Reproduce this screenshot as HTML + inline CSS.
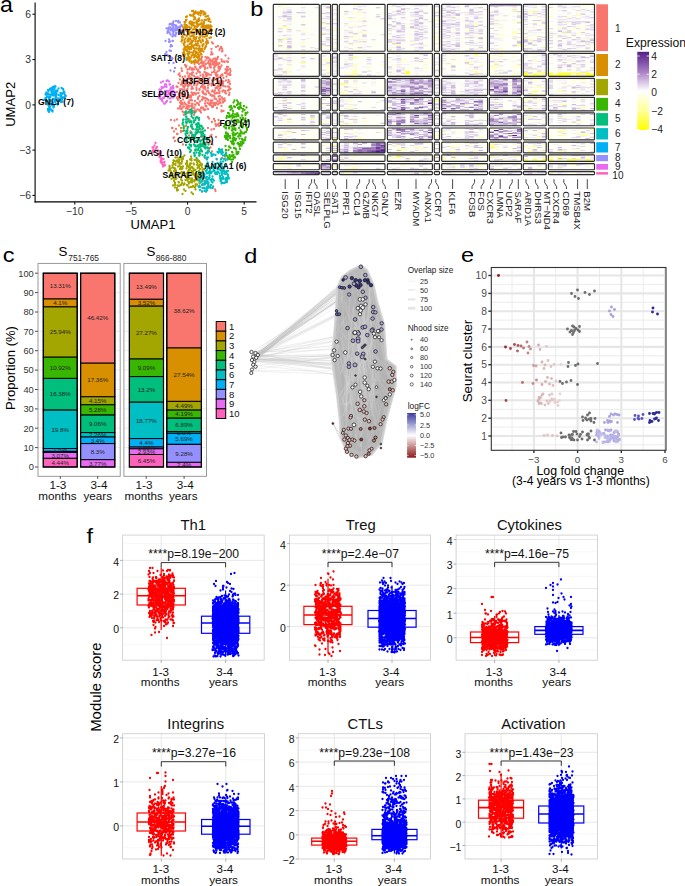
<!DOCTYPE html>
<html><head><meta charset="utf-8"><title>Figure</title>
<style>html,body{margin:0;padding:0;background:#fff;}body{width:685px;height:886px;overflow:hidden;font-family:"Liberation Sans",sans-serif;}svg{display:block;}</style>
</head><body>
<svg width="685" height="886" viewBox="0 0 685 886" font-family='"Liberation Sans", sans-serif'><text transform="translate(0 11.6) scale(1.03 1)" font-size="22.5">a</text>
<line x1="35.1" y1="2.5" x2="35.1" y2="202.4" stroke="#000" stroke-width="1.1"/>
<line x1="34.6" y1="201.9" x2="256.5" y2="201.9" stroke="#000" stroke-width="1.1"/>
<line x1="32.4" y1="14.2" x2="35" y2="14.2" stroke="#000" stroke-width="1"/>
<text x="31" y="17.8" font-size="10.3" text-anchor="end" fill="#333">6</text>
<line x1="32.4" y1="59.6" x2="35" y2="59.6" stroke="#000" stroke-width="1"/>
<text x="31" y="63.2" font-size="10.3" text-anchor="end" fill="#333">3</text>
<line x1="32.4" y1="104.9" x2="35" y2="104.9" stroke="#000" stroke-width="1"/>
<text x="31" y="108.5" font-size="10.3" text-anchor="end" fill="#333">0</text>
<line x1="32.4" y1="150.1" x2="35" y2="150.1" stroke="#000" stroke-width="1"/>
<text x="31" y="153.7" font-size="10.3" text-anchor="end" fill="#333">−3</text>
<line x1="32.4" y1="195.4" x2="35" y2="195.4" stroke="#000" stroke-width="1"/>
<text x="31" y="199" font-size="10.3" text-anchor="end" fill="#333">−6</text>
<line x1="74.8" y1="202" x2="74.8" y2="204.6" stroke="#000" stroke-width="1"/>
<text x="74.8" y="215" font-size="10.3" text-anchor="middle" fill="#333">−10</text>
<line x1="131.1" y1="202" x2="131.1" y2="204.6" stroke="#000" stroke-width="1"/>
<text x="131.1" y="215" font-size="10.3" text-anchor="middle" fill="#333">−5</text>
<line x1="187.6" y1="202" x2="187.6" y2="204.6" stroke="#000" stroke-width="1"/>
<text x="187.6" y="215" font-size="10.3" text-anchor="middle" fill="#333">0</text>
<line x1="244.2" y1="202" x2="244.2" y2="204.6" stroke="#000" stroke-width="1"/>
<text x="244.2" y="215" font-size="10.3" text-anchor="middle" fill="#333">5</text>
<text x="153" y="228.6" font-size="13.0" text-anchor="middle">UMAP1</text>
<text x="15.1" y="104.3" font-size="13.1" text-anchor="middle" transform="rotate(-90 15.1 104.3)">UMAP2</text>
<path d="M207.5 41h0m5.5 2.5h0m-1-1h0m-6.5 4.5h0m.5-.5h0m10 .5h0m2-1h0m3 1h0m1.5 3.5h0m-.5-2h0m-2 0h0m-.5 1.5h0m-8-1h0m0 3h0m10.5-.5h0m3.5 4h0m-13-1.5h0m-1.5 .5h0m-10 4.5h0m.5 0h0m.5-2h0m3.5 0h0m1.5 1.5h0m.5-1h0m1 .5h0m1.5 1.5h0m3.5-.5h0m1.5-.5h0m.5 .5h0m1.5-.5h0m.5 .5h0m.5-2h0m3.5 2.5h0m7-1h0m-.5 3.5h0m-1-.5h0m-2.5 .5h0m0-.5h0m-1.5 0h0m-1 0h0m-5.5 .5h0m-.5-1.5h0m-.5 2h0m-1-1h0m-1 1h0m-.5 0h0m0-.5h0m-1-1.5h0m-1 1h0m-.5-1h0m-2 .5h0m-3-.5h0m-1.5 2h0m-1.5-.5h0m-1-.5h0m0-1h0m-4.5 2h0m-12 2.5h0m9.5-1h0m3.5-1h0m1 1h0m2-1h0m1 0h0m.5 2.5h0m1-1.5h0m0 1.5h0m1 0h0m1.5-1.5h0m2-1h0m1 .5h0m.5 1.5h0m.5-1.5h0m.5 1h0m2-.5h0m1.5 1.5h0m.5-1.5h0m.5 0h0m1 .5h0m.5-1.5h0m0 2h0m1-1.5h0m1 1h0m1-1.5h0m2 2.5h0m6.5 1.5h0m-1 0h0m-6.5 0h0m-1 1.5h0m-.5-1.5h0m-.5 1h0m0-1h0m-3.5-.5h0m-1 1.5h0m-3-.5h0m-.5 0h0m0-1.5h0m-.5 .5h0m0-.5h0m-2.5 2h0m-2.5 0h0m0-.5h0m-.5-1h0m-.5 0h0m-3 .5h0m0-.5h0m-1 1.5h0m0-1h0m-4.5 0h0m-.5 0h0m-3 1.5h0m-2-1h0m-3.5-1.5h0m-.5 1h0m-4.5 1.5h0m.5 2.5h0m5.5-1.5h0m2-.5h0m2.5 1h0m1-1h0m1 .5h0m2.5-.5h0m1.5 1h0m0 1h0m0 .5h0m7-2.5h0m9.5 1h0m0 .5h0m3 1h0m1.5-1h0m1-1.5h0m5.5 .5h0m1 1.5h0m.5-2h0m0 2h0m0 .5h0m1-1.5h0m2-1h0m.5 2h0m-.5 2h0m-1 1.5h0m-1.5-.5h0m-1-2h0m-.5 1h0m-1 0h0m-2.5 1.5h0m-6.5-1.5h0m-.5 1.5h0m-1.5-2.5h0m-2 .5h0m-3 2h0m-1.5-1h0m-1.5-.5h0m-1.5-1h0m-1.5 2.5h0m-3-2h0m-.5-.5h0m-3 1.5h0m-3.5-1h0m-1 .5h0m-2 1h0m-2.5-.5h0m0-1h0m-8 1h0m-1 1h0m1.5 1.5h0m2.5 1h0m2.5-.5h0m3.5-.5h0m0 1.5h0m.5 0h0m.5-1h0m2.5-1.5h0m2 1h0m1.5 1.5h0m2-.5h0m3-1.5h0m2.5 1.5h0m.5-1h0m2.5-1h0m.5 1.5h0m1-1.5h0m3.5 0h0m5.5 0h0m0 1.5h0m1-1.5h0m2 2h0m1.5-1h0m.5-1h0m1 .5h0m4 1h0m3-1.5h0m1 0h0m-2 5h0m-2.5 .5h0m-2.5-2.5h0m-5.5 0h0m-.5 2.5h0m0-.5h0m-2.5-.5h0m-1.5 1h0m0-2.5h0m-1.5 2.5h0m-2.5-2.5h0m-1 2.5h0m-4-2.5h0m-3 1.5h0m-1.5-.5h0m-1 1.5h0m0-2.5h0m-1.5 0h0m-6 0h0m-.5 1h0m-1-1h0m-1.5 .5h0m-2.5 1.5h0m-.5 0h0m-1 .5h0m-4.5-1h0m-1.5 3.5h0m3.5-1h0m0 1.5h0m.5-2.5h0m.5 0h0m2.5 .5h0m.5 .5h0m.5 0h0m2.5 .5h0m1.5 0h0m1-.5h0m0 .5h0m3-1h0m0 1.5h0m0 .5h0m2.5-2.5h0m.5 1.5h0m.5-1h0m0 1h0m0 1h0m2-2.5h0m3 0h0m2 0h0m1 0h0m.5 1h0m5 1.5h0m6.5-1h0m.5-1h0m1.5 1.5h0m.5-2h0m.5 .5h0m.5-.5h0m1.5 2h0m.5-1.5h0m4.5 1h0m1.5-1h0m.5 2.5h0m-2 2.5h0m-2.5 0h0m-2-.5h0m-.5-2h0m-1 1.5h0m-1-.5h0m-.5-1h0m-.5 2.5h0m-1.5-1.5h0m-.5 1.5h0m-3-1.5h0m-1.5 0h0m-2 .5h0m-2.5-1.5h0m-1 1.5h0m-4-1h0m-1 .5h0m-.5 1.5h0m0-1.5h0m-.5 .5h0m-4.5-1.5h0m-1 1.5h0m-2.5-.5h0m-3-.5h0m-1 0h0m-.5 .5h0m-1.5 1.5h0m-.5-1h0m0-.5h0m-.5-.5h0m-2 1.5h0m0-2h0m-2 2h0m-.5-2h0m-1.5 .5h0m-4.5 2h0m1 .5h0m2.5 2.5h0m1.5-.5h0m2.5-1.5h0m3.5 1.5h0m4 0h0m.5-2h0m1 1.5h0m3.5-.5h0m3 1h0m1.5-2h0m2.5 .5h0m0 1h0m1.5-1.5h0m0 .5h0m.5 2h0m2.5-1.5h0m7.5 0h0m1.5-1h0m0 1h0m2.5 .5h0m1-.5h0m8.5-1h0m.5 1.5h0m0 .5h0m.5-.5h0m.5 .5h0m-1.5 1h0m-1 .5h0m-2.5 .5h0m-.5 1.5h0m-1.5-2h0m-1 1h0m0-.5h0m-3 .5h0m-1-1.5h0m-3.5 .5h0m-1 1.5h0m-1.5-1.5h0m-.5 1h0m-4-.5h0m-.5 0h0m-.5 .5h0m-4 .5h0m0-.5h0m-.5 1h0m0-1h0m-3-1.5h0m-3 0h0m-5 2.5h0m-4.5-1.5h0m-.5-.5h0m-2-.5h0m-.5 0h0m-.5 1h0m-.5-.5h0m-6 1.5h0m2 2.5h0m.5-1h0m0 2h0m1-2.5h0m1.5 1h0m.5 .5h0m.5 0h0m.5 1h0m4.5-2.5h0m0 2h0m2 .5h0m1 0h0m1-2.5h0m1 2h0m1-2h0m1 .5h0m.5 1h0m1-1h0m2-.5h0m5 .5h0m1 .5h0m1 0h0m.5 .5h0m3-1.5h0m1.5 1.5h0m0 .5h0m1.5 .5h0m1.5 0h0m1.5-2h0m1 0h0m1-.5h0m2 0h0m.5 0h0m6.5 .5h0m3 1.5h0m.5-2h0m-5 5.5h0m-2.5-1h0m-2-1.5h0m-1.5 .5h0m-4 2h0m0-2h0m-2.5-.5h0m-6.5 2h0m-1 .5h0m-1-.5h0m-.5-.5h0m-.5-.5h0m-3-1h0m-1.5 1.5h0m-7 0h0m0-.5h0m-2 .5h0m-.5-1.5h0m-.5 1h0m-1.5 1h0m-1.5-1.5h0m-1.5 0h0m-.5-.5h0m-.5 .5h0m-3.5 .5h0m-1.5 0h0m-.5 1h0m1 2h0m.5-.5h0m2.5 1.5h0m2-1.5h0m6.5 1h0m1.5-.5h0m1 .5h0m3 .5h0m3-2h0m2 2.5h0m2-1.5h0m.5-.5h0m3 1.5h0m1.5-2h0m1.5 1h0m0 .5h0m2.5 0h0m1.5 0h0m3.5-1.5h0m1.5 2h0m2-2h0m0 2.5h0m1-2h0m2 2h0m.5-2.5h0m1.5 2h0m.5-.5h0m-2 2h0m0-.5h0m-2.5 1h0m-1.5 .5h0m-1 1h0m-1.5-1.5h0m-1 0h0m-1.5 .5h0m-.5-.5h0m-2 0h0m-.5 0h0m-.5-.5h0m-.5 1h0m-1 .5h0m-1.5-1h0m-2.5 .5h0m-6.5 0h0m-1.5-.5h0m-2 1.5h0m-2.5-.5h0m-.5 0h0m-2.5-1h0m-1 0h0m0-1h0m-2.5 2.5h0m-1.5-1h0m0-1h0m-2 2h0m-.5-1.5h0m-1 1h0m-1-1.5h0m0 4h0m.5-.5h0m2 1.5h0m1.5-1h0m2.5 1h0m.5-1h0m1-1h0m.5 2h0m1.5-1.5h0m2-.5h0m0 1h0m.5-1h0m2 2h0m1-2.5h0m3.5 0h0m3 2.5h0m3.5-1.5h0m.5 0h0m.5 .5h0m3.5-1.5h0m1.5 .5h0m.5 .5h0m0 1h0m.5-.5h0m.5 .5h0m1-2h0m1.5 0h0m6 1h0m0 4.5h0m-4.5-2.5h0m-9 1h0m-2.5 .5h0m-1 .5h0m-1-.5h0m-.5-1.5h0m-2 0h0m-.5 2.5h0m-1 0h0m-.5-.5h0m-1.5-.5h0m-2 1h0m-.5 0h0m-1-2.5h0m-2 0h0m-2 2h0m-.5 0h0m-2-1h0m-1.5-.5h0m-4.5 .5h0m0-.5h0m-1 0h0m-.5 0h0m-2 0h0m4.5 3h0m1.5 1h0m2.5 .5h0m2-.5h0m1.5 0h0m.5-.5h0m3-1h0m1 .5h0m0 1.5h0m1.5-1.5h0m4-.5h0m1 1.5h0m20.5-1h0m2-.5h0m-29.5 4h0m-10 0h0m-7 4.5h0m12.5 0h0m18.5-2.5h0m1 1.5h0m5 .5h0m4.5 1h0m-3.5 1h0m-3 1h0m-23-2h0m-14.5 .5h0m-3.5-.5h0m8 5.5h0m36.5-1.5h0m1.5 1h0m1-.5h0m1-1h0m0 2.5h0m-3 0h0m-8 2h0m-16 .5h0m-8-1.5h0m-11.5 1h0m-.5 0h0m2 3.5h0m2-2.5h0m5 2h0m9.5 .5h0m10 0h0m1.5-2h0m9.5 0h0m2.5-.5h0m-12 4.5h0m-10.5 0h0m-10.5-1.5h0m-3.5 2h0m-.5 0h0m-3 3.5h0m15-2h0m13.5 2h0m7.5-1h0m1.5-1.5h0m4.5 2h0m-25 3h0m-17.5-2h0m1.5 3h0m33.5 2.5h0m2-2h0m2 3h0m-29.5 0h0m26 4h0m1.5-1h0m11.5 5h0m-10-1h0m-3.5-.5h0m-.5 0h0m-3 7h0m17 0h0m3 .5h0m-8 1h0m-18.5 20h0m8 0h0m-1.5 1.5h0m-1.5 4h0m.5-.5h0m4.5 1h0m4.5 2h0m-11 4h0m4 0h0m9-2h0m.5 1.5h0" stroke="#F8766D" stroke-width="2.3" stroke-linecap="round" fill="none"/>
<path d="M192 11h0m1 0h0m2.5 .5h0m5.5-.5h0m.5 .5h0m1.5 0h0m2.5 2h0m-.5 .5h0m-.5-1.5h0m-.5 1.5h0m-.5 .5h0m0-.5h0m-2-2h0m-.5 1.5h0m-1.5-1h0m-1 2h0m-.5-2h0m-.5 1h0m-.5-.5h0m-.5 0h0m-2 1h0m0-1.5h0m-.5 1.5h0m0-1h0m-.5 1.5h0m-7.5 2.5h0m1-.5h0m3-1.5h0m.5 .5h0m1 0h0m2 1h0m1.5 1h0m5.5-2h0m5 1h0m1 0h0m1.5-.5h0m1.5 3.5h0m-.5-1h0m-1 .5h0m-2 1h0m-1.5 0h0m-2.5 .5h0m-2.5 0h0m-.5-2h0m-.5 .5h0m-1.5 1.5h0m-2-1.5h0m-1 .5h0m-7.5 .5h0m-.5 0h0m-1.5 2h0m.5 .5h0m.5-.5h0m4 .5h0m0 1h0m.5-1.5h0m.5-.5h0m1.5 .5h0m1.5 1h0m2-.5h0m1.5-1h0m.5 .5h0m1-1h0m3 2h0m0 .5h0m2.5-1.5h0m0 1.5h0m4.5-2.5h0m2 1h0m1 4.5h0m-1 0h0m0-1h0m-1.5 1h0m-.5-1h0m-.5 1h0m-1-1h0m-2 1h0m0-.5h0m-1.5-.5h0m-.5 .5h0m-.5-.5h0m0-1.5h0m-.5 2.5h0m-2-2h0m-.5 0h0m-1.5 1.5h0m0-1.5h0m-1-.5h0m-.5 2.5h0m-1.5 0h0m-.5-.5h0m-1-1.5h0m-1 1h0m-1 0h0m0-1.5h0m-.5 0h0m-4 2h0m0-.5h0m-1 .5h0m0-1h0m-.5 1.5h0m-1-2h0m-2 2h0m1 1.5h0m.5 0h0m.5-.5h0m.5-.5h0m.5 1h0m1.5 0h0m2-1h0m1 1h0m0 .5h0m1-.5h0m2 1.5h0m1.5-2h0m0 1.5h0m.5 0h0m1.5 .5h0m.5-2.5h0m3 2.5h0m1.5-2.5h0m1.5 1h0m1-1h0m0 1h0m.5 0h0m0 .5h0m1-1h0m.5-.5h0m1 1h0m1-.5h0m.5 .5h0m1 0h0m.5 .5h0m1 .5h0m1 1.5h0m0-.5h0m-.5 .5h0m-.5-.5h0m-1 .5h0m-1.5 .5h0m-1 1h0m-2 .5h0m0-2.5h0m-2 .5h0m-2.5 2h0m-1-1.5h0m-1.5-.5h0m-1 1.5h0m0-1.5h0m-1.5 0h0m-2 2h0m-2.5-1h0m-.5 .5h0m-1.5 .5h0m-.5-2h0m-1.5 1h0m-.5-1.5h0m-1 .5h0m-3.5 1.5h0m-.5-1h0m3 4h0m3-1.5h0m1 0h0m0 1h0m1-1.5h0m2 .5h0m.5-.5h0m1.5 1h0m4.5-.5h0m1.5 1.5h0m.5 .5h0m2.5-1h0m1.5-1.5h0m.5 0h0m0 .5h0m2 0h0m0 2h0m1.5-2h0m2.5 4h0m-1.5 .5h0m-2.5-2h0m-1.5 0h0m-1 1h0m-2-.5h0m-2.5 1h0m-1 .5h0m-2.5-1h0m-1 1h0m-1.5-1.5h0m-.5 2h0m-.5-2.5h0m-1 0h0m-1.5 .5h0m-2 2h0m-1.5-2.5h0m-1.5 2.5h0m-2.5-1h0m-.5-1.5h0m-.5 1.5h0m0-.5h0m-.5 4.5h0m.5-1.5h0m0 .5h0m2.5-.5h0m0 1h0m3 0h0m0 .5h0m.5-2h0m.5 1.5h0m1-1.5h0m.5-.5h0m.5 .5h0m1.5 1.5h0m1 0h0m2-1.5h0m.5 2h0m.5-2.5h0m1.5 2.5h0m1-.5h0m1-1.5h0m0 .5h0m1 1h0m2-1.5h0m.5 1.5h0m3.5-2h0m0 2.5h0m1.5 1.5h0m-.5-1h0m-1 2h0m-.5-1.5h0m-2.5 2h0m0-.5h0m-2.5-1.5h0m-3 1h0m-.5 1h0m-1.5 0h0m0-.5h0m-4-1.5h0m-.5 1.5h0m0-1h0m-.5 .5h0m-.5-1h0m-1 1.5h0m-4.5-1.5h0m-1.5 1h0m.5 1.5h0m1 1.5h0m.5 .5h0m1.5 0h0m.5-1.5h0m0 2h0m1.5-.5h0m1.5 0h0m1-.5h0m.5-1h0m1 1h0m.5-.5h0m1-1h0m1.5 0h0m.5 .5h0m1 0h0m2 .5h0m0 1.5h0m3-2.5h0m0 1.5h0m3.5-.5h0m-1 2h0m-.5 1h0m-2.5 1.5h0m0-1.5h0m-1.5 1h0m0-.5h0m0-.5h0m-1.5-.5h0m-.5 1.5h0m0-1h0m-2-.5h0m-.5 0h0m-1.5 0h0m-.5 0h0m-2.5-.5h0m-.5 1h0m-1.5 .5h0m-.5-.5h0m-1-.5h0m-1 2h0m-.5-.5h0m-1 0h0m0-1.5h0m0-.5h0m-1 0h0m-.5 1.5h0m-.5 0h0m-.5 3.5h0m1-1h0m0 .5h0m3-1.5h0m.5 2.5h0m1-1h0m.5-.5h0m2 .5h0m2 .5h0m.5-1.5h0m1-.5h0m.5 .5h0m1 1.5h0m.5-1h0m1 1h0m2-1h0m1-1h0m.5 .5h0m2.5 0h0m-2 3h0m-1-.5h0m-1 2h0m-1-1h0m-.5-.5h0m-2 1h0m-1-1h0m-.5 2h0m-1.5-1.5h0m-1.5 .5h0m-2.5-1.5h0m-1 1h0m-3-.5h0m-.5 1.5h0m-1-.5h0m0-1.5h0m3 4h0m1.5-.5h0m0 2h0m.5-2.5h0m.5 0h0m1 2h0m.5-.5h0m1-1.5h0m2.5 .5h0m2.5-.5h0m1 0h0m.5 .5h0m0 1h0m1.5 0h0m0 1.5h0m-1 1h0m-1 .5h0m-2-.5h0m0-.5h0m0-.5h0m-.5 2.5h0m-1-.5h0m0-1h0m-1 1h0m-.5 0h0m-1-.5h0m-2 0h0m0-.5h0m0-1h0m-3 0h0m5 3h0m-134.5 28h0m124 37h0m3 0h0m2-2h0m-3 5h0" stroke="#D89000" stroke-width="2.3" stroke-linecap="round" fill="none"/>
<path d="M173 23h0m.5-1.5h0m2.5-.5h0m2 .5h0m.5-.5h0m0 1.5h0m1.5 0h0m1.5 3.5h0m0-1h0m-1.5 1.5h0m-4 0h0m0-.5h0m0-.5h0m-1 0h0m-.5-.5h0m-1.5-.5h0m-1 .5h0m-1-1h0m-1 0h0m-.5 .5h0m-3 4h0m2-.5h0m0 1h0m.5-1.5h0m1 0h0m.5 0h0m1 1.5h0m.5 .5h0m.5-.5h0m.5-2h0m.5 1h0m1 1.5h0m1.5-2.5h0m0 1h0m0 1h0m1 0h0m.5-2h0m1.5 .5h0m.5 1h0m.5-.5h0m.5 2h0m-1.5 2h0m-2-2h0m-1.5 .5h0m-2 1.5h0m0-.5h0m-1-.5h0m-2-1h0m-1 2.5h0m-1-1h0m-.5-.5h0m-.5 1h0m0 1h0m3 1.5h0m2.5-1h0m.5 1.5h0m1 .5h0m1.5-2.5h0m0 1h0m.5-1h0m2.5 1h0m2-1h0m-5.5 3h0m-3 .5h0m0-.5h0m-7 5h0m3.5-1.5h0m1 2h0m2.5-.5h0m.5 0h0m-4 1h0m1.5 4.5h0m.5-1.5h0m1 1h0m-2.5 4.5h0m-3 1.5h0m4.5-1h0m-3.5 4h0m-.5 .5h0m-1.5-1.5h0m-.5 .5h0m5.5 2.5h0m1.5 1h0m0 1.5h0m.5-1h0m1 4.5h0m-4.5 0h0m6 5h0m-1 3.5h0m-3.5-1h0m-104.5 25.5h0" stroke="#9590FF" stroke-width="2.3" stroke-linecap="round" fill="none"/>
<path d="M167.5 80.5h0m1.5 1h0m-2.5-.5h0m-3.5 .5h0m-2 1h0m3.5 4h0m.5-2h0m1 0h0m.5 2h0m3-2h0m.5 0h0m3 1.5h0m.5 2h0m-.5 .5h0m0-.5h0m-1 0h0m-1-.5h0m-.5 1h0m-4-1.5h0m-3 .5h0m-1.5 .5h0m0-.5h0m-.5-.5h0m-2 2.5h0m1 2h0m.5-1.5h0m0 .5h0m0 1.5h0m4-1h0m1.5 0h0m0 1.5h0m.5-.5h0m.5-.5h0m1-.5h0m2-1h0m.5 2h0m.5 .5h0m1-1.5h0m0 .5h0m1-.5h0m2 1.5h0m-.5 3h0m0-2h0m-.5 1h0m-.5 .5h0m-2-.5h0m-.5-1h0m-2.5 1h0m0-1.5h0m-2 2h0m-2-.5h0m-4 0h0m-.5-.5h0m-.5 1.5h0m-1 0h0m0-.5h0m0 2h0m0 .5h0m.5-1.5h0m.5 2h0m.5-2h0m2.5 2h0m1-.5h0m0 .5h0m4-.5h0m2 1h0m2-1h0m1.5 0h0m-6.5 3.5h0m-4.5 .5h0m-.5-1h0m0-1.5h0m-1.5 0h0m3.5 4.5h0m1 0h0m1-1.5h0m4.5 0h0" stroke="#E76BF3" stroke-width="2.3" stroke-linecap="round" fill="none"/>
<path d="M54.5 86.5h0m.5 0h0m.5 0h0m7.5 2.5h0m-1.5-1h0m-3 .5h0m-4 .5h0m0-1h0m-1.5 1.5h0m0-2.5h0m-1 2h0m0-1h0m-1.5 .5h0m-.5 1h0m0-.5h0m-3.5 3.5h0m1.5-2.5h0m.5 1h0m3 0h0m0 1h0m2-.5h0m2-.5h0m1 .5h0m.5-1h0m.5 .5h0m6-.5h0m1 2h0m.5 2.5h0m-1-2h0m-.5 0h0m-.5 .5h0m-1 0h0m-.5 1.5h0m-1-1.5h0m0-.5h0m-2 2h0m-2-1.5h0m-.5 1.5h0m0-.5h0m-.5-.5h0m-.5-1h0m-.5 2.5h0m0-2.5h0m-1 2h0m0-2h0m-.5 2.5h0m0-1.5h0m-1 0h0m-1 1h0m-1-.5h0m-1 0h0m-1-1h0m-.5 .5h0m-1 .5h0m-.5-1h0m-.5 1h0m0 3.5h0m.5 0h0m1-1.5h0m1.5 .5h0m0 .5h0m1-.5h0m1 0h0m5.5-.5h0m0 1h0m2 1h0m2.5-2.5h0m0 1.5h0m0 .5h0m1 .5h0m.5-1h0m.5 0h0m.5 0h0m1 0h0m0 .5h0m1-1h0m-2.5 4.5h0m-.5-2h0m-.5 1.5h0m-.5 0h0m-.5-1.5h0m-1 1.5h0m0-1.5h0m-.5 1h0m-2.5-.5h0m-1-.5h0m-.5 0h0m-.5 2h0m0-2h0m-1-.5h0m-.5 0h0m-2.5 2h0m-1-2h0m-.5 2.5h0m0-2h0m-2 2h0m-1.5-1h0m-.5-1h0m-.5 0h0m3 4.5h0m1.5-.5h0m1 1h0m1-.5h0m.5 .5h0m1 0h0m.5-1.5h0m2.5-1h0m.5 2h0m1.5 .5h0m.5-.5h0m3-2h0m.5 0h0m-7.5 4.5h0m0-.5h0m-.5 1.5h0m-1-2h0m-2.5 1.5h0m-.5 0h0m0-2h0m-.5 .5h0m0-.5h0m-.5 .5h0m-.5 3.5h0m0 .5h0m0 .5h0m.5-.5h0m.5-1h0m0 1.5h0m.5-2h0m0 1h0m1 .5h0m.5 0h0m.5 1h0m1 0h0m0 1h0m-3.5 .5h0m0-1h0m-.5 .5h0" stroke="#00B0F6" stroke-width="2.3" stroke-linecap="round" fill="none"/>
<path d="M190.5 110h0m0 .5h0m1-1h0m3 3h0m-2.5 .5h0m0-2h0m-1 1.5h0m-2.5-.5h0m-2 1.5h0m-.5-2h0m-.5 1h0m0-.5h0m0 2h0m.5 2.5h0m5.5-2h0m0 2h0m7.5 1.5h0m-1 0h0m-1-.5h0m-.5-.5h0m-1 1h0m-2.5 0h0m-5 1h0m-1.5-2h0m-.5 2.5h0m-2.5 0h0m-.5 .5h0m0 2.5h0m3-.5h0m1.5-.5h0m1.5 0h0m1 1h0m.5-1h0m.5 0h0m.5 0h0m0 .5h0m2.5-1.5h0m0 .5h0m0 1.5h0m1.5-2.5h0m3.5 0h0m.5 5.5h0m-.5-1h0m-.5-1.5h0m-1 .5h0m-.5 2h0m-1-1h0m-4 0h0m-.5 1h0m-.5 0h0m-4.5-2h0m-3 2h0m-1-1.5h0m1 4h0m4 .5h0m.5-1.5h0m3-.5h0m.5-.5h0m.5 1h0m5 0h0m0 .5h0m2-.5h0m.5 1h0m1.5-2h0m.5 0h0m1 1.5h0m.5 1h0m2 2h0m-2 1h0m-3-2.5h0m-1.5 .5h0m-1 2h0m-.5-1.5h0m-1.5-.5h0m-2.5-.5h0m-5.5 1.5h0m-1 .5h0m-.5 .5h0m-2-1h0m1.5 3.5h0m1.5-.5h0m.5-.5h0m3 0h0m1-.5h0m4 0h0m.5 0h0m0 1.5h0m1-1h0m1.5-1h0m2 .5h0m.5-.5h0m.5 2.5h0m.5-2h0m1 1h0m1.5 3h0m0-1.5h0m-2 1h0m-1.5 .5h0m-6-.5h0m-.5-1h0m-.5 1.5h0m0-.5h0m-.5-1h0m-1 0h0m-.5 1h0m-5 1h0m-1-1h0m0 2h0m0 1h0m.5 1h0m2.5-2h0m.5 0h0m1 0h0m0 2.5h0m2.5-2h0m1.5-.5h0m3 .5h0m2 2h0m2 0h0m1.5-1h0m2-.5h0m.5-.5h0m0 .5h0m1.5-1h0m1.5 1h0m-3 4.5h0m0-.5h0m-2 .5h0m0-1h0m-.5 1h0m-2.5 0h0m0-2.5h0m-4 1h0m0-1h0m-1.5 0h0m-8.5 1h0m-.5 3h0m3.5-.5h0m.5 1h0m1-.5h0m0 1.5h0m3-2h0m.5 1h0m1 0h0m0 1h0m1.5 0h0m1-1h0m1.5-1h0m1 1.5h0m.5-1.5h0m0 2h0m.5-.5h0m1-1h0m0 1h0m.5-1.5h0m.5 2h0m2-2.5h0m0 1.5h0m3-1h0m.5 4h0m-1 0h0m-.5-1h0m-2 1h0m0-.5h0m0-.5h0m-.5 .5h0m-4 1.5h0m-1.5-2h0m-.5 0h0m-1 2h0m-1.5 0h0m-1 0h0m-6-.5h0m-.5-1h0m-.5 0h0m-.5-.5h0m2 4.5h0m1-1.5h0m4 0h0m1.5 2h0m1.5-2.5h0m2 1h0m1.5-.5h0m.5 1h0m5.5 0h0m1.5 0h0m-4 4h0m-2.5-.5h0m-2.5-1.5h0m-.5 2h0m0-.5h0m-.5 .5h0m0-2.5h0m-4 2.5h0m-.5-1.5h0m-.5-1h0m.5 3h0m2 2h0m8-1h0" stroke="#00BF7D" stroke-width="2.3" stroke-linecap="round" fill="none"/>
<path d="M234.5 100.5h0m2.5 0h0m3.5 2.5h0m-.5 1h0m-2 0h0m0-2h0m-4.5 .5h0m-4 4.5h0m.5-.5h0m1-.5h0m3 .5h0m.5 0h0m.5 .5h0m2-2h0m2 2.5h0m.5-.5h0m1-1.5h0m.5 2h0m3-1.5h0m2.5 1.5h0m-2 2.5h0m-1.5-1h0m-2-1h0m-2 1h0m-1-1h0m-6 .5h0m-.5-.5h0m-1 2h0m-2.5 3h0m1 .5h0m4-2.5h0m0 2.5h0m4 0h0m.5 0h0m5-2h0m3 1.5h0m.5 .5h0m1.5-1h0m-2 2.5h0m-3.5 .5h0m-3.5 .5h0m-.5-1h0m-.5 .5h0m-.5 0h0m-.5 1h0m-1.5-2h0m-2 1.5h0m-1-.5h0m-.5 0h0m-1 1h0m-1-1h0m-2.5 1h0m0-.5h0m-.5 2h0m2.5-1h0m.5 0h0m3 1h0m2-1h0m6 1h0m2.5 0h0m0 1.5h0m2.5-1h0m3 2h0m-.5 .5h0m-1.5 1h0m-1.5-2h0m-3.5 0h0m-.5 2h0m-2 0h0m-.5-1.5h0m-1-.5h0m-.5 2.5h0m-.5-2.5h0m-2 .5h0m0-.5h0m-.5 1h0m-2.5-.5h0m-5.5 1.5h0m-1 3h0m1-2h0m.5 2.5h0m3-2.5h0m4.5 1h0m0 1h0m7-2h0m0 .5h0m1-.5h0m4 2h0m1 3.5h0m-1-2h0m-3-.5h0m-.5 1.5h0m-1-1h0m-1-.5h0m-1.5 2h0m-3.5 .5h0m-1.5-2h0m-1.5 0h0m-1 0h0m-2.5 2h0m0-1h0m-3 1h0m0-.5h0m-.5 0h0m-1.5-1.5h0m8 4h0m.5-1.5h0m1.5 0h0m0 .5h0m1.5 .5h0m5 .5h0m6.5-1h0m0 .5h0m-1 2h0m-1.5 .5h0m-.5 1h0m-2 0h0m-.5-1.5h0m-.5 .5h0m-.5 .5h0m-.5 1h0m-.5 .5h0m-2-1.5h0m-1.5 1h0m-1.5 .5h0m-1-2h0m-1 1h0m-4.5 .5h0m-.5-.5h0m-.5 .5h0m-1-.5h0m0-1h0m-1 3.5h0m0 .5h0m0 .5h0m1.5 .5h0m.5-1.5h0m0 1.5h0m1-2.5h0m1 1.5h0m1-.5h0m3-.5h0m.5 2h0m1.5-2.5h0m3 1.5h0m1-1h0m1.5 .5h0m5 1.5h0m-.5 2.5h0m0-.5h0m-.5 1h0m-2-1h0m-.5-.5h0m-2.5-.5h0m-3.5 .5h0m-.5 1.5h0m-1-1h0m0-1.5h0m-.5 2h0m-1-1h0m-.5-.5h0m-2.5-.5h0m-2 2h0m-.5-1.5h0m-1-.5h0m-.5 1h0m5 2.5h0m1 2h0m.5 0h0m.5-2.5h0m0 .5h0m1 2h0m3.5 0h0m.5-.5h0m2.5-1h0m2-1h0m0 2h0m1 0h0m-1.5 1h0m-.5 1.5h0m-1.5-1.5h0m-.5 2.5h0m0-1.5h0m-.5-.5h0m-5.5 0h0m-4.5 2h0m-3.5-.5h0m4 1h0m1 1h0m3.5 0h0m1.5 .5h0m.5 1h0m4-.5h0m-1.5 3h0m-2 0h0m-4 .5h0m-.5-.5h0m-3.5-2h0m-2.5 .5h0m0-.5h0m-1 5h0m1-1.5h0m.5 2h0m3-.5h0m2.5 .5h0m1.5-.5h0m3-1h0m1 0h0m.5-.5h0m-3 4h0m-.5-.5h0m-1 1h0m-1-2h0m-1.5 .5h0m-1 .5h0m-2 .5h0m-.5-1h0m0 2.5h0m2 0h0m1.5 .5h0m2 0h0m-1 2.5h0" stroke="#39B600" stroke-width="2.3" stroke-linecap="round" fill="none"/>
<path d="M184.5 155.5h0m7 3h0m-.5-2h0m-8 .5h0m-2 .5h0m-.5 0h0m-3 0h0m-2 0h0m-2 3h0m.5 .5h0m.5 0h0m1.5 .5h0m1-1h0m2-1h0m0 2h0m.5-1.5h0m2.5-.5h0m0 2h0m1-2.5h0m4 2h0m3-1.5h0m1.5 1h0m3-.5h0m1.5 0h0m1 .5h0m.5-1h0m.5 1h0m1 .5h0m3 3.5h0m-.5-.5h0m-1.5-1.5h0m-2.5 1.5h0m0-2h0m-.5 0h0m-3 2.5h0m-.5-1h0m-2.5 0h0m-1 0h0m-3 1h0m0-.5h0m0-1.5h0m0-.5h0m-.5 1h0m-.5 1h0m-4.5-.5h0m-1.5-.5h0m-.5 1.5h0m-1.5-2h0m-2.5 1.5h0m-2 0h0m-.5-1h0m-3.5 3h0m0 .5h0m3-1h0m0 2h0m3-2.5h0m2.5 1.5h0m2 0h0m1.5 .5h0m1.5-.5h0m4 0h0m1.5-.5h0m.5 1.5h0m.5 0h0m.5-2.5h0m1 2.5h0m1-.5h0m.5 .5h0m4.5-2.5h0m1.5 1h0m.5 1.5h0m1-2.5h0m0 .5h0m1.5 0h0m.5 2h0m2.5 2h0m-.5-.5h0m-1.5 1h0m-2.5-1h0m-2.5-1h0m-2 2h0m-1.5 .5h0m-.5-1.5h0m0-.5h0m-1-.5h0m-2.5 1.5h0m-1 .5h0m-2.5-1.5h0m-4 0h0m-1 .5h0m-.5-1h0m-1 1h0m-4.5 .5h0m-.5 1h0m0-2h0m-1-.5h0m-3.5 .5h0m-.5 2h0m-.5-1.5h0m0-.5h0m-1 2h0m2.5 1h0m1.5 2h0m1.5-2.5h0m1.5 2.5h0m.5-2.5h0m.5 2.5h0m.5-.5h0m0 .5h0m3.5-.5h0m1-1h0m.5 .5h0m1.5 1h0m.5-1.5h0m2.5 1.5h0m1.5-2h0m.5-.5h0m0 .5h0m.5 1.5h0m2.5-2h0m1 1.5h0m.5-1h0m0 1.5h0m2.5 .5h0m.5-.5h0m2.5-1.5h0m.5-.5h0m.5 2h0m1.5-.5h0m1.5 4h0m0-.5h0m-1-.5h0m-2.5-.5h0m-.5 .5h0m0-.5h0m0-.5h0m-1 1h0m-1.5 .5h0m0-2h0m-1.5 1.5h0m-.5-1h0m-2 0h0m0-.5h0m-1.5 .5h0m-3.5 2h0m-2-.5h0m-1-1h0m-1 0h0m-.5 0h0m-5.5 .5h0m0-1h0m-2.5 1h0m-2.5 .5h0m-1-1.5h0m-1 2h0m1.5 2.5h0m2-1h0m1 .5h0m0 .5h0m1.5 0h0m.5-.5h0m4.5-1.5h0m0 2.5h0m6-1h0m.5-1h0m1-.5h0m0 2h0m.5-1.5h0m1 1h0m1.5 .5h0m.5-.5h0m3.5-1h0m0 2h0m1-1.5h0m0 1h0m.5-2h0m0 1h0m.5 .5h0m2.5 0h0m4-1.5h0m-1.5 3.5h0m-1 .5h0m-3-1h0m-.5 .5h0m-1-.5h0m-2 0h0m-.5 1.5h0m-1-1h0m-1.5 2h0m0-2h0m-1 .5h0m-.5 1h0m-2 0h0m-1-1.5h0m-2-.5h0m-3.5 .5h0m-3 2h0m-.5-.5h0m-3.5 .5h0m-1-1.5h0m-1 4.5h0m2-1.5h0m0 1h0m2.5 .5h0m3-.5h0m.5 0h0m1-2h0m1.5 1.5h0m0 .5h0m1-1.5h0m0 .5h0m2.5 1h0m.5 .5h0m1.5-2h0m6.5 1h0m.5 0h0m1 0h0m2.5-1.5h0m0 .5h0m-1 3h0m-3-.5h0m-.5 1.5h0m0-.5h0m-2-.5h0m0-.5h0m-1 1h0m-1 0h0m-2 .5h0m-10-1.5h0m-2 2h0m-2-.5h0m2 2h0m0 1h0m1-.5h0m6-.5h0m1.5 1.5h0m10-1.5h0m-2.5 4.5h0m-1.5-1.5h0m-9 1.5h0" stroke="#A3A500" stroke-width="2.3" stroke-linecap="round" fill="none"/>
<path d="M219 149h0m3 .5h0m1 3h0m-1-2h0m-1.5 1.5h0m-.5-2h0m-.5 1h0m0-.5h0m-.5 1h0m-1.5 .5h0m-9.5 0h0m-2 1h0m1.5 .5h0m3.5-.5h0m.5 1.5h0m1 0h0m0 1h0m1-1h0m2 .5h0m3-2h0m3 1h0m1.5 1.5h0m3-2.5h0m-1 3h0m-13.5 0h0m-3.5 1.5h0m-1 0h0m-.5 1.5h0m.5 0h0m0 .5h0m9.5-.5h0m4.5 0h0m0 .5h0m2 2h0m1-2.5h0m1.5 1.5h0m2-1h0m-6 4h0m-1-1h0m0-.5h0m-1 2.5h0m-2-1.5h0m-2 1h0m-1 .5h0m-2-2.5h0m-4.5 1.5h0m-.5-1h0m-2 3.5h0m1.5 .5h0m1-.5h0m3.5 1h0m2 0h0m4 .5h0m1.5-2.5h0m2.5 0h0m.5 2h0m.5 .5h0m2 0h0m1-2.5h0m-2 4.5h0m-1-1h0m-1.5 2h0m-1.5-1h0m-2 0h0m-3 1h0m0-2.5h0m-.5 2.5h0m-.5-1h0m-3-1h0m-.5 1.5h0m-.5-2h0m-2 0h0m-.5 2h0m-8 2.5h0m4 .5h0m.5 0h0m2.5-2h0m.5 2h0m.5 0h0m0 .5h0m.5-.5h0m1.5-1h0m.5 1.5h0m.5-2.5h0m0 2.5h0m.5-1h0m1-.5h0m0 1h0m2-2h0m1 0h0m.5 2h0m.5 .5h0m1-1h0m0 1h0m1.5-1.5h0m1.5 1.5h0m2-2h0m0 .5h0m.5-1h0m0 .5h0m.5 0h0m1.5-.5h0m.5 1h0m0 1h0m2-2h0m0 .5h0m0 .5h0m.5-.5h0m1-.5h0m0 5.5h0m0-1.5h0m-.5-.5h0m-.5-.5h0m-2 0h0m-2.5 0h0m-.5 1h0m0-.5h0m0-.5h0m-2 2.5h0m0-.5h0m-3-2h0m-1.5 0h0m-3 2.5h0m-3-1h0m-5-.5h0m-1.5 1.5h0m0-2h0m-3.5 0h0m.5 3h0m0 2h0m.5-1h0m.5-1h0m0 .5h0m1.5 0h0m.5 0h0m1-.5h0m1 0h0m1.5 1h0m.5-1.5h0m2 1h0m0 .5h0m.5-1h0m2.5 1.5h0m0 .5h0m1 0h0m7-1h0m1-.5h0m.5 0h0m1.5-1h0m0 2h0m.5-.5h0m2 1h0m.5-1.5h0m0 1h0m.5-1h0m.5 0h0m.5 .5h0m1-1h0m0 .5h0m.5 .5h0m-2 3.5h0m0-2h0m-.5 2h0m-.5-.5h0m0-1h0m-1 2h0m-3.5-.5h0m-.5-2h0m-.5 1h0m-6.5-.5h0m-1.5 2h0m-.5-.5h0m-1-1.5h0m0-.5h0m-.5 0h0m-2 2.5h0m-1-.5h0m0-.5h0m0-1.5h0m-1 2h0m-.5 0h0m-.5 .5h0m-1-.5h0m0-.5h0m-2.5-.5h0m-1 1.5h0m-1.5-1.5h0m2.5 4h0m1-1h0m2-1h0m0 1.5h0m1.5-1.5h0m1.5 1.5h0m.5-.5h0m2.5 1h0m10.5-1.5h0m2-.5h0m1 0h0m-11.5 3.5h0m-.5 1.5h0m-2 0h0m-.5-1h0m-1.5-.5h0m-.5 1.5h0m-1-1h0m-2 1.5h0m-1-.5h0m-1.5 0h0m-2.5-1h0m-.5-1h0m-.5 1h0m1 3h0m2 1.5h0m2.5-.5h0m1.5 .5h0m.5-2.5h0m.5 1.5h0" stroke="#00BFC4" stroke-width="2.3" stroke-linecap="round" fill="none"/>
<path d="M155.5 143h0m-1 2.5h0m-2 2h0m1 0h0m2.5 1h0m1-1.5h0m4 5h0m-3-1.5h0m-2.5 0h0m-2-.5h0m-.5 2.5h0m0-2h0m4.5 4h0m1.5-1h0m2 0h0m.5 5h0m-.5-1.5h0m-1-.5h0m-.5 .5h0m1 4.5h0m.5-2h0m0 1h0m.5-.5h0m0 .5h0m2-1.5h0m1 5.5h0m0-2.5h0m-2 2.5h0m0-2h0m-1 0h0m-.5 0h0m2 4h0m.5-1h0m1.5 0h0" stroke="#FF62BC" stroke-width="2.3" stroke-linecap="round" fill="none"/>
<text x="177.8" y="35.3" font-size="8.6" font-weight="bold">MT−ND4 (2)</text>
<text x="150.8" y="61.3" font-size="8.6" font-weight="bold">SAT1 (8)</text>
<text x="182.2" y="83.9" font-size="8.6" font-weight="bold">H3F3B (1)</text>
<text x="141.6" y="96.6" font-size="8.6" font-weight="bold">SELPLG (9)</text>
<text x="38" y="104.9" font-size="8.6" font-weight="bold">GNLY (7)</text>
<text x="219.6" y="125.8" font-size="8.6" font-weight="bold">FOS (4)</text>
<text x="177" y="142.9" font-size="8.6" font-weight="bold">CCR7 (5)</text>
<text x="140.4" y="156.2" font-size="8.6" font-weight="bold">OASL (10)</text>
<text x="204.3" y="169" font-size="8.6" font-weight="bold">ANXA1 (6)</text>
<text x="162.4" y="178.2" font-size="8.6" font-weight="bold">SARAF (3)</text>
<text transform="translate(250.3 16.4) scale(1.12 1)" font-size="21">b</text>
<rect x="273.3" y="4.3" width="46" height="46.9" fill="#fffff9"/>
<rect x="321.1" y="4.3" width="9.5" height="46.9" fill="#ffffff"/>
<rect x="332.3" y="4.3" width="5.1" height="46.9" fill="#ffffff"/>
<rect x="339.3" y="4.3" width="45.7" height="46.9" fill="#fffff9"/>
<rect x="387.4" y="4.3" width="45" height="46.9" fill="#ffffff"/>
<rect x="434.3" y="4.3" width="5.2" height="46.9" fill="#ffffff"/>
<rect x="441.7" y="4.3" width="45.9" height="46.9" fill="#ffffff"/>
<rect x="489.4" y="4.3" width="32.1" height="46.9" fill="#fffff9"/>
<rect x="523.3" y="4.3" width="22.9" height="46.9" fill="#ffffff"/>
<rect x="548.4" y="4.3" width="46.1" height="46.9" fill="#ffffff"/>
<rect x="273.3" y="53.3" width="46" height="23.1" fill="#fffff9"/>
<rect x="321.1" y="53.3" width="9.5" height="23.1" fill="#fffff9"/>
<rect x="332.3" y="53.3" width="5.1" height="23.1" fill="#f2eef6"/>
<rect x="339.3" y="53.3" width="45.7" height="23.1" fill="#fffff9"/>
<rect x="387.4" y="53.3" width="45" height="23.1" fill="#fffff9"/>
<rect x="434.3" y="53.3" width="5.2" height="23.1" fill="#ffffff"/>
<rect x="441.7" y="53.3" width="45.9" height="23.1" fill="#fffff9"/>
<rect x="489.4" y="53.3" width="32.1" height="23.1" fill="#fffff9"/>
<rect x="523.3" y="53.3" width="22.9" height="23.1" fill="#ffffff"/>
<rect x="548.4" y="53.3" width="46.1" height="23.1" fill="#fffff9"/>
<rect x="273.3" y="78.4" width="46" height="16.9" fill="#fffff9"/>
<rect x="321.1" y="78.4" width="9.5" height="16.9" fill="#cdbcdb"/>
<rect x="332.3" y="78.4" width="5.1" height="16.9" fill="#ffffff"/>
<rect x="339.3" y="78.4" width="45.7" height="16.9" fill="#fffff9"/>
<rect x="387.4" y="78.4" width="45" height="16.9" fill="#cdbcdb"/>
<rect x="434.3" y="78.4" width="5.2" height="16.9" fill="#f2eef6"/>
<rect x="441.7" y="78.4" width="45.9" height="16.9" fill="#f2eef6"/>
<rect x="489.4" y="78.4" width="32.1" height="16.9" fill="#cdbcdb"/>
<rect x="523.3" y="78.4" width="22.9" height="16.9" fill="#fffff9"/>
<rect x="548.4" y="78.4" width="46.1" height="16.9" fill="#fffff9"/>
<rect x="273.3" y="97.3" width="46" height="13.5" fill="#fffff9"/>
<rect x="321.1" y="97.3" width="9.5" height="13.5" fill="#fffff9"/>
<rect x="332.3" y="97.3" width="5.1" height="13.5" fill="#f2eef6"/>
<rect x="339.3" y="97.3" width="45.7" height="13.5" fill="#fffff9"/>
<rect x="387.4" y="97.3" width="45" height="13.5" fill="#e1d7ea"/>
<rect x="434.3" y="97.3" width="5.2" height="13.5" fill="#f2eef6"/>
<rect x="441.7" y="97.3" width="45.9" height="13.5" fill="#e1d7ea"/>
<rect x="489.4" y="97.3" width="32.1" height="13.5" fill="#ffffff"/>
<rect x="523.3" y="97.3" width="22.9" height="13.5" fill="#ffffff"/>
<rect x="548.4" y="97.3" width="46.1" height="13.5" fill="#ffffff"/>
<rect x="273.3" y="112.9" width="46" height="12.8" fill="#fffff9"/>
<rect x="321.1" y="112.9" width="9.5" height="12.8" fill="#ffffff"/>
<rect x="332.3" y="112.9" width="5.1" height="12.8" fill="#f2eef6"/>
<rect x="339.3" y="112.9" width="45.7" height="12.8" fill="#fffff9"/>
<rect x="387.4" y="112.9" width="45" height="12.8" fill="#e1d7ea"/>
<rect x="434.3" y="112.9" width="5.2" height="12.8" fill="#ffffff"/>
<rect x="441.7" y="112.9" width="45.9" height="12.8" fill="#ffffff"/>
<rect x="489.4" y="112.9" width="32.1" height="12.8" fill="#e1d7ea"/>
<rect x="523.3" y="112.9" width="22.9" height="12.8" fill="#ffffff"/>
<rect x="548.4" y="112.9" width="46.1" height="12.8" fill="#fffff9"/>
<rect x="273.3" y="128" width="46" height="11.9" fill="#fffff9"/>
<rect x="321.1" y="128" width="9.5" height="11.9" fill="#f2eef6"/>
<rect x="332.3" y="128" width="5.1" height="11.9" fill="#ffffff"/>
<rect x="339.3" y="128" width="45.7" height="11.9" fill="#fffff9"/>
<rect x="387.4" y="128" width="45" height="11.9" fill="#e1d7ea"/>
<rect x="434.3" y="128" width="5.2" height="11.9" fill="#fffff9"/>
<rect x="441.7" y="128" width="45.9" height="11.9" fill="#ffffff"/>
<rect x="489.4" y="128" width="32.1" height="11.9" fill="#e1d7ea"/>
<rect x="523.3" y="128" width="22.9" height="11.9" fill="#ffffff"/>
<rect x="548.4" y="128" width="46.1" height="11.9" fill="#fffff9"/>
<rect x="273.3" y="142.1" width="46" height="10.7" fill="#fffff9"/>
<rect x="321.1" y="142.1" width="9.5" height="10.7" fill="#fffff9"/>
<rect x="332.3" y="142.1" width="5.1" height="10.7" fill="#fffff9"/>
<rect x="339.3" y="142.1" width="45.7" height="10.7" fill="#b7a0cc"/>
<rect x="387.4" y="142.1" width="45" height="10.7" fill="#fffff9"/>
<rect x="434.3" y="142.1" width="5.2" height="10.7" fill="#f2eef6"/>
<rect x="441.7" y="142.1" width="45.9" height="10.7" fill="#fffff9"/>
<rect x="489.4" y="142.1" width="32.1" height="10.7" fill="#fffff9"/>
<rect x="523.3" y="142.1" width="22.9" height="10.7" fill="#fffff9"/>
<rect x="548.4" y="142.1" width="46.1" height="10.7" fill="#fffff9"/>
<rect x="273.3" y="154.8" width="46" height="6.5" fill="#fffff9"/>
<rect x="321.1" y="154.8" width="9.5" height="6.5" fill="#fffff9"/>
<rect x="332.3" y="154.8" width="5.1" height="6.5" fill="#a081bc"/>
<rect x="339.3" y="154.8" width="45.7" height="6.5" fill="#fffff9"/>
<rect x="387.4" y="154.8" width="45" height="6.5" fill="#fffff9"/>
<rect x="434.3" y="154.8" width="5.2" height="6.5" fill="#f2eef6"/>
<rect x="441.7" y="154.8" width="45.9" height="6.5" fill="#fffff9"/>
<rect x="489.4" y="154.8" width="32.1" height="6.5" fill="#fffff9"/>
<rect x="523.3" y="154.8" width="22.9" height="6.5" fill="#fffff9"/>
<rect x="548.4" y="154.8" width="46.1" height="6.5" fill="#fffff9"/>
<rect x="273.3" y="163.6" width="46" height="6.1" fill="#fffff9"/>
<rect x="321.1" y="163.6" width="9.5" height="6.1" fill="#b7a0cc"/>
<rect x="332.3" y="163.6" width="5.1" height="6.1" fill="#ffffff"/>
<rect x="339.3" y="163.6" width="45.7" height="6.1" fill="#fffff9"/>
<rect x="387.4" y="163.6" width="45" height="6.1" fill="#fffff9"/>
<rect x="434.3" y="163.6" width="5.2" height="6.1" fill="#f2eef6"/>
<rect x="441.7" y="163.6" width="45.9" height="6.1" fill="#ffffff"/>
<rect x="489.4" y="163.6" width="32.1" height="6.1" fill="#ffffff"/>
<rect x="523.3" y="163.6" width="22.9" height="6.1" fill="#fffff9"/>
<rect x="548.4" y="163.6" width="46.1" height="6.1" fill="#fffff9"/>
<rect x="273.3" y="171.6" width="46" height="3" fill="#b7a0cc"/>
<rect x="321.1" y="171.6" width="9.5" height="3" fill="#cdbcdb"/>
<rect x="332.3" y="171.6" width="5.1" height="3" fill="#f2eef6"/>
<rect x="339.3" y="171.6" width="45.7" height="3" fill="#fffff9"/>
<rect x="387.4" y="171.6" width="45" height="3" fill="#fffff9"/>
<rect x="434.3" y="171.6" width="5.2" height="3" fill="#fffff9"/>
<rect x="441.7" y="171.6" width="45.9" height="3" fill="#fffff9"/>
<rect x="489.4" y="171.6" width="32.1" height="3" fill="#f2eef6"/>
<rect x="523.3" y="171.6" width="22.9" height="3" fill="#e1d7ea"/>
<rect x="548.4" y="171.6" width="46.1" height="3" fill="#ffffff"/>
<path d="M275.6 9.3v1M275.6 11.3v1M275.6 18.3v1M275.6 28.2v1M275.6 34.2v1M275.6 43.2v1M275.6 47.2v1M280.2 8.3v1M280.2 10.3v1M280.2 12.3v1M280.2 15.3v1M280.2 24.3v1M280.2 27.3v1M280.2 42.2v2M284.8 5.3v1M284.8 21.3v1M284.8 30.2v3M284.8 36.2v1M284.8 50.2v1M289.4 36.2v1M294 4.3v1M294 7.3v1M294 13.3v1M294 17.3v2M294 23.3v1M294 28.2v1M294 31.2v1M294 38.2v1M294 42.2v1M294 46.2v1M294 50.2v1M298.6 7.3v1M298.6 15.3v1M298.6 27.3v1M298.6 36.2v1M298.6 50.2v1M303.2 9.3v1M303.2 13.3v1M303.2 23.3v1M303.2 29.2v2M303.2 48.2v1M303.2 50.2v1M307.8 7.3v1M307.8 23.3v1M307.8 27.3v1M307.8 30.2v1M307.8 32.2v1M307.8 35.2v1M307.8 48.2v1M312.4 7.3v1M312.4 11.3v1M312.4 13.3v1M312.4 28.2v1M312.4 37.2v1M312.4 41.2v2M312.4 49.2v1M317 6.3v1M317 9.3v1M317 14.3v1M317 18.3v2M317 28.2v1M317 30.2v1M317 37.2v1M317 49.2v1M275.6 63.3v1M275.6 67.4v1M275.6 71.4v1M280.2 54.3v1M280.2 59.3v1M280.2 61.3v1M280.2 72.4v1M284.8 61.3v1M284.8 63.3v1M284.8 69.4v1M289.4 54.3v1M289.4 58.3v1M289.4 65.4v1M289.4 68.4v1M289.4 70.4v1M289.4 73.4v1M289.4 75.4v1M294 61.3v1M294 63.3v1M298.6 55.3v1M298.6 60.3v1M303.2 66.4v1M303.2 68.4v1M303.2 70.4v1M312.4 63.3v1M312.4 67.4v1M312.4 70.4v1M317 54.3v1M317 59.3v1M275.6 78.4v1M275.6 84.4v1M275.6 89.3v1M280.2 91.3v1M289.4 83.4v1M289.4 88.3v1M294 80.4v1M294 87.3v1M294 92.3v1M298.6 94.3v1M303.2 89.3v1M307.8 89.3v1M312.4 78.4v1M312.4 82.4v1M312.4 92.3v1M317 81.4v1M317 87.3v2M275.6 97.3v1.9M280.2 102.1v1M289.4 105v1M294 101.2v1.9M303.2 100.2v1M307.8 97.3v1M307.8 102.1v1M312.4 107.9v1M317 101.2v1M317 105v2.9M275.6 124.7v1M280.2 114.9v1M280.2 121.8v2M284.8 120.8v1M284.8 122.7v1M289.4 113.9v1M289.4 116.8v1M289.4 124.7v1M294 114.9v1M298.6 114.9v2M298.6 123.7v1M303.2 115.9v1M307.8 118.8v1M317 112.9v1M317 117.8v1M317 122.7v1M275.6 129v1M275.6 133v1M275.6 138.9v1M280.2 135.9v1M284.8 130v1M284.8 134.9v1M289.4 132v1M289.4 138.9v1M294 133v1M294 134.9v1M298.6 129v1M298.6 131v1M303.2 132v2M307.8 128v1M307.8 132v2M307.8 137.9v1M312.4 128v1M312.4 132v1M312.4 134.9v1M312.4 136.9v1M312.4 138.9v1M317 129v1M317 132v1M317 136.9v2M275.6 146v1M275.6 149.9v1.9M284.8 149.9v1M289.4 143.1v1M294 142.1v1M294 149.9v1M298.6 144v1M298.6 146v1M298.6 147.9v1M298.6 150.9v1M303.2 145v1M312.4 143.1v1M312.4 148.9v1M317 142.1v1M317 145v1M317 147.9v1M280.2 155.9v1.1M280.2 159.1v1.1M284.8 155.9v1.1M284.8 159.1v1.1M298.6 155.9v1.1M298.6 159.1v1.1M303.2 160.2v1.1M307.8 155.9v5.4M312.4 155.9v1.1M317 155.9v2.2M280.2 163.6v2M284.8 165.6v1M289.4 165.6v1M294 164.6v1M294 168.7v1M298.6 167.7v1M303.2 166.6v1M307.8 166.6v2M312.4 165.6v1M317 163.6v2" stroke="#ffffea" stroke-width="4.6" fill="none"/>
<path d="M275.6 30.2v1M275.6 39.2v1M280.2 7.3v1M280.2 11.3v1M280.2 17.3v1M280.2 19.3v1M280.2 21.3v2M280.2 30.2v1M280.2 32.2v3M284.8 9.3v1M284.8 19.3v1M284.8 22.3v1M284.8 24.3v1M284.8 27.3v1M284.8 29.2v1M284.8 33.2v1M284.8 44.2v2M289.4 5.3v2M289.4 13.3v1M289.4 22.3v1M289.4 25.3v1M289.4 27.3v1M289.4 30.2v1M289.4 32.2v2M289.4 44.2v1M294 6.3v1M294 9.3v2M294 12.3v1M294 43.2v1M298.6 13.3v1M298.6 28.2v2M298.6 32.2v1M298.6 35.2v1M298.6 45.2v1M298.6 48.2v1M303.2 5.3v2M303.2 8.3v1M303.2 11.3v1M303.2 19.3v1M303.2 22.3v1M303.2 27.3v1M303.2 37.2v2M303.2 40.2v1M303.2 43.2v2M303.2 47.2v1M307.8 5.3v1M307.8 20.3v1M307.8 44.2v1M312.4 14.3v1M312.4 23.3v1M312.4 25.3v1M312.4 29.2v1M312.4 40.2v1M317 8.3v1M317 24.3v1M317 31.2v1M317 34.2v1M317 46.2v1M317 50.2v1M275.6 53.3v1M275.6 60.3v1M275.6 62.3v1M275.6 64.3v1M280.2 55.3v1M280.2 60.3v1M280.2 62.3v2M280.2 66.4v1M280.2 71.4v1M280.2 73.4v1M280.2 75.4v1M284.8 66.4v1M284.8 68.4v1M284.8 72.4v1M289.4 61.3v1M294 59.3v1M298.6 54.3v1M298.6 66.4v1M303.2 55.3v2M303.2 58.3v1M303.2 64.3v1M303.2 69.4v1M303.2 71.4v2M307.8 59.3v1M312.4 60.3v1M312.4 71.4v1M312.4 74.4v1M317 62.3v1M317 64.3v1M317 67.4v1M317 73.4v1M280.2 80.4v1M280.2 82.4v1M280.2 85.4v3M280.2 89.3v2M284.8 86.4v1M289.4 86.4v1M289.4 90.3v1M289.4 94.3v1M294 81.4v1M298.6 83.4v2M303.2 82.4v1M312.4 79.4v1M312.4 83.4v1M312.4 86.4v2M312.4 90.3v1M312.4 93.3v1M317 84.4v1M317 92.3v1M280.2 99.2v1M280.2 104v1M280.2 106v2.9M284.8 99.2v1M284.8 107.9v1M289.4 101.2v1M289.4 104v1M289.4 108.9v1M294 97.3v1M294 106v1M298.6 99.2v1M303.2 97.3v1.9M303.2 109.8v1M307.8 104v1M307.8 106v1M312.4 104v1M317 104v1M275.6 114.9v1M275.6 117.8v1M275.6 120.8v1M275.6 123.7v1M280.2 118.8v1M280.2 120.8v1M280.2 124.7v1M284.8 116.8v1M284.8 124.7v1M303.2 114.9v1M303.2 121.8v1M307.8 120.8v1M307.8 124.7v1M312.4 113.9v1M312.4 119.8v1M312.4 122.7v1M312.4 124.7v1M280.2 129v2M280.2 133v1M284.8 135.9v1M289.4 134.9v1M289.4 137.9v1M294 136.9v1M298.6 134.9v1M303.2 131v1M307.8 133.9v1M317 131v1M317 133.9v1M275.6 144v1.9M275.6 147v1M280.2 143.1v1M280.2 151.8v1M284.8 145v1M289.4 147v3.9M298.6 149.9v1M307.8 151.8v1M275.6 159.1v1.1M289.4 154.8v2.2M289.4 159.1v1.1M298.6 154.8v1.1M298.6 160.2v1.1M303.2 157v2.2M312.4 159.1v2.2M317 160.2v1.1M280.2 168.7v1M284.8 167.7v2M294 163.6v1M294 167.7v1M303.2 164.6v1M303.2 168.7v1M275.6 172.6v1" stroke="#ffffff" stroke-width="4.6" fill="none"/>
<path d="M280.2 5.3v1M280.2 23.3v1M280.2 38.2v1M280.2 44.2v1M284.8 47.2v1M289.4 28.2v1M303.2 45.2v1M275.6 75.4v1M284.8 70.4v1M289.4 66.4v1M284.8 118.8v1M289.4 120.8v1M280.2 132v1M289.4 128v1M289.4 133v1M284.8 142.1v1M284.8 147.9v1M289.4 142.1v1M284.8 157v1.1M280.2 166.6v1M289.4 164.6v1M289.4 166.6v1" stroke="#ffffb6" stroke-width="4.6" fill="none"/>
<path d="M280.2 6.3v1M280.2 18.3v1M280.2 29.2v1M280.2 35.2v1M280.2 40.2v1M280.2 46.2v1M284.8 4.3v1M284.8 8.3v1M284.8 10.3v2M284.8 13.3v2M284.8 17.3v1M284.8 34.2v1M284.8 39.2v1M289.4 7.3v1M289.4 10.3v1M289.4 17.3v1M289.4 20.3v2M289.4 23.3v2M289.4 34.2v2M289.4 37.2v1M289.4 42.2v1M289.4 48.2v1M289.4 50.2v1M303.2 10.3v1M303.2 15.3v1M303.2 25.3v1M303.2 32.2v2M307.8 38.2v1M312.4 34.2v1M275.6 55.3v1M275.6 72.4v1M280.2 65.4v1M280.2 67.4v1M280.2 69.4v2M284.8 53.3v2M284.8 58.3v1M284.8 60.3v1M289.4 55.3v1M289.4 59.3v1M289.4 62.3v1M289.4 71.4v1M298.6 69.4v1M303.2 63.3v1M303.2 67.4v1M303.2 73.4v1M280.2 88.3v1M280.2 93.3v1M284.8 81.4v1M284.8 83.4v2M289.4 78.4v2M289.4 82.4v1M289.4 87.3v1M294 78.4v1M303.2 83.4v1M303.2 93.3v1M280.2 97.3v1M280.2 100.2v1M280.2 108.9v1M284.8 97.3v1M284.8 102.1v1M284.8 104v1M284.8 109.8v1M289.4 97.3v1M289.4 99.2v1M289.4 106v1M303.2 99.2v1M303.2 102.1v1M303.2 104v1.9M303.2 106.9v1M275.6 113.9v1M275.6 119.8v1M275.6 121.8v1M280.2 116.8v1M284.8 113.9v1M284.8 115.9v1M289.4 121.8v1M303.2 117.8v1M303.2 123.7v2M312.4 112.9v1M312.4 118.8v1M284.8 131v1M284.8 133.9v1M284.8 137.9v2M289.4 129v1M289.4 135.9v1M280.2 142.1v1M280.2 145v1.9M284.8 147v1M289.4 145v1M289.4 151.8v1M303.2 146v1M303.2 147.9v1M289.4 158.1v1.1M284.8 166.6v1M289.4 167.7v2M275.6 173.6v1M280.2 171.6v1M280.2 173.6v1M284.8 173.6v1" stroke="#f2eef6" stroke-width="4.6" fill="none"/>
<path d="M280.2 16.3v1M280.2 28.2v1M280.2 41.2v1M284.8 20.3v1M284.8 25.3v1M284.8 35.2v1M289.4 9.3v1M289.4 14.3v1M289.4 19.3v1M289.4 31.2v1M289.4 38.2v2M289.4 43.2v1M298.6 30.2v1M303.2 4.3v1M303.2 7.3v1M303.2 34.2v1M303.2 39.2v1M303.2 46.2v1M303.2 49.2v1M312.4 47.2v1M317 7.3v1M317 48.2v1M275.6 56.3v1M275.6 58.3v2M275.6 74.4v1M280.2 64.3v1M284.8 59.3v1M284.8 73.4v1M289.4 57.3v1M289.4 64.3v1M303.2 53.3v1M303.2 61.3v1M303.2 65.4v1M280.2 79.4v1M280.2 84.4v1M284.8 80.4v1M284.8 92.3v1M289.4 80.4v1M289.4 92.3v2M303.2 81.4v1M303.2 84.4v1M303.2 91.3v1M275.6 106.9v1M280.2 103.1v1M284.8 98.3v1M284.8 103.1v1M289.4 102.1v1.9M298.6 104v1M303.2 103.1v1M303.2 106v1M275.6 116.8v1M280.2 117.8v1M284.8 114.9v1M303.2 119.8v1M312.4 115.9v2M312.4 120.8v1M312.4 123.7v1M280.2 128v1M280.2 133.9v1M280.2 136.9v1M280.2 138.9v1M284.8 128v1M289.4 131v1M294 137.9v1M303.2 138.9v1M307.8 130v1M280.2 147v1M284.8 143.1v1M289.4 144v1M303.2 144v1M284.8 154.8v1.1M303.2 159.1v1.1M289.4 163.6v1M298.6 163.6v2M275.6 171.6v1M280.2 172.6v1M284.8 171.6v2M289.4 173.6v1" stroke="#e1d7ea" stroke-width="4.6" fill="none"/>
<path d="M280.2 26.3v1M280.2 47.2v1M284.8 6.3v2M284.8 18.3v1M284.8 23.3v1M284.8 42.2v1M289.4 26.3v1M289.4 49.2v1M303.2 17.3v1M303.2 21.3v1M303.2 28.2v1M303.2 31.2v1M284.8 55.3v1M284.8 57.3v1M284.8 67.4v1M284.8 74.4v1M289.4 63.3v1M289.4 67.4v1M289.4 69.4v1M289.4 72.4v1M289.4 74.4v1M303.2 60.3v1M289.4 98.3v1M289.4 106.9v1M303.2 108.9v1M284.8 112.9v1M289.4 117.8v1M289.4 119.8v1M289.4 122.7v1M303.2 120.8v1M284.8 132v2M284.8 136.9v1M289.4 130v1M303.2 134.9v1M303.2 137.9v1M280.2 147.9v1M284.8 144v1M284.8 148.9v1M289.4 150.9v1M303.2 150.9v1M280.2 157v1.1M280.2 160.2v1.1M284.8 158.1v1.1M280.2 165.6v1M284.8 163.6v1M303.2 165.6v1M303.2 167.7v1" stroke="#ffffd3" stroke-width="4.6" fill="none"/>
<path d="M280.2 31.2v1M280.2 39.2v1M280.2 45.2v1M284.8 12.3v1M284.8 15.3v2M289.4 11.3v2M289.4 16.3v1M289.4 18.3v1M289.4 29.2v1M289.4 41.2v1M289.4 45.2v3M298.6 12.3v1M303.2 12.3v1M303.2 16.3v1M303.2 24.3v1M275.6 54.3v1M275.6 69.4v1M280.2 53.3v1M280.2 57.3v2M280.2 68.4v1M280.2 74.4v1M284.8 71.4v1M289.4 53.3v1M289.4 60.3v1M303.2 57.3v1M312.4 58.3v1M275.6 93.3v1M280.2 78.4v1M280.2 81.4v1M280.2 92.3v1M280.2 94.3v1M284.8 78.4v2M284.8 85.4v1M284.8 87.3v1M284.8 89.3v1M289.4 81.4v1M289.4 84.4v1M289.4 91.3v1M303.2 78.4v3M303.2 85.4v1M303.2 87.3v1M303.2 90.3v1M303.2 94.3v1M317 86.4v1M280.2 109.8v1M284.8 100.2v1M284.8 105v1M284.8 106.9v1M284.8 108.9v1M289.4 107.9v1M303.2 107.9v1M275.6 115.9v1M280.2 112.9v2M280.2 119.8v1M289.4 118.8v1M303.2 113.9v1M303.2 116.8v1M303.2 118.8v1M312.4 114.9v1M312.4 121.8v1M280.2 134.9v1M294 132v1M303.2 130v1M303.2 133.9v1M280.2 144v1M294 148.9v1M303.2 143.1v1M303.2 147v1M289.4 157v1.1M303.2 154.8v1.1M298.6 165.6v1M289.4 171.6v1M294 173.6v1M298.6 173.6v1" stroke="#cdbcdb" stroke-width="4.6" fill="none"/>
<path d="M284.8 26.3v1M284.8 38.2v1M303.2 62.3v1M312.4 117.8v1M280.2 158.1v1.1" stroke="#ffff67" stroke-width="4.6" fill="none"/>
<path d="M303.2 42.2v1M303.2 54.3v1M284.8 101.2v1" stroke="#ffff92" stroke-width="4.6" fill="none"/>
<path d="M323.5 4.3v3M323.5 10.3v1M323.5 12.3v1M323.5 16.3v1M323.5 20.3v1M323.5 29.2v2M328.2 4.3v1M328.2 8.3v1M328.2 13.3v2M328.2 17.3v1M328.2 21.3v1M328.2 26.3v1M328.2 31.2v1M328.2 34.2v1M328.2 38.2v1M328.2 40.2v3M328.2 49.2v1M323.5 56.3v1M323.5 59.3v1M328.2 54.3v1M323.5 94.3v1M328.2 80.4v1M328.2 85.4v1M328.2 94.3v1M323.5 106.9v1.9M328.2 104v1M323.5 118.8v1M328.2 122.7v1M323.5 145v1M328.2 142.1v1M328.2 147v1M323.5 154.8v1.1M328.2 157v1.1M328.2 165.6v1" stroke="#f2eef6" stroke-width="4.75" fill="none"/>
<path d="M323.5 7.3v1M323.5 9.3v1M323.5 15.3v1M323.5 26.3v1M323.5 31.2v1M323.5 37.2v1M323.5 40.2v1M323.5 48.2v1M328.2 11.3v1M328.2 19.3v2M328.2 25.3v1M328.2 43.2v1M328.2 50.2v1M323.5 92.3v1M323.5 112.9v1M328.2 121.8v1M323.5 131v1M323.5 133v1M323.5 134.9v1M323.5 138.9v1" stroke="#fffff9" stroke-width="4.75" fill="none"/>
<path d="M323.5 8.3v1M323.5 39.2v1M323.5 46.2v2M328.2 9.3v1M328.2 24.3v1M328.2 46.2v1M328.2 57.3v1M328.2 59.3v1M328.2 70.4v1M323.5 98.3v1M323.5 119.8v1M328.2 120.8v1M323.5 144v1M323.5 151.8v1M328.2 143.1v1M323.5 157v1.1" stroke="#ffffd3" stroke-width="4.75" fill="none"/>
<path d="M323.5 13.3v1M323.5 18.3v1M323.5 22.3v1M323.5 34.2v1M323.5 44.2v1M328.2 6.3v2M328.2 12.3v1M328.2 16.3v1M328.2 23.3v1M328.2 29.2v1M328.2 37.2v1M328.2 39.2v1M328.2 45.2v1M323.5 73.4v1M328.2 62.3v1M328.2 72.4v1M323.5 103.1v1M328.2 103.1v1M328.2 105v1M328.2 108.9v1M323.5 113.9v1M323.5 123.7v1M328.2 116.8v2M328.2 124.7v1M323.5 132v1M323.5 133.9v1M328.2 128v1M328.2 131v1M328.2 133v1M328.2 137.9v2M328.2 147.9v1M328.2 159.1v1.1M323.5 166.6v2M328.2 167.7v2" stroke="#cdbcdb" stroke-width="4.75" fill="none"/>
<path d="M323.5 14.3v1M323.5 17.3v1M323.5 19.3v1M323.5 21.3v1M323.5 25.3v1M323.5 35.2v1M323.5 49.2v1M328.2 5.3v1M328.2 15.3v1M328.2 27.3v2M323.5 53.3v1M323.5 57.3v2M323.5 65.4v2M328.2 53.3v1M328.2 61.3v1M328.2 66.4v1M328.2 71.4v1M323.5 100.2v1.9M323.5 105v1M328.2 98.3v1M328.2 106v1M328.2 107.9v1M323.5 129v1M323.5 135.9v1M328.2 135.9v1M323.5 142.1v1M323.5 146v1M323.5 147.9v1M328.2 144v1M328.2 146v1M328.2 150.9v1M323.5 158.1v1.1M323.5 172.6v1" stroke="#ffffea" stroke-width="4.75" fill="none"/>
<path d="M323.5 23.3v1" stroke="#ffff67" stroke-width="4.75" fill="none"/>
<path d="M323.5 27.3v2M323.5 33.2v1M323.5 41.2v1M323.5 43.2v1M328.2 18.3v1M328.2 33.2v1M323.5 55.3v1M323.5 64.3v1M323.5 69.4v1M328.2 63.3v1M323.5 79.4v1M323.5 81.4v1M323.5 84.4v2M328.2 79.4v1M328.2 89.3v1M328.2 91.3v1M328.2 93.3v1M323.5 99.2v1M328.2 114.9v2M328.2 123.7v1M323.5 136.9v1M328.2 132v1M328.2 134.9v1M328.2 149.9v1M328.2 172.6v1" stroke="#e1d7ea" stroke-width="4.75" fill="none"/>
<path d="M323.5 32.2v1M328.2 60.3v1M328.2 65.4v1M323.5 122.7v1M328.2 151.8v1" stroke="#ffff92" stroke-width="4.75" fill="none"/>
<path d="M334.9 4.3v1M334.9 9.3v1M334.9 13.3v1M334.9 39.2v1M334.9 42.2v1M334.9 48.2v1M334.9 54.3v1M334.9 56.3v1M334.9 58.3v1M334.9 60.3v3M334.9 84.4v1M334.9 89.3v1M334.9 94.3v1M334.9 100.2v1M334.9 122.7v1M334.9 146v1M334.9 158.1v1.1M334.9 163.6v1M334.9 165.6v1" stroke="#e1d7ea" stroke-width="5.1" fill="none"/>
<path d="M334.9 5.3v1M334.9 15.3v1M334.9 18.3v2M334.9 30.2v1M334.9 35.2v1M334.9 44.2v1M334.9 80.4v1M334.9 82.4v1M334.9 91.3v1M334.9 131v1M334.9 133v1M334.9 134.9v1M334.9 157v1.1" stroke="#f2eef6" stroke-width="5.1" fill="none"/>
<path d="M334.9 6.3v3M334.9 16.3v1M334.9 20.3v1M334.9 34.2v1M334.9 41.2v1M334.9 45.2v2M334.9 59.3v1M334.9 63.3v1M334.9 67.4v1M334.9 75.4v1M334.9 79.4v1M334.9 85.4v1M334.9 87.3v1M334.9 129v1M334.9 144v1M334.9 148.9v1M334.9 164.6v1" stroke="#ffffea" stroke-width="5.1" fill="none"/>
<path d="M334.9 11.3v2M334.9 17.3v1M334.9 21.3v1M334.9 32.2v2M334.9 36.2v1M334.9 40.2v1M334.9 78.4v1M334.9 81.4v1M334.9 106v1.9M334.9 109.8v1M334.9 114.9v1M334.9 133.9v1M334.9 135.9v1M334.9 138.9v1M334.9 167.7v1" stroke="#fffff9" stroke-width="5.1" fill="none"/>
<path d="M334.9 23.3v1M334.9 50.2v1M334.9 57.3v1M334.9 70.4v1M334.9 83.4v1M334.9 97.3v1M334.9 101.2v1M334.9 103.1v1M334.9 108.9v1M334.9 124.7v1M334.9 132v1M334.9 136.9v1M334.9 147.9v1M334.9 149.9v1M334.9 172.6v1" stroke="#cdbcdb" stroke-width="5.1" fill="none"/>
<path d="M334.9 27.3v1M334.9 29.2v1M334.9 31.2v1M334.9 38.2v1M334.9 47.2v1M334.9 49.2v1M334.9 53.3v1M334.9 104v1M334.9 107.9v1M334.9 121.8v1M334.9 130v1M334.9 142.1v1" stroke="#ffffd3" stroke-width="5.1" fill="none"/>
<path d="M341.6 4.3v1M341.6 14.3v1M341.6 18.3v1M341.6 22.3v1M341.6 29.2v1M341.6 35.2v1M341.6 39.2v1M341.6 43.2v1M346.2 20.3v1M346.2 24.3v1M346.2 49.2v1M350.7 9.3v1M350.7 14.3v1M350.7 16.3v1M350.7 22.3v1M350.7 33.2v1M350.7 37.2v1M350.7 47.2v1M355.3 4.3v1M355.3 12.3v1M355.3 14.3v1M355.3 18.3v1M355.3 22.3v1M355.3 29.2v2M355.3 32.2v1M355.3 39.2v1M355.3 45.2v2M359.9 7.3v1M359.9 10.3v1M359.9 12.3v1M359.9 18.3v1M359.9 25.3v1M359.9 33.2v1M359.9 35.2v1M359.9 37.2v2M359.9 40.2v1M359.9 42.2v1M359.9 48.2v1M364.4 4.3v1M364.4 13.3v1M364.4 22.3v1M364.4 26.3v1M364.4 28.2v1M364.4 50.2v1M369 6.3v1M369 11.3v1M369 15.3v1M369 22.3v1M369 31.2v1M369 33.2v1M369 37.2v1M369 42.2v1M373.6 24.3v1M373.6 43.2v1M373.6 47.2v1M378.1 13.3v1M378.1 18.3v1M378.1 22.3v1M378.1 39.2v1M378.1 48.2v1M382.7 6.3v1M382.7 10.3v2M382.7 13.3v1M382.7 19.3v1M382.7 21.3v1M382.7 27.3v1M382.7 32.2v2M382.7 36.2v1M346.2 56.3v1M346.2 58.3v1M346.2 60.3v1M346.2 62.3v1M346.2 70.4v1M350.7 60.3v1M350.7 67.4v1M350.7 70.4v1M350.7 72.4v1M355.3 60.3v1M355.3 62.3v1M355.3 67.4v1M355.3 75.4v1M359.9 57.3v1M359.9 62.3v1M359.9 73.4v1M364.4 53.3v3M364.4 59.3v1M364.4 61.3v2M369 54.3v1M369 56.3v1M369 71.4v1M369 75.4v1M373.6 70.4v1M378.1 71.4v1M378.1 74.4v1M382.7 54.3v1M382.7 73.4v1M341.6 84.4v5M341.6 90.3v2M341.6 94.3v1M346.2 78.4v1M346.2 81.4v1M346.2 94.3v1M350.7 79.4v2M350.7 83.4v1M350.7 85.4v1M350.7 88.3v2M355.3 81.4v1M359.9 78.4v2M359.9 81.4v1M359.9 89.3v1M364.4 81.4v1M364.4 85.4v1M364.4 91.3v1M369 79.4v1M369 87.3v1M369 91.3v1M369 93.3v1M378.1 79.4v1M378.1 86.4v1M378.1 89.3v2M382.7 81.4v1M382.7 86.4v2M382.7 92.3v1M341.6 101.2v1M341.6 108.9v1M346.2 106v1.9M350.7 98.3v1.9M350.7 109.8v1M359.9 105v1M364.4 97.3v1M364.4 106.9v1M369 103.1v1.9M369 108.9v1M373.6 104v1M378.1 100.2v1M378.1 104v1.9M382.7 98.3v1M341.6 115.9v1M341.6 119.8v1M350.7 123.7v1M364.4 113.9v1M364.4 119.8v1M364.4 122.7v2M373.6 116.8v1M373.6 121.8v2M378.1 122.7v1M382.7 115.9v1M382.7 124.7v1M341.6 132v1M346.2 132v1M346.2 133.9v1M355.3 130v1M355.3 133.9v1M359.9 128v1M359.9 135.9v2M364.4 128v1M364.4 132v1M364.4 134.9v1M364.4 137.9v1M369 138.9v1M373.6 136.9v1M378.1 131v1M378.1 137.9v1M382.7 129v3M382.7 133v1M350.7 143.1v1M341.6 155.9v1.1M346.2 159.1v2.2M350.7 160.2v1.1M355.3 157v2.2M359.9 154.8v1.1M364.4 157v1.1M364.4 159.1v1.1M373.6 155.9v1.1M382.7 159.1v1.1M341.6 165.6v1M341.6 168.7v1M346.2 167.7v1M350.7 163.6v1M364.4 164.6v1M364.4 167.7v1M369 168.7v1M346.2 172.6v1M350.7 172.6v1M382.7 171.6v1" stroke="#ffffea" stroke-width="4.57" fill="none"/>
<path d="M341.6 20.3v1M341.6 30.2v1M341.6 46.2v1M346.2 7.3v3M346.2 12.3v1M346.2 19.3v1M346.2 21.3v1M346.2 26.3v3M346.2 31.2v1M346.2 33.2v1M346.2 43.2v2M350.7 5.3v4M350.7 10.3v1M350.7 12.3v1M350.7 15.3v1M350.7 20.3v1M350.7 23.3v1M350.7 28.2v1M350.7 38.2v2M350.7 46.2v1M355.3 7.3v1M355.3 11.3v1M355.3 15.3v1M355.3 19.3v2M355.3 23.3v1M355.3 28.2v1M355.3 44.2v1M355.3 48.2v1M359.9 5.3v1M359.9 8.3v1M359.9 16.3v2M359.9 23.3v2M359.9 34.2v1M359.9 44.2v1M359.9 46.2v1M364.4 8.3v1M364.4 11.3v1M364.4 14.3v1M364.4 16.3v1M364.4 24.3v1M364.4 27.3v1M364.4 31.2v2M364.4 43.2v1M364.4 46.2v1M369 7.3v1M369 13.3v1M369 34.2v1M369 36.2v1M373.6 6.3v2M373.6 13.3v1M373.6 29.2v2M373.6 38.2v1M373.6 41.2v1M373.6 50.2v1M378.1 38.2v1M378.1 50.2v1M382.7 14.3v1M382.7 17.3v1M382.7 22.3v1M341.6 68.4v1M346.2 53.3v2M346.2 57.3v1M346.2 68.4v2M346.2 71.4v1M350.7 62.3v1M350.7 66.4v1M350.7 69.4v1M350.7 71.4v1M355.3 54.3v2M355.3 74.4v1M359.9 66.4v1M364.4 56.3v1M364.4 64.3v1M364.4 75.4v1M369 62.3v1M369 68.4v2M369 73.4v1M373.6 62.3v1M378.1 69.4v1M341.6 80.4v1M341.6 82.4v1M346.2 79.4v1M350.7 84.4v1M350.7 90.3v1M350.7 92.3v2M355.3 85.4v1M355.3 90.3v1M364.4 83.4v1M369 78.4v1M373.6 79.4v1M373.6 85.4v1M373.6 88.3v1M373.6 93.3v1M378.1 92.3v1M382.7 91.3v1M341.6 103.1v1M341.6 109.8v1M346.2 102.1v1M350.7 102.1v1M355.3 98.3v1.9M355.3 101.2v1.9M355.3 106.9v1M359.9 97.3v1M359.9 104v1M364.4 106v1M369 98.3v1M369 107.9v1M373.6 100.2v1M373.6 106v1M378.1 109.8v1M382.7 103.1v1M382.7 106.9v1M382.7 109.8v1M341.6 116.8v1M346.2 116.8v1M346.2 120.8v2M350.7 112.9v1M350.7 114.9v1M350.7 116.8v1M350.7 119.8v1M355.3 114.9v1M359.9 117.8v1M359.9 121.8v1M364.4 114.9v1M364.4 121.8v1M369 112.9v1M369 115.9v1M369 120.8v1M382.7 113.9v1M341.6 128v1M346.2 134.9v1M350.7 131v1M355.3 136.9v1M359.9 130v3M359.9 133.9v1M369 128v1M373.6 128v1M382.7 132v1M341.6 142.1v2.9M341.6 147v1M350.7 145v1M350.7 148.9v1.9M350.7 151.8v1M359.9 142.1v1.9M359.9 145v1.9M364.4 144v2.9M369 142.1v4.9M346.2 155.9v1.1M355.3 159.1v1.1M369 160.2v1.1M378.1 159.1v2.2M341.6 163.6v1M346.2 166.6v1M350.7 168.7v1M355.3 165.6v1M369 163.6v1M378.1 165.6v1M355.3 173.6v1M359.9 173.6v1" stroke="#ffffff" stroke-width="4.57" fill="none"/>
<path d="M341.6 50.2v1M346.2 4.3v1M346.2 23.3v1M346.2 30.2v1M346.2 38.2v1M350.7 17.3v1M350.7 27.3v1M350.7 36.2v1M350.7 48.2v1M355.3 40.2v1M359.9 6.3v1M359.9 26.3v1M359.9 41.2v1M359.9 50.2v1M364.4 12.3v1M364.4 20.3v2M364.4 25.3v1M364.4 30.2v1M364.4 34.2v1M364.4 36.2v1M369 46.2v1M373.6 39.2v1M378.1 14.3v1M382.7 34.2v1M341.6 67.4v1M346.2 63.3v1M346.2 66.4v1M350.7 59.3v1M350.7 63.3v1M350.7 65.4v1M350.7 75.4v1M359.9 74.4v1M369 57.3v1M369 63.3v1M369 70.4v1M373.6 75.4v1M346.2 90.3v1M355.3 80.4v1M355.3 93.3v1M359.9 91.3v1M359.9 93.3v1M364.4 82.4v1M373.6 78.4v1M341.6 100.2v1M341.6 105v1.9M350.7 108.9v1M355.3 107.9v1M373.6 106.9v1M382.7 100.2v1M382.7 108.9v1M341.6 114.9v1M341.6 120.8v2M346.2 122.7v1M355.3 115.9v1M355.3 121.8v1M364.4 117.8v1M346.2 133v1M350.7 129v1M350.7 135.9v2M355.3 135.9v1M378.1 132v1M341.6 149.9v1.9M346.2 143.1v1.9M346.2 146v1M346.2 147.9v1M346.2 154.8v1.1M346.2 157v2.2M378.1 163.6v1M378.1 167.7v1M341.6 172.6v1M355.3 172.6v1" stroke="#e1d7ea" stroke-width="4.57" fill="none"/>
<path d="M346.2 10.3v1M364.4 33.2v1M350.7 73.4v1M355.3 56.3v2M355.3 64.3v1M355.3 71.4v1M341.6 92.3v1M346.2 84.4v1M350.7 78.4v1M355.3 78.4v1M341.6 123.7v1M364.4 124.7v1M359.9 137.9v1M350.7 167.7v1M355.3 167.7v1" stroke="#ffff92" stroke-width="4.57" fill="none"/>
<path d="M346.2 11.3v1M346.2 36.2v1M346.2 41.2v1M346.2 50.2v1M350.7 32.2v1M350.7 43.2v1M355.3 8.3v1M355.3 33.2v1M359.9 9.3v1M359.9 47.2v1M364.4 35.2v1M364.4 41.2v1M378.1 7.3v1M378.1 16.3v1M382.7 18.3v1M341.6 53.3v1M346.2 64.3v1M350.7 54.3v2M350.7 57.3v1M364.4 71.4v1M369 59.3v1M369 74.4v1M346.2 80.4v1M346.2 82.4v1M346.2 86.4v1M350.7 91.3v1M355.3 89.3v1M373.6 91.3v2M350.7 97.3v1M359.9 101.2v1M341.6 112.9v1M346.2 114.9v2M346.2 117.8v1M350.7 118.8v1M355.3 118.8v1M382.7 122.7v1M346.2 129v1M346.2 135.9v1M346.2 137.9v2M355.3 138.9v1M341.6 148.9v1M341.6 151.8v1M346.2 145v1M346.2 147v1M346.2 149.9v1M355.3 142.1v1.9M355.3 147v1M355.3 148.9v1M359.9 147.9v1M364.4 142.1v1.9M373.6 142.1v1M373.6 146v1M341.6 159.1v1.1M355.3 163.6v1M378.1 168.7v1M355.3 171.6v1" stroke="#cdbcdb" stroke-width="4.57" fill="none"/>
<path d="M346.2 13.3v2M346.2 25.3v1M346.2 32.2v1M346.2 34.2v1M346.2 37.2v1M346.2 40.2v1M346.2 46.2v2M350.7 11.3v1M350.7 21.3v1M350.7 30.2v2M350.7 44.2v1M355.3 6.3v1M355.3 17.3v1M355.3 26.3v1M355.3 34.2v1M355.3 41.2v2M355.3 50.2v1M359.9 4.3v1M359.9 11.3v1M359.9 21.3v1M359.9 32.2v1M359.9 39.2v1M364.4 5.3v2M364.4 9.3v1M364.4 17.3v1M364.4 29.2v1M364.4 39.2v1M364.4 42.2v1M364.4 45.2v1M364.4 47.2v1M364.4 49.2v1M341.6 66.4v1M346.2 55.3v1M346.2 59.3v1M346.2 61.3v1M346.2 65.4v1M346.2 67.4v1M346.2 74.4v1M350.7 64.3v1M355.3 66.4v1M364.4 66.4v1M369 60.3v2M369 64.3v1M378.1 72.4v1M382.7 61.3v1M350.7 86.4v1M350.7 94.3v1M355.3 82.4v1M355.3 87.3v1M355.3 94.3v1M373.6 81.4v2M373.6 84.4v1M373.6 90.3v1M341.6 98.3v1.9M341.6 102.1v1M341.6 104v1M346.2 99.2v1M346.2 101.2v1M346.2 103.1v1.9M346.2 107.9v1.9M350.7 104v1M355.3 104v1.9M378.1 102.1v1M341.6 118.8v1M346.2 112.9v1M346.2 123.7v1M350.7 115.9v1M355.3 113.9v1M355.3 119.8v2M364.4 112.9v1M378.1 114.9v1M346.2 136.9v1M350.7 133v2M355.3 134.9v1M355.3 137.9v1M359.9 129v1M359.9 133v1M341.6 145v1.9M341.6 147.9v1M346.2 142.1v1M350.7 146v2.9M355.3 144v2.9M341.6 154.8v1.1M341.6 157v1.1M350.7 159.1v1.1M346.2 164.6v2M346.2 168.7v1M350.7 165.6v1M355.3 168.7v1M359.9 165.6v1M350.7 171.6v1" stroke="#f2eef6" stroke-width="4.57" fill="none"/>
<path d="M346.2 17.3v1M346.2 29.2v1M346.2 39.2v1M350.7 19.3v1M350.7 35.2v1M350.7 45.2v1M355.3 10.3v1M355.3 16.3v1M355.3 21.3v1M355.3 24.3v1M355.3 35.2v2M355.3 38.2v1M355.3 43.2v1M355.3 49.2v1M359.9 13.3v1M359.9 15.3v1M359.9 36.2v1M359.9 43.2v1M359.9 45.2v1M359.9 49.2v1M364.4 10.3v1M364.4 15.3v1M364.4 23.3v1M364.4 40.2v1M350.7 56.3v1M350.7 68.4v1M355.3 53.3v1M355.3 58.3v1M355.3 65.4v1M355.3 68.4v1M355.3 72.4v1M369 65.4v1M382.7 64.3v1M346.2 83.4v1M346.2 88.3v1M346.2 91.3v1M346.2 93.3v1M355.3 83.4v2M355.3 88.3v1M373.6 83.4v1M341.6 107.9v1M346.2 100.2v1M350.7 100.2v1M350.7 105v1M355.3 108.9v1M341.6 113.9v1M341.6 122.7v1M346.2 119.8v1M346.2 124.7v1M350.7 117.8v1M355.3 123.7v1M364.4 116.8v1M350.7 128v1M350.7 138.9v1M359.9 138.9v1M350.7 142.1v1M341.6 158.1v1.1M341.6 160.2v1.1M350.7 155.9v1.1M355.3 154.8v2.2M346.2 163.6v1M350.7 164.6v1M355.3 164.6v1" stroke="#ffffd3" stroke-width="4.57" fill="none"/>
<path d="M350.7 18.3v1M350.7 25.3v1M350.7 42.2v1M355.3 5.3v1M355.3 13.3v1M359.9 19.3v1M359.9 31.2v1M364.4 19.3v1M346.2 72.4v1M350.7 74.4v1M355.3 69.4v2M369 53.3v1M369 67.4v1M341.6 78.4v1M346.2 92.3v1M350.7 101.2v1M350.7 106v1M350.7 107.9v1M341.6 124.7v1M350.7 122.7v1M350.7 124.7v1M355.3 117.8v1M364.4 120.8v1M346.2 131v1M355.3 132v1M355.3 166.6v1M346.2 171.6v1M350.7 173.6v1" stroke="#ffffb6" stroke-width="4.57" fill="none"/>
<path d="M389.6 4.3v1M389.6 34.2v1M389.6 38.2v1M389.6 44.2v1M394.1 23.3v1M394.1 27.3v1M403.1 10.3v1M403.1 43.2v1M412.1 18.3v1M412.1 36.2v1M412.1 39.2v1M425.6 27.3v1M425.6 44.2v1M425.6 47.2v1M394.1 64.3v1M394.1 75.4v1M403.1 58.3v1M403.1 60.3v1M403.1 62.3v1M403.1 68.4v1M403.1 75.4v1M416.6 61.3v1M416.6 73.4v1M425.6 61.3v2M407.6 109.8v1M421.1 115.9v1M407.6 137.9v1M389.6 146v1M394.1 144v1M394.1 151.8v1M398.6 146v1M416.6 142.1v1M416.6 151.8v1M421.1 146v1M425.6 142.1v1.9M389.6 157v3.2M407.6 159.1v1.1M416.6 154.8v1.1M421.1 154.8v1.1M421.1 157v1.1M430.1 154.8v1.1M421.1 166.6v1M421.1 168.7v1M425.6 164.6v1M398.6 172.6v1M421.1 171.6v1" stroke="#ffffd3" stroke-width="4.5" fill="none"/>
<path d="M389.6 6.3v1M389.6 9.3v1M389.6 19.3v1M389.6 26.3v1M389.6 45.2v1M389.6 47.2v1M389.6 50.2v1M394.1 6.3v1M394.1 34.2v1M394.1 38.2v1M394.1 40.2v2M394.1 47.2v1M398.6 9.3v1M398.6 20.3v1M398.6 28.2v2M398.6 32.2v1M398.6 48.2v1M398.6 50.2v1M403.1 4.3v1M403.1 11.3v1M403.1 19.3v1M403.1 32.2v1M403.1 35.2v1M403.1 41.2v1M403.1 47.2v1M403.1 49.2v1M412.1 4.3v2M412.1 9.3v1M412.1 15.3v2M412.1 24.3v1M412.1 34.2v1M412.1 40.2v2M412.1 45.2v1M416.6 18.3v1M416.6 23.3v1M416.6 30.2v1M416.6 36.2v1M416.6 44.2v1M416.6 49.2v1M421.1 6.3v1M421.1 9.3v1M421.1 16.3v1M421.1 25.3v1M421.1 27.3v2M421.1 30.2v1M421.1 33.2v1M421.1 37.2v2M421.1 46.2v1M425.6 22.3v1M425.6 25.3v2M425.6 30.2v1M425.6 34.2v1M425.6 38.2v1M425.6 45.2v1M389.6 61.3v1M389.6 67.4v1M389.6 74.4v1M394.1 54.3v1M394.1 57.3v1M394.1 68.4v1M398.6 56.3v1M398.6 59.3v1M398.6 74.4v1M403.1 53.3v1M403.1 64.3v1M407.6 64.3v1M412.1 61.3v1M416.6 68.4v1M416.6 72.4v1M416.6 74.4v1M421.1 57.3v1M421.1 67.4v2M421.1 70.4v1M425.6 64.3v1M425.6 71.4v1M389.6 93.3v1M394.1 80.4v1M394.1 82.4v2M394.1 85.4v1M394.1 87.3v1M398.6 82.4v1M398.6 86.4v3M398.6 91.3v1M403.1 81.4v1M403.1 88.3v1M407.6 78.4v1M407.6 80.4v1M407.6 82.4v1M407.6 90.3v2M412.1 84.4v1M416.6 86.4v1M421.1 83.4v1M425.6 78.4v2M425.6 93.3v1M430.1 88.3v1M430.1 90.3v1M389.6 107.9v1M398.6 97.3v1M398.6 101.2v1M398.6 105v1M398.6 106.9v1M403.1 104v1M403.1 106v1M407.6 104v1M407.6 108.9v1M412.1 97.3v1M412.1 106.9v1M416.6 97.3v1M421.1 100.2v1M421.1 108.9v1M425.6 97.3v1.9M425.6 104v1.9M430.1 98.3v1M389.6 114.9v1M389.6 124.7v1M394.1 116.8v1M398.6 118.8v1M403.1 117.8v1M403.1 124.7v1M416.6 113.9v1M416.6 118.8v1M430.1 117.8v1M430.1 122.7v1M389.6 129v1M394.1 130v1M394.1 132v2M398.6 131v1M398.6 133v2M403.1 128v1M403.1 138.9v1M407.6 133.9v1M407.6 136.9v1M412.1 134.9v1M412.1 138.9v1M416.6 129v1M416.6 138.9v1M421.1 128v1M421.1 132v1M425.6 128v2M425.6 136.9v2M394.1 145v1.9M403.1 142.1v1M416.6 145v1M416.6 147.9v1M421.1 151.8v1M425.6 150.9v1M403.1 155.9v2.2M421.1 159.1v1.1M425.6 155.9v1.1M425.6 159.1v2.2M430.1 159.1v1.1M394.1 167.7v1M398.6 166.6v2M403.1 165.6v1M389.6 173.6v1M398.6 171.6v1M403.1 171.6v1M412.1 173.6v1M416.6 171.6v1" stroke="#f2eef6" stroke-width="4.5" fill="none"/>
<path d="M389.6 7.3v1M389.6 29.2v1M389.6 48.2v1M412.1 28.2v1M412.1 42.2v1M403.1 59.3v1M403.1 70.4v1M425.6 66.4v2M389.6 105v1M394.1 121.8v1M398.6 145v1M421.1 148.9v1M398.6 154.8v1.1M403.1 160.2v1.1M403.1 163.6v2M425.6 172.6v1" stroke="#ffffb6" stroke-width="4.5" fill="none"/>
<path d="M389.6 8.3v1M389.6 10.3v2M389.6 14.3v1M389.6 32.2v1M389.6 36.2v2M394.1 7.3v1M394.1 9.3v1M394.1 13.3v1M394.1 16.3v1M394.1 19.3v2M394.1 22.3v1M394.1 33.2v1M394.1 44.2v1M394.1 49.2v1M398.6 7.3v1M398.6 15.3v3M398.6 19.3v1M398.6 21.3v1M398.6 33.2v2M398.6 38.2v1M403.1 6.3v2M403.1 16.3v1M403.1 22.3v1M403.1 24.3v1M403.1 42.2v1M403.1 44.2v1M403.1 46.2v1M407.6 5.3v3M407.6 9.3v11M407.6 21.3v3M407.6 27.3v3M407.6 35.2v1M407.6 37.2v1M407.6 39.2v7M407.6 47.2v3M412.1 17.3v1M412.1 19.3v1M412.1 25.3v1M412.1 33.2v1M412.1 35.2v1M412.1 37.2v2M416.6 7.3v1M416.6 10.3v1M416.6 17.3v1M416.6 26.3v1M416.6 29.2v1M416.6 32.2v1M416.6 42.2v1M421.1 12.3v1M421.1 21.3v1M425.6 6.3v2M425.6 11.3v1M425.6 20.3v2M425.6 23.3v2M425.6 33.2v1M425.6 35.2v2M425.6 40.2v1M425.6 48.2v3M430.1 4.3v2M430.1 7.3v7M430.1 15.3v6M430.1 24.3v4M430.1 29.2v3M430.1 33.2v10M430.1 44.2v1M430.1 46.2v1M430.1 48.2v1M430.1 50.2v1M394.1 79.4v1M398.6 83.4v1M407.6 87.3v1M407.6 89.3v1M416.6 90.3v1M425.6 89.3v1M425.6 92.3v1M389.6 109.8v1M394.1 97.3v1M394.1 99.2v1M398.6 98.3v1M407.6 103.1v1M407.6 105v1M412.1 106v1M421.1 105v1M421.1 109.8v1M425.6 100.2v1M425.6 102.1v1M430.1 106v1.9M394.1 124.7v1M403.1 115.9v1M407.6 114.9v8.9M407.6 124.7v1M421.1 116.8v1M425.6 116.8v1M403.1 134.9v1M407.6 135.9v1M412.1 136.9v1M416.6 131v1M416.6 137.9v1M430.1 133.9v1" stroke="#fffff9" stroke-width="4.5" fill="none"/>
<path d="M389.6 13.3v1M389.6 15.3v1M389.6 17.3v2M389.6 24.3v1M389.6 28.2v1M389.6 39.2v1M389.6 41.2v1M394.1 4.3v1M394.1 21.3v1M394.1 26.3v1M394.1 36.2v1M394.1 43.2v1M398.6 6.3v1M398.6 10.3v2M398.6 13.3v1M398.6 22.3v2M398.6 30.2v2M398.6 35.2v1M398.6 37.2v1M398.6 40.2v1M398.6 42.2v2M398.6 46.2v2M398.6 49.2v1M403.1 8.3v2M403.1 12.3v1M403.1 17.3v1M403.1 25.3v1M403.1 27.3v1M403.1 29.2v1M403.1 31.2v1M412.1 12.3v1M412.1 26.3v2M416.6 4.3v1M416.6 8.3v1M416.6 11.3v2M416.6 14.3v1M416.6 19.3v1M416.6 22.3v1M416.6 24.3v2M416.6 31.2v1M416.6 33.2v2M416.6 38.2v1M416.6 40.2v1M421.1 4.3v1M421.1 11.3v1M421.1 15.3v1M421.1 17.3v2M421.1 22.3v2M421.1 29.2v1M421.1 32.2v1M421.1 34.2v1M421.1 36.2v1M421.1 43.2v1M421.1 47.2v1M425.6 19.3v1M389.6 66.4v1M389.6 71.4v1M398.6 53.3v1M398.6 58.3v1M398.6 69.4v3M403.1 72.4v1M416.6 57.3v2M416.6 60.3v1M416.6 67.4v1M421.1 61.3v1M425.6 54.3v2M425.6 58.3v1M389.6 98.3v1M389.6 101.2v1.9M394.1 101.2v1M394.1 103.1v2.9M394.1 109.8v1M398.6 99.2v1M398.6 103.1v1M398.6 106v1M398.6 108.9v1M407.6 101.2v1M407.6 106.9v1.9M416.6 101.2v1M416.6 104v1M421.1 101.2v1M421.1 103.1v1.9M421.1 106v1M425.6 101.2v1M425.6 106v1.9M389.6 118.8v1M389.6 123.7v1M394.1 112.9v1M398.6 113.9v1M398.6 117.8v1M398.6 124.7v1M403.1 113.9v1M403.1 118.8v1M403.1 122.7v1M412.1 113.9v1M412.1 115.9v1M412.1 119.8v1M416.6 112.9v1M416.6 119.8v1M416.6 124.7v1M421.1 120.8v1M421.1 124.7v1M425.6 113.9v1M425.6 121.8v1M425.6 123.7v1M430.1 113.9v1M430.1 115.9v1M389.6 132v2M394.1 128v2M398.6 134.9v2M403.1 133.9v1M407.6 128v1M407.6 138.9v1M412.1 128v1M412.1 130v1M412.1 137.9v1M416.6 128v1M416.6 132v2M421.1 133.9v1M421.1 136.9v1M425.6 133.9v3M430.1 128v2M389.6 142.1v1M389.6 144v1M389.6 148.9v1M389.6 151.8v1M398.6 149.9v1M403.1 147v1M412.1 150.9v1M416.6 143.1v1M421.1 143.1v1M407.6 158.1v1.1M421.1 160.2v1.1M394.1 168.7v1M412.1 167.7v1M421.1 163.6v1M421.1 165.6v1M425.6 163.6v1M425.6 167.7v1M394.1 172.6v1M416.6 172.6v2M425.6 171.6v1" stroke="#cdbcdb" stroke-width="4.5" fill="none"/>
<path d="M389.6 16.3v1M389.6 25.3v1M389.6 30.2v1M389.6 33.2v1M389.6 40.2v1M389.6 42.2v1M389.6 49.2v1M394.1 5.3v1M394.1 11.3v1M394.1 14.3v2M394.1 18.3v1M394.1 25.3v1M394.1 29.2v1M394.1 39.2v1M398.6 14.3v1M398.6 24.3v1M398.6 39.2v1M403.1 5.3v1M403.1 14.3v1M403.1 23.3v1M403.1 26.3v1M403.1 28.2v1M403.1 34.2v1M403.1 37.2v1M403.1 39.2v2M403.1 48.2v1M407.6 8.3v1M412.1 14.3v1M412.1 20.3v1M412.1 23.3v1M412.1 44.2v1M416.6 5.3v1M416.6 13.3v1M416.6 16.3v1M416.6 20.3v2M416.6 27.3v2M416.6 35.2v1M416.6 37.2v1M416.6 39.2v1M416.6 43.2v1M416.6 47.2v1M416.6 50.2v1M421.1 5.3v1M421.1 10.3v1M421.1 26.3v1M421.1 39.2v1M421.1 42.2v1M421.1 44.2v1M421.1 48.2v1M425.6 5.3v1M425.6 12.3v2M425.6 28.2v1M425.6 31.2v2M425.6 37.2v1M430.1 21.3v1M389.6 57.3v1M389.6 68.4v1M394.1 59.3v1M398.6 55.3v1M398.6 60.3v1M398.6 62.3v1M398.6 64.3v1M398.6 66.4v1M398.6 75.4v1M403.1 67.4v1M403.1 69.4v1M416.6 70.4v1M421.1 54.3v1M421.1 59.3v1M430.1 75.4v1M389.6 83.4v2M389.6 89.3v1M389.6 91.3v2M394.1 86.4v1M394.1 89.3v3M398.6 84.4v1M398.6 92.3v1M398.6 94.3v1M403.1 80.4v1M403.1 83.4v2M403.1 92.3v1M407.6 84.4v1M407.6 92.3v1M407.6 94.3v1M412.1 83.4v1M412.1 85.4v1M412.1 92.3v1M416.6 85.4v1M416.6 89.3v1M421.1 79.4v1M421.1 87.3v1M425.6 85.4v1M430.1 78.4v1M430.1 94.3v1M394.1 143.1v1M398.6 143.1v1.9M403.1 143.1v2.9M412.1 145v1M416.6 144v1M416.6 149.9v1M421.1 142.1v1M421.1 144v1M425.6 147v1M389.6 155.9v1.1M389.6 160.2v1.1M407.6 160.2v1.1M425.6 158.1v1.1M389.6 166.6v1M398.6 168.7v1M416.6 167.7v1M421.1 164.6v1M425.6 173.6v1" stroke="#e1d7ea" stroke-width="4.5" fill="none"/>
<path d="M389.6 20.3v1M389.6 43.2v1M394.1 8.3v1M394.1 10.3v1M394.1 17.3v1M394.1 28.2v1M394.1 30.2v1M394.1 45.2v1M398.6 8.3v1M398.6 26.3v1M407.6 20.3v1M407.6 24.3v3M407.6 31.2v2M407.6 34.2v1M407.6 36.2v1M407.6 38.2v1M407.6 46.2v1M412.1 7.3v1M412.1 11.3v1M412.1 13.3v1M412.1 30.2v1M412.1 46.2v3M416.6 41.2v1M421.1 31.2v1M421.1 41.2v1M425.6 8.3v1M425.6 14.3v2M425.6 17.3v2M425.6 41.2v1M425.6 43.2v1M430.1 6.3v1M430.1 22.3v2M430.1 28.2v1M430.1 32.2v1M430.1 45.2v1M430.1 49.2v1M389.6 59.3v2M389.6 62.3v1M389.6 69.4v1M389.6 75.4v1M394.1 55.3v1M394.1 63.3v1M394.1 65.4v3M403.1 54.3v1M403.1 61.3v1M407.6 62.3v1M407.6 68.4v1M407.6 73.4v1M412.1 53.3v2M412.1 64.3v1M412.1 66.4v3M412.1 72.4v2M416.6 53.3v1M416.6 55.3v1M416.6 59.3v1M416.6 62.3v1M416.6 66.4v1M421.1 56.3v1M421.1 62.3v1M421.1 64.3v1M421.1 73.4v1M425.6 53.3v1M425.6 63.3v1M425.6 65.4v1M425.6 68.4v1M425.6 70.4v1M425.6 72.4v1M425.6 75.4v1M430.1 55.3v1M430.1 59.3v3M398.6 78.4v1M389.6 97.3v1M389.6 106v1M389.6 108.9v1M398.6 109.8v1M416.6 105v1.9M425.6 103.1v1M430.1 101.2v1M394.1 115.9v1M407.6 112.9v2M407.6 123.7v1M416.6 121.8v1M421.1 117.8v1M425.6 115.9v1M389.6 128v1M394.1 131v1M394.1 137.9v1M398.6 137.9v1M407.6 134.9v1M430.1 131v1M389.6 145v1M394.1 147.9v1M394.1 150.9v1M407.6 147.9v1M412.1 142.1v1M412.1 144v1M412.1 149.9v1M416.6 146v1M416.6 148.9v1M421.1 149.9v1.9M425.6 145v1M425.6 148.9v1.9M425.6 151.8v1M430.1 144v1M394.1 154.8v1.1M394.1 158.1v1.1M394.1 160.2v1.1M398.6 157v2.2M403.1 154.8v1.1M407.6 155.9v1.1M412.1 157v4.3M425.6 157v1.1M430.1 158.1v1.1M389.6 167.7v2M394.1 163.6v3M398.6 165.6v1M407.6 164.6v1M407.6 166.6v1M412.1 165.6v1M416.6 164.6v1M425.6 168.7v1M389.6 172.6v1M394.1 173.6v1M403.1 173.6v1M407.6 171.6v1M421.1 173.6v1" stroke="#ffffea" stroke-width="4.5" fill="none"/>
<path d="M394.1 42.2v1M398.6 44.2v1M389.6 53.3v1M394.1 73.4v1M398.6 148.9v1M403.1 147.9v1M403.1 149.9v1M416.6 147v1M394.1 157v1.1" stroke="#ffff92" stroke-width="4.5" fill="none"/>
<path d="M436.9 4.3v1M436.9 27.3v1M436.9 54.3v1M436.9 63.3v1M436.9 72.4v1M436.9 78.4v1M436.9 85.4v1M436.9 133v2M436.9 143.1v1M436.9 151.8v1M436.9 159.1v2.2" stroke="#ffffea" stroke-width="5.2" fill="none"/>
<path d="M436.9 5.3v1M436.9 26.3v1M436.9 43.2v1M436.9 62.3v1M436.9 64.3v1M436.9 70.4v1M436.9 99.2v1M436.9 103.1v1M436.9 106.9v1.9M436.9 117.8v2M436.9 131v1M436.9 144v1M436.9 163.6v1" stroke="#e1d7ea" stroke-width="5.2" fill="none"/>
<path d="M436.9 6.3v1M436.9 12.3v1M436.9 15.3v1M436.9 69.4v1M436.9 79.4v1M436.9 84.4v1M436.9 87.3v1M436.9 92.3v1M436.9 97.3v1M436.9 104v1M436.9 114.9v1M436.9 122.7v1M436.9 124.7v1M436.9 142.1v1M436.9 147.9v1M436.9 157v1.1" stroke="#cdbcdb" stroke-width="5.2" fill="none"/>
<path d="M436.9 7.3v1M436.9 11.3v1M436.9 13.3v1M436.9 17.3v1M436.9 20.3v1M436.9 23.3v2M436.9 32.2v2M436.9 37.2v1M436.9 48.2v1M436.9 57.3v2M436.9 61.3v1M436.9 71.4v1M436.9 112.9v1" stroke="#f2eef6" stroke-width="5.2" fill="none"/>
<path d="M436.9 8.3v1M436.9 18.3v1M436.9 21.3v1M436.9 25.3v1M436.9 29.2v2M436.9 40.2v3M436.9 49.2v1M436.9 68.4v1M436.9 73.4v2M436.9 86.4v1M436.9 89.3v1M436.9 91.3v1M436.9 94.3v1M436.9 102.1v1M436.9 108.9v1M436.9 119.8v1M436.9 121.8v1M436.9 164.6v1" stroke="#fffff9" stroke-width="5.2" fill="none"/>
<path d="M436.9 9.3v2M436.9 34.2v1M436.9 47.2v1M436.9 53.3v1M436.9 106v1M436.9 109.8v1M436.9 116.8v1M436.9 136.9v1M436.9 146v1M436.9 168.7v1" stroke="#ffffd3" stroke-width="5.2" fill="none"/>
<path d="M436.9 19.3v1M436.9 36.2v1M436.9 39.2v1M436.9 75.4v1" stroke="#ffff92" stroke-width="5.2" fill="none"/>
<path d="M436.9 31.2v1M436.9 44.2v1M436.9 50.2v1M436.9 67.4v1M436.9 98.3v1M436.9 134.9v1M436.9 138.9v1M436.9 155.9v1.1" stroke="#ffffb6" stroke-width="5.2" fill="none"/>
<path d="M444 4.3v1M444 22.3v1M444 43.2v1M444 50.2v1M448.6 38.2v1M453.2 21.3v1M453.2 28.2v1M453.2 31.2v1M457.8 17.3v1M462.4 6.3v2M462.4 9.3v1M462.4 16.3v1M462.4 21.3v1M462.4 32.2v1M462.4 39.2v1M462.4 41.2v1M462.4 46.2v1M466.9 46.2v1M466.9 48.2v2M471.5 7.3v1M476.1 28.2v1M476.1 44.2v1M480.7 5.3v1M480.7 10.3v1M480.7 34.2v1M480.7 36.2v1M480.7 49.2v1M485.3 5.3v1M485.3 11.3v2M485.3 16.3v1M485.3 20.3v1M485.3 30.2v2M485.3 34.2v1M491.7 10.3v1M496.3 9.3v1M496.3 13.3v1M496.3 18.3v1M496.3 21.3v1M496.3 29.2v1M496.3 32.2v1M496.3 40.2v1M496.3 44.2v1M500.9 8.3v1M500.9 14.3v2M500.9 21.3v2M500.9 28.2v2M500.9 35.2v1M500.9 39.2v1M500.9 42.2v1M500.9 45.2v1M500.9 50.2v1M505.4 12.3v1M505.4 16.3v1M505.4 26.3v2M505.4 30.2v1M505.4 36.2v2M505.4 44.2v1M505.4 49.2v1M510 14.3v1M510 32.2v1M514.6 15.3v1M514.6 18.3v1M514.6 27.3v2M514.6 41.2v1M514.6 47.2v1M519.2 10.3v1M519.2 23.3v1M519.2 32.2v1M519.2 46.2v1M444 56.3v2M444 67.4v1M444 70.4v1M448.6 54.3v1M448.6 57.3v1M448.6 61.3v2M448.6 73.4v1M448.6 75.4v1M453.2 58.3v1M453.2 61.3v1M453.2 63.3v2M453.2 73.4v1M457.8 56.3v1M457.8 59.3v1M457.8 62.3v2M457.8 69.4v1M462.4 54.3v1M462.4 57.3v2M462.4 75.4v1M466.9 61.3v1M466.9 64.3v1M466.9 67.4v1M466.9 74.4v1M471.5 63.3v1M471.5 69.4v1M471.5 71.4v1M476.1 53.3v1M476.1 72.4v1M476.1 74.4v1M480.7 53.3v1M480.7 63.3v1M480.7 67.4v1M480.7 75.4v1M485.3 59.3v1M485.3 62.3v1M485.3 64.3v1M485.3 73.4v1M491.7 70.4v1M491.7 74.4v1M496.3 54.3v1M500.9 64.3v1M505.4 55.3v3M505.4 64.3v1M505.4 73.4v1M510 60.3v1M510 63.3v1M510 72.4v1M514.6 54.3v1M514.6 60.3v1M514.6 67.4v2M514.6 71.4v1M519.2 57.3v2M519.2 61.3v1M519.2 66.4v1M519.2 70.4v1M519.2 73.4v1M448.6 86.4v1M453.2 79.4v1M457.8 78.4v1M457.8 80.4v1M457.8 83.4v1M457.8 86.4v2M457.8 92.3v3M462.4 78.4v1M462.4 83.4v1M462.4 86.4v1M462.4 88.3v1M462.4 92.3v1M466.9 94.3v1M480.7 81.4v1M485.3 83.4v1M485.3 85.4v1M485.3 92.3v2M510 82.4v3M510 88.3v3M510 92.3v1M448.6 97.3v1M448.6 100.2v1M448.6 104v1M462.4 106.9v1M471.5 97.3v1M476.1 103.1v1M485.3 100.2v1M485.3 104v1M496.3 97.3v1M496.3 101.2v1M500.9 108.9v1M505.4 101.2v1.9M510 108.9v1M514.6 98.3v1M514.6 102.1v1M514.6 106.9v1M519.2 101.2v1M457.8 115.9v1M457.8 119.8v1M462.4 116.8v1M471.5 118.8v1M476.1 120.8v1M480.7 115.9v1M485.3 113.9v2M510 119.8v1M519.2 120.8v1M444 134.9v1M448.6 136.9v1M457.8 129v1M457.8 131v2M457.8 138.9v1M462.4 129v1M462.4 132v2M462.4 138.9v1M476.1 136.9v1M476.1 138.9v1M480.7 135.9v1M485.3 134.9v1M491.7 133v1M496.3 129v1M444 143.1v1M448.6 151.8v1M453.2 142.1v1.9M457.8 143.1v1M457.8 145v1.9M462.4 142.1v1M462.4 144v1M462.4 147.9v1M462.4 149.9v1M466.9 147v1M466.9 149.9v1M480.7 142.1v2.9M485.3 145v1M485.3 150.9v1M491.7 151.8v1M496.3 145v1M496.3 149.9v1M500.9 146v1M500.9 149.9v1M500.9 151.8v1M505.4 148.9v1M510 146v1M510 150.9v1.9M514.6 148.9v1M519.2 142.1v1M448.6 160.2v1.1M453.2 154.8v1.1M457.8 157v2.2M466.9 155.9v2.2M480.7 157v1.1M480.7 159.1v1.1M485.3 157v2.2M491.7 158.1v1.1M491.7 160.2v1.1M496.3 155.9v1.1M500.9 154.8v1.1M505.4 155.9v1.1M505.4 160.2v1.1M510 154.8v1.1M514.6 160.2v1.1M519.2 155.9v1.1M519.2 158.1v1.1M519.2 160.2v1.1M444 166.6v1M457.8 167.7v1M466.9 165.6v1M471.5 167.7v1M480.7 163.6v1M480.7 165.6v1M485.3 163.6v1M485.3 166.6v1M485.3 168.7v1M505.4 164.6v1M505.4 166.6v1M519.2 163.6v1M519.2 165.6v1M448.6 173.6v1M457.8 171.6v1M462.4 173.6v1M466.9 171.6v1M496.3 172.6v1M500.9 171.6v1M510 173.6v1M519.2 172.6v1" stroke="#ffffea" stroke-width="4.59" fill="none"/>
<path d="M444 5.3v1M444 7.3v1M444 9.3v1M444 17.3v1M444 24.3v1M444 26.3v1M444 28.2v1M444 35.2v1M444 37.2v1M444 42.2v1M448.6 7.3v1M448.6 9.3v1M448.6 16.3v1M448.6 20.3v2M448.6 26.3v1M448.6 31.2v1M448.6 39.2v1M448.6 44.2v2M453.2 6.3v1M453.2 9.3v1M453.2 14.3v2M453.2 19.3v1M453.2 27.3v1M453.2 32.2v2M453.2 36.2v1M453.2 38.2v1M453.2 40.2v1M453.2 46.2v1M453.2 50.2v1M457.8 4.3v1M457.8 18.3v2M457.8 21.3v1M457.8 23.3v1M457.8 25.3v1M457.8 29.2v1M457.8 37.2v1M457.8 50.2v1M466.9 18.3v2M466.9 21.3v1M471.5 5.3v1M471.5 8.3v1M471.5 16.3v1M471.5 22.3v3M471.5 27.3v1M471.5 33.2v1M471.5 43.2v3M476.1 11.3v1M476.1 15.3v1M476.1 21.3v1M476.1 25.3v1M476.1 29.2v1M476.1 31.2v2M476.1 37.2v1M476.1 42.2v2M476.1 48.2v2M480.7 13.3v1M480.7 28.2v1M480.7 32.2v1M480.7 41.2v1M480.7 50.2v1M491.7 11.3v1M491.7 17.3v1M491.7 27.3v1M491.7 37.2v1M491.7 41.2v1M491.7 45.2v1M496.3 7.3v1M496.3 15.3v1M496.3 33.2v2M496.3 37.2v3M496.3 42.2v1M496.3 48.2v2M500.9 13.3v1M500.9 20.3v1M500.9 24.3v1M500.9 27.3v1M500.9 38.2v1M500.9 40.2v1M505.4 20.3v1M514.6 6.3v2M514.6 16.3v1M514.6 19.3v1M514.6 44.2v1M514.6 50.2v1M519.2 13.3v1M519.2 28.2v2M519.2 40.2v1M519.2 50.2v1M444 54.3v1M444 63.3v1M444 75.4v1M448.6 53.3v1M448.6 74.4v1M453.2 55.3v1M453.2 67.4v1M466.9 56.3v1M466.9 58.3v1M466.9 69.4v1M466.9 73.4v1M471.5 53.3v1M471.5 55.3v1M471.5 61.3v1M471.5 66.4v1M471.5 70.4v1M476.1 56.3v1M476.1 58.3v1M476.1 60.3v3M476.1 68.4v2M480.7 56.3v1M480.7 59.3v1M480.7 62.3v1M480.7 65.4v2M480.7 69.4v1M491.7 60.3v1M496.3 53.3v1M496.3 55.3v1M496.3 59.3v1M500.9 56.3v1M500.9 59.3v1M500.9 69.4v2M500.9 75.4v1M514.6 61.3v1M519.2 59.3v2M519.2 72.4v1M491.7 84.4v1M491.7 86.4v1M491.7 91.3v1M491.7 93.3v1M500.9 87.3v1M514.6 94.3v1M519.2 82.4v2M444 103.1v1M444 108.9v1M448.6 99.2v1M448.6 107.9v1M453.2 103.1v1M457.8 97.3v1M457.8 103.1v1M462.4 101.2v1.9M462.4 105v1M462.4 107.9v1M462.4 109.8v1M466.9 104v1M471.5 98.3v1M471.5 101.2v1M471.5 109.8v1M476.1 100.2v1M476.1 106v1M491.7 102.1v1M491.7 106v1M496.3 105v1M500.9 97.3v1M500.9 101.2v2.9M500.9 105v1M500.9 106.9v1M500.9 109.8v1M514.6 103.1v1.9M514.6 107.9v1M444 113.9v2M444 121.8v1M448.6 118.8v1M448.6 121.8v1M453.2 124.7v1M457.8 121.8v1M466.9 115.9v1M471.5 117.8v1M471.5 119.8v1M471.5 122.7v1M476.1 112.9v1M480.7 121.8v1M491.7 112.9v1M496.3 117.8v1M496.3 123.7v1M500.9 114.9v2M505.4 114.9v1M514.6 113.9v1M519.2 114.9v2M519.2 119.8v1M519.2 124.7v1M444 129v3M448.6 129v2M448.6 133.9v1M448.6 137.9v2M453.2 131v3M457.8 136.9v1M462.4 137.9v1M466.9 129v1M466.9 133.9v1M471.5 137.9v1M476.1 135.9v1M480.7 128v1M480.7 131v1M496.3 135.9v1M500.9 128v1M500.9 133v1M505.4 133.9v1M510 137.9v1M514.6 137.9v1M519.2 133.9v2M444 142.1v1M444 146v1M444 151.8v1M448.6 143.1v1M448.6 148.9v1M448.6 150.9v1M453.2 147.9v1M457.8 142.1v1M457.8 147v1M457.8 149.9v2.9M466.9 146v1M466.9 147.9v1M471.5 142.1v1M471.5 146v1M480.7 145v1M480.7 148.9v1M480.7 151.8v1M491.7 147.9v1M496.3 146v1M500.9 142.1v1M500.9 144v1M505.4 142.1v1M505.4 145v1.9M505.4 150.9v1M514.6 143.1v1M514.6 149.9v1.9M519.2 145v1.9M519.2 147.9v1.9M444 157v1.1M444 160.2v1.1M466.9 160.2v1.1M471.5 160.2v1.1M476.1 154.8v2.2M496.3 157v1.1M505.4 158.1v1.1M510 157v1.1M510 159.1v1.1M514.6 157v1.1M444 164.6v1M444 168.7v1M448.6 165.6v3M466.9 166.6v1M471.5 163.6v1M476.1 163.6v1M480.7 166.6v1M491.7 163.6v1M491.7 166.6v1M496.3 165.6v1M500.9 163.6v3M510 166.6v2M514.6 163.6v3M466.9 172.6v1M476.1 173.6v1M480.7 173.6v1" stroke="#f2eef6" stroke-width="4.59" fill="none"/>
<path d="M444 8.3v1M444 13.3v1M444 15.3v2M444 25.3v1M444 31.2v1M444 33.2v2M444 36.2v1M444 38.2v1M444 41.2v1M444 45.2v1M444 47.2v2M448.6 5.3v1M448.6 10.3v1M448.6 15.3v1M448.6 17.3v1M448.6 19.3v1M448.6 24.3v2M448.6 28.2v1M448.6 37.2v1M448.6 43.2v1M453.2 4.3v1M453.2 13.3v1M453.2 20.3v1M453.2 26.3v1M453.2 48.2v2M457.8 6.3v1M457.8 10.3v1M457.8 26.3v1M457.8 30.2v1M457.8 35.2v1M457.8 38.2v1M457.8 40.2v1M457.8 43.2v1M457.8 48.2v1M462.4 12.3v1M466.9 4.3v1M466.9 12.3v1M466.9 14.3v1M466.9 17.3v1M466.9 24.3v4M466.9 32.2v1M466.9 34.2v1M466.9 44.2v1M466.9 50.2v1M471.5 4.3v1M471.5 11.3v4M471.5 20.3v2M471.5 25.3v1M471.5 35.2v1M471.5 49.2v2M476.1 7.3v1M476.1 14.3v1M476.1 16.3v2M476.1 33.2v1M476.1 45.2v1M480.7 14.3v1M480.7 17.3v1M480.7 24.3v1M480.7 29.2v3M480.7 42.2v1M485.3 26.3v1M491.7 6.3v1M491.7 12.3v1M491.7 16.3v1M491.7 18.3v2M491.7 24.3v1M491.7 35.2v1M491.7 38.2v1M491.7 42.2v1M491.7 48.2v1M496.3 10.3v1M496.3 12.3v1M496.3 14.3v1M496.3 20.3v1M496.3 23.3v1M496.3 30.2v1M496.3 45.2v1M505.4 15.3v1M514.6 9.3v1M514.6 11.3v1M514.6 36.2v1M514.6 38.2v1M519.2 15.3v3M519.2 33.2v1M519.2 37.2v1M519.2 43.2v1M444 55.3v1M444 58.3v1M444 60.3v1M444 68.4v1M448.6 63.3v1M453.2 59.3v1M453.2 74.4v1M457.8 53.3v1M466.9 63.3v1M466.9 72.4v1M471.5 57.3v2M471.5 64.3v1M476.1 67.4v1M485.3 74.4v1M496.3 61.3v1M496.3 64.3v1M496.3 70.4v1M496.3 73.4v1M500.9 65.4v1M505.4 59.3v1M505.4 71.4v1M519.2 64.3v1M519.2 75.4v1M444 78.4v1M444 81.4v1M444 86.4v1M444 89.3v2M448.6 84.4v1M448.6 87.3v1M448.6 89.3v1M453.2 94.3v1M462.4 91.3v1M466.9 91.3v1M466.9 93.3v1M471.5 81.4v1M471.5 87.3v1M476.1 86.4v1M476.1 88.3v1M476.1 92.3v2M480.7 79.4v2M480.7 83.4v2M480.7 87.3v1M485.3 88.3v1M491.7 80.4v1M491.7 94.3v1M496.3 79.4v1M496.3 81.4v1M496.3 84.4v1M496.3 89.3v2M500.9 82.4v1M500.9 85.4v1M500.9 88.3v1M500.9 93.3v1M505.4 80.4v1M505.4 85.4v1M505.4 93.3v1M514.6 85.4v1M514.6 88.3v1M514.6 90.3v1M519.2 79.4v1M519.2 81.4v1M519.2 93.3v1M491.7 99.2v1M491.7 101.2v1M491.7 106.9v1.9M496.3 98.3v1M496.3 102.1v1M496.3 104v1M496.3 106v1.9M500.9 99.2v1M514.6 101.2v1M514.6 106v1M519.2 99.2v1M519.2 105v1M444 117.8v1M444 122.7v2M448.6 119.8v1M448.6 123.7v1M453.2 116.8v1M466.9 122.7v1M471.5 113.9v1M480.7 123.7v1M444 133.9v1M444 136.9v1M448.6 128v1M466.9 128v1M466.9 131v3M466.9 134.9v4M471.5 133.9v1M471.5 136.9v1M476.1 132v1M476.1 133.9v2M480.7 129v1M444 147v1M448.6 146v1M466.9 145v1M471.5 143.1v1M471.5 150.9v1M476.1 143.1v1M476.1 146v1M496.3 144v1M505.4 147v1M471.5 154.8v1.1M471.5 158.1v1.1M476.1 157v2.2M491.7 154.8v1.1M496.3 159.1v2.2M514.6 159.1v1.1M462.4 164.6v2M471.5 166.6v1M476.1 165.6v1M496.3 164.6v1M519.2 167.7v1M444 172.6v1M448.6 172.6v1M453.2 171.6v1M453.2 173.6v1M476.1 171.6v1M491.7 172.6v1M514.6 171.6v2M519.2 171.6v1" stroke="#e1d7ea" stroke-width="4.59" fill="none"/>
<path d="M444 10.3v1M444 20.3v2M444 23.3v1M444 29.2v1M444 44.2v1M444 49.2v1M448.6 6.3v1M448.6 11.3v2M448.6 14.3v1M448.6 23.3v1M448.6 27.3v1M448.6 30.2v1M448.6 32.2v1M448.6 35.2v1M448.6 41.2v1M448.6 46.2v1M448.6 48.2v1M448.6 50.2v1M453.2 7.3v1M453.2 10.3v1M453.2 12.3v1M453.2 17.3v1M453.2 23.3v2M453.2 44.2v1M457.8 13.3v3M457.8 22.3v1M457.8 24.3v1M457.8 28.2v1M457.8 32.2v2M457.8 42.2v1M457.8 44.2v3M466.9 5.3v2M466.9 20.3v1M466.9 33.2v1M466.9 37.2v1M466.9 42.2v1M471.5 9.3v2M471.5 26.3v1M471.5 28.2v1M471.5 30.2v1M471.5 32.2v1M471.5 37.2v1M471.5 40.2v1M471.5 42.2v1M471.5 48.2v1M476.1 4.3v1M476.1 12.3v1M476.1 18.3v1M476.1 26.3v1M480.7 7.3v1M480.7 11.3v1M480.7 21.3v1M480.7 25.3v1M480.7 33.2v1M480.7 37.2v2M480.7 45.2v1M480.7 47.2v1M485.3 9.3v1M491.7 14.3v2M491.7 21.3v1M491.7 23.3v1M491.7 28.2v1M491.7 33.2v1M491.7 36.2v1M491.7 43.2v1M496.3 6.3v1M496.3 11.3v1M514.6 45.2v1M519.2 11.3v1M519.2 22.3v1M519.2 41.2v2M453.2 65.4v2M453.2 69.4v1M466.9 55.3v1M466.9 62.3v1M471.5 73.4v2M476.1 66.4v1M476.1 73.4v1M480.7 73.4v1M491.7 61.3v1M500.9 61.3v1M500.9 72.4v1M505.4 72.4v1M510 70.4v1M444 80.4v1M444 83.4v1M444 85.4v1M444 87.3v2M444 92.3v1M444 94.3v1M448.6 78.4v1M448.6 82.4v1M448.6 92.3v1M453.2 82.4v1M453.2 84.4v4M453.2 90.3v4M462.4 94.3v1M466.9 80.4v1M466.9 83.4v1M466.9 85.4v1M466.9 89.3v2M471.5 83.4v1M471.5 89.3v1M471.5 92.3v1M476.1 78.4v1M476.1 80.4v4M476.1 85.4v1M476.1 89.3v2M476.1 94.3v1M480.7 85.4v1M480.7 89.3v2M480.7 92.3v1M485.3 89.3v1M444 99.2v1M444 101.2v1M444 105v1.9M444 109.8v1M448.6 102.1v1M448.6 105v1M453.2 101.2v1M453.2 105v1M453.2 108.9v1M457.8 98.3v1M457.8 100.2v1M457.8 106v1M462.4 100.2v1M462.4 104v1M462.4 106v1M462.4 108.9v1M466.9 97.3v1M466.9 102.1v1.9M466.9 106.9v1M466.9 108.9v1M471.5 99.2v1M471.5 103.1v1M480.7 99.2v1M480.7 103.1v1.9M480.7 106v1M480.7 107.9v1M480.7 109.8v1M491.7 97.3v1M491.7 104v1.9M491.7 109.8v1M496.3 99.2v1M496.3 107.9v1M500.9 104v1M500.9 106v1M510 100.2v1M514.6 105v1M514.6 108.9v1.9M519.2 106v1.9M519.2 108.9v1M444 112.9v1M444 124.7v1M448.6 120.8v1M453.2 115.9v1M453.2 118.8v1M453.2 121.8v3M466.9 114.9v1M466.9 119.8v1M466.9 121.8v1M466.9 123.7v2M471.5 112.9v1M471.5 114.9v3M471.5 120.8v1M471.5 123.7v1M476.1 119.8v1M476.1 123.7v2M480.7 119.8v1M480.7 122.7v1M485.3 119.8v1M491.7 121.8v1M496.3 119.8v1M496.3 121.8v2M500.9 118.8v1M500.9 123.7v2M505.4 112.9v1M505.4 120.8v1M510 112.9v1M510 117.8v1M510 121.8v1M514.6 114.9v1M514.6 120.8v3.9M444 138.9v1M448.6 135.9v1M471.5 129v1M471.5 131v2M471.5 135.9v1M471.5 138.9v1M476.1 128v1M491.7 131v1M491.7 133.9v1M496.3 133v1M505.4 135.9v1M510 131v1M519.2 135.9v1M457.8 148.9v1M466.9 142.1v1M476.1 145v1M476.1 147v1M480.7 147v1M480.7 149.9v1M514.6 147.9v1M519.2 143.1v1M519.2 147v1M519.2 149.9v1.9M448.6 154.8v1.1M453.2 157v1.1M476.1 160.2v1.1M500.9 159.1v1.1M505.4 154.8v1.1M448.6 163.6v1M453.2 163.6v1M453.2 166.6v1M453.2 168.7v1M462.4 163.6v1M462.4 166.6v1M466.9 163.6v1M471.5 164.6v2M471.5 168.7v1M476.1 167.7v1M491.7 165.6v1M491.7 167.7v2M496.3 168.7v1M500.9 168.7v1M505.4 167.7v1M444 171.6v1M448.6 171.6v1M471.5 171.6v2M505.4 171.6v1" stroke="#cdbcdb" stroke-width="4.59" fill="none"/>
<path d="M444 11.3v1M444 14.3v1M444 18.3v2M444 27.3v1M444 39.2v1M444 46.2v1M448.6 8.3v1M448.6 13.3v1M448.6 18.3v1M448.6 22.3v1M448.6 29.2v1M448.6 33.2v1M448.6 47.2v1M453.2 8.3v1M453.2 22.3v1M453.2 25.3v1M453.2 29.2v2M453.2 42.2v1M453.2 47.2v1M457.8 5.3v1M457.8 8.3v1M457.8 16.3v1M457.8 27.3v1M457.8 36.2v1M457.8 41.2v1M457.8 47.2v1M462.4 4.3v2M462.4 8.3v1M462.4 10.3v2M462.4 15.3v1M462.4 17.3v4M462.4 23.3v7M462.4 33.2v5M462.4 40.2v1M462.4 42.2v3M462.4 47.2v4M466.9 9.3v1M466.9 16.3v1M466.9 45.2v1M466.9 47.2v1M471.5 6.3v1M471.5 15.3v1M471.5 17.3v1M471.5 34.2v1M471.5 47.2v1M476.1 6.3v1M476.1 13.3v1M476.1 20.3v1M476.1 23.3v1M476.1 34.2v1M476.1 40.2v1M476.1 46.2v1M476.1 50.2v1M480.7 9.3v1M480.7 19.3v2M480.7 26.3v1M480.7 35.2v1M480.7 44.2v1M485.3 4.3v1M485.3 6.3v3M485.3 10.3v1M485.3 13.3v3M485.3 17.3v1M485.3 19.3v1M485.3 21.3v1M485.3 23.3v3M485.3 28.2v2M485.3 32.2v2M485.3 35.2v15M444 82.4v1M448.6 85.4v1M448.6 94.3v1M453.2 80.4v1M457.8 79.4v1M457.8 81.4v2M457.8 84.4v2M457.8 88.3v2M457.8 91.3v1M462.4 79.4v4M462.4 85.4v1M462.4 87.3v1M462.4 89.3v2M462.4 93.3v1M471.5 88.3v1M480.7 82.4v1M480.7 86.4v1M480.7 93.3v2M485.3 78.4v3M485.3 82.4v1M485.3 84.4v1M485.3 86.4v2M485.3 90.3v2M485.3 94.3v1M510 79.4v2M510 85.4v3M510 91.3v1M510 93.3v2M444 97.3v1M471.5 102.1v1M471.5 104v1M471.5 107.9v1.9M485.3 97.3v2.9M485.3 101.2v2.9M485.3 105v3.9M485.3 109.8v1M491.7 100.2v1M496.3 100.2v1M500.9 100.2v1M505.4 97.3v2.9M505.4 103.1v5.8M505.4 109.8v1M510 97.3v2.9M510 103.1v5.8M510 109.8v1M514.6 97.3v1M514.6 100.2v1M519.2 100.2v1M444 115.9v2M448.6 114.9v1M448.6 116.8v1M453.2 113.9v1M453.2 117.8v1M453.2 119.8v2M457.8 112.9v3M457.8 116.8v2M457.8 120.8v1M457.8 123.7v2M462.4 112.9v3M462.4 117.8v7.9M466.9 116.8v3M476.1 115.9v1M476.1 118.8v1M476.1 121.8v1M480.7 112.9v3M480.7 116.8v2M485.3 112.9v1M485.3 115.9v1M485.3 117.8v2M485.3 120.8v4.9M491.7 113.9v1M500.9 119.8v2M505.4 124.7v1M519.2 122.7v1M444 132v1M448.6 131v3M453.2 129v1M453.2 136.9v2M457.8 128v1M457.8 130v1M457.8 133v2M457.8 135.9v1M457.8 137.9v1M462.4 128v1M462.4 130v1M462.4 133.9v3M476.1 133v1M480.7 130v1M480.7 132v1M480.7 138.9v1M485.3 128v6.9M485.3 135.9v3M491.7 130v1M500.9 130v1M500.9 137.9v1M510 132v1M514.6 128v2M519.2 128v1M519.2 137.9v2M444 163.6v1M457.8 163.6v2M457.8 166.6v1M457.8 168.7v1M466.9 164.6v1M466.9 168.7v1M476.1 166.6v1M476.1 168.7v1M485.3 164.6v2M485.3 167.7v1M491.7 164.6v1M496.3 166.6v1M510 168.7v1M514.6 166.6v3M519.2 166.6v1M519.2 168.7v1M496.3 173.6v1M505.4 173.6v1M510 171.6v1" stroke="#fffff9" stroke-width="4.59" fill="none"/>
<path d="M453.2 16.3v1M453.2 35.2v1M466.9 23.3v1M466.9 31.2v1M476.1 22.3v1M476.1 24.3v1M480.7 40.2v1M496.3 19.3v1M500.9 34.2v1M500.9 48.2v1M514.6 8.3v1M514.6 31.2v3M514.6 39.2v1M448.6 64.3v1M453.2 53.3v1M453.2 57.3v1M471.5 62.3v1M480.7 71.4v1M491.7 53.3v1M491.7 58.3v1M491.7 68.4v1M491.7 72.4v1M496.3 67.4v1M500.9 71.4v1M514.6 65.4v1M519.2 53.3v1M519.2 65.4v1M466.9 105v1M496.3 103.1v1M500.9 107.9v1M519.2 107.9v1M448.6 117.8v1M444 133v1M453.2 128v1M491.7 129v1M510 133.9v1M453.2 149.9v1.9M466.9 143.1v1M476.1 149.9v1M491.7 145v1M496.3 147.9v1M514.6 144v1M453.2 155.9v1.1M496.3 154.8v1.1M514.6 155.9v1.1M466.9 167.7v1M476.1 164.6v1M496.3 163.6v1" stroke="#ffffb6" stroke-width="4.59" fill="none"/>
<path d="M453.2 39.2v1M457.8 11.3v1M457.8 31.2v1M457.8 49.2v1M466.9 13.3v1M466.9 29.2v1M466.9 36.2v1M466.9 43.2v1M471.5 39.2v1M476.1 9.3v1M476.1 27.3v1M476.1 35.2v2M476.1 47.2v1M491.7 25.3v1M491.7 29.2v1M496.3 25.3v1M496.3 27.3v1M496.3 36.2v1M500.9 19.3v1M500.9 25.3v1M500.9 31.2v1M500.9 36.2v1M500.9 47.2v1M500.9 49.2v1M514.6 21.3v1M514.6 23.3v1M514.6 25.3v1M514.6 30.2v1M514.6 34.2v1M519.2 12.3v1M519.2 31.2v1M519.2 36.2v1M444 62.3v1M444 69.4v1M453.2 54.3v1M453.2 60.3v1M453.2 68.4v1M471.5 65.4v1M471.5 68.4v1M476.1 75.4v1M480.7 57.3v1M480.7 61.3v1M480.7 64.3v1M480.7 70.4v1M491.7 55.3v2M491.7 73.4v1M491.7 75.4v1M496.3 57.3v1M496.3 71.4v1M500.9 58.3v1M500.9 74.4v1M514.6 55.3v2M514.6 63.3v1M514.6 70.4v1M514.6 73.4v2M519.2 63.3v1M519.2 67.4v1M444 98.3v1M519.2 98.3v1M519.2 109.8v1M453.2 114.9v1M480.7 120.8v1M505.4 115.9v1M453.2 133.9v1M471.5 128v1M476.1 129v1M448.6 142.1v1M448.6 147v1M453.2 145v1M453.2 151.8v1M457.8 144v1M471.5 145v1M471.5 147.9v1M471.5 151.8v1M476.1 142.1v1M491.7 143.1v1M491.7 149.9v1M496.3 142.1v1.9M496.3 147v1M496.3 148.9v1M505.4 143.1v1M505.4 151.8v1M519.2 151.8v1M444 158.1v1.1M453.2 158.1v2.2M466.9 154.8v1.1M471.5 157v1.1M471.5 159.1v1.1M480.7 154.8v1.1M500.9 158.1v1.1M505.4 159.1v1.1M510 160.2v1.1M444 165.6v1M444 167.7v1M453.2 164.6v1M453.2 167.7v1M480.7 167.7v1M496.3 167.7v1M500.9 167.7v1M519.2 164.6v1M453.2 172.6v1" stroke="#ffffd3" stroke-width="4.59" fill="none"/>
<path d="M491.7 4.3v2M496.3 5.3v1M500.9 4.3v1M505.4 5.3v1M510 4.3v2M514.6 5.3v1M519.2 5.3v1M491.7 78.4v1M491.7 81.4v2M491.7 85.4v1M491.7 90.3v1M496.3 80.4v1M496.3 88.3v1M500.9 83.4v1M500.9 86.4v1M500.9 89.3v1M500.9 94.3v1M505.4 79.4v1M505.4 82.4v1M514.6 79.4v1M514.6 81.4v1M514.6 84.4v1M514.6 86.4v1M514.6 93.3v1M519.2 78.4v1M519.2 86.4v1M519.2 89.3v1M444 102.1v1M448.6 106v1M453.2 104v1M453.2 109.8v1M457.8 99.2v1M457.8 105v1M457.8 106.9v1.9M476.1 104v1M476.1 109.8v1M480.7 100.2v1M480.7 102.1v1M480.7 108.9v1M491.7 117.8v1M491.7 124.7v1M496.3 118.8v1M500.9 112.9v2M505.4 122.7v2M510 115.9v1M510 122.7v1M514.6 117.8v2M519.2 118.8v1M491.7 136.9v1M496.3 133.9v1M496.3 137.9v2M500.9 132v1M500.9 136.9v1M505.4 130v2M505.4 133v1M510 134.9v1M514.6 132v2M519.2 133v1M496.3 171.6v1M510 172.6v1" stroke="#b7a0cc" stroke-width="4.59" fill="none"/>
<path d="M491.7 7.3v1M491.7 13.3v1M491.7 20.3v1M491.7 26.3v1M491.7 30.2v3M491.7 34.2v1M491.7 39.2v2M491.7 44.2v1M491.7 50.2v1M496.3 8.3v1M496.3 17.3v1M496.3 26.3v1M496.3 28.2v1M496.3 31.2v1M496.3 35.2v1M496.3 41.2v1M496.3 46.2v2M496.3 50.2v1M500.9 7.3v1M500.9 10.3v1M500.9 16.3v1M500.9 18.3v1M500.9 30.2v1M500.9 32.2v1M500.9 41.2v1M500.9 46.2v1M505.4 9.3v1M505.4 13.3v1M505.4 35.2v1M510 12.3v1M510 24.3v1M510 40.2v1M514.6 12.3v2M514.6 22.3v1M514.6 24.3v1M514.6 29.2v1M514.6 35.2v1M514.6 40.2v1M514.6 42.2v1M514.6 48.2v1M519.2 6.3v1M519.2 9.3v1M519.2 24.3v2M519.2 27.3v1M519.2 34.2v1M519.2 38.2v1M519.2 47.2v1M444 53.3v1M444 59.3v1M444 65.4v1M444 72.4v1M444 74.4v1M448.6 55.3v1M448.6 58.3v2M448.6 68.4v3M448.6 72.4v1M453.2 56.3v1M453.2 71.4v1M453.2 75.4v1M462.4 59.3v1M462.4 61.3v1M462.4 65.4v1M466.9 57.3v1M471.5 54.3v1M471.5 56.3v1M471.5 60.3v1M471.5 72.4v1M471.5 75.4v1M476.1 64.3v2M476.1 70.4v1M480.7 55.3v1M480.7 58.3v1M480.7 60.3v1M480.7 74.4v1M485.3 75.4v1M491.7 57.3v1M491.7 66.4v1M496.3 56.3v1M496.3 60.3v1M496.3 62.3v1M496.3 68.4v1M496.3 74.4v2M500.9 63.3v1M500.9 66.4v2M505.4 67.4v1M514.6 57.3v3M514.6 62.3v1M514.6 69.4v1M519.2 54.3v3M519.2 62.3v1M519.2 69.4v1M519.2 71.4v1M444 79.4v1M444 93.3v1M448.6 79.4v1M448.6 88.3v1M448.6 91.3v1M448.6 93.3v1M453.2 81.4v1M453.2 83.4v1M457.8 90.3v1M462.4 84.4v1M466.9 87.3v2M471.5 78.4v1M471.5 84.4v1M471.5 86.4v1M471.5 94.3v1M476.1 79.4v1M476.1 84.4v1M476.1 87.3v1M480.7 91.3v1M485.3 81.4v1M491.7 88.3v1M491.7 92.3v1M496.3 78.4v1M500.9 79.4v1M505.4 81.4v1M510 78.4v1M510 81.4v1M448.6 98.3v1M448.6 108.9v1M453.2 97.3v2.9M453.2 102.1v1M453.2 106.9v1M457.8 104v1M457.8 108.9v1M462.4 97.3v1M466.9 99.2v1M466.9 106v1M466.9 107.9v1M471.5 100.2v1M471.5 105v1M476.1 97.3v1.9M480.7 98.3v1M485.3 108.9v1M496.3 113.9v1M496.3 115.9v2M500.9 116.8v1M505.4 113.9v1M510 113.9v2M510 120.8v1M519.2 116.8v1M519.2 123.7v1M496.3 132v1M500.9 133.9v1M505.4 128v2M505.4 132v1M505.4 134.9v1M510 129v1M510 136.9v1M514.6 131v1M514.6 133.9v1M444 144v1M444 148.9v1.9M448.6 147.9v1M453.2 144v1M453.2 146v1M457.8 147.9v1M462.4 145v1M466.9 148.9v1M471.5 149.9v1M476.1 147.9v1M476.1 150.9v1.9M480.7 146v1M491.7 148.9v1M491.7 150.9v1M496.3 150.9v1M500.9 143.1v1M500.9 147.9v1M510 145v1M510 147.9v1M514.6 142.1v1M514.6 146v1.9M448.6 155.9v3.2M471.5 155.9v1.1M476.1 159.1v1.1M480.7 155.9v1.1M480.7 158.1v1.1M480.7 160.2v1.1M491.7 155.9v1.1M491.7 159.1v1.1M510 155.9v1.1M510 158.1v1.1M514.6 154.8v1.1M519.2 159.1v1.1M471.5 173.6v1M491.7 171.6v1M505.4 172.6v1M514.6 173.6v1" stroke="#ffffff" stroke-width="4.59" fill="none"/>
<path d="M496.3 4.3v1M500.9 5.3v1M505.4 4.3v1M519.2 4.3v1M491.7 83.4v1M496.3 83.4v1M496.3 85.4v1M500.9 78.4v1M500.9 91.3v2M505.4 84.4v1M505.4 87.3v3M505.4 94.3v1M514.6 83.4v1M514.6 87.3v1M514.6 92.3v1M519.2 80.4v1M519.2 85.4v1M519.2 90.3v1M444 100.2v1M444 104v1M462.4 103.1v1M471.5 106.9v1M476.1 105v1M491.7 119.8v2M491.7 123.7v1M496.3 114.9v1M496.3 120.8v1M496.3 124.7v1M500.9 117.8v1M510 116.8v1M514.6 115.9v2M514.6 119.8v1M514.6 124.7v1M519.2 113.9v1M519.2 121.8v1M491.7 134.9v2M496.3 136.9v1M500.9 131v1M500.9 134.9v1M505.4 136.9v1M514.6 136.9v1M514.6 138.9v1M519.2 130v2M519.2 136.9v1" stroke="#a081bc" stroke-width="4.59" fill="none"/>
<path d="M514.6 4.3v1M496.3 86.4v2M496.3 91.3v1M500.9 84.4v1M505.4 83.4v1M505.4 90.3v1M514.6 80.4v1M519.2 87.3v1M519.2 94.3v1M453.2 107.9v1M476.1 108.9v1M480.7 101.2v1M491.7 118.8v1M491.7 132v1M500.9 129v1M510 133v1M519.2 129v1" stroke="#8861ab" stroke-width="4.59" fill="none"/>
<path d="M514.6 10.3v1M519.2 21.3v1M519.2 44.2v2M466.9 53.3v1M466.9 60.3v1M496.3 66.4v1M500.9 53.3v2M514.6 75.4v1M480.7 136.9v1M453.2 147v1M491.7 144v1M491.7 146v1M444 154.8v1.1M444 159.1v1.1M491.7 157v1.1M519.2 154.8v1.1M453.2 165.6v1" stroke="#ffff92" stroke-width="4.59" fill="none"/>
<path d="M525.6 5.3v2M525.6 9.3v1M525.6 17.3v1M525.6 21.3v1M525.6 37.2v1M525.6 42.2v1M525.6 45.2v1M525.6 49.2v2M530.2 5.3v1M530.2 30.2v1M530.2 44.2v1M534.8 5.3v1M534.8 7.3v1M534.8 11.3v1M534.8 13.3v1M534.8 15.3v1M534.8 23.3v2M534.8 30.2v1M534.8 44.2v2M539.3 11.3v1M539.3 16.3v1M539.3 30.2v1M539.3 39.2v2M539.3 50.2v1M543.9 12.3v1M543.9 21.3v3M543.9 39.2v1M543.9 47.2v1M543.9 49.2v1M525.6 64.3v1M525.6 69.4v1M530.2 63.3v1M539.3 61.3v1M539.3 65.4v1M543.9 57.3v1M543.9 62.3v2M525.6 85.4v1M525.6 87.3v1M530.2 83.4v1M530.2 86.4v1M539.3 84.4v1M543.9 81.4v1M543.9 91.3v1M525.6 102.1v1M525.6 105v1M530.2 97.3v1M530.2 100.2v2.9M534.8 103.1v1M534.8 105v1M534.8 109.8v1M543.9 101.2v1M543.9 108.9v1.9M525.6 114.9v1M525.6 123.7v1M534.8 123.7v2M543.9 113.9v1M525.6 136.9v1M534.8 134.9v1M543.9 136.9v1M530.2 143.1v1M534.8 143.1v1M534.8 150.9v1M539.3 145v1M539.3 151.8v1M543.9 149.9v1" stroke="#e1d7ea" stroke-width="4.58" fill="none"/>
<path d="M525.6 7.3v1M525.6 10.3v1M525.6 12.3v1M525.6 28.2v1M525.6 30.2v1M525.6 38.2v1M530.2 9.3v1M530.2 11.3v1M530.2 13.3v1M530.2 17.3v1M530.2 19.3v2M530.2 29.2v1M530.2 34.2v1M530.2 37.2v2M530.2 45.2v1M530.2 49.2v1M534.8 19.3v1M534.8 31.2v1M534.8 33.2v1M534.8 36.2v1M534.8 41.2v1M534.8 46.2v1M539.3 5.3v1M539.3 9.3v2M539.3 15.3v1M539.3 23.3v2M539.3 26.3v1M539.3 28.2v1M539.3 31.2v1M539.3 33.2v1M539.3 43.2v1M539.3 45.2v2M539.3 48.2v1M543.9 28.2v1M543.9 31.2v1M543.9 34.2v1M525.6 56.3v1M525.6 59.3v1M525.6 70.4v1M530.2 55.3v1M530.2 57.3v1M530.2 61.3v1M530.2 70.4v1M530.2 73.4v1M534.8 53.3v1M534.8 60.3v1M534.8 64.3v1M534.8 71.4v2M534.8 75.4v1M539.3 59.3v1M539.3 62.3v1M539.3 71.4v1M539.3 73.4v1M543.9 56.3v1M525.6 97.3v1M525.6 106.9v1M525.6 109.8v1M539.3 98.3v1M539.3 100.2v1M539.3 103.1v2.9M539.3 106.9v1M539.3 109.8v1M543.9 102.1v1.9M525.6 122.7v1M530.2 113.9v1M530.2 119.8v2M534.8 113.9v2M534.8 116.8v2M534.8 122.7v1M539.3 116.8v1M539.3 119.8v1M539.3 123.7v1M543.9 122.7v1M543.9 124.7v1M525.6 129v1M525.6 133v1M530.2 131v1M530.2 133v1M530.2 137.9v1M534.8 128v1M534.8 135.9v1M539.3 134.9v1M543.9 128v1M543.9 132v1M543.9 137.9v1M525.6 171.6v1M539.3 173.6v1" stroke="#fffff9" stroke-width="4.58" fill="none"/>
<path d="M525.6 11.3v1M525.6 13.3v2M525.6 16.3v1M525.6 19.3v1M525.6 24.3v1M525.6 33.2v1M525.6 39.2v3M525.6 48.2v1M530.2 15.3v1M530.2 42.2v2M530.2 48.2v1M534.8 20.3v1M534.8 40.2v1M539.3 13.3v1M539.3 20.3v1M539.3 29.2v1M539.3 36.2v1M539.3 38.2v1M539.3 41.2v1M539.3 49.2v1M543.9 6.3v1M543.9 9.3v1M543.9 14.3v1M543.9 37.2v1M525.6 53.3v1M525.6 63.3v1M525.6 65.4v1M525.6 67.4v1M525.6 71.4v1M530.2 60.3v1M530.2 66.4v1M530.2 68.4v1M530.2 72.4v1M534.8 68.4v1M539.3 66.4v1M539.3 70.4v1M543.9 54.3v2M543.9 60.3v1M543.9 64.3v1M543.9 74.4v1M525.6 80.4v1M525.6 89.3v2M530.2 78.4v1M530.2 81.4v2M530.2 93.3v1M543.9 78.4v1M543.9 80.4v1M543.9 90.3v1M530.2 107.9v1M534.8 98.3v1M543.9 98.3v1.9M543.9 105v1M543.9 107.9v1M530.2 118.8v1M530.2 123.7v1M534.8 115.9v1M534.8 118.8v1M539.3 118.8v1M543.9 123.7v1M525.6 130v1M534.8 130v1M543.9 133v1M543.9 135.9v1M534.8 148.9v1.9M539.3 143.1v1M539.3 147v1M525.6 155.9v1.1M525.6 168.7v1M530.2 163.6v1M530.2 166.6v3M539.3 165.6v1M525.6 172.6v1M530.2 172.6v2M539.3 171.6v1M543.9 171.6v1" stroke="#cdbcdb" stroke-width="4.58" fill="none"/>
<path d="M525.6 15.3v1M525.6 18.3v1M525.6 23.3v1M525.6 26.3v2M525.6 29.2v1M525.6 32.2v1M525.6 34.2v1M525.6 43.2v1M530.2 6.3v2M530.2 14.3v1M530.2 23.3v1M530.2 27.3v1M530.2 31.2v2M530.2 35.2v1M530.2 40.2v1M534.8 14.3v1M534.8 27.3v1M534.8 29.2v1M534.8 32.2v1M534.8 34.2v1M534.8 49.2v2M539.3 25.3v1M539.3 32.2v1M539.3 47.2v1M543.9 5.3v1M543.9 10.3v2M543.9 16.3v2M543.9 19.3v1M543.9 27.3v1M543.9 29.2v1M543.9 32.2v1M543.9 36.2v1M543.9 48.2v1M525.6 54.3v2M525.6 57.3v1M525.6 62.3v1M525.6 66.4v1M530.2 53.3v1M534.8 56.3v1M534.8 59.3v1M534.8 63.3v1M539.3 53.3v1M539.3 55.3v1M539.3 68.4v2M543.9 53.3v1M543.9 59.3v1M543.9 61.3v1M543.9 67.4v1M543.9 69.4v1M525.6 79.4v1M525.6 83.4v1M525.6 88.3v1M530.2 80.4v1M530.2 87.3v1M530.2 91.3v1M534.8 84.4v1M534.8 87.3v1M539.3 78.4v1M539.3 85.4v1M543.9 83.4v2M543.9 87.3v1M525.6 108.9v1M530.2 103.1v1M530.2 106v1M530.2 109.8v1M534.8 101.2v1.9M534.8 107.9v1.9M539.3 107.9v1.9M543.9 100.2v1M543.9 106v1.9M525.6 112.9v1M525.6 116.8v1M525.6 118.8v1M525.6 120.8v1M530.2 112.9v1M530.2 114.9v1M530.2 117.8v1M530.2 122.7v1M530.2 124.7v1M534.8 121.8v1M539.3 113.9v1M539.3 121.8v2M543.9 115.9v3M543.9 119.8v1M525.6 131v1M530.2 129v1M530.2 133.9v1M530.2 136.9v1M530.2 138.9v1M534.8 133.9v1M534.8 136.9v1M539.3 129v1M539.3 135.9v1M539.3 138.9v1M543.9 133.9v2M525.6 145v1M530.2 147.9v1M534.8 144v1.9M539.3 150.9v1M543.9 142.1v1.9M539.3 157v1.1M543.9 155.9v2.2M525.6 166.6v1M534.8 173.6v1M543.9 173.6v1" stroke="#f2eef6" stroke-width="4.58" fill="none"/>
<path d="M525.6 22.3v1M525.6 25.3v1M525.6 35.2v1M525.6 44.2v1M525.6 46.2v2M530.2 4.3v1M530.2 16.3v1M530.2 47.2v1M534.8 4.3v1M534.8 8.3v1M534.8 16.3v3M534.8 35.2v1M534.8 37.2v1M534.8 43.2v1M534.8 47.2v1M539.3 6.3v3M539.3 18.3v1M539.3 21.3v1M543.9 13.3v1M543.9 20.3v1M543.9 30.2v1M543.9 38.2v1M543.9 41.2v1M530.2 56.3v1M530.2 59.3v1M530.2 65.4v1M534.8 58.3v1M534.8 62.3v1M534.8 70.4v1M539.3 67.4v1M543.9 73.4v1M525.6 82.4v1M530.2 85.4v1M530.2 90.3v1M530.2 94.3v1M534.8 83.4v1M534.8 85.4v1M534.8 88.3v1M534.8 90.3v1M539.3 81.4v3M539.3 88.3v1M539.3 91.3v2M539.3 94.3v1M543.9 88.3v1M525.6 98.3v1M525.6 103.1v1M530.2 104v1M530.2 106.9v1M534.8 99.2v1M539.3 97.3v1M539.3 106v1M525.6 119.8v1M530.2 121.8v1M534.8 112.9v1M534.8 119.8v2M539.3 117.8v1M539.3 120.8v1M539.3 124.7v1M543.9 118.8v1M543.9 120.8v2M525.6 134.9v2M525.6 137.9v1M530.2 132v1M530.2 135.9v1M534.8 132v2M534.8 137.9v1M539.3 128v1M539.3 131v1M525.6 143.1v1M525.6 151.8v1M530.2 144v1M530.2 147v1M530.2 148.9v1M534.8 151.8v1M539.3 142.1v1M539.3 146v1M539.3 148.9v1.9M543.9 147v1M543.9 148.9v1M543.9 158.1v1.1M525.6 165.6v1M525.6 167.7v1M530.2 164.6v1M534.8 163.6v1M539.3 163.6v2M539.3 166.6v1M543.9 163.6v1M543.9 166.6v1M543.9 168.7v1M534.8 172.6v1" stroke="#ffffea" stroke-width="4.58" fill="none"/>
<path d="M525.6 31.2v1M530.2 24.3v1M530.2 33.2v1M530.2 41.2v1M534.8 9.3v2M534.8 21.3v1M534.8 26.3v1M534.8 39.2v1M539.3 22.3v1M539.3 35.2v1M539.3 37.2v1M543.9 4.3v1M543.9 18.3v1M543.9 33.2v1M543.9 44.2v1M534.8 55.3v1M534.8 57.3v1M534.8 69.4v1M539.3 60.3v1M543.9 70.4v2M525.6 86.4v1M530.2 79.4v1M530.2 88.3v1M530.2 92.3v1M534.8 78.4v1M534.8 80.4v1M534.8 86.4v1M543.9 93.3v2M525.6 99.2v1M525.6 106v1M525.6 107.9v1M534.8 100.2v1M534.8 106.9v1M539.3 102.1v1M525.6 128v1M525.6 133.9v1M525.6 138.9v1M530.2 128v1M543.9 138.9v1M525.6 147v1M530.2 146v1M534.8 147.9v1M534.8 154.8v2.2M543.9 167.7v1" stroke="#ffffd3" stroke-width="4.58" fill="none"/>
<path d="M525.6 36.2v1M530.2 10.3v1M530.2 12.3v1M543.9 24.3v1M543.9 46.2v1M530.2 69.4v1M534.8 61.3v1M539.3 87.3v1M539.3 90.3v1M530.2 98.3v1M539.3 99.2v1M539.3 132v1M543.9 131v1M525.6 146v1M543.9 144v1M543.9 150.9v1M530.2 160.2v1.1M543.9 154.8v1.1M534.8 167.7v1" stroke="#ffffb6" stroke-width="4.58" fill="none"/>
<path d="M530.2 39.2v1M534.8 12.3v1M539.3 86.4v1M525.6 100.2v1M530.2 108.9v1M525.6 117.8v1M530.2 116.8v1M539.3 136.9v1M534.8 146v1M543.9 151.8v1M539.3 168.7v1" stroke="#ffff92" stroke-width="4.58" fill="none"/>
<path d="M550.7 4.3v1M550.7 7.3v1M550.7 28.2v1M550.7 33.2v1M550.7 40.2v1M550.7 43.2v1M559.9 5.3v1M559.9 22.3v1M559.9 30.2v2M559.9 35.2v1M559.9 40.2v1M559.9 44.2v2M564.5 10.3v1M564.5 16.3v1M564.5 38.2v1M564.5 49.2v1M569.1 26.3v1M569.1 30.2v1M569.1 37.2v1M569.1 44.2v1M569.1 48.2v1M573.8 22.3v1M573.8 24.3v1M573.8 35.2v1M573.8 39.2v1M573.8 48.2v1M578.4 10.3v1M578.4 21.3v1M578.4 28.2v1M578.4 37.2v1M578.4 45.2v1M583 9.3v1M583 14.3v1M583 21.3v1M583 32.2v1M583 40.2v2M583 45.2v1M587.6 10.3v1M587.6 21.3v2M587.6 41.2v1M592.2 17.3v1M592.2 24.3v1M592.2 29.2v1M592.2 39.2v2M592.2 42.2v1M555.3 54.3v1M559.9 53.3v1M559.9 55.3v1M559.9 59.3v1M559.9 66.4v2M564.5 62.3v1M569.1 56.3v1M569.1 64.3v3M569.1 69.4v1M569.1 75.4v1M573.8 55.3v1M573.8 63.3v1M578.4 61.3v1M578.4 69.4v1M583 56.3v2M583 60.3v1M583 64.3v1M583 71.4v1M587.6 57.3v1M592.2 55.3v2M592.2 67.4v1M592.2 69.4v1M550.7 79.4v1M550.7 81.4v1M550.7 85.4v1M550.7 88.3v1M550.7 94.3v1M564.5 82.4v1M573.8 86.4v2M573.8 91.3v1M578.4 87.3v1M592.2 80.4v1M592.2 83.4v1M550.7 109.8v1M555.3 97.3v1M555.3 100.2v1M555.3 106.9v1.9M564.5 97.3v1M564.5 100.2v1.9M573.8 104v1M573.8 107.9v1.9M583 99.2v1M592.2 107.9v1M559.9 113.9v1M559.9 117.8v1M564.5 120.8v1M573.8 121.8v1M578.4 115.9v1M578.4 119.8v1M592.2 113.9v1M592.2 123.7v1M583 132v1M587.6 137.9v1M592.2 133v1M559.9 147v1M559.9 148.9v1M573.8 142.1v1M573.8 145v1M578.4 142.1v1M592.2 143.1v1M559.9 158.1v1.1M573.8 154.8v1.1M578.4 154.8v1.1M583 157v1.1M550.7 164.6v1M550.7 166.6v1M559.9 166.6v1M578.4 164.6v1M583 163.6v1M550.7 173.6v1M583 173.6v1" stroke="#cdbcdb" stroke-width="4.61" fill="none"/>
<path d="M550.7 5.3v2M550.7 29.2v1M550.7 50.2v1M559.9 8.3v1M564.5 23.3v1M569.1 14.3v1M569.1 23.3v1M569.1 33.2v1M573.8 4.3v1M573.8 8.3v1M573.8 29.2v1M573.8 36.2v1M578.4 5.3v1M578.4 24.3v1M578.4 26.3v1M578.4 48.2v1M583 6.3v1M583 27.3v1M583 33.2v1M583 39.2v1M583 43.2v1M587.6 43.2v1M587.6 45.2v1M592.2 5.3v1M592.2 23.3v1M592.2 45.2v1M592.2 47.2v1M559.9 68.4v1M559.9 70.4v1M573.8 59.3v2M573.8 68.4v1M578.4 65.4v1M583 54.3v1M583 73.4v1M592.2 68.4v1M559.9 85.4v1M559.9 91.3v1M564.5 91.3v1M573.8 79.4v2M573.8 83.4v1M578.4 79.4v1M578.4 88.3v1M583 81.4v1M583 90.3v1M550.7 98.3v1M555.3 101.2v1M559.9 104v1.9M564.5 102.1v1M578.4 97.3v1M578.4 109.8v1M583 98.3v1M583 107.9v1M592.2 106v1M559.9 116.8v1M573.8 122.7v1M578.4 114.9v1M583 120.8v1M550.7 132v1M564.5 132v1M564.5 136.9v1M578.4 138.9v1M583 129v1M583 133v1M587.6 134.9v1M550.7 145v1M564.5 146v1M573.8 151.8v1M550.7 155.9v1.1M559.9 155.9v1.1M587.6 154.8v1.1M559.9 168.7v1M573.8 163.6v2M587.6 164.6v1M592.2 168.7v1M573.8 172.6v1M578.4 171.6v1" stroke="#ffffd3" stroke-width="4.61" fill="none"/>
<path d="M550.7 8.3v2M550.7 17.3v1M550.7 19.3v1M550.7 22.3v4M550.7 36.2v1M550.7 45.2v1M555.3 5.3v2M555.3 8.3v5M555.3 14.3v9M555.3 24.3v3M555.3 29.2v4M555.3 34.2v4M555.3 39.2v1M555.3 41.2v4M555.3 46.2v1M555.3 48.2v3M559.9 15.3v1M559.9 26.3v1M559.9 32.2v1M559.9 50.2v1M564.5 5.3v1M564.5 20.3v1M564.5 25.3v2M564.5 39.2v1M564.5 42.2v1M564.5 44.2v2M569.1 4.3v2M569.1 22.3v1M569.1 27.3v1M569.1 34.2v1M569.1 39.2v1M573.8 5.3v1M573.8 7.3v1M573.8 10.3v3M573.8 16.3v1M573.8 18.3v1M573.8 20.3v1M573.8 30.2v1M573.8 49.2v2M578.4 7.3v1M578.4 9.3v1M578.4 11.3v1M578.4 20.3v1M578.4 27.3v1M578.4 42.2v1M583 15.3v1M583 19.3v2M583 24.3v2M583 28.2v2M583 49.2v2M587.6 5.3v1M587.6 7.3v1M587.6 11.3v1M587.6 13.3v1M587.6 20.3v1M587.6 24.3v1M587.6 26.3v2M587.6 32.2v1M592.2 6.3v1M592.2 8.3v1M592.2 48.2v1M550.7 102.1v1M555.3 99.2v1M559.9 99.2v1M559.9 108.9v1M564.5 99.2v1M564.5 109.8v1M569.1 97.3v1.9M569.1 100.2v6.8M569.1 107.9v1M569.1 109.8v1M578.4 98.3v1M578.4 100.2v1M578.4 102.1v1M578.4 104v1M578.4 106v1M583 106v1M587.6 97.3v8.7M587.6 107.9v2.9M592.2 98.3v1M559.9 171.6v1M564.5 171.6v1M569.1 173.6v1M583 172.6v1M587.6 171.6v2M592.2 173.6v1" stroke="#fffff9" stroke-width="4.61" fill="none"/>
<path d="M550.7 12.3v2M550.7 15.3v1M550.7 18.3v1M550.7 26.3v2M550.7 30.2v1M555.3 4.3v1M555.3 7.3v1M555.3 13.3v1M555.3 38.2v1M555.3 40.2v1M555.3 47.2v1M559.9 4.3v1M559.9 9.3v1M559.9 11.3v1M559.9 20.3v1M559.9 28.2v1M559.9 33.2v2M559.9 42.2v1M559.9 49.2v1M564.5 15.3v1M564.5 17.3v1M564.5 30.2v1M564.5 40.2v2M564.5 47.2v1M569.1 6.3v1M569.1 8.3v1M569.1 11.3v1M569.1 19.3v2M569.1 35.2v2M573.8 25.3v1M573.8 27.3v2M573.8 31.2v1M573.8 37.2v1M573.8 42.2v1M573.8 45.2v1M573.8 47.2v1M578.4 17.3v1M578.4 29.2v1M578.4 32.2v1M578.4 34.2v1M578.4 50.2v1M583 4.3v2M583 8.3v1M583 10.3v1M583 12.3v1M583 23.3v1M583 26.3v1M583 36.2v2M583 47.2v2M587.6 4.3v1M587.6 6.3v1M587.6 9.3v1M587.6 23.3v1M587.6 30.2v1M587.6 34.2v1M592.2 7.3v1M592.2 20.3v1M592.2 22.3v1M592.2 44.2v1M550.7 58.3v1M550.7 67.4v2M550.7 71.4v1M555.3 62.3v1M555.3 68.4v1M555.3 72.4v2M564.5 58.3v1M564.5 60.3v1M569.1 54.3v1M569.1 57.3v2M569.1 61.3v1M569.1 70.4v1M573.8 53.3v2M573.8 73.4v1M578.4 53.3v1M578.4 59.3v1M578.4 68.4v1M578.4 71.4v1M583 53.3v1M583 75.4v1M587.6 61.3v2M587.6 68.4v1M592.2 54.3v1M592.2 72.4v1M555.3 79.4v2M555.3 85.4v1M559.9 78.4v1M559.9 92.3v1M564.5 83.4v1M569.1 82.4v1M569.1 93.3v2M578.4 81.4v2M578.4 92.3v1M583 80.4v1M583 92.3v1M587.6 82.4v1M587.6 84.4v1M587.6 86.4v1M592.2 79.4v1M592.2 81.4v2M592.2 85.4v1M550.7 103.1v1M555.3 98.3v1M564.5 103.1v1M564.5 108.9v1M569.1 106.9v1M569.1 108.9v1M573.8 102.1v1M578.4 99.2v1M578.4 101.2v1M578.4 103.1v1M587.6 106.9v1M550.7 124.7v1M564.5 115.9v1M564.5 122.7v1M569.1 116.8v1M573.8 114.9v1M573.8 119.8v1M573.8 124.7v1M583 115.9v1M583 118.8v2M583 121.8v1M583 124.7v1M587.6 122.7v1M592.2 114.9v1M592.2 117.8v1M550.7 129v1M550.7 131v1M550.7 133.9v2M550.7 136.9v1M555.3 130v1M555.3 134.9v1M559.9 135.9v1M559.9 137.9v2M564.5 128v1M564.5 137.9v1M569.1 129v1M573.8 129v1M573.8 132v1M573.8 133.9v1M578.4 131v1M578.4 134.9v1M578.4 137.9v1M583 128v1M583 136.9v1M587.6 133v1M587.6 135.9v1M592.2 130v1M592.2 134.9v1M550.7 146v1M559.9 143.1v1.9M564.5 143.1v1.9M569.1 147.9v1M573.8 146v1M573.8 150.9v1M578.4 147v1M578.4 148.9v1M583 145v1M587.6 143.1v1.9M555.3 157v2.2M564.5 160.2v1.1M573.8 155.9v1.1M578.4 155.9v1.1M587.6 155.9v2.2M592.2 155.9v1.1M550.7 163.6v1M550.7 167.7v1M573.8 165.6v2M578.4 167.7v2M592.2 163.6v1M592.2 166.6v1M555.3 172.6v2M569.1 171.6v1M583 171.6v1M592.2 172.6v1" stroke="#ffffea" stroke-width="4.61" fill="none"/>
<path d="M550.7 16.3v1M550.7 34.2v1M559.9 37.2v1M569.1 17.3v1M569.1 29.2v1M578.4 12.3v1M578.4 33.2v1M583 30.2v1M587.6 39.2v1M587.6 50.2v1M592.2 4.3v1M592.2 36.2v1M550.7 54.3v1M564.5 63.3v1M573.8 70.4v1M564.5 78.4v1M564.5 85.4v1M573.8 93.3v1M583 79.4v1M564.5 104v1M564.5 116.8v1M578.4 120.8v1M550.7 137.9v1M564.5 134.9v1M578.4 132v1M583 133.9v1M587.6 133.9v1M559.9 150.9v1M578.4 149.9v1M578.4 151.8v1M592.2 148.9v1M559.9 154.8v1.1M559.9 165.6v1" stroke="#ffffb6" stroke-width="4.61" fill="none"/>
<path d="M550.7 21.3v1M550.7 31.2v2M550.7 38.2v1M550.7 41.2v2M559.9 7.3v1M559.9 10.3v1M559.9 14.3v1M559.9 17.3v1M559.9 23.3v1M559.9 25.3v1M559.9 29.2v1M564.5 11.3v1M564.5 22.3v1M564.5 29.2v1M564.5 31.2v1M564.5 35.2v1M564.5 43.2v1M569.1 7.3v1M569.1 12.3v2M569.1 38.2v1M569.1 40.2v1M569.1 49.2v1M573.8 9.3v1M573.8 15.3v1M573.8 19.3v1M573.8 32.2v3M573.8 40.2v1M573.8 46.2v1M578.4 14.3v1M578.4 43.2v1M578.4 46.2v2M583 11.3v1M583 16.3v2M583 22.3v1M583 34.2v1M583 38.2v1M583 42.2v1M583 46.2v1M587.6 15.3v1M587.6 17.3v2M587.6 37.2v2M587.6 40.2v1M592.2 9.3v1M592.2 12.3v1M592.2 14.3v1M592.2 18.3v1M592.2 21.3v1M592.2 26.3v1M592.2 28.2v1M592.2 35.2v1M592.2 41.2v1M592.2 43.2v1M550.7 55.3v1M550.7 57.3v1M550.7 63.3v1M559.9 57.3v1M559.9 61.3v1M559.9 69.4v1M559.9 71.4v1M564.5 55.3v1M564.5 65.4v1M569.1 53.3v1M569.1 59.3v2M573.8 56.3v1M573.8 58.3v1M573.8 61.3v1M573.8 64.3v1M573.8 66.4v1M578.4 70.4v1M583 58.3v1M583 62.3v1M592.2 53.3v1M592.2 60.3v1M592.2 70.4v1M550.7 83.4v1M550.7 91.3v1M550.7 93.3v1M559.9 83.4v1M559.9 87.3v2M564.5 80.4v1M564.5 87.3v2M564.5 93.3v1M578.4 78.4v1M578.4 89.3v1M578.4 91.3v1M583 85.4v2M583 88.3v1M583 93.3v1M592.2 84.4v1M592.2 87.3v1M592.2 89.3v2M550.7 100.2v1.9M550.7 106v1M555.3 102.1v1M555.3 105v1.9M559.9 98.3v1M559.9 102.1v1M564.5 106.9v1M573.8 101.2v1M573.8 105v1M578.4 106.9v1M583 97.3v1M583 100.2v1M583 104v1M583 108.9v1M592.2 99.2v1.9M592.2 102.1v1M592.2 104v1.9M592.2 108.9v1.9M550.7 113.9v1M550.7 115.9v1M550.7 117.8v1M550.7 119.8v3.9M559.9 114.9v1M559.9 121.8v2M559.9 124.7v1M564.5 117.8v1M564.5 119.8v1M564.5 124.7v1M569.1 124.7v1M573.8 115.9v1M573.8 117.8v1M573.8 120.8v1M578.4 116.8v2M578.4 122.7v3M592.2 118.8v1M592.2 121.8v1M592.2 124.7v1M559.9 132v1M564.5 129v1M564.5 138.9v1M573.8 130v1M573.8 133v1M573.8 138.9v1M578.4 128v1M578.4 133.9v1M583 135.9v1M587.6 132v1M592.2 131v1M592.2 135.9v1M550.7 149.9v1M555.3 144v1M559.9 145v1M559.9 147.9v1M564.5 150.9v1M573.8 147.9v1.9M578.4 143.1v1M578.4 145v1.9M583 144v1M550.7 154.8v1.1M578.4 160.2v1.1M583 155.9v1.1M583 159.1v2.2M592.2 157v3.2M550.7 168.7v1M559.9 167.7v1M564.5 166.6v1M564.5 168.7v1M573.8 168.7v1M583 168.7v1M587.6 165.6v1M550.7 171.6v1M564.5 172.6v1M578.4 172.6v1" stroke="#f2eef6" stroke-width="4.61" fill="none"/>
<path d="M550.7 35.2v1M550.7 37.2v1M550.7 47.2v1M555.3 33.2v1M559.9 6.3v1M559.9 16.3v1M559.9 19.3v1M559.9 21.3v1M559.9 24.3v1M559.9 36.2v1M559.9 41.2v1M559.9 43.2v1M559.9 46.2v1M559.9 48.2v1M564.5 4.3v1M564.5 6.3v2M564.5 19.3v1M564.5 21.3v1M564.5 24.3v1M564.5 27.3v2M564.5 32.2v1M564.5 36.2v1M569.1 18.3v1M569.1 21.3v1M569.1 31.2v2M569.1 41.2v3M573.8 6.3v1M573.8 17.3v1M573.8 21.3v1M573.8 23.3v1M573.8 26.3v1M573.8 44.2v1M578.4 6.3v1M578.4 18.3v1M578.4 22.3v2M578.4 39.2v1M578.4 41.2v1M583 13.3v1M587.6 16.3v1M587.6 25.3v1M587.6 28.2v2M587.6 33.2v1M587.6 35.2v1M587.6 42.2v1M587.6 44.2v1M587.6 47.2v2M592.2 11.3v1M592.2 25.3v1M592.2 27.3v1M592.2 34.2v1M592.2 38.2v1M550.7 53.3v1M559.9 56.3v1M559.9 60.3v1M559.9 64.3v2M564.5 53.3v1M564.5 57.3v1M564.5 59.3v1M564.5 64.3v1M569.1 55.3v1M573.8 57.3v1M578.4 55.3v1M578.4 57.3v1M578.4 60.3v1M578.4 64.3v1M578.4 67.4v1M578.4 73.4v1M583 65.4v2M583 74.4v1M587.6 70.4v1M592.2 59.3v1M592.2 61.3v2M550.7 80.4v1M550.7 84.4v1M550.7 86.4v2M559.9 80.4v1M564.5 86.4v1M564.5 90.3v1M569.1 85.4v1M573.8 92.3v1M578.4 84.4v2M583 82.4v1M583 87.3v1M583 89.3v1M587.6 87.3v1M587.6 91.3v1M592.2 78.4v1M592.2 86.4v1M550.7 97.3v1M550.7 105v1M550.7 108.9v1M555.3 104v1M555.3 108.9v1.9M559.9 100.2v1M559.9 106v1M559.9 109.8v1M564.5 105v1.9M573.8 98.3v1M573.8 106.9v1M578.4 105v1M578.4 107.9v1M583 101.2v1M583 105v1M583 109.8v1M592.2 97.3v1M592.2 103.1v1M550.7 118.8v1M559.9 112.9v1M559.9 115.9v1M559.9 119.8v1M564.5 112.9v1M564.5 118.8v1M569.1 118.8v1M578.4 118.8v1M583 113.9v1M592.2 119.8v1M564.5 133v1M573.8 136.9v1M578.4 135.9v2M583 131v1M587.6 130v1M592.2 136.9v1M550.7 148.9v1M550.7 150.9v1M559.9 149.9v1M564.5 148.9v1M578.4 147.9v1M583 143.1v1M583 146v1M583 149.9v1M592.2 150.9v1M564.5 158.1v1.1M573.8 158.1v1.1M583 154.8v1.1M583 158.1v1.1M550.7 165.6v1M559.9 163.6v2M564.5 163.6v3M578.4 163.6v1M559.9 172.6v1M578.4 173.6v1M587.6 173.6v1M592.2 171.6v1" stroke="#e1d7ea" stroke-width="4.61" fill="none"/>
<path d="M559.9 27.3v1M564.5 33.2v1M578.4 15.3v1M583 106.9v1M559.9 128v1M559.9 134.9v1M564.5 131v1M583 134.9v1M550.7 142.1v1M564.5 149.9v1M550.7 157v1.1M559.9 157v1.1M550.7 172.6v1" stroke="#ffff92" stroke-width="4.61" fill="none"/>
<path d="M323.5 54.3v1M323.5 61.3v3M323.5 67.4v1M323.5 72.4v1M328.2 56.3v1M328.2 68.4v1M323.5 78.4v1M323.5 97.3v1M323.5 106v1M328.2 102.1v1M328.2 106.9v1M323.5 128v1M328.2 133.9v1M323.5 143.1v1M323.5 147v1M323.5 149.9v1.9M328.2 148.9v1M323.5 159.1v1.1M328.2 154.8v1.1M323.5 168.7v1M328.2 173.6v1" stroke="#ffffff" stroke-width="4.75" fill="none"/>
<path d="M323.5 60.3v1M328.2 69.4v1M328.2 73.4v1M323.5 104v1" stroke="#ffffb6" stroke-width="4.75" fill="none"/>
<path d="M334.9 55.3v1M334.9 69.4v1M334.9 71.4v1M334.9 98.3v1.9M334.9 116.8v2M334.9 123.7v1M334.9 143.1v1M334.9 173.6v1" stroke="#ffffff" stroke-width="5.1" fill="none"/>
<path d="M355.3 73.4v1" stroke="#ffff36" stroke-width="4.57" fill="none"/>
<path d="M389.6 70.4v1M394.1 53.3v1M394.1 56.3v1M394.1 60.3v3M394.1 69.4v1M394.1 74.4v1M398.6 54.3v1M398.6 61.3v1M398.6 63.3v1M398.6 72.4v2M403.1 55.3v2M403.1 65.4v1M403.1 71.4v1M403.1 74.4v1M407.6 69.4v1M416.6 56.3v1M416.6 63.3v2M416.6 69.4v1M416.6 71.4v1M421.1 55.3v1M421.1 65.4v2M421.1 75.4v1M425.6 56.3v2M425.6 59.3v1M425.6 73.4v2M430.1 53.3v2M430.1 72.4v1M389.6 79.4v1M389.6 82.4v1M398.6 80.4v1M398.6 89.3v1M403.1 79.4v1M403.1 82.4v1M403.1 87.3v1M407.6 88.3v1M416.6 80.4v1M416.6 84.4v1M421.1 84.4v1M421.1 89.3v1M425.6 84.4v1M425.6 86.4v1M425.6 90.3v1M430.1 87.3v1M430.1 93.3v1M389.6 99.2v1M389.6 103.1v1.9M394.1 100.2v1M394.1 106v1M398.6 100.2v1M398.6 102.1v1M407.6 100.2v1M407.6 106v1M412.1 101.2v1M412.1 105v1M412.1 107.9v1M416.6 98.3v1M425.6 99.2v1M425.6 107.9v1.9M430.1 104v1M430.1 109.8v1M389.6 117.8v1M394.1 117.8v1M394.1 119.8v1M394.1 122.7v2M398.6 115.9v1M403.1 114.9v1M403.1 123.7v1M412.1 122.7v2M416.6 117.8v1M430.1 120.8v1M389.6 135.9v4M407.6 130v1M412.1 135.9v1M416.6 135.9v1M421.1 131v1M421.1 133v1M421.1 134.9v1M425.6 130v1M389.6 143.1v1M389.6 147v1M394.1 149.9v1M398.6 147v1.9M403.1 146v1M403.1 148.9v1M403.1 150.9v1M407.6 151.8v1M412.1 151.8v1M421.1 147.9v1M425.6 144v1M425.6 147.9v1M389.6 154.8v1.1M394.1 155.9v1.1M394.1 159.1v1.1M403.1 158.1v2.2M407.6 157v1.1M416.6 155.9v4.3M421.1 155.9v1.1M430.1 155.9v1.1M389.6 163.6v1M389.6 165.6v1M398.6 163.6v2M403.1 166.6v3M407.6 167.7v1M416.6 163.6v1M416.6 165.6v2M421.1 167.7v1M425.6 165.6v2M430.1 168.7v1M389.6 171.6v1M403.1 172.6v1" stroke="#ffffff" stroke-width="4.5" fill="none"/>
<path d="M476.1 54.3v1M476.1 71.4v1" stroke="#ffff36" stroke-width="4.59" fill="none"/>
<path d="M491.7 65.4v1M496.3 63.3v1M491.7 147v1M480.7 164.6v1" stroke="#ffff67" stroke-width="4.59" fill="none"/>
<path d="M525.6 72.4v4M530.2 74.4v1M534.8 73.4v2M539.3 72.4v1M539.3 74.4v2M543.9 72.4v1M543.9 75.4v1M534.8 91.3v1M525.6 159.1v2.2M534.8 159.1v2.2M539.3 160.2v1.1M543.9 159.1v2.2" stroke="#ffff36" stroke-width="4.58" fill="none"/>
<path d="M550.7 59.3v2M550.7 65.4v2M550.7 69.4v2M559.9 62.3v2M564.5 56.3v1M564.5 68.4v2M564.5 71.4v1M569.1 63.3v1M569.1 71.4v1M573.8 69.4v1M573.8 71.4v1M578.4 54.3v1M578.4 58.3v1M578.4 63.3v1M583 69.4v2M587.6 59.3v1M592.2 57.3v2M592.2 63.3v4M592.2 71.4v1M550.7 78.4v1M550.7 89.3v2M550.7 92.3v1M555.3 82.4v1M559.9 79.4v1M559.9 81.4v1M559.9 84.4v1M559.9 86.4v1M559.9 89.3v1M564.5 81.4v1M564.5 84.4v1M564.5 94.3v1M569.1 86.4v1M573.8 78.4v1M573.8 84.4v1M573.8 89.3v1M573.8 94.3v1M578.4 80.4v1M578.4 83.4v1M578.4 93.3v2M583 83.4v1M583 94.3v1M587.6 89.3v1M592.2 93.3v1M550.7 112.9v1M555.3 122.7v3M559.9 118.8v1M559.9 123.7v1M564.5 113.9v2M569.1 117.8v1M569.1 119.8v1M573.8 116.8v1M573.8 123.7v1M578.4 112.9v1M583 116.8v2M587.6 112.9v1M592.2 112.9v1M592.2 115.9v2M592.2 120.8v1M550.7 133v1M550.7 138.9v1M555.3 128v1M555.3 131v1M559.9 133.9v1M559.9 136.9v1M564.5 133.9v1M569.1 133v1M569.1 134.9v1M573.8 128v1M573.8 134.9v2M578.4 129v1M583 130v1M583 138.9v1M587.6 131v1M587.6 136.9v1M592.2 128v1M592.2 138.9v1M550.7 143.1v1M555.3 147v1M559.9 142.1v1M559.9 146v1M564.5 142.1v1M564.5 145v1M564.5 147v1.9M573.8 143.1v1M573.8 147v1M573.8 149.9v1M578.4 144v1M578.4 150.9v1M583 142.1v1M583 148.9v1M583 151.8v1M587.6 149.9v2.9M592.2 142.1v1M592.2 144v1.9M592.2 147v1M592.2 151.8v1M564.5 154.8v3.2M587.6 158.1v1.1M592.2 154.8v1.1M578.4 166.6v1M583 165.6v3" stroke="#ffffff" stroke-width="4.61" fill="none"/>
<path d="M550.7 72.4v4M555.3 74.4v2M559.9 72.4v4M564.5 72.4v4M569.1 72.4v3M573.8 72.4v1M573.8 75.4v1M578.4 72.4v1M578.4 74.4v2M583 72.4v1M587.6 72.4v4M592.2 73.4v3M583 78.4v1M550.7 159.1v2.2M559.9 159.1v1.1M569.1 159.1v2.2M573.8 159.1v2.2M578.4 159.1v1.1M587.6 159.1v2.2M592.2 160.2v1.1" stroke="#ffff36" stroke-width="4.61" fill="none"/>
<path d="M323.5 80.4v1M323.5 82.4v1M328.2 82.4v1M328.2 84.4v1" stroke="#b7a0cc" stroke-width="4.75" fill="none"/>
<path d="M323.5 87.3v1M328.2 78.4v1M328.2 81.4v1M328.2 83.4v1M323.5 163.6v1M328.2 166.6v1" stroke="#a081bc" stroke-width="4.75" fill="none"/>
<path d="M323.5 89.3v1M328.2 88.3v1M328.2 163.6v1" stroke="#6e3f99" stroke-width="4.75" fill="none"/>
<path d="M323.5 90.3v2M323.5 93.3v1M328.2 90.3v1M323.5 164.6v1" stroke="#8861ab" stroke-width="4.75" fill="none"/>
<path d="M341.6 83.4v1" stroke="#ffff00" stroke-width="4.57" fill="none"/>
<path d="M389.6 81.4v1M421.1 86.4v1M403.1 101.2v1M403.1 108.9v1M416.6 99.2v1M416.6 114.9v1M416.6 122.7v1M430.1 132v1" stroke="#6e3f99" stroke-width="4.5" fill="none"/>
<path d="M389.6 86.4v2M389.6 90.3v1M394.1 81.4v1M394.1 92.3v1M398.6 79.4v1M403.1 86.4v1M403.1 93.3v1M412.1 81.4v2M412.1 93.3v1M416.6 82.4v2M416.6 92.3v1M421.1 80.4v1M421.1 82.4v1M421.1 92.3v2M425.6 83.4v1M425.6 88.3v1M430.1 85.4v1M394.1 107.9v1M403.1 102.1v1.9M403.1 107.9v1M403.1 109.8v1M412.1 102.1v1.9M416.6 107.9v1M416.6 109.8v1M421.1 97.3v1M421.1 99.2v1M430.1 102.1v1M389.6 113.9v1M389.6 120.8v2M394.1 113.9v1M398.6 116.8v1M403.1 120.8v1M412.1 118.8v1M425.6 112.9v1M430.1 116.8v1M398.6 130v1M398.6 132v1M398.6 138.9v1M403.1 130v2M412.1 129v1M412.1 133.9v1M421.1 138.9v1M430.1 130v1M430.1 136.9v1M430.1 138.9v1" stroke="#a081bc" stroke-width="4.5" fill="none"/>
<path d="M394.1 78.4v1M403.1 99.2v1M430.1 103.1v1" stroke="#541c86" stroke-width="4.5" fill="none"/>
<path d="M394.1 84.4v1M394.1 94.3v1M398.6 90.3v1M398.6 93.3v1M403.1 78.4v1M403.1 85.4v1M403.1 89.3v1M403.1 94.3v1M407.6 79.4v1M407.6 85.4v2M412.1 80.4v1M412.1 87.3v3M412.1 91.3v1M416.6 78.4v1M416.6 81.4v1M416.6 87.3v1M421.1 78.4v1M421.1 85.4v1M421.1 88.3v1M421.1 90.3v1M425.6 91.3v1M430.1 79.4v1M430.1 82.4v3M430.1 86.4v1M430.1 91.3v1M389.6 100.2v1M389.6 106.9v1M394.1 98.3v1M403.1 100.2v1M403.1 105v1M407.6 99.2v1M412.1 98.3v1M412.1 104v1M412.1 109.8v1M416.6 102.1v1M416.6 106.9v1M421.1 98.3v1M430.1 100.2v1M430.1 108.9v1M389.6 119.8v1M389.6 122.7v1M394.1 120.8v1M398.6 119.8v1M398.6 121.8v1M403.1 116.8v1M412.1 116.8v1M412.1 121.8v1M412.1 124.7v1M416.6 120.8v1M421.1 122.7v1M425.6 117.8v1M425.6 119.8v1M425.6 124.7v1M430.1 121.8v1M430.1 124.7v1M389.6 130v1M389.6 134.9v1M398.6 128v1M398.6 136.9v1M403.1 133v1M403.1 135.9v1M407.6 129v1M407.6 131v1M407.6 133v1M412.1 133v1M416.6 136.9v1M421.1 130v1M421.1 135.9v1M421.1 137.9v1M425.6 131v1M430.1 135.9v1" stroke="#b7a0cc" stroke-width="4.5" fill="none"/>
<path d="M403.1 90.3v2M412.1 79.4v1M412.1 86.4v1M412.1 94.3v1M416.6 88.3v1M416.6 93.3v1M425.6 94.3v1M430.1 80.4v1M403.1 106.9v1M416.6 100.2v1M421.1 106.9v1M398.6 112.9v1M398.6 120.8v1M398.6 122.7v2M403.1 119.8v1M403.1 121.8v1M412.1 120.8v1M416.6 116.8v1M425.6 122.7v1M430.1 114.9v1M430.1 118.8v1M398.6 129v1M403.1 129v1" stroke="#8861ab" stroke-width="4.5" fill="none"/>
<path d="M436.9 82.4v1M436.9 90.3v1M436.9 101.2v1M436.9 129v2M436.9 145v1M436.9 147v1M436.9 165.6v1" stroke="#ffffff" stroke-width="5.2" fill="none"/>
<path d="M491.7 89.3v1M505.4 91.3v1M514.6 78.4v1M496.3 130v1M514.6 134.9v1" stroke="#541c86" stroke-width="4.59" fill="none"/>
<path d="M505.4 78.4v1M519.2 91.3v1M444 107.9v1M476.1 101.2v1M500.9 121.8v1M500.9 135.9v1" stroke="#6e3f99" stroke-width="4.59" fill="none"/>
<path d="M525.6 78.4v1M525.6 81.4v1M525.6 84.4v1M525.6 92.3v1M534.8 82.4v1M539.3 79.4v2M539.3 89.3v1M543.9 79.4v1M543.9 82.4v1M543.9 85.4v1M543.9 89.3v1M525.6 142.1v1M525.6 144v1M525.6 147.9v1M525.6 150.9v1M530.2 145v1M539.3 144v1M543.9 146v1M543.9 147.9v1M525.6 154.8v1.1M525.6 158.1v1.1M530.2 157v1.1M534.8 157v1.1M539.3 154.8v2.2M539.3 159.1v1.1M525.6 163.6v1M530.2 165.6v1M534.8 165.6v2M534.8 168.7v1M539.3 167.7v1M525.6 173.6v1" stroke="#ffffff" stroke-width="4.58" fill="none"/>
<path d="M534.8 94.3v1M530.2 150.9v1" stroke="#ffff67" stroke-width="4.58" fill="none"/>
<path d="M559.9 90.3v1M559.9 131v1M592.2 129v1" stroke="#ffff67" stroke-width="4.61" fill="none"/>
<path d="M436.9 100.2v1" stroke="#ffff67" stroke-width="5.2" fill="none"/>
<path d="M334.9 137.9v1" stroke="#ffff67" stroke-width="5.1" fill="none"/>
<path d="M334.9 145v1M334.9 166.6v1" stroke="#ffff92" stroke-width="5.1" fill="none"/>
<path d="M334.9 150.9v1" stroke="#ffffb6" stroke-width="5.1" fill="none"/>
<path d="M346.2 151.8v1M359.9 149.9v1M364.4 147.9v1M369 147.9v1M369 149.9v2.9M373.6 149.9v1M373.6 151.8v1M378.1 143.1v2.9M378.1 148.9v1M382.7 146v1.9" stroke="#8861ab" stroke-width="4.57" fill="none"/>
<path d="M350.7 144v1M350.7 150.9v1" stroke="#fffff9" stroke-width="4.57" fill="none"/>
<path d="M355.3 149.9v2.9M359.9 148.9v1M359.9 150.9v1M364.4 148.9v3.9M369 148.9v1M373.6 144v1.9M373.6 147v2.9M378.1 146v1M382.7 143.1v1M382.7 147.9v1" stroke="#a081bc" stroke-width="4.57" fill="none"/>
<path d="M359.9 151.8v1M373.6 150.9v1M378.1 147v1.9M378.1 149.9v1M382.7 145v1M382.7 148.9v1M382.7 150.9v1" stroke="#6e3f99" stroke-width="4.57" fill="none"/>
<path d="M378.1 150.9v1.9M382.7 149.9v1M382.7 151.8v1" stroke="#541c86" stroke-width="4.57" fill="none"/>
<path d="M398.6 151.8v1" stroke="#ffff67" stroke-width="4.5" fill="none"/>
<path d="M334.9 155.9v1.1" stroke="#8861ab" stroke-width="5.1" fill="none"/>
<path d="M334.9 159.1v1.1" stroke="#b7a0cc" stroke-width="5.1" fill="none"/>
<path d="M334.9 160.2v1.1" stroke="#6e3f99" stroke-width="5.1" fill="none"/>
<path d="M398.6 155.9v1.1" stroke="#ffff00" stroke-width="4.5" fill="none"/>
<path d="M294 171.6v1M303.2 171.6v3M307.8 172.6v1" stroke="#a081bc" stroke-width="4.6" fill="none"/>
<path d="M307.8 171.6v1M312.4 171.6v3" stroke="#8861ab" stroke-width="4.6" fill="none"/>
<path d="M307.8 173.6v1M317 172.6v2" stroke="#6e3f99" stroke-width="4.6" fill="none"/>
<path d="M346.2 173.6v1" stroke="#ffff67" stroke-width="4.57" fill="none"/>
<rect x="405.5" y="71" width="4.3" height="3.2" fill="#ffff2a"/>
<rect x="273.3" y="4.3" width="46" height="46.9" fill="none" stroke="#2b2b2b" stroke-width="1.15" rx="0.8"/>
<rect x="321.1" y="4.3" width="9.5" height="46.9" fill="none" stroke="#2b2b2b" stroke-width="1.15" rx="0.8"/>
<rect x="332.3" y="4.3" width="5.1" height="46.9" fill="none" stroke="#2b2b2b" stroke-width="1.15" rx="0.8"/>
<rect x="339.3" y="4.3" width="45.7" height="46.9" fill="none" stroke="#2b2b2b" stroke-width="1.15" rx="0.8"/>
<rect x="387.4" y="4.3" width="45" height="46.9" fill="none" stroke="#2b2b2b" stroke-width="1.15" rx="0.8"/>
<rect x="434.3" y="4.3" width="5.2" height="46.9" fill="none" stroke="#2b2b2b" stroke-width="1.15" rx="0.8"/>
<rect x="441.7" y="4.3" width="45.9" height="46.9" fill="none" stroke="#2b2b2b" stroke-width="1.15" rx="0.8"/>
<rect x="489.4" y="4.3" width="32.1" height="46.9" fill="none" stroke="#2b2b2b" stroke-width="1.15" rx="0.8"/>
<rect x="523.3" y="4.3" width="22.9" height="46.9" fill="none" stroke="#2b2b2b" stroke-width="1.15" rx="0.8"/>
<rect x="548.4" y="4.3" width="46.1" height="46.9" fill="none" stroke="#2b2b2b" stroke-width="1.15" rx="0.8"/>
<rect x="273.3" y="53.3" width="46" height="23.1" fill="none" stroke="#2b2b2b" stroke-width="1.15" rx="0.8"/>
<rect x="321.1" y="53.3" width="9.5" height="23.1" fill="none" stroke="#2b2b2b" stroke-width="1.15" rx="0.8"/>
<rect x="332.3" y="53.3" width="5.1" height="23.1" fill="none" stroke="#2b2b2b" stroke-width="1.15" rx="0.8"/>
<rect x="339.3" y="53.3" width="45.7" height="23.1" fill="none" stroke="#2b2b2b" stroke-width="1.15" rx="0.8"/>
<rect x="387.4" y="53.3" width="45" height="23.1" fill="none" stroke="#2b2b2b" stroke-width="1.15" rx="0.8"/>
<rect x="434.3" y="53.3" width="5.2" height="23.1" fill="none" stroke="#2b2b2b" stroke-width="1.15" rx="0.8"/>
<rect x="441.7" y="53.3" width="45.9" height="23.1" fill="none" stroke="#2b2b2b" stroke-width="1.15" rx="0.8"/>
<rect x="489.4" y="53.3" width="32.1" height="23.1" fill="none" stroke="#2b2b2b" stroke-width="1.15" rx="0.8"/>
<rect x="523.3" y="53.3" width="22.9" height="23.1" fill="none" stroke="#2b2b2b" stroke-width="1.15" rx="0.8"/>
<rect x="548.4" y="53.3" width="46.1" height="23.1" fill="none" stroke="#2b2b2b" stroke-width="1.15" rx="0.8"/>
<rect x="273.3" y="78.4" width="46" height="16.9" fill="none" stroke="#2b2b2b" stroke-width="1.15" rx="0.8"/>
<rect x="321.1" y="78.4" width="9.5" height="16.9" fill="none" stroke="#2b2b2b" stroke-width="1.15" rx="0.8"/>
<rect x="332.3" y="78.4" width="5.1" height="16.9" fill="none" stroke="#2b2b2b" stroke-width="1.15" rx="0.8"/>
<rect x="339.3" y="78.4" width="45.7" height="16.9" fill="none" stroke="#2b2b2b" stroke-width="1.15" rx="0.8"/>
<rect x="387.4" y="78.4" width="45" height="16.9" fill="none" stroke="#2b2b2b" stroke-width="1.15" rx="0.8"/>
<rect x="434.3" y="78.4" width="5.2" height="16.9" fill="none" stroke="#2b2b2b" stroke-width="1.15" rx="0.8"/>
<rect x="441.7" y="78.4" width="45.9" height="16.9" fill="none" stroke="#2b2b2b" stroke-width="1.15" rx="0.8"/>
<rect x="489.4" y="78.4" width="32.1" height="16.9" fill="none" stroke="#2b2b2b" stroke-width="1.15" rx="0.8"/>
<rect x="523.3" y="78.4" width="22.9" height="16.9" fill="none" stroke="#2b2b2b" stroke-width="1.15" rx="0.8"/>
<rect x="548.4" y="78.4" width="46.1" height="16.9" fill="none" stroke="#2b2b2b" stroke-width="1.15" rx="0.8"/>
<rect x="273.3" y="97.3" width="46" height="13.5" fill="none" stroke="#2b2b2b" stroke-width="1.15" rx="0.8"/>
<rect x="321.1" y="97.3" width="9.5" height="13.5" fill="none" stroke="#2b2b2b" stroke-width="1.15" rx="0.8"/>
<rect x="332.3" y="97.3" width="5.1" height="13.5" fill="none" stroke="#2b2b2b" stroke-width="1.15" rx="0.8"/>
<rect x="339.3" y="97.3" width="45.7" height="13.5" fill="none" stroke="#2b2b2b" stroke-width="1.15" rx="0.8"/>
<rect x="387.4" y="97.3" width="45" height="13.5" fill="none" stroke="#2b2b2b" stroke-width="1.15" rx="0.8"/>
<rect x="434.3" y="97.3" width="5.2" height="13.5" fill="none" stroke="#2b2b2b" stroke-width="1.15" rx="0.8"/>
<rect x="441.7" y="97.3" width="45.9" height="13.5" fill="none" stroke="#2b2b2b" stroke-width="1.15" rx="0.8"/>
<rect x="489.4" y="97.3" width="32.1" height="13.5" fill="none" stroke="#2b2b2b" stroke-width="1.15" rx="0.8"/>
<rect x="523.3" y="97.3" width="22.9" height="13.5" fill="none" stroke="#2b2b2b" stroke-width="1.15" rx="0.8"/>
<rect x="548.4" y="97.3" width="46.1" height="13.5" fill="none" stroke="#2b2b2b" stroke-width="1.15" rx="0.8"/>
<rect x="273.3" y="112.9" width="46" height="12.8" fill="none" stroke="#2b2b2b" stroke-width="1.15" rx="0.8"/>
<rect x="321.1" y="112.9" width="9.5" height="12.8" fill="none" stroke="#2b2b2b" stroke-width="1.15" rx="0.8"/>
<rect x="332.3" y="112.9" width="5.1" height="12.8" fill="none" stroke="#2b2b2b" stroke-width="1.15" rx="0.8"/>
<rect x="339.3" y="112.9" width="45.7" height="12.8" fill="none" stroke="#2b2b2b" stroke-width="1.15" rx="0.8"/>
<rect x="387.4" y="112.9" width="45" height="12.8" fill="none" stroke="#2b2b2b" stroke-width="1.15" rx="0.8"/>
<rect x="434.3" y="112.9" width="5.2" height="12.8" fill="none" stroke="#2b2b2b" stroke-width="1.15" rx="0.8"/>
<rect x="441.7" y="112.9" width="45.9" height="12.8" fill="none" stroke="#2b2b2b" stroke-width="1.15" rx="0.8"/>
<rect x="489.4" y="112.9" width="32.1" height="12.8" fill="none" stroke="#2b2b2b" stroke-width="1.15" rx="0.8"/>
<rect x="523.3" y="112.9" width="22.9" height="12.8" fill="none" stroke="#2b2b2b" stroke-width="1.15" rx="0.8"/>
<rect x="548.4" y="112.9" width="46.1" height="12.8" fill="none" stroke="#2b2b2b" stroke-width="1.15" rx="0.8"/>
<rect x="273.3" y="128" width="46" height="11.9" fill="none" stroke="#2b2b2b" stroke-width="1.15" rx="0.8"/>
<rect x="321.1" y="128" width="9.5" height="11.9" fill="none" stroke="#2b2b2b" stroke-width="1.15" rx="0.8"/>
<rect x="332.3" y="128" width="5.1" height="11.9" fill="none" stroke="#2b2b2b" stroke-width="1.15" rx="0.8"/>
<rect x="339.3" y="128" width="45.7" height="11.9" fill="none" stroke="#2b2b2b" stroke-width="1.15" rx="0.8"/>
<rect x="387.4" y="128" width="45" height="11.9" fill="none" stroke="#2b2b2b" stroke-width="1.15" rx="0.8"/>
<rect x="434.3" y="128" width="5.2" height="11.9" fill="none" stroke="#2b2b2b" stroke-width="1.15" rx="0.8"/>
<rect x="441.7" y="128" width="45.9" height="11.9" fill="none" stroke="#2b2b2b" stroke-width="1.15" rx="0.8"/>
<rect x="489.4" y="128" width="32.1" height="11.9" fill="none" stroke="#2b2b2b" stroke-width="1.15" rx="0.8"/>
<rect x="523.3" y="128" width="22.9" height="11.9" fill="none" stroke="#2b2b2b" stroke-width="1.15" rx="0.8"/>
<rect x="548.4" y="128" width="46.1" height="11.9" fill="none" stroke="#2b2b2b" stroke-width="1.15" rx="0.8"/>
<rect x="273.3" y="142.1" width="46" height="10.7" fill="none" stroke="#2b2b2b" stroke-width="1.15" rx="0.8"/>
<rect x="321.1" y="142.1" width="9.5" height="10.7" fill="none" stroke="#2b2b2b" stroke-width="1.15" rx="0.8"/>
<rect x="332.3" y="142.1" width="5.1" height="10.7" fill="none" stroke="#2b2b2b" stroke-width="1.15" rx="0.8"/>
<rect x="339.3" y="142.1" width="45.7" height="10.7" fill="none" stroke="#2b2b2b" stroke-width="1.15" rx="0.8"/>
<rect x="387.4" y="142.1" width="45" height="10.7" fill="none" stroke="#2b2b2b" stroke-width="1.15" rx="0.8"/>
<rect x="434.3" y="142.1" width="5.2" height="10.7" fill="none" stroke="#2b2b2b" stroke-width="1.15" rx="0.8"/>
<rect x="441.7" y="142.1" width="45.9" height="10.7" fill="none" stroke="#2b2b2b" stroke-width="1.15" rx="0.8"/>
<rect x="489.4" y="142.1" width="32.1" height="10.7" fill="none" stroke="#2b2b2b" stroke-width="1.15" rx="0.8"/>
<rect x="523.3" y="142.1" width="22.9" height="10.7" fill="none" stroke="#2b2b2b" stroke-width="1.15" rx="0.8"/>
<rect x="548.4" y="142.1" width="46.1" height="10.7" fill="none" stroke="#2b2b2b" stroke-width="1.15" rx="0.8"/>
<rect x="273.3" y="154.8" width="46" height="6.5" fill="none" stroke="#2b2b2b" stroke-width="1.15" rx="0.8"/>
<rect x="321.1" y="154.8" width="9.5" height="6.5" fill="none" stroke="#2b2b2b" stroke-width="1.15" rx="0.8"/>
<rect x="332.3" y="154.8" width="5.1" height="6.5" fill="none" stroke="#2b2b2b" stroke-width="1.15" rx="0.8"/>
<rect x="339.3" y="154.8" width="45.7" height="6.5" fill="none" stroke="#2b2b2b" stroke-width="1.15" rx="0.8"/>
<rect x="387.4" y="154.8" width="45" height="6.5" fill="none" stroke="#2b2b2b" stroke-width="1.15" rx="0.8"/>
<rect x="434.3" y="154.8" width="5.2" height="6.5" fill="none" stroke="#2b2b2b" stroke-width="1.15" rx="0.8"/>
<rect x="441.7" y="154.8" width="45.9" height="6.5" fill="none" stroke="#2b2b2b" stroke-width="1.15" rx="0.8"/>
<rect x="489.4" y="154.8" width="32.1" height="6.5" fill="none" stroke="#2b2b2b" stroke-width="1.15" rx="0.8"/>
<rect x="523.3" y="154.8" width="22.9" height="6.5" fill="none" stroke="#2b2b2b" stroke-width="1.15" rx="0.8"/>
<rect x="548.4" y="154.8" width="46.1" height="6.5" fill="none" stroke="#2b2b2b" stroke-width="1.15" rx="0.8"/>
<rect x="273.3" y="163.6" width="46" height="6.1" fill="none" stroke="#2b2b2b" stroke-width="1.15" rx="0.8"/>
<rect x="321.1" y="163.6" width="9.5" height="6.1" fill="none" stroke="#2b2b2b" stroke-width="1.15" rx="0.8"/>
<rect x="332.3" y="163.6" width="5.1" height="6.1" fill="none" stroke="#2b2b2b" stroke-width="1.15" rx="0.8"/>
<rect x="339.3" y="163.6" width="45.7" height="6.1" fill="none" stroke="#2b2b2b" stroke-width="1.15" rx="0.8"/>
<rect x="387.4" y="163.6" width="45" height="6.1" fill="none" stroke="#2b2b2b" stroke-width="1.15" rx="0.8"/>
<rect x="434.3" y="163.6" width="5.2" height="6.1" fill="none" stroke="#2b2b2b" stroke-width="1.15" rx="0.8"/>
<rect x="441.7" y="163.6" width="45.9" height="6.1" fill="none" stroke="#2b2b2b" stroke-width="1.15" rx="0.8"/>
<rect x="489.4" y="163.6" width="32.1" height="6.1" fill="none" stroke="#2b2b2b" stroke-width="1.15" rx="0.8"/>
<rect x="523.3" y="163.6" width="22.9" height="6.1" fill="none" stroke="#2b2b2b" stroke-width="1.15" rx="0.8"/>
<rect x="548.4" y="163.6" width="46.1" height="6.1" fill="none" stroke="#2b2b2b" stroke-width="1.15" rx="0.8"/>
<rect x="273.3" y="171.6" width="46" height="3" fill="none" stroke="#2b2b2b" stroke-width="1.15" rx="0.8"/>
<rect x="321.1" y="171.6" width="9.5" height="3" fill="none" stroke="#2b2b2b" stroke-width="1.15" rx="0.8"/>
<rect x="332.3" y="171.6" width="5.1" height="3" fill="none" stroke="#2b2b2b" stroke-width="1.15" rx="0.8"/>
<rect x="339.3" y="171.6" width="45.7" height="3" fill="none" stroke="#2b2b2b" stroke-width="1.15" rx="0.8"/>
<rect x="387.4" y="171.6" width="45" height="3" fill="none" stroke="#2b2b2b" stroke-width="1.15" rx="0.8"/>
<rect x="434.3" y="171.6" width="5.2" height="3" fill="none" stroke="#2b2b2b" stroke-width="1.15" rx="0.8"/>
<rect x="441.7" y="171.6" width="45.9" height="3" fill="none" stroke="#2b2b2b" stroke-width="1.15" rx="0.8"/>
<rect x="489.4" y="171.6" width="32.1" height="3" fill="none" stroke="#2b2b2b" stroke-width="1.15" rx="0.8"/>
<rect x="523.3" y="171.6" width="22.9" height="3" fill="none" stroke="#2b2b2b" stroke-width="1.15" rx="0.8"/>
<rect x="548.4" y="171.6" width="46.1" height="3" fill="none" stroke="#2b2b2b" stroke-width="1.15" rx="0.8"/>
<rect x="596.2" y="4.3" width="11.8" height="46.8" fill="#F8766D"/>
<rect x="596.2" y="54" width="11.8" height="22" fill="#D89000"/>
<rect x="596.2" y="78.9" width="11.8" height="16.3" fill="#A3A500"/>
<rect x="596.2" y="97.9" width="11.8" height="12.8" fill="#39B600"/>
<rect x="596.2" y="113.1" width="11.8" height="12.5" fill="#00BF7D"/>
<rect x="596.2" y="128.1" width="11.8" height="11.4" fill="#00BFC4"/>
<rect x="596.2" y="142.2" width="11.8" height="10.3" fill="#00B0F6"/>
<rect x="596.2" y="155" width="11.8" height="6.2" fill="#9590FF"/>
<rect x="596.2" y="164" width="11.8" height="5.7" fill="#E76BF3"/>
<rect x="596.2" y="172.1" width="11.8" height="2.5" fill="#FF62BC"/>
<text x="617.9" y="31.6" font-size="10" text-anchor="middle" fill="#222">1</text>
<text x="617.9" y="68.3" font-size="10" text-anchor="middle" fill="#222">2</text>
<text x="617.9" y="90.4" font-size="10" text-anchor="middle" fill="#222">3</text>
<text x="617.9" y="106.5" font-size="10" text-anchor="middle" fill="#222">4</text>
<text x="617.9" y="122.3" font-size="10" text-anchor="middle" fill="#222">5</text>
<text x="617.9" y="136.9" font-size="10" text-anchor="middle" fill="#222">6</text>
<text x="617.9" y="150.6" font-size="10" text-anchor="middle" fill="#222">7</text>
<text x="617.9" y="161.1" font-size="10" text-anchor="middle" fill="#222">8</text>
<text x="617.9" y="170.4" font-size="10" text-anchor="middle" fill="#222">9</text>
<text x="617.9" y="178.5" font-size="10" text-anchor="middle" fill="#222">10</text>
<defs><linearGradient id="gexp" x1="0" y1="0" x2="0" y2="1"><stop offset="0" stop-color="#541c86"/><stop offset="0.25" stop-color="#a77dc4"/><stop offset="0.5" stop-color="#ffffff"/><stop offset="0.75" stop-color="#ffff9a"/><stop offset="1" stop-color="#ffff00"/></linearGradient></defs>
<rect x="637.3" y="51.8" width="11.7" height="78.2" fill="url(#gexp)"/>
<line x1="646.6" y1="56" x2="649" y2="56" stroke="#fff" stroke-width="0.8"/>
<line x1="637.3" y1="56" x2="639.7" y2="56" stroke="#fff" stroke-width="0.8"/>
<text x="651.3" y="59.7" font-size="10.3" fill="#222">4</text>
<line x1="646.6" y1="74.2" x2="649" y2="74.2" stroke="#fff" stroke-width="0.8"/>
<line x1="637.3" y1="74.2" x2="639.7" y2="74.2" stroke="#fff" stroke-width="0.8"/>
<text x="651.3" y="77.9" font-size="10.3" fill="#222">2</text>
<line x1="646.6" y1="92.6" x2="649" y2="92.6" stroke="#fff" stroke-width="0.8"/>
<line x1="637.3" y1="92.6" x2="639.7" y2="92.6" stroke="#fff" stroke-width="0.8"/>
<text x="651.3" y="96.3" font-size="10.3" fill="#222">0</text>
<line x1="646.6" y1="111.2" x2="649" y2="111.2" stroke="#fff" stroke-width="0.8"/>
<line x1="637.3" y1="111.2" x2="639.7" y2="111.2" stroke="#fff" stroke-width="0.8"/>
<text x="651.3" y="114.9" font-size="10.3" fill="#222">−2</text>
<line x1="646.6" y1="129.6" x2="649" y2="129.6" stroke="#fff" stroke-width="0.8"/>
<line x1="637.3" y1="129.6" x2="639.7" y2="129.6" stroke="#fff" stroke-width="0.8"/>
<text x="651.3" y="133.3" font-size="10.3" fill="#222">−4</text>
<text x="625.8" y="46.7" font-size="12.2" fill="#111">Expression</text>
<line x1="285.2" y1="179.2" x2="285.2" y2="189" stroke="#333" stroke-width="0.9"/>
<text x="281.8" y="191.3" font-size="9.6" fill="#222" transform="rotate(90 281.8 191.3)">ISG20</text>
<line x1="298.4" y1="179.2" x2="298.4" y2="189" stroke="#333" stroke-width="0.9"/>
<text x="294.9" y="191.3" font-size="9.6" fill="#222" transform="rotate(90 294.9 191.3)">ISG15</text>
<path d="M311.6 179.2L311.6 182.5L309 186.5L309 189" stroke="#333" stroke-width="0.9" fill="none"/>
<text x="305.6" y="191.3" font-size="9.6" fill="#222" transform="rotate(90 305.6 191.3)">IFIT2</text>
<path d="M314.4 179.2L314.4 182.5L317 186.5L317 189" stroke="#333" stroke-width="0.9" fill="none"/>
<text x="313.6" y="191.3" font-size="9.6" fill="#222" transform="rotate(90 313.6 191.3)">OASL</text>
<line x1="327.6" y1="179.2" x2="327.6" y2="189" stroke="#333" stroke-width="0.9"/>
<text x="324.2" y="191.3" font-size="9.6" fill="#222" transform="rotate(90 324.2 191.3)">SELPLG</text>
<path d="M333 179.2L333 182.5L335.6 186.5L335.6 189" stroke="#333" stroke-width="0.9" fill="none"/>
<text x="332.2" y="191.3" font-size="9.6" fill="#222" transform="rotate(90 332.2 191.3)">SAT1</text>
<line x1="346.7" y1="179.2" x2="346.7" y2="189" stroke="#333" stroke-width="0.9"/>
<text x="343.2" y="191.3" font-size="9.6" fill="#222" transform="rotate(90 343.2 191.3)">PRF1</text>
<path d="M359.6 179.2L359.6 182.5L357 186.5L357 189" stroke="#333" stroke-width="0.9" fill="none"/>
<text x="353.6" y="191.3" font-size="9.6" fill="#222" transform="rotate(90 353.6 191.3)">CCL4</text>
<path d="M369.2 179.2L369.2 182.5L366.6 186.5L366.6 189" stroke="#333" stroke-width="0.9" fill="none"/>
<text x="363.2" y="191.3" font-size="9.6" fill="#222" transform="rotate(90 363.2 191.3)">GZMB</text>
<path d="M372.8 179.2L372.8 182.5L375.4 186.5L375.4 189" stroke="#333" stroke-width="0.9" fill="none"/>
<text x="371.9" y="191.3" font-size="9.6" fill="#222" transform="rotate(90 371.9 191.3)">NKG7</text>
<path d="M382.7 179.2L382.7 182.5L385.3 186.5L385.3 189" stroke="#333" stroke-width="0.9" fill="none"/>
<text x="381.9" y="191.3" font-size="9.6" fill="#222" transform="rotate(90 381.9 191.3)">GNLY</text>
<line x1="398.3" y1="179.2" x2="398.3" y2="189" stroke="#333" stroke-width="0.9"/>
<text x="394.9" y="191.3" font-size="9.6" fill="#222" transform="rotate(90 394.9 191.3)">EZR</text>
<line x1="416" y1="179.2" x2="416" y2="189" stroke="#333" stroke-width="0.9"/>
<text x="412.6" y="191.3" font-size="9.6" fill="#222" transform="rotate(90 412.6 191.3)">MYADM</text>
<path d="M431.5 179.2L431.5 182.5L428.9 186.5L428.9 189" stroke="#333" stroke-width="0.9" fill="none"/>
<text x="425.4" y="191.3" font-size="9.6" fill="#222" transform="rotate(90 425.4 191.3)">ANXA1</text>
<path d="M435.8 179.2L435.8 182.5L438.4 186.5L438.4 189" stroke="#333" stroke-width="0.9" fill="none"/>
<text x="434.9" y="191.3" font-size="9.6" fill="#222" transform="rotate(90 434.9 191.3)">CCR7</text>
<line x1="452.6" y1="179.2" x2="452.6" y2="189" stroke="#333" stroke-width="0.9"/>
<text x="449.2" y="191.3" font-size="9.6" fill="#222" transform="rotate(90 449.2 191.3)">KLF6</text>
<path d="M474.6 179.2L474.6 182.5L472 186.5L472 189" stroke="#333" stroke-width="0.9" fill="none"/>
<text x="468.6" y="191.3" font-size="9.6" fill="#222" transform="rotate(90 468.6 191.3)">FOSB</text>
<path d="M483.8 179.2L483.8 182.5L481.2 186.5L481.2 189" stroke="#333" stroke-width="0.9" fill="none"/>
<text x="477.8" y="191.3" font-size="9.6" fill="#222" transform="rotate(90 477.8 191.3)">FOS</text>
<path d="M493.2 179.2L493.2 182.5L490.6 186.5L490.6 189" stroke="#333" stroke-width="0.9" fill="none"/>
<text x="487.2" y="191.3" font-size="9.6" fill="#222" transform="rotate(90 487.2 191.3)">CXCR3</text>
<line x1="500.2" y1="179.2" x2="500.2" y2="189" stroke="#333" stroke-width="0.9"/>
<text x="496.8" y="191.3" font-size="9.6" fill="#222" transform="rotate(90 496.8 191.3)">LMNA</text>
<path d="M512.2 179.2L512.2 182.5L509.6 186.5L509.6 189" stroke="#333" stroke-width="0.9" fill="none"/>
<text x="506.2" y="191.3" font-size="9.6" fill="#222" transform="rotate(90 506.2 191.3)">UCP2</text>
<line x1="518.3" y1="179.2" x2="518.3" y2="189" stroke="#333" stroke-width="0.9"/>
<text x="514.8" y="191.3" font-size="9.6" fill="#222" transform="rotate(90 514.8 191.3)">SARAF</text>
<path d="M526 179.2L526 182.5L528.6 186.5L528.6 189" stroke="#333" stroke-width="0.9" fill="none"/>
<text x="525.1" y="191.3" font-size="9.6" fill="#222" transform="rotate(90 525.1 191.3)">ARID1A</text>
<path d="M535.4 179.2L535.4 182.5L538 186.5L538 189" stroke="#333" stroke-width="0.9" fill="none"/>
<text x="534.5" y="191.3" font-size="9.6" fill="#222" transform="rotate(90 534.5 191.3)">DHRS3</text>
<path d="M544.7 179.2L544.7 182.5L547.3 186.5L547.3 189" stroke="#333" stroke-width="0.9" fill="none"/>
<text x="543.8" y="191.3" font-size="9.6" fill="#222" transform="rotate(90 543.8 191.3)">MT−ND4</text>
<path d="M554 179.2L554 182.5L556.6 186.5L556.6 189" stroke="#333" stroke-width="0.9" fill="none"/>
<text x="553.1" y="191.3" font-size="9.6" fill="#222" transform="rotate(90 553.1 191.3)">CXCR4</text>
<path d="M563.8 179.2L563.8 182.5L566.4 186.5L566.4 189" stroke="#333" stroke-width="0.9" fill="none"/>
<text x="562.9" y="191.3" font-size="9.6" fill="#222" transform="rotate(90 562.9 191.3)">CD69</text>
<line x1="577.6" y1="179.2" x2="577.6" y2="189" stroke="#333" stroke-width="0.9"/>
<text x="574.1" y="191.3" font-size="9.6" fill="#222" transform="rotate(90 574.1 191.3)">TMSB4X</text>
<line x1="587.3" y1="179.2" x2="587.3" y2="189" stroke="#333" stroke-width="0.9"/>
<text x="583.8" y="191.3" font-size="9.6" fill="#222" transform="rotate(90 583.8 191.3)">B2M</text>
<text transform="translate(2.8 261.6) scale(1.12 1)" font-size="21">c</text>
<rect x="38" y="263.4" width="82.2" height="212.9" fill="#fff"/>
<line x1="38" y1="467" x2="120.2" y2="467" stroke="#ebebeb" stroke-width="0.9"/>
<line x1="38" y1="457.3" x2="120.2" y2="457.3" stroke="#ebebeb" stroke-width="0.5"/>
<line x1="38" y1="447.6" x2="120.2" y2="447.6" stroke="#ebebeb" stroke-width="0.9"/>
<line x1="38" y1="437.9" x2="120.2" y2="437.9" stroke="#ebebeb" stroke-width="0.5"/>
<line x1="38" y1="428.2" x2="120.2" y2="428.2" stroke="#ebebeb" stroke-width="0.9"/>
<line x1="38" y1="418.6" x2="120.2" y2="418.6" stroke="#ebebeb" stroke-width="0.5"/>
<line x1="38" y1="408.9" x2="120.2" y2="408.9" stroke="#ebebeb" stroke-width="0.9"/>
<line x1="38" y1="399.2" x2="120.2" y2="399.2" stroke="#ebebeb" stroke-width="0.5"/>
<line x1="38" y1="389.5" x2="120.2" y2="389.5" stroke="#ebebeb" stroke-width="0.9"/>
<line x1="38" y1="379.8" x2="120.2" y2="379.8" stroke="#ebebeb" stroke-width="0.5"/>
<line x1="38" y1="370.1" x2="120.2" y2="370.1" stroke="#ebebeb" stroke-width="0.9"/>
<line x1="38" y1="360.4" x2="120.2" y2="360.4" stroke="#ebebeb" stroke-width="0.5"/>
<line x1="38" y1="350.7" x2="120.2" y2="350.7" stroke="#ebebeb" stroke-width="0.9"/>
<line x1="38" y1="341" x2="120.2" y2="341" stroke="#ebebeb" stroke-width="0.5"/>
<line x1="38" y1="331.3" x2="120.2" y2="331.3" stroke="#ebebeb" stroke-width="0.9"/>
<line x1="38" y1="321.6" x2="120.2" y2="321.6" stroke="#ebebeb" stroke-width="0.5"/>
<line x1="38" y1="312" x2="120.2" y2="312" stroke="#ebebeb" stroke-width="0.9"/>
<line x1="38" y1="302.3" x2="120.2" y2="302.3" stroke="#ebebeb" stroke-width="0.5"/>
<line x1="38" y1="292.6" x2="120.2" y2="292.6" stroke="#ebebeb" stroke-width="0.9"/>
<line x1="38" y1="282.9" x2="120.2" y2="282.9" stroke="#ebebeb" stroke-width="0.5"/>
<line x1="38" y1="273.2" x2="120.2" y2="273.2" stroke="#ebebeb" stroke-width="0.9"/>
<rect x="38" y="263.4" width="82.2" height="212.9" fill="none" stroke="#8f8f8f" stroke-width="0.9"/>
<rect x="123.9" y="263.4" width="82.6" height="212.9" fill="#fff"/>
<line x1="123.9" y1="467" x2="206.5" y2="467" stroke="#ebebeb" stroke-width="0.9"/>
<line x1="123.9" y1="457.3" x2="206.5" y2="457.3" stroke="#ebebeb" stroke-width="0.5"/>
<line x1="123.9" y1="447.6" x2="206.5" y2="447.6" stroke="#ebebeb" stroke-width="0.9"/>
<line x1="123.9" y1="437.9" x2="206.5" y2="437.9" stroke="#ebebeb" stroke-width="0.5"/>
<line x1="123.9" y1="428.2" x2="206.5" y2="428.2" stroke="#ebebeb" stroke-width="0.9"/>
<line x1="123.9" y1="418.6" x2="206.5" y2="418.6" stroke="#ebebeb" stroke-width="0.5"/>
<line x1="123.9" y1="408.9" x2="206.5" y2="408.9" stroke="#ebebeb" stroke-width="0.9"/>
<line x1="123.9" y1="399.2" x2="206.5" y2="399.2" stroke="#ebebeb" stroke-width="0.5"/>
<line x1="123.9" y1="389.5" x2="206.5" y2="389.5" stroke="#ebebeb" stroke-width="0.9"/>
<line x1="123.9" y1="379.8" x2="206.5" y2="379.8" stroke="#ebebeb" stroke-width="0.5"/>
<line x1="123.9" y1="370.1" x2="206.5" y2="370.1" stroke="#ebebeb" stroke-width="0.9"/>
<line x1="123.9" y1="360.4" x2="206.5" y2="360.4" stroke="#ebebeb" stroke-width="0.5"/>
<line x1="123.9" y1="350.7" x2="206.5" y2="350.7" stroke="#ebebeb" stroke-width="0.9"/>
<line x1="123.9" y1="341" x2="206.5" y2="341" stroke="#ebebeb" stroke-width="0.5"/>
<line x1="123.9" y1="331.3" x2="206.5" y2="331.3" stroke="#ebebeb" stroke-width="0.9"/>
<line x1="123.9" y1="321.6" x2="206.5" y2="321.6" stroke="#ebebeb" stroke-width="0.5"/>
<line x1="123.9" y1="312" x2="206.5" y2="312" stroke="#ebebeb" stroke-width="0.9"/>
<line x1="123.9" y1="302.3" x2="206.5" y2="302.3" stroke="#ebebeb" stroke-width="0.5"/>
<line x1="123.9" y1="292.6" x2="206.5" y2="292.6" stroke="#ebebeb" stroke-width="0.9"/>
<line x1="123.9" y1="282.9" x2="206.5" y2="282.9" stroke="#ebebeb" stroke-width="0.5"/>
<line x1="123.9" y1="273.2" x2="206.5" y2="273.2" stroke="#ebebeb" stroke-width="0.9"/>
<rect x="123.9" y="263.4" width="82.6" height="212.9" fill="none" stroke="#8f8f8f" stroke-width="0.9"/>
<line x1="35" y1="467" x2="37.8" y2="467" stroke="#333" stroke-width="0.9"/>
<text x="33.8" y="470.3" font-size="9.3" text-anchor="end" fill="#333">0</text>
<line x1="35" y1="447.6" x2="37.8" y2="447.6" stroke="#333" stroke-width="0.9"/>
<text x="33.8" y="450.9" font-size="9.3" text-anchor="end" fill="#333">10</text>
<line x1="35" y1="428.2" x2="37.8" y2="428.2" stroke="#333" stroke-width="0.9"/>
<text x="33.8" y="431.5" font-size="9.3" text-anchor="end" fill="#333">20</text>
<line x1="35" y1="408.9" x2="37.8" y2="408.9" stroke="#333" stroke-width="0.9"/>
<text x="33.8" y="412.2" font-size="9.3" text-anchor="end" fill="#333">30</text>
<line x1="35" y1="389.5" x2="37.8" y2="389.5" stroke="#333" stroke-width="0.9"/>
<text x="33.8" y="392.8" font-size="9.3" text-anchor="end" fill="#333">40</text>
<line x1="35" y1="370.1" x2="37.8" y2="370.1" stroke="#333" stroke-width="0.9"/>
<text x="33.8" y="373.4" font-size="9.3" text-anchor="end" fill="#333">50</text>
<line x1="35" y1="350.7" x2="37.8" y2="350.7" stroke="#333" stroke-width="0.9"/>
<text x="33.8" y="354" font-size="9.3" text-anchor="end" fill="#333">60</text>
<line x1="35" y1="331.3" x2="37.8" y2="331.3" stroke="#333" stroke-width="0.9"/>
<text x="33.8" y="334.6" font-size="9.3" text-anchor="end" fill="#333">70</text>
<line x1="35" y1="312" x2="37.8" y2="312" stroke="#333" stroke-width="0.9"/>
<text x="33.8" y="315.3" font-size="9.3" text-anchor="end" fill="#333">80</text>
<line x1="35" y1="292.6" x2="37.8" y2="292.6" stroke="#333" stroke-width="0.9"/>
<text x="33.8" y="295.9" font-size="9.3" text-anchor="end" fill="#333">90</text>
<line x1="35" y1="273.2" x2="37.8" y2="273.2" stroke="#333" stroke-width="0.9"/>
<text x="33.8" y="276.5" font-size="9.3" text-anchor="end" fill="#333">100</text>
<text x="14.6" y="368" font-size="13" text-anchor="middle" transform="rotate(-90 14.6 368)">Proportion (%)</text>
<text x="58.6" y="255.6" font-size="13.3">S</text>
<text x="68.3" y="260.9" font-size="8.4" fill="#222">751-765</text>
<text x="146.6" y="255.6" font-size="13.3">S</text>
<text x="155.7" y="260.9" font-size="8.4" fill="#222">866-880</text>
<rect x="43.3" y="273.2" width="33.9" height="25.8" fill="#F8766D" stroke="#000" stroke-width="1.0"/>
<rect x="43.3" y="299" width="33.9" height="7.9" fill="#D89000" stroke="#000" stroke-width="1.0"/>
<rect x="43.3" y="306.9" width="33.9" height="50.3" fill="#A3A500" stroke="#000" stroke-width="1.0"/>
<rect x="43.3" y="357.2" width="33.9" height="21.2" fill="#39B600" stroke="#000" stroke-width="1.0"/>
<rect x="43.3" y="378.4" width="33.9" height="31.7" fill="#00BF7D" stroke="#000" stroke-width="1.0"/>
<rect x="43.3" y="410.1" width="33.9" height="38.4" fill="#00BFC4" stroke="#000" stroke-width="1.0"/>
<rect x="43.3" y="448.5" width="33.9" height="2.9" fill="#00B0F6" stroke="#000" stroke-width="1.0"/>
<rect x="43.3" y="451.4" width="33.9" height="1" fill="#9590FF" stroke="#000" stroke-width="1.0"/>
<rect x="43.3" y="452.4" width="33.9" height="5.9" fill="#E76BF3" stroke="#000" stroke-width="1.0"/>
<rect x="43.3" y="458.4" width="33.9" height="8.6" fill="#FF62BC" stroke="#000" stroke-width="1.0"/>
<text x="60.2" y="288.3" font-size="6.2" text-anchor="middle" fill="#222">13.31%</text>
<text x="60.2" y="305.2" font-size="6.2" text-anchor="middle" fill="#222">4.1%</text>
<text x="60.2" y="334.3" font-size="6.2" text-anchor="middle" fill="#222">25.94%</text>
<text x="60.2" y="370" font-size="6.2" text-anchor="middle" fill="#222">10.92%</text>
<text x="60.2" y="396.4" font-size="6.2" text-anchor="middle" fill="#222">16.38%</text>
<text x="60.2" y="431.5" font-size="6.2" text-anchor="middle" fill="#222">19.8%</text>
<text x="60.2" y="452.1" font-size="6.2" text-anchor="middle" fill="#222">1.5%</text>
<text x="60.2" y="457.6" font-size="6.2" text-anchor="middle" fill="#222">3.07%</text>
<text x="60.2" y="464.9" font-size="6.2" text-anchor="middle" fill="#222">4.44%</text>
<rect x="43.3" y="273.2" width="33.9" height="193.8" fill="none" stroke="#000" stroke-width="1.2"/>
<rect x="80.6" y="273.2" width="34.2" height="90" fill="#F8766D" stroke="#000" stroke-width="1.0"/>
<rect x="80.6" y="363.2" width="34.2" height="33.6" fill="#D89000" stroke="#000" stroke-width="1.0"/>
<rect x="80.6" y="396.8" width="34.2" height="8" fill="#A3A500" stroke="#000" stroke-width="1.0"/>
<rect x="80.6" y="404.8" width="34.2" height="10.2" fill="#39B600" stroke="#000" stroke-width="1.0"/>
<rect x="80.6" y="415.1" width="34.2" height="17.6" fill="#00BF7D" stroke="#000" stroke-width="1.0"/>
<rect x="80.6" y="432.6" width="34.2" height="4.4" fill="#00BFC4" stroke="#000" stroke-width="1.0"/>
<rect x="80.6" y="437" width="34.2" height="6.6" fill="#00B0F6" stroke="#000" stroke-width="1.0"/>
<rect x="80.6" y="443.6" width="34.2" height="16.1" fill="#9590FF" stroke="#000" stroke-width="1.0"/>
<rect x="80.6" y="459.7" width="34.2" height="7.3" fill="#E76BF3" stroke="#000" stroke-width="1.0"/>
<text x="97.7" y="320.4" font-size="6.2" text-anchor="middle" fill="#222">46.42%</text>
<text x="97.7" y="382.2" font-size="6.2" text-anchor="middle" fill="#222">17.36%</text>
<text x="97.7" y="403" font-size="6.2" text-anchor="middle" fill="#222">4.15%</text>
<text x="97.7" y="412.2" font-size="6.2" text-anchor="middle" fill="#222">5.28%</text>
<text x="97.7" y="426.1" font-size="6.2" text-anchor="middle" fill="#222">9.06%</text>
<text x="97.7" y="437" font-size="6.2" text-anchor="middle" fill="#222">2.26%</text>
<text x="97.7" y="442.5" font-size="6.2" text-anchor="middle" fill="#222">3.4%</text>
<text x="97.7" y="453.9" font-size="6.2" text-anchor="middle" fill="#222">8.3%</text>
<text x="97.7" y="465.5" font-size="6.2" text-anchor="middle" fill="#222">3.77%</text>
<rect x="80.6" y="273.2" width="34.2" height="193.8" fill="none" stroke="#000" stroke-width="1.2"/>
<rect x="129.4" y="273.2" width="34.1" height="26.1" fill="#F8766D" stroke="#000" stroke-width="1.0"/>
<rect x="129.4" y="299.3" width="34.1" height="6.8" fill="#D89000" stroke="#000" stroke-width="1.0"/>
<rect x="129.4" y="306.2" width="34.1" height="52.8" fill="#A3A500" stroke="#000" stroke-width="1.0"/>
<rect x="129.4" y="359" width="34.1" height="17.6" fill="#39B600" stroke="#000" stroke-width="1.0"/>
<rect x="129.4" y="376.6" width="34.1" height="25.6" fill="#00BF7D" stroke="#000" stroke-width="1.0"/>
<rect x="129.4" y="402.2" width="34.1" height="36.4" fill="#00BFC4" stroke="#000" stroke-width="1.0"/>
<rect x="129.4" y="438.6" width="34.1" height="8.5" fill="#00B0F6" stroke="#000" stroke-width="1.0"/>
<rect x="129.4" y="447.1" width="34.1" height="1.7" fill="#9590FF" stroke="#000" stroke-width="1.0"/>
<rect x="129.4" y="448.8" width="34.1" height="5.7" fill="#E76BF3" stroke="#000" stroke-width="1.0"/>
<rect x="129.4" y="454.5" width="34.1" height="12.5" fill="#FF62BC" stroke="#000" stroke-width="1.0"/>
<text x="146.4" y="288.5" font-size="6.2" text-anchor="middle" fill="#222">13.49%</text>
<text x="146.4" y="305" font-size="6.2" text-anchor="middle" fill="#222">3.52%</text>
<text x="146.4" y="334.8" font-size="6.2" text-anchor="middle" fill="#222">27.27%</text>
<text x="146.4" y="370" font-size="6.2" text-anchor="middle" fill="#222">9.09%</text>
<text x="146.4" y="391.6" font-size="6.2" text-anchor="middle" fill="#222">13.2%</text>
<text x="146.4" y="422.6" font-size="6.2" text-anchor="middle" fill="#222">18.77%</text>
<text x="146.4" y="445.1" font-size="6.2" text-anchor="middle" fill="#222">4.4%</text>
<text x="146.4" y="450.2" font-size="6.2" text-anchor="middle" fill="#222">0.88%</text>
<text x="146.4" y="453.9" font-size="6.2" text-anchor="middle" fill="#222">2.93%</text>
<text x="146.4" y="462.9" font-size="6.2" text-anchor="middle" fill="#222">6.45%</text>
<rect x="129.4" y="273.2" width="34.1" height="193.8" fill="none" stroke="#000" stroke-width="1.2"/>
<rect x="166.8" y="273.2" width="34.6" height="74.8" fill="#F8766D" stroke="#000" stroke-width="1.0"/>
<rect x="166.8" y="348" width="34.6" height="53.4" fill="#D89000" stroke="#000" stroke-width="1.0"/>
<rect x="166.8" y="401.4" width="34.6" height="8.7" fill="#A3A500" stroke="#000" stroke-width="1.0"/>
<rect x="166.8" y="410.1" width="34.6" height="8.1" fill="#39B600" stroke="#000" stroke-width="1.0"/>
<rect x="166.8" y="418.2" width="34.6" height="13.4" fill="#00BF7D" stroke="#000" stroke-width="1.0"/>
<rect x="166.8" y="431.6" width="34.6" height="1.7" fill="#00BFC4" stroke="#000" stroke-width="1.0"/>
<rect x="166.8" y="433.3" width="34.6" height="11" fill="#00B0F6" stroke="#000" stroke-width="1.0"/>
<rect x="166.8" y="444.4" width="34.6" height="18" fill="#9590FF" stroke="#000" stroke-width="1.0"/>
<rect x="166.8" y="462.3" width="34.6" height="4.7" fill="#E76BF3" stroke="#000" stroke-width="1.0"/>
<text x="184.1" y="312.8" font-size="6.2" text-anchor="middle" fill="#222">38.62%</text>
<text x="184.1" y="376.9" font-size="6.2" text-anchor="middle" fill="#222">27.54%</text>
<text x="184.1" y="408" font-size="6.2" text-anchor="middle" fill="#222">4.49%</text>
<text x="184.1" y="416.4" font-size="6.2" text-anchor="middle" fill="#222">4.19%</text>
<text x="184.1" y="427.1" font-size="6.2" text-anchor="middle" fill="#222">6.89%</text>
<text x="184.1" y="434.7" font-size="6.2" text-anchor="middle" fill="#222">0.9%</text>
<text x="184.1" y="441.1" font-size="6.2" text-anchor="middle" fill="#222">5.69%</text>
<text x="184.1" y="455.6" font-size="6.2" text-anchor="middle" fill="#222">9.28%</text>
<text x="184.1" y="466.9" font-size="6.2" text-anchor="middle" fill="#222">2.4%</text>
<rect x="166.8" y="273.2" width="34.6" height="193.8" fill="none" stroke="#000" stroke-width="1.2"/>
<line x1="60.3" y1="476.3" x2="60.3" y2="478.8" stroke="#333" stroke-width="0.9"/>
<text x="57.9" y="489.2" font-size="11.7" text-anchor="middle" fill="#111">1-3</text>
<text x="57.5" y="499.8" font-size="11.7" text-anchor="middle" fill="#111">months</text>
<line x1="97.7" y1="476.3" x2="97.7" y2="478.8" stroke="#333" stroke-width="0.9"/>
<text x="99" y="489.2" font-size="11.7" text-anchor="middle" fill="#111">3-4</text>
<text x="97.7" y="499.8" font-size="11.7" text-anchor="middle" fill="#111">years</text>
<line x1="146.2" y1="476.3" x2="146.2" y2="478.8" stroke="#333" stroke-width="0.9"/>
<text x="144" y="489.2" font-size="11.7" text-anchor="middle" fill="#111">1-3</text>
<text x="143.7" y="499.8" font-size="11.7" text-anchor="middle" fill="#111">months</text>
<line x1="184.1" y1="476.3" x2="184.1" y2="478.8" stroke="#333" stroke-width="0.9"/>
<text x="185.2" y="489.2" font-size="11.7" text-anchor="middle" fill="#111">3-4</text>
<text x="183.2" y="499.8" font-size="11.7" text-anchor="middle" fill="#111">years</text>
<rect x="216.2" y="321.5" width="9.5" height="9.7" fill="#F8766D" stroke="#000" stroke-width="1.0"/>
<text x="229" y="329.7" font-size="9.5" fill="#111">1</text>
<rect x="216.2" y="331.2" width="9.5" height="9.7" fill="#D89000" stroke="#000" stroke-width="1.0"/>
<text x="229" y="339.4" font-size="9.5" fill="#111">2</text>
<rect x="216.2" y="340.9" width="9.5" height="9.7" fill="#A3A500" stroke="#000" stroke-width="1.0"/>
<text x="229" y="349.1" font-size="9.5" fill="#111">3</text>
<rect x="216.2" y="350.6" width="9.5" height="9.7" fill="#39B600" stroke="#000" stroke-width="1.0"/>
<text x="229" y="358.8" font-size="9.5" fill="#111">4</text>
<rect x="216.2" y="360.3" width="9.5" height="9.7" fill="#00BF7D" stroke="#000" stroke-width="1.0"/>
<text x="229" y="368.5" font-size="9.5" fill="#111">5</text>
<rect x="216.2" y="370" width="9.5" height="9.7" fill="#00BFC4" stroke="#000" stroke-width="1.0"/>
<text x="229" y="378.2" font-size="9.5" fill="#111">6</text>
<rect x="216.2" y="379.7" width="9.5" height="9.7" fill="#00B0F6" stroke="#000" stroke-width="1.0"/>
<text x="229" y="387.9" font-size="9.5" fill="#111">7</text>
<rect x="216.2" y="389.4" width="9.5" height="9.7" fill="#9590FF" stroke="#000" stroke-width="1.0"/>
<text x="229" y="397.6" font-size="9.5" fill="#111">8</text>
<rect x="216.2" y="399.1" width="9.5" height="9.7" fill="#E76BF3" stroke="#000" stroke-width="1.0"/>
<text x="229" y="407.3" font-size="9.5" fill="#111">9</text>
<rect x="216.2" y="408.8" width="9.5" height="9.7" fill="#FF62BC" stroke="#000" stroke-width="1.0"/>
<text x="229" y="417" font-size="9.5" fill="#111">10</text>
<text transform="translate(244.3 263.4) scale(1.12 1)" font-size="21">d</text>
<line x1="251.8" y1="353.8" x2="334.9" y2="366.8" stroke="#bdbdbd" stroke-width="0.32" stroke-opacity="0.75"/>
<line x1="251.6" y1="356" x2="338.1" y2="287.7" stroke="#bdbdbd" stroke-width="0.36" stroke-opacity="0.75"/>
<line x1="252.7" y1="359.7" x2="342.2" y2="289" stroke="#bdbdbd" stroke-width="0.28" stroke-opacity="0.75"/>
<line x1="254.1" y1="358.2" x2="339.6" y2="304.8" stroke="#bdbdbd" stroke-width="0.28" stroke-opacity="0.75"/>
<line x1="252.3" y1="356.4" x2="336.3" y2="365.4" stroke="#bdbdbd" stroke-width="0.28" stroke-opacity="0.75"/>
<line x1="252.9" y1="358.1" x2="338.8" y2="340.4" stroke="#bdbdbd" stroke-width="0.39" stroke-opacity="0.75"/>
<line x1="252.9" y1="358.7" x2="338.1" y2="364" stroke="#bdbdbd" stroke-width="0.5" stroke-opacity="0.75"/>
<line x1="254.3" y1="361" x2="343.3" y2="284.8" stroke="#bdbdbd" stroke-width="0.43" stroke-opacity="0.75"/>
<line x1="256.9" y1="357" x2="343" y2="296.8" stroke="#bdbdbd" stroke-width="0.43" stroke-opacity="0.75"/>
<line x1="253.6" y1="356.6" x2="341.2" y2="288.2" stroke="#bdbdbd" stroke-width="0.42" stroke-opacity="0.75"/>
<line x1="251.6" y1="356" x2="340.1" y2="299.6" stroke="#bdbdbd" stroke-width="0.44" stroke-opacity="0.75"/>
<line x1="255.4" y1="355.3" x2="338.2" y2="292.3" stroke="#bdbdbd" stroke-width="0.5" stroke-opacity="0.75"/>
<line x1="255.9" y1="353.9" x2="335.4" y2="336.7" stroke="#bdbdbd" stroke-width="0.38" stroke-opacity="0.75"/>
<line x1="254.2" y1="352.6" x2="335.7" y2="349.5" stroke="#bdbdbd" stroke-width="0.26" stroke-opacity="0.75"/>
<line x1="251.6" y1="360.5" x2="337.7" y2="336.8" stroke="#bdbdbd" stroke-width="0.29" stroke-opacity="0.75"/>
<line x1="252.3" y1="352.1" x2="336.7" y2="336.1" stroke="#bdbdbd" stroke-width="0.32" stroke-opacity="0.75"/>
<line x1="254.3" y1="356.7" x2="337.5" y2="315" stroke="#bdbdbd" stroke-width="0.27" stroke-opacity="0.75"/>
<line x1="254.2" y1="358.6" x2="338.1" y2="299.8" stroke="#bdbdbd" stroke-width="0.42" stroke-opacity="0.75"/>
<line x1="252.7" y1="357.9" x2="343" y2="283.7" stroke="#bdbdbd" stroke-width="0.28" stroke-opacity="0.75"/>
<line x1="252.8" y1="357.6" x2="335.5" y2="363.7" stroke="#bdbdbd" stroke-width="0.35" stroke-opacity="0.75"/>
<line x1="254.2" y1="358.1" x2="342.2" y2="288.9" stroke="#bdbdbd" stroke-width="0.29" stroke-opacity="0.75"/>
<line x1="255.3" y1="356.6" x2="343.7" y2="296.1" stroke="#bdbdbd" stroke-width="0.36" stroke-opacity="0.75"/>
<line x1="256.3" y1="358.9" x2="338.4" y2="291.3" stroke="#bdbdbd" stroke-width="0.36" stroke-opacity="0.75"/>
<line x1="255.6" y1="353.5" x2="340.3" y2="299.8" stroke="#bdbdbd" stroke-width="0.25" stroke-opacity="0.75"/>
<line x1="257.2" y1="357.3" x2="338.6" y2="290.5" stroke="#bdbdbd" stroke-width="0.36" stroke-opacity="0.75"/>
<line x1="251.8" y1="355.6" x2="339.7" y2="361.1" stroke="#bdbdbd" stroke-width="0.35" stroke-opacity="0.75"/>
<line x1="256.7" y1="352.4" x2="338.2" y2="340.5" stroke="#bdbdbd" stroke-width="0.34" stroke-opacity="0.75"/>
<line x1="254" y1="359.1" x2="335.4" y2="365.3" stroke="#bdbdbd" stroke-width="0.37" stroke-opacity="0.75"/>
<line x1="256.2" y1="355.2" x2="340" y2="285.8" stroke="#bdbdbd" stroke-width="0.44" stroke-opacity="0.75"/>
<line x1="255.4" y1="355.5" x2="338.1" y2="370.6" stroke="#bdbdbd" stroke-width="0.28" stroke-opacity="0.75"/>
<line x1="252.1" y1="360" x2="338.3" y2="354.9" stroke="#bdbdbd" stroke-width="0.49" stroke-opacity="0.75"/>
<line x1="256.8" y1="352.8" x2="338.8" y2="345.2" stroke="#bdbdbd" stroke-width="0.45" stroke-opacity="0.75"/>
<line x1="257" y1="356.5" x2="339.3" y2="315.1" stroke="#bdbdbd" stroke-width="0.41" stroke-opacity="0.75"/>
<line x1="257.4" y1="356.4" x2="338.9" y2="295.2" stroke="#bdbdbd" stroke-width="0.39" stroke-opacity="0.75"/>
<line x1="255.1" y1="361" x2="338.5" y2="358.1" stroke="#bdbdbd" stroke-width="0.32" stroke-opacity="0.75"/>
<line x1="254.6" y1="354.9" x2="341" y2="311.5" stroke="#bdbdbd" stroke-width="0.45" stroke-opacity="0.75"/>
<line x1="255.1" y1="355.9" x2="337.9" y2="348.1" stroke="#bdbdbd" stroke-width="0.36" stroke-opacity="0.75"/>
<line x1="255.5" y1="360" x2="338.5" y2="293.9" stroke="#bdbdbd" stroke-width="0.32" stroke-opacity="0.75"/>
<line x1="252.4" y1="360" x2="335" y2="369.3" stroke="#bdbdbd" stroke-width="0.36" stroke-opacity="0.75"/>
<line x1="251.6" y1="352.3" x2="343.2" y2="294.2" stroke="#bdbdbd" stroke-width="0.44" stroke-opacity="0.75"/>
<line x1="255.5" y1="358.6" x2="340.4" y2="290.6" stroke="#bdbdbd" stroke-width="0.43" stroke-opacity="0.75"/>
<line x1="253.7" y1="358.7" x2="340.8" y2="292.2" stroke="#bdbdbd" stroke-width="0.27" stroke-opacity="0.75"/>
<line x1="252.1" y1="357.7" x2="340.7" y2="298.4" stroke="#bdbdbd" stroke-width="0.41" stroke-opacity="0.75"/>
<line x1="255.4" y1="357.5" x2="339" y2="287.4" stroke="#bdbdbd" stroke-width="0.29" stroke-opacity="0.75"/>
<line x1="252.7" y1="356.6" x2="338.4" y2="355.3" stroke="#bdbdbd" stroke-width="0.28" stroke-opacity="0.75"/>
<line x1="253.9" y1="355.3" x2="343.8" y2="286.6" stroke="#bdbdbd" stroke-width="0.43" stroke-opacity="0.75"/>
<line x1="252.6" y1="356.4" x2="343.5" y2="294.9" stroke="#bdbdbd" stroke-width="0.46" stroke-opacity="0.75"/>
<line x1="257.5" y1="354.7" x2="339.1" y2="313.7" stroke="#bdbdbd" stroke-width="0.47" stroke-opacity="0.75"/>
<line x1="254.7" y1="355.6" x2="335.3" y2="354.2" stroke="#bdbdbd" stroke-width="0.29" stroke-opacity="0.75"/>
<line x1="255.1" y1="355.9" x2="342.6" y2="299.2" stroke="#bdbdbd" stroke-width="0.37" stroke-opacity="0.75"/>
<line x1="251.7" y1="360.6" x2="341.8" y2="283.7" stroke="#bdbdbd" stroke-width="0.4" stroke-opacity="0.75"/>
<line x1="256.3" y1="354.6" x2="343.7" y2="284.4" stroke="#bdbdbd" stroke-width="0.38" stroke-opacity="0.75"/>
<line x1="251.6" y1="355.4" x2="334.6" y2="356.9" stroke="#bdbdbd" stroke-width="0.4" stroke-opacity="0.75"/>
<line x1="256.5" y1="359.2" x2="338.1" y2="368.5" stroke="#bdbdbd" stroke-width="0.43" stroke-opacity="0.75"/>
<line x1="253" y1="352.3" x2="337" y2="369.7" stroke="#bdbdbd" stroke-width="0.29" stroke-opacity="0.75"/>
<line x1="253.3" y1="358.1" x2="340.3" y2="290.7" stroke="#bdbdbd" stroke-width="0.34" stroke-opacity="0.75"/>
<line x1="256.7" y1="360.7" x2="339.7" y2="283.9" stroke="#bdbdbd" stroke-width="0.37" stroke-opacity="0.75"/>
<line x1="257.5" y1="355.7" x2="338.9" y2="288.9" stroke="#bdbdbd" stroke-width="0.46" stroke-opacity="0.75"/>
<line x1="255.7" y1="359.4" x2="335.7" y2="361" stroke="#bdbdbd" stroke-width="0.49" stroke-opacity="0.75"/>
<line x1="256.4" y1="359" x2="339.8" y2="291.7" stroke="#bdbdbd" stroke-width="0.29" stroke-opacity="0.75"/>
<line x1="255.5" y1="369.8" x2="335.9" y2="355.7" stroke="#cfcfcf" stroke-width="0.3"/>
<line x1="254.6" y1="370.6" x2="334.4" y2="370.8" stroke="#cfcfcf" stroke-width="0.3"/>
<line x1="254" y1="361.3" x2="337.6" y2="365.5" stroke="#cfcfcf" stroke-width="0.3"/>
<line x1="256.3" y1="360.9" x2="334.8" y2="362.9" stroke="#cfcfcf" stroke-width="0.3"/>
<line x1="255.5" y1="360.4" x2="336.8" y2="357.3" stroke="#cfcfcf" stroke-width="0.3"/>
<line x1="252.2" y1="360.8" x2="336.2" y2="374.8" stroke="#cfcfcf" stroke-width="0.3"/>
<line x1="257" y1="361.6" x2="335.5" y2="368.3" stroke="#cfcfcf" stroke-width="0.3"/>
<line x1="255.3" y1="365.6" x2="334.8" y2="357.7" stroke="#cfcfcf" stroke-width="0.3"/>
<line x1="252.9" y1="371.2" x2="337.2" y2="374.4" stroke="#cfcfcf" stroke-width="0.3"/>
<line x1="252.4" y1="364.8" x2="336.7" y2="374.4" stroke="#cfcfcf" stroke-width="0.3"/>
<line x1="333.5" y1="424.5" x2="344.4" y2="447.3" stroke="#d0d0d0" stroke-width="0.3"/>
<line x1="333.5" y1="424.5" x2="346" y2="448.5" stroke="#d0d0d0" stroke-width="0.3"/>
<line x1="333.5" y1="424.5" x2="349.9" y2="448.1" stroke="#d0d0d0" stroke-width="0.3"/>
<line x1="333.5" y1="424.5" x2="348.7" y2="445.7" stroke="#d0d0d0" stroke-width="0.3"/>
<line x1="333.5" y1="424.5" x2="346.4" y2="449" stroke="#d0d0d0" stroke-width="0.3"/>
<line x1="333.5" y1="424.5" x2="341.1" y2="441.7" stroke="#d0d0d0" stroke-width="0.3"/>
<polygon points="361.1,264.6 350,270 341.5,276.5 336.5,287.7 335.3,313.4 333,341.4 330.8,355.4 333,371.8 336.4,395.2 339,418.5 340.2,437.2 346,452.5 357.1,458.2 372,455.3 382.3,442.9 387,419.5 396.3,386.3 396.3,366.1 387,359.1 384.6,324.1 377.6,300.7 374.1,284.4 367.5,269.6" fill="#cccccc" stroke="#d6d6d6" stroke-width="0.8" stroke-linejoin="round"/>
<polygon points="361.1,266.2 352,271 343.1,277.2 338.4,287.7 337.3,313.4 335,341.4 332.6,355.4 335,371.8 338.4,395.2 340.8,418.5 342,437.2 347.8,451.2 357.1,456.4 371.1,453.5 380.5,441.9 385.2,418.5 394.5,385.8 394.5,367.1 385.2,360.1 382.8,325.1 375.8,301.7 372.3,285.4 366.5,271.4" fill="#bababa"/>
<polygon points="352,280 368,280 376,310 381,350 388,380 384,410 378,438 362,452 348,447 344,425 340,390 338,350 340,310 344,288" fill="#b3b3b3"/>
<path d="M373.2 392.4L372.1 399.8M365.6 389.1L348.4 332.5M373.6 377L341 297.1M345.7 376.2L393.4 381.9M368.1 328.3L373.7 317.8M350.8 412.8L365.3 276.5M364.8 327.4L379.7 328.3M350.7 444.9L365.6 413.9M361 446.8L342.4 424M357.3 337.5L373.4 416.2M375.9 304.9L365.6 389.1M364.4 299.7L358.6 374.3M358.6 374.3L344.9 393.2M367.1 353.4L347.2 385.8M360.9 454.7L355 452.6M371.8 296.7L393.4 381.9M340 336.9L361.5 435.7M346.4 386.8L375.5 337.1M353.6 374.3L368.7 316.5M368.1 328.3L354.5 394.1M390 388.2L342.5 404.8M340.6 325.2L376.2 347.3M358.6 374.3L367.5 332.1M343.2 404.5L372.1 399.8M371.6 416.4L354.5 394.1M359.6 326L363.4 354.6M343.3 416.1L370.4 285.2M370 441.1L386.7 390.2M335.8 341.3L342.5 404.8M377.8 310.4L369.3 415.2M373.8 398L352.9 342.8M364.9 281.3L378.1 372.2M360.6 305.2L362.8 296.5M355.2 378.5L375.5 328.3M377.4 341.7L341 297.1M348.9 381.9L346.7 406.7M356.9 442.5L340.6 325.2M354.1 416.8L335.6 334.3M357 329.1L364.5 437.9M349.2 298.2L352.1 380.5M375.3 334.2L358.6 374.3M347.4 369.8L346.5 435.2M350.6 419.9L386.5 366M361.7 306.7L365.2 414.5M341 297.1L349.3 371.7M339.4 395.4L355.4 368.2M388 393.6L342.4 319.8M349.4 329.5L345.5 435.4M342.5 404.8L344.4 408.8M361.5 363.9L365.5 300.3M388.5 391.3L337.5 344.8M355.4 423.1L379.5 430.1M342.1 408.8L375.3 427.3M356 320L349.6 371.9M355 452.6L373.8 398M339.4 395.4L348.9 381.9M355.2 298.3L346.8 360.4M362.4 385L357.5 353.6M344.9 393.2L351 449M337.5 344.8L373.4 416.2M393.4 381.9L349 315.4M362.2 438.1L359.6 447.4M372.4 337.7L354.5 394.1M363.9 278.1L343 289.8M363.3 302.1L350.8 346.6M372.3 408.6L342.8 340.9M362.8 296.5L381.6 339.4M354.5 328.5L345 416.6M370.4 285.2L356.9 442.5M365.8 382.1L342.1 408.8M365.6 389.1L361 446.8M346.2 316.4L346.5 409.6M345.7 376.2L340.7 312.6M355.3 342.3L342 290.8M364.2 308.6L365.8 307.9M364.2 308.6L365.7 356.5M356.9 442.5L349.7 434.9M361.7 309.4L338 333.9M348.4 332.5L367.2 406M363.4 354.6L365.7 403.7M372.5 343L343.3 416.1M343.7 352L346.5 435.2M368.4 280.7L376.6 439M358.1 352.9L365.5 300.3M388 402.9L377.6 428.7M347.2 385.8L357 329.1M384.7 359.8L365.7 403.7M364 317.5L380.1 380M357.3 337.5L365.6 413.9M352 449.8L378.1 372.2M378.5 369.4L343.2 306.3M368.4 413L367.2 440.2M343.2 404.5L368.2 404M373.5 389.3L343.2 404.5M349.7 434.9L372.4 337.7M338.1 322.7L343.7 352M357 329.1L340.2 374.5M355.5 341.5L363.4 354.6M379.5 430.1L353.8 270.1M352.9 378.4L361.8 453.9M342.5 404.8L362 338.7M353.3 306.7L343.2 404.5M350.8 391L341.7 396.1M335.2 341.6L335.5 351M355.5 341.5L368.3 315.7M347.7 286L375.8 430.3M366.2 412.8L365.7 356.5M367.5 332.1L350.8 346.6M365.8 307.9L340.2 374.5M350.7 420.2L354.2 329.3M368.7 316.5L353.2 353.5M349.3 428.3L362.4 385M366.2 412.8L367.1 437.8M351 449L356 320M375.8 430.3L361.7 306.7M370.4 285.2L384.7 359.8M355.4 368.2L362.2 269.9M368.7 316.5L364.4 362.5M357.3 276.7L381.5 425.4M352.2 332.5L335.2 341.6M354.5 433.5L359.6 447.4M347.4 369.8L372.4 322.5M341.8 398.3L362.1 424.1M388.8 404.9L351 313.2M367.2 406L376.1 373.4M373.2 392.4L370.4 285.2M346.2 316.4L340.6 325.2M349.2 403.3L352.9 378.4M376.8 348.8L339.4 395.4M373.4 416.2L358.8 317.7M345.2 417.9L364 403.1M357.2 355L363.4 354.6M357 329.1L358.1 352.9M355.4 368.2L364.6 320.6M361 446.8L365.3 276.5M360.2 422L370.9 284.1M368 316.8L357.3 337.5M364.4 362.5L361.2 355.9M335.6 334.3L346.2 316.4M346.5 409.6L346 375M353.2 353.5L379.1 416.9M369.5 285L364.8 425.5M352.7 382.6L348.1 342.9M363.5 367.8L353.3 306.7M357 329.1L343.3 416.1M369.3 415.2L350.6 419.9M363.7 397.6L365.7 356.5M372.8 331.8L368.4 280.7M346.5 409.6L362.6 423.4M355.2 378.5L365.6 389.1M361.2 370L380.4 364.3M359.9 429.2L339.4 395.4M338.3 330.2L380 370.6M382.5 362.4L366.8 349.2M341.3 322L387.8 386.6M347.7 286L339.8 285.1M372.7 317.1L356.2 347.9M353.3 306.7L361.8 453.9M377.4 341.7L352.5 321.6M349.1 276.9L369.8 361.9M344.4 408.8L335.6 334.3M357.5 353.6L353.6 374.3M370 344.3L372.3 408.6M360.6 288.6L356.8 429.7M367.5 332.1L374.3 401.2M386.5 366L369.6 353.9M369.1 348.7L345.1 303.7M370 441.1L365.8 382.1M375.3 427.3L364 451.2M371.6 416.4L379.7 328.3M334.5 353.7L350.8 391M388 402.9L335.2 341.6M341 297.1L369.5 285M342.4 400.5L371.8 296.7M344.9 393.2L380.9 327.4M343.3 373.5L336.8 337.7M355.4 368.2L371.8 296.7M368.3 283.9L355.2 278.8M376.6 439L346.4 386.7M342.6 332.7L373.5 389.3M336.7 345.8L361 425.9M346.7 406.7L369.9 381.3M365.6 389.1L345.7 376.2M355.2 378.5L353.6 374.3M351.2 299.6L362.9 330.2M349.4 329.5L372.4 322.5M342.4 424L369.9 381.3M363.3 422.9L349.8 398.7M358.5 381.2L358.8 317.7M356.9 442.5L348.9 381.9M369.2 290.4L373.8 398M380.9 327.4L372.7 317.1M342 290.8L346.6 390.7M349.2 298.2L346.6 390.7M368.4 413L368.9 453.8M358.1 333.3L341.3 322M347.2 385.8L339.8 406.8M366.2 412.8L363.3 302.1M350.7 416.4L348.4 332.5M372.7 317.1L393.6 375.9" stroke="#dadada" stroke-width="0.35" fill="none" stroke-opacity="0.5"/>
<g stroke="#111" stroke-width="0.7"><circle cx="360.9" cy="266.8" r="1.8" fill="#aaa6de"/><circle cx="365.3" cy="275.1" r="1.8" fill="#aaa6de"/><circle cx="345.6" cy="277.5" r="1.9" fill="#aaa6de"/><circle cx="351.8" cy="278.1" r="1.7" fill="#34348f"/><circle cx="343.1" cy="279.9" r="1.3" fill="#34348f"/><circle cx="355.7" cy="280.3" r="1.9" fill="#34348f"/><circle cx="357.5" cy="282.5" r="1.8" fill="#aaa6de"/><circle cx="359.8" cy="280.8" r="1.8" fill="#34348f"/><circle cx="356.2" cy="285.6" r="1.7" fill="#34348f"/><circle cx="360.5" cy="285" r="1.7" fill="#34348f"/><circle cx="358.6" cy="287.4" r="1.6" fill="#34348f"/><circle cx="354" cy="283.8" r="1.8" fill="#aaa6de"/><circle cx="365" cy="280.3" r="1.7" fill="#34348f"/><circle cx="367.7" cy="279.9" r="1.5" fill="#34348f"/><circle cx="368.3" cy="282.5" r="1.7" fill="#34348f"/><circle cx="371" cy="285.2" r="1.7" fill="#34348f"/><circle cx="339.8" cy="287.2" r="1.4" fill="#6464b8"/><circle cx="342" cy="287.7" r="1.4" fill="#6464b8"/><circle cx="344.3" cy="288" r="1.4" fill="#6464b8"/><circle cx="349.6" cy="286.6" r="1.7" fill="#34348f"/><circle cx="362.8" cy="291.8" r="1.8" fill="#aaa6de"/><circle cx="349.1" cy="294.5" r="1.7" fill="#aaa6de"/><circle cx="365.5" cy="297.8" r="1.8" fill="#aaa6de"/><circle cx="360" cy="299.4" r="1.9" fill="#f7f7f7"/><circle cx="362.8" cy="299.4" r="1.8" fill="#f7f7f7"/><circle cx="357.9" cy="308.2" r="1.8" fill="#f7f7f7"/><circle cx="361.1" cy="306" r="1.9" fill="#f7f7f7"/><circle cx="362.8" cy="307.6" r="1.9" fill="#f7f7f7"/><circle cx="365.5" cy="304.4" r="1.7" fill="#f7f7f7"/><circle cx="360.6" cy="310.6" r="1.8" fill="#f7f7f7"/><circle cx="360" cy="314.2" r="1.7" fill="#f7f7f7"/><circle cx="373.2" cy="307.1" r="1.8" fill="#aaa6de"/><circle cx="373.2" cy="312" r="1.8" fill="#aaa6de"/><circle cx="375.4" cy="312.4" r="1.7" fill="#aaa6de"/><circle cx="336.5" cy="310.9" r="1.3" fill="#6464b8"/><circle cx="337" cy="314.2" r="1.6" fill="#6464b8"/><circle cx="339.2" cy="314.2" r="1.5" fill="#6464b8"/><circle cx="355.1" cy="319.4" r="1.8" fill="#aaa6de"/><circle cx="372.6" cy="318.6" r="1.8" fill="#aaa6de"/><circle cx="381.7" cy="323.3" r="1.7" fill="#aaa6de"/><circle cx="347.5" cy="328.1" r="1.8" fill="#aaa6de"/><circle cx="362.8" cy="327.4" r="1.9" fill="#aaa6de"/><circle cx="365" cy="326.8" r="1.9" fill="#aaa6de"/><circle cx="372.6" cy="329.5" r="1.8" fill="#aaa6de"/><circle cx="381.4" cy="329.5" r="1.8" fill="#aaa6de"/><circle cx="354.6" cy="332.8" r="1.9" fill="#f7f7f7"/><circle cx="357.9" cy="332.3" r="1.9" fill="#f7f7f7"/><circle cx="378.7" cy="331.7" r="1.7" fill="#f7f7f7"/><circle cx="336.6" cy="341.7" r="1.7" fill="#f7f7f7"/><circle cx="355" cy="332.6" r="1.9" fill="#f7f7f7"/><circle cx="358.6" cy="333.6" r="1.9" fill="#aaa6de"/><circle cx="367.3" cy="335.1" r="1.8" fill="#aaa6de"/><circle cx="371.9" cy="330.5" r="1.8" fill="#aaa6de"/><circle cx="378" cy="331" r="1.7" fill="#f7f7f7"/><circle cx="373.9" cy="333.6" r="1.7" fill="#f7f7f7"/><circle cx="375" cy="337.2" r="1.7" fill="#f7f7f7"/><circle cx="379" cy="337.2" r="1.6" fill="#f7f7f7"/><circle cx="353" cy="340.7" r="1.9" fill="#aaa6de"/><circle cx="358.1" cy="338.7" r="2" fill="#aaa6de"/><circle cx="358.1" cy="341.2" r="1.9" fill="#aaa6de"/><circle cx="362.3" cy="347.6" r="1.1" fill="#6464b8"/><circle cx="363.7" cy="346.3" r="1.1" fill="#6464b8"/><circle cx="365.1" cy="345" r="1.1" fill="#6464b8"/><circle cx="381.6" cy="340.2" r="1.6" fill="#f7f7f7"/><circle cx="334.1" cy="350.4" r="1.7" fill="#f7f7f7"/><circle cx="332.6" cy="355" r="1.7" fill="#f7f7f7"/><circle cx="337.7" cy="356" r="1.7" fill="#f7f7f7"/><circle cx="334.6" cy="360.1" r="1.7" fill="#f7f7f7"/><circle cx="345.3" cy="352.5" r="1.8" fill="#f7f7f7"/><circle cx="357.1" cy="353.7" r="1.8" fill="#aaa6de"/><circle cx="363.2" cy="354" r="1.9" fill="#aaa6de"/><circle cx="362.2" cy="356.8" r="2" fill="#aaa6de"/><circle cx="365.2" cy="359.1" r="0.9" fill="#555555"/><circle cx="375.5" cy="351.5" r="1.8" fill="#aaa6de"/><circle cx="348.9" cy="363.5" r="1.8" fill="#aaa6de"/><circle cx="348.9" cy="366.8" r="1.8" fill="#aaa6de"/><circle cx="355" cy="364.9" r="2" fill="#aaa6de"/><circle cx="374.9" cy="361.7" r="1.7" fill="#f7f7f7"/><circle cx="372.9" cy="366.8" r="1.7" fill="#f7f7f7"/><circle cx="377.5" cy="368.3" r="1.7" fill="#f7f7f7"/><circle cx="380.6" cy="368.6" r="1.6" fill="#f7f7f7"/><circle cx="355.5" cy="375.5" r="0.8" fill="#555555"/><circle cx="364.7" cy="377.5" r="1.8" fill="#f7f7f7"/><circle cx="364.7" cy="382.6" r="1.8" fill="#f7f7f7"/><circle cx="355.5" cy="384.6" r="1.6" fill="#f7f7f7"/><circle cx="352.5" cy="387.4" r="1.6" fill="#f7f7f7"/><circle cx="367.3" cy="385.7" r="1.6" fill="#f7f7f7"/><circle cx="368.8" cy="389.2" r="1.7" fill="#f7f7f7"/><circle cx="376.5" cy="387.2" r="1.3" fill="#f7f7f7"/><circle cx="360.1" cy="391.8" r="1.8" fill="#f7f7f7"/><circle cx="361.2" cy="396.4" r="1.7" fill="#f7f7f7"/><circle cx="389.8" cy="368.3" r="1.8" fill="#e9b9b3"/><circle cx="393.3" cy="371.9" r="1.7" fill="#e9b9b3"/><circle cx="392.3" cy="374.9" r="1.7" fill="#e9b9b3"/><circle cx="388.7" cy="381.6" r="1.8" fill="#e9b9b3"/><circle cx="391.8" cy="381.6" r="1.8" fill="#e9b9b3"/><circle cx="394.4" cy="380" r="1.7" fill="#f7f7f7"/><circle cx="389.8" cy="389.2" r="1.6" fill="#c77a72"/><circle cx="392.8" cy="390.3" r="1.7" fill="#e9b9b3"/><circle cx="389.8" cy="394.4" r="1.7" fill="#f7f7f7"/><circle cx="385.7" cy="397.9" r="1.6" fill="#f7f7f7"/><circle cx="376.5" cy="396.9" r="0.8" fill="#555555"/><circle cx="364.3" cy="400.2" r="1.7" fill="#e9b9b3"/><circle cx="357.6" cy="403.8" r="1.8" fill="#e9b9b3"/><circle cx="364.3" cy="406.3" r="1.8" fill="#e9b9b3"/><circle cx="359.7" cy="409.9" r="1.8" fill="#e9b9b3"/><circle cx="363.8" cy="411.5" r="1.8" fill="#e9b9b3"/><circle cx="366.6" cy="413" r="1.7" fill="#e9b9b3"/><circle cx="351" cy="416" r="1.7" fill="#e9b9b3"/><circle cx="350.5" cy="417.6" r="1.5" fill="#e9b9b3"/><circle cx="364.8" cy="419.6" r="1.7" fill="#e9b9b3"/><circle cx="368.9" cy="421.2" r="1.8" fill="#e9b9b3"/><circle cx="386.2" cy="404.3" r="1.7" fill="#e9b9b3"/><circle cx="383.7" cy="400.2" r="1.6" fill="#f7f7f7"/><circle cx="385.7" cy="398.2" r="1.5" fill="#f7f7f7"/><circle cx="383.7" cy="417.1" r="1.6" fill="#e9b9b3"/><circle cx="382.6" cy="419.6" r="1.6" fill="#e9b9b3"/><circle cx="380.6" cy="424.2" r="1.7" fill="#e9b9b3"/><circle cx="332.9" cy="423.5" r="0.9" fill="#8e2b2b"/><circle cx="354" cy="424.9" r="1.9" fill="#f7f7f7"/><circle cx="348.4" cy="428.6" r="1.6" fill="#e9b9b3"/><circle cx="351" cy="428.8" r="1.6" fill="#e9b9b3"/><circle cx="343.8" cy="429.8" r="1.6" fill="#e9b9b3"/><circle cx="342.8" cy="432.9" r="1.5" fill="#e9b9b3"/><circle cx="360.7" cy="429" r="1.5" fill="#c77a72"/><circle cx="369.9" cy="428.5" r="1.5" fill="#8e2b2b"/><circle cx="374.5" cy="428" r="1.6" fill="#c77a72"/><circle cx="345.9" cy="435.5" r="1.7" fill="#e9b9b3"/><circle cx="347.9" cy="438" r="1.7" fill="#e9b9b3"/><circle cx="344.3" cy="439.5" r="1.7" fill="#e9b9b3"/><circle cx="349.5" cy="440" r="1.7" fill="#e9b9b3"/><circle cx="352.5" cy="439.5" r="1.6" fill="#e9b9b3"/><circle cx="354.6" cy="440.6" r="1.6" fill="#e9b9b3"/><circle cx="361.2" cy="439.5" r="1.5" fill="#8e2b2b"/><circle cx="375.5" cy="437.5" r="1.6" fill="#c77a72"/><circle cx="374" cy="440.6" r="1.6" fill="#c77a72"/><circle cx="347.9" cy="443.1" r="1.7" fill="#e9b9b3"/><circle cx="350" cy="445.7" r="1.7" fill="#e9b9b3"/><circle cx="347.4" cy="446.2" r="1.7" fill="#e9b9b3"/><circle cx="345.9" cy="448.7" r="1.7" fill="#e9b9b3"/><circle cx="346.9" cy="451.8" r="1.7" fill="#e9b9b3"/><circle cx="351.5" cy="454.9" r="1.7" fill="#e9b9b3"/><circle cx="356.4" cy="456.6" r="1.7" fill="#e9b9b3"/><circle cx="365.6" cy="456.2" r="1.7" fill="#e9b9b3"/><circle cx="368.7" cy="453.8" r="1.6" fill="#c77a72"/><circle cx="369.4" cy="450.3" r="1.6" fill="#e9b9b3"/><circle cx="371.7" cy="448.7" r="1.5" fill="#e9b9b3"/><circle cx="380.9" cy="444.1" r="0.9" fill="#c77a72"/><circle cx="380.9" cy="448" r="0.9" fill="#c77a72"/><circle cx="251.5" cy="352" r="1.7" fill="#f7f7f7"/><circle cx="255.5" cy="353.1" r="1.7" fill="#f7f7f7"/><circle cx="257.8" cy="355" r="1.7" fill="#f7f7f7"/><circle cx="253.2" cy="356.6" r="1.7" fill="#f7f7f7"/><circle cx="256.2" cy="357.8" r="1.7" fill="#f7f7f7"/><circle cx="252" cy="360.1" r="1.7" fill="#f7f7f7"/><circle cx="254.3" cy="362" r="1.7" fill="#f7f7f7"/><circle cx="253.2" cy="364.8" r="1.7" fill="#f7f7f7"/><circle cx="255.5" cy="366.7" r="1.7" fill="#f7f7f7"/><circle cx="252" cy="369.5" r="1.6" fill="#f7f7f7"/><circle cx="251.3" cy="373" r="1.6" fill="#f7f7f7"/></g>
<text x="407.7" y="272.8" font-size="8.2" fill="#222">Overlap size</text>
<line x1="408" y1="281.2" x2="415.3" y2="281.2" stroke="#e4e4e4" stroke-width="0.5"/>
<text x="420" y="283.8" font-size="7.3" fill="#333">25</text>
<line x1="408" y1="289.9" x2="415.3" y2="289.9" stroke="#e4e4e4" stroke-width="1.1"/>
<text x="420" y="292.5" font-size="7.3" fill="#333">50</text>
<line x1="408" y1="299.4" x2="415.3" y2="299.4" stroke="#e4e4e4" stroke-width="1.9"/>
<text x="420" y="302" font-size="7.3" fill="#333">75</text>
<line x1="408" y1="308.2" x2="415.3" y2="308.2" stroke="#e4e4e4" stroke-width="2.8"/>
<text x="420" y="310.8" font-size="7.3" fill="#333">100</text>
<text x="407.7" y="331.4" font-size="8.2" fill="#222">Nhood size</text>
<circle cx="411.7" cy="339.7" r="0.55" fill="#fff" stroke="#111" stroke-width="0.6"/>
<text x="420" y="342.3" font-size="7.3" fill="#333">40</text>
<circle cx="411.7" cy="348.8" r="0.9" fill="#fff" stroke="#111" stroke-width="0.6"/>
<text x="420" y="351.4" font-size="7.3" fill="#333">60</text>
<circle cx="411.7" cy="357.5" r="1.1" fill="#fff" stroke="#111" stroke-width="0.6"/>
<text x="420" y="360.1" font-size="7.3" fill="#333">80</text>
<circle cx="411.7" cy="366.7" r="1.3" fill="#fff" stroke="#111" stroke-width="0.6"/>
<text x="420" y="369.3" font-size="7.3" fill="#333">100</text>
<circle cx="411.7" cy="375.5" r="1.45" fill="#fff" stroke="#111" stroke-width="0.6"/>
<text x="420" y="378.1" font-size="7.3" fill="#333">120</text>
<circle cx="411.7" cy="384.4" r="1.6" fill="#fff" stroke="#111" stroke-width="0.6"/>
<text x="420" y="387" font-size="7.3" fill="#333">140</text>
<text x="407.7" y="408.6" font-size="8.4" fill="#222">logFC</text>
<defs><linearGradient id="glfc" x1="0" y1="0" x2="0" y2="1"><stop offset="0" stop-color="#3a3aa0"/><stop offset="0.5" stop-color="#ffffff"/><stop offset="1" stop-color="#8b1a1a"/></linearGradient></defs>
<rect x="407.1" y="413" width="8.9" height="44.7" fill="url(#glfc)"/>
<line x1="407.1" y1="414.8" x2="408.6" y2="414.8" stroke="#fff" stroke-width="0.6"/>
<line x1="414.5" y1="414.8" x2="416" y2="414.8" stroke="#fff" stroke-width="0.6"/>
<text x="420" y="417.4" font-size="7.3" fill="#333">5.0</text>
<line x1="407.1" y1="425" x2="408.6" y2="425" stroke="#fff" stroke-width="0.6"/>
<line x1="414.5" y1="425" x2="416" y2="425" stroke="#fff" stroke-width="0.6"/>
<text x="420" y="427.6" font-size="7.3" fill="#333">2.5</text>
<line x1="407.1" y1="435.2" x2="408.6" y2="435.2" stroke="#fff" stroke-width="0.6"/>
<line x1="414.5" y1="435.2" x2="416" y2="435.2" stroke="#fff" stroke-width="0.6"/>
<text x="420" y="437.8" font-size="7.3" fill="#333">0.0</text>
<line x1="407.1" y1="445.6" x2="408.6" y2="445.6" stroke="#fff" stroke-width="0.6"/>
<line x1="414.5" y1="445.6" x2="416" y2="445.6" stroke="#fff" stroke-width="0.6"/>
<text x="420" y="448.2" font-size="7.3" fill="#333">−2.5</text>
<line x1="407.1" y1="455.5" x2="408.6" y2="455.5" stroke="#fff" stroke-width="0.6"/>
<line x1="414.5" y1="455.5" x2="416" y2="455.5" stroke="#fff" stroke-width="0.6"/>
<text x="420" y="458.1" font-size="7.3" fill="#333">−5.0</text>
<text transform="translate(461.1 262.2) scale(1.12 1)" font-size="21">e</text>
<rect x="491.3" y="267.5" width="174.7" height="182.8" fill="#fff"/>
<line x1="491.3" y1="444.9" x2="666" y2="444.9" stroke="#ececec" stroke-width="1.0"/>
<line x1="491.3" y1="427.1" x2="666" y2="427.1" stroke="#ececec" stroke-width="1.0"/>
<line x1="491.3" y1="409.3" x2="666" y2="409.3" stroke="#ececec" stroke-width="1.0"/>
<line x1="491.3" y1="391.4" x2="666" y2="391.4" stroke="#ececec" stroke-width="1.0"/>
<line x1="491.3" y1="373.6" x2="666" y2="373.6" stroke="#ececec" stroke-width="1.0"/>
<line x1="491.3" y1="355.8" x2="666" y2="355.8" stroke="#ececec" stroke-width="1.0"/>
<line x1="491.3" y1="337.9" x2="666" y2="337.9" stroke="#ececec" stroke-width="1.0"/>
<line x1="491.3" y1="320.1" x2="666" y2="320.1" stroke="#ececec" stroke-width="1.0"/>
<line x1="491.3" y1="302.3" x2="666" y2="302.3" stroke="#ececec" stroke-width="1.0"/>
<line x1="491.3" y1="284.4" x2="666" y2="284.4" stroke="#ececec" stroke-width="1.0"/>
<line x1="512" y1="267.5" x2="512" y2="450.3" stroke="#ececec" stroke-width="1.0"/>
<line x1="555.7" y1="267.5" x2="555.7" y2="450.3" stroke="#ececec" stroke-width="1.0"/>
<line x1="599.5" y1="267.5" x2="599.5" y2="450.3" stroke="#ececec" stroke-width="1.0"/>
<line x1="643.2" y1="267.5" x2="643.2" y2="450.3" stroke="#ececec" stroke-width="1.0"/>
<line x1="491.3" y1="436" x2="666" y2="436" stroke="#e6e6e6" stroke-width="2.1"/>
<line x1="491.3" y1="418.2" x2="666" y2="418.2" stroke="#e6e6e6" stroke-width="2.1"/>
<line x1="491.3" y1="400.3" x2="666" y2="400.3" stroke="#e6e6e6" stroke-width="2.1"/>
<line x1="491.3" y1="382.5" x2="666" y2="382.5" stroke="#e6e6e6" stroke-width="2.1"/>
<line x1="491.3" y1="364.7" x2="666" y2="364.7" stroke="#e6e6e6" stroke-width="2.1"/>
<line x1="491.3" y1="346.9" x2="666" y2="346.9" stroke="#e6e6e6" stroke-width="2.1"/>
<line x1="491.3" y1="329" x2="666" y2="329" stroke="#e6e6e6" stroke-width="2.1"/>
<line x1="491.3" y1="311.2" x2="666" y2="311.2" stroke="#e6e6e6" stroke-width="2.1"/>
<line x1="491.3" y1="293.4" x2="666" y2="293.4" stroke="#e6e6e6" stroke-width="2.1"/>
<line x1="491.3" y1="275.5" x2="666" y2="275.5" stroke="#e6e6e6" stroke-width="2.1"/>
<line x1="533.9" y1="267.5" x2="533.9" y2="450.3" stroke="#e6e6e6" stroke-width="2.1"/>
<line x1="577.6" y1="267.5" x2="577.6" y2="450.3" stroke="#e6e6e6" stroke-width="2.1"/>
<line x1="621.3" y1="267.5" x2="621.3" y2="450.3" stroke="#e6e6e6" stroke-width="2.1"/>
<line x1="665" y1="267.5" x2="665" y2="450.3" stroke="#e6e6e6" stroke-width="2.1"/>
<path d="M498.5 275.5h0" stroke="#8b1a1a" stroke-width="2.9" stroke-linecap="round" fill="none"/>
<path d="M577.5 290h0m17 1h0m-9.5 1.5h0m-13.5 1h0m3.5 3h0m14.5-2h0m-11 4h0m-6 27.5h0m7 .5h0m-3.5 2h0m-2-1.5h0m-6.5 2h0m2.5 3h0m1.5-1.5h0m2 2h0m1-2h0m3.5-.5h0m1.5 1.5h0m-7 3h0m-4 28h0m29 1h0m-19.5 .5h0m-2.5 1.5h0m-7.5 1h0m3 14h0m-11 1h0m2.5 2h0m4-1.5h0m11 2.5h0m12 28.5h0m-2 2h0m-5 2h0m3 1h0m.5 1h0m3.5 0h0m1.5-.5h0m4 0h0m-1 4h0m-3-1.5h0m-4-1h0m-4 .5h0m-9.5 11h0m2.5 0h0m15-.5h0m6 1.5h0m-8.5 1.5h0m-1 0h0m-5-2h0m-2 2.5h0m-3.5-.5h0m-4.5 .5h0m-.5 0h0m-11-1.5h0m.5 4.5h0m1.5-.5h0m2.5 0h0m3.5-2h0m.5 2.5h0m.5-2h0m9.5 1h0m7.5-1.5h0m2 2h0m5.5 3h0m-5-2h0m-2 2h0m-5.5-1h0m-4.5 1h0m-3.5 0h0m-1-.5h0m-1-1.5h0m-1 1.5h0m-1-1.5h0" stroke="#6e6e6e" stroke-width="2.9" stroke-linecap="round" fill="none"/>
<path d="M611.5 307h0m3 2.5h0m-5 1.5h0m1.5 3.5h0m2 2h0" stroke="#a7a2de" stroke-width="2.9" stroke-linecap="round" fill="none"/>
<path d="M653 308h0m4.5 6h0m-5-2h0m-3 101.5h0m3.5 0h0m1 0h0m2.5-1h0m2.5 0h0m-4.5 1.5h0m0 5h0m1.5-.5h0m.5-.5h0m2 2.5h0m-6.5 1h0m-2-1h0m-.5 2h0" stroke="#2d2a9c" stroke-width="2.9" stroke-linecap="round" fill="none"/>
<path d="M505.5 347h0" stroke="#942c2c" stroke-width="2.9" stroke-linecap="round" fill="none"/>
<path d="M510.5 348.5h0m-4.5 52h0" stroke="#a24848" stroke-width="2.9" stroke-linecap="round" fill="none"/>
<path d="M514.5 344.5h0" stroke="#a75151" stroke-width="2.9" stroke-linecap="round" fill="none"/>
<path d="M518 345.5h0" stroke="#ab5a5a" stroke-width="2.9" stroke-linecap="round" fill="none"/>
<path d="M517.5 351h0" stroke="#b26868" stroke-width="2.9" stroke-linecap="round" fill="none"/>
<path d="M523.5 348h0" stroke="#b97676" stroke-width="2.9" stroke-linecap="round" fill="none"/>
<path d="M527 342h0" stroke="#be7f7f" stroke-width="2.9" stroke-linecap="round" fill="none"/>
<path d="M529 346.5h0m-1 6.5h0m5 30.5h0" stroke="#c38888" stroke-width="2.9" stroke-linecap="round" fill="none"/>
<path d="M530.5 349h0m6 31h0" stroke="#c79191" stroke-width="2.9" stroke-linecap="round" fill="none"/>
<path d="M538.5 345h0m3.5 39.5h0" stroke="#d5adad" stroke-width="2.9" stroke-linecap="round" fill="none"/>
<path d="M540 349.5h0m5 15.5h0m2.5 12.5h0m2 6.5h0m-9 13.5h0" stroke="#dab6b6" stroke-width="2.9" stroke-linecap="round" fill="none"/>
<path d="M546.5 346.5h0m7.5 18h0m2 16.5h0m-4 13h0" stroke="#e3c8c8" stroke-width="2.9" stroke-linecap="round" fill="none"/>
<path d="M521 346h0m1.5 36.5h0" stroke="#b56c6c" stroke-width="2.9" stroke-linecap="round" fill="none"/>
<path d="M533.5 365.5h0" stroke="#cc9a9a" stroke-width="2.9" stroke-linecap="round" fill="none"/>
<path d="M536 366h0" stroke="#d1a3a3" stroke-width="2.9" stroke-linecap="round" fill="none"/>
<path d="M542 362h0m3.5 19.5h0" stroke="#d8b1b1" stroke-width="2.9" stroke-linecap="round" fill="none"/>
<path d="M548 360.5h0m5 25h0" stroke="#dfbfbf" stroke-width="2.9" stroke-linecap="round" fill="none"/>
<path d="M551 366.5h0m6 69.5h0m-4.5-.5h0m-5-.5h0m-3.5 .5h0" stroke="#e1c3c3" stroke-width="2.9" stroke-linecap="round" fill="none"/>
<path d="M544 368.5h0m7.5 10h0m-8.5 15.5h0" stroke="#dcbaba" stroke-width="2.9" stroke-linecap="round" fill="none"/>
<path d="M561 364.5h0" stroke="#ead6d6" stroke-width="2.9" stroke-linecap="round" fill="none"/>
<path d="M541.5 403.5h0" stroke="#dbb8b8" stroke-width="2.9" stroke-linecap="round" fill="none"/>
<path d="M552.5 400h0" stroke="#e4c9c9" stroke-width="2.9" stroke-linecap="round" fill="none"/>
<path d="M554.5 399.5h0" stroke="#e5cccc" stroke-width="2.9" stroke-linecap="round" fill="none"/>
<path d="M557.5 402h0" stroke="#e7d0d0" stroke-width="2.9" stroke-linecap="round" fill="none"/>
<path d="M538 401h0" stroke="#d8b2b2" stroke-width="2.9" stroke-linecap="round" fill="none"/>
<path d="M547 401h0" stroke="#dfc0c0" stroke-width="2.9" stroke-linecap="round" fill="none"/>
<path d="M540 403h0" stroke="#dab5b5" stroke-width="2.9" stroke-linecap="round" fill="none"/>
<path d="M539 397.5h0m0 1.5h0m0 4.5h0" stroke="#d9b4b4" stroke-width="2.9" stroke-linecap="round" fill="none"/>
<path d="M549.5 395h0" stroke="#e1c4c4" stroke-width="2.9" stroke-linecap="round" fill="none"/>
<path d="M551.5 399h0" stroke="#e3c7c7" stroke-width="2.9" stroke-linecap="round" fill="none"/>
<path d="M548.5 403.5h0" stroke="#e0c3c3" stroke-width="2.9" stroke-linecap="round" fill="none"/>
<path d="M555 402.5h0" stroke="#e6cdcd" stroke-width="2.9" stroke-linecap="round" fill="none"/>
<path d="M542 395h0" stroke="#dbb9b9" stroke-width="2.9" stroke-linecap="round" fill="none"/>
<path d="M550 401h0" stroke="#e1c5c5" stroke-width="2.9" stroke-linecap="round" fill="none"/>
<path d="M558 405.5h0" stroke="#e8d1d1" stroke-width="2.9" stroke-linecap="round" fill="none"/>
<path d="M553 399.5h0" stroke="#e4caca" stroke-width="2.9" stroke-linecap="round" fill="none"/>
<path d="M560 394h0m-.5 6.5h0" stroke="#e9d4d4" stroke-width="2.9" stroke-linecap="round" fill="none"/>
<path d="M545 405h0" stroke="#debebe" stroke-width="2.9" stroke-linecap="round" fill="none"/>
<path d="M609.5 416.5h0m1.5-2.5h0m2.5 1h0m1.5-1h0m2 .5h0m2 .5h0m-1.5 7.5h0m-6-1h0m-1 .5h0m-.5-1h0m-.5 .5h0m-1.5 1h0m-.5-2h0m-3 2h0" stroke="#aaa5df" stroke-width="2.9" stroke-linecap="round" fill="none"/>
<path d="M635 415.5h0m3.5 .5h0m4.5-1.5h0m-1 4h0m-3 .5h0m-1-.5h0m-3.5 1h0" stroke="#5a55c0" stroke-width="2.9" stroke-linecap="round" fill="none"/>
<path d="M598.5 431h0m7-1h0m2.5 .5h0m1.5 0h0m1.5-.5h0m4.5 1h0m3 3h0m-1-2h0m-3.5 .5h0m-14.5 0h0m-1.5 0h0m12.5 2.5h0m8.5 4.5h0m-4.5-1.5h0m-2 0h0m-3 1h0m-3-1h0m-3.5 4.5h0m4.5-1h0m6.5-.5h0" stroke="#aba6e0" stroke-width="2.9" stroke-linecap="round" fill="none"/>
<path d="M597 430h0m1 1.5h0m19-.5h0m-1.5 1h0m-13 1.5h0m-1.5 1h0m-1.5 0h0m0-2h0m-.5 2h0m-1.5-2h0m.5 3h0m1.5 1h0m5.5-1h0m0 1.5h0m0 .5h0m.5-1h0m2 0h0m0 .5h0m1 .5h0m6.5 0h0m3 1h0m-2 1.5h0m0-1.5h0m-8 .5h0m-9-.5h0m-2.5 3.5h0m6.5 0h0m6.5-.5h0m6.5 .5h0m1.5-.5h0" stroke="#c1bdea" stroke-width="2.9" stroke-linecap="round" fill="none"/>
<path d="M599 431.5h0m8.5-1.5h0m2 1h0m-5.5 2.5h0m-7.5 1.5h0m2 1.5h0m9-.5h0m3.5 .5h0m1.5-1.5h0m2 1h0m2.5 .5h0m1.5-1h0m1 4h0m-2.5-1h0m-.5-.5h0m-6 1.5h0m-5.5 2.5h0m3-1h0m0 1h0m10-1h0" stroke="#b7b2e6" stroke-width="2.9" stroke-linecap="round" fill="none"/>
<rect x="491.3" y="267.5" width="174.7" height="182.8" fill="none" stroke="#333" stroke-width="1.1"/>
<line x1="488.3" y1="436" x2="491.3" y2="436" stroke="#333" stroke-width="1.4"/>
<text x="486.9" y="439.7" font-size="10.3" text-anchor="end" fill="#4d4d4d">1</text>
<line x1="488.3" y1="418.2" x2="491.3" y2="418.2" stroke="#333" stroke-width="1.4"/>
<text x="486.9" y="421.9" font-size="10.3" text-anchor="end" fill="#4d4d4d">2</text>
<line x1="488.3" y1="400.3" x2="491.3" y2="400.3" stroke="#333" stroke-width="1.4"/>
<text x="486.9" y="404" font-size="10.3" text-anchor="end" fill="#4d4d4d">3</text>
<line x1="488.3" y1="382.5" x2="491.3" y2="382.5" stroke="#333" stroke-width="1.4"/>
<text x="486.9" y="386.2" font-size="10.3" text-anchor="end" fill="#4d4d4d">4</text>
<line x1="488.3" y1="364.7" x2="491.3" y2="364.7" stroke="#333" stroke-width="1.4"/>
<text x="486.9" y="368.4" font-size="10.3" text-anchor="end" fill="#4d4d4d">5</text>
<line x1="488.3" y1="346.9" x2="491.3" y2="346.9" stroke="#333" stroke-width="1.4"/>
<text x="486.9" y="350.6" font-size="10.3" text-anchor="end" fill="#4d4d4d">6</text>
<line x1="488.3" y1="329" x2="491.3" y2="329" stroke="#333" stroke-width="1.4"/>
<text x="486.9" y="332.7" font-size="10.3" text-anchor="end" fill="#4d4d4d">7</text>
<line x1="488.3" y1="311.2" x2="491.3" y2="311.2" stroke="#333" stroke-width="1.4"/>
<text x="486.9" y="314.9" font-size="10.3" text-anchor="end" fill="#4d4d4d">8</text>
<line x1="488.3" y1="293.4" x2="491.3" y2="293.4" stroke="#333" stroke-width="1.4"/>
<text x="486.9" y="297.1" font-size="10.3" text-anchor="end" fill="#4d4d4d">9</text>
<line x1="488.3" y1="275.5" x2="491.3" y2="275.5" stroke="#333" stroke-width="1.4"/>
<text x="486.9" y="279.2" font-size="10.3" text-anchor="end" fill="#4d4d4d">10</text>
<line x1="533.9" y1="450.3" x2="533.9" y2="453.1" stroke="#333" stroke-width="1.4"/>
<text x="533.9" y="463.2" font-size="9.8" text-anchor="middle" fill="#4d4d4d">−3</text>
<line x1="577.6" y1="450.3" x2="577.6" y2="453.1" stroke="#333" stroke-width="1.4"/>
<text x="577.6" y="463.2" font-size="9.8" text-anchor="middle" fill="#4d4d4d">0</text>
<line x1="621.3" y1="450.3" x2="621.3" y2="453.1" stroke="#333" stroke-width="1.4"/>
<text x="621.3" y="463.2" font-size="9.8" text-anchor="middle" fill="#4d4d4d">3</text>
<line x1="665" y1="450.3" x2="665" y2="453.1" stroke="#333" stroke-width="1.4"/>
<text x="665" y="463.2" font-size="9.8" text-anchor="middle" fill="#4d4d4d">6</text>
<text x="580.3" y="474.5" font-size="12.3" text-anchor="middle">Log fold change</text>
<text x="580.8" y="485" font-size="12.1" text-anchor="middle">(3-4 years vs 1-3 months)</text>
<text x="472.4" y="361" font-size="13.4" text-anchor="middle" transform="rotate(-90 472.4 361)">Seurat cluster</text>
<text transform="translate(86.6 542.7) scale(1.12 1)" font-size="21">f</text>
<text x="100.9" y="687.1" font-size="14.9" text-anchor="middle" transform="rotate(-90 100.9 687.1)">Module score</text>
<rect x="122.6" y="535.1" width="141.6" height="125.1" fill="#fff"/>
<line x1="122.6" y1="644.6" x2="264.2" y2="644.6" stroke="#f0f0f0" stroke-width="0.55"/>
<line x1="122.6" y1="610.9" x2="264.2" y2="610.9" stroke="#f0f0f0" stroke-width="0.55"/>
<line x1="122.6" y1="577.2" x2="264.2" y2="577.2" stroke="#f0f0f0" stroke-width="0.55"/>
<line x1="122.6" y1="543.5" x2="264.2" y2="543.5" stroke="#f0f0f0" stroke-width="0.55"/>
<line x1="122.6" y1="627.8" x2="264.2" y2="627.8" stroke="#e5e5e5" stroke-width="0.9"/>
<line x1="122.6" y1="594.1" x2="264.2" y2="594.1" stroke="#e5e5e5" stroke-width="0.9"/>
<line x1="122.6" y1="560.4" x2="264.2" y2="560.4" stroke="#e5e5e5" stroke-width="0.9"/>
<line x1="161.2" y1="535.1" x2="161.2" y2="660.2" stroke="#e5e5e5" stroke-width="0.9"/>
<line x1="225.6" y1="535.1" x2="225.6" y2="660.2" stroke="#e5e5e5" stroke-width="0.9"/>
<line x1="161.2" y1="567.4" x2="161.2" y2="588.3" stroke="#ff0000" stroke-width="1.2"/>
<line x1="161.2" y1="605" x2="161.2" y2="630.1" stroke="#ff0000" stroke-width="1.2"/>
<rect x="137.1" y="588.3" width="48.3" height="16.7" fill="none" stroke="#ff0000" stroke-width="1.2"/>
<line x1="137.1" y1="595.7" x2="185.3" y2="595.7" stroke="#ff0000" stroke-width="1.6"/>
<path d="M150 568h0m2.5 0h0m17.5 2.5h0m0-.5h0m-2 0h0m-1 1h0m-4-.5h0m-5.5 .5h0m-8.5 0h0m-.5 3.5h0m1.5-1.5h0m3.5 0h0m7 2h0m3.5-1h0m0 1.5h0m5-1h0m0 1h0m1 0h0m.5 0h0m1 0h0m1-2h0m0 1h0m.5 1h0m1 2h0m-1-.5h0m-2.5 .5h0m-.5 .5h0m-1.5-1.5h0m-.5 2h0m0-2h0m-1.5 1.5h0m0-1.5h0m-2 1.5h0m-2-.5h0m0-.5h0m-6 1h0m-.5 0h0m0-1h0m-3 .5h0m-.5 1h0m-3-1.5h0m0 4h0m1 0h0m2.5-1h0m1 1.5h0m1-.5h0m1.5 0h0m.5 0h0m.5 0h0m0 .5h0m1 0h0m.5-2h0m1 0h0m.5 1h0m1.5 .5h0m1-1.5h0m.5 2h0m.5-2.5h0m.5 .5h0m1 2h0m2-2h0m.5 1h0m.5-.5h0m.5 0h0m0 1.5h0m.5-.5h0m4.5-.5h0m0 .5h0m-1 2h0m-1.5 .5h0m-2 .5h0m0-1.5h0m-2 .5h0m-.5 1h0m-.5 0h0m0-1h0m-.5 1.5h0m-1-.5h0m0-1h0m-.5 1h0m-.5-1.5h0m-.5 2h0m-.5-.5h0m0-2h0m-.5 2h0m-1-1h0m-1.5-1h0m-1 2.5h0m0-1.5h0m-.5 1h0m0-2h0m-.5 2h0m-.5 0h0m-.5 0h0m-1-1.5h0m-2.5 0h0m0-.5h0m-1 1.5h0m0-1.5h0m-1 1h0m-.5-.5h0m0-.5h0m-1 2.5h0m-.5 0h0m-.5-1h0m0 3h0m0 1h0m.5 0h0m.5-1.5h0m1 1.5h0m.5-1h0m.5-1.5h0m0 2.5h0m1-1.5h0m0 .5h0m0 1h0m.5-2h0m1 1.5h0m.5-1.5h0m.5 .5h0m0 .5h0m2.5-.5h0m1 .5h0m.5-1.5h0m0 1h0m0 1h0m1-1.5h0m.5-.5h0m0 1h0m.5 1.5h0m.5-2.5h0m.5 0h0m0 1h0m.5-1h0m0 2h0m0 .5h0m.5-2h0m.5-.5h0m0 .5h0m0 1.5h0m.5-1.5h0m.5 0h0m0 1h0m3 0h0m.5-1h0m0 1.5h0m0 .5h0m1.5-2h0m0 1h0m1.5-1.5h0m0 1h0m0 1.5h0m1.5 0h0m.5-2.5h0m.5 2h0m0 1.5h0m-.5 2h0m0-1h0m-.5 0h0m0-1h0m-.5 0h0m0-.5h0m-.5 1h0m-.5 1.5h0m0-2h0m-.5-.5h0m-.5 2.5h0m0-.5h0m0-.5h0m0-1.5h0m-.5 .5h0m-.5 2h0m-.5-1h0m-.5 0h0m-.5 0h0m-1-.5h0m-.5 1.5h0m-.5 0h0m0-2h0m-.5 2h0m-.5 0h0m0-.5h0m-.5-1h0m-1 1.5h0m0-1h0m-.5 .5h0m-.5-2h0m-.5 2h0m-.5 .5h0m0-2h0m-1 2h0m0-2.5h0m-1 2.5h0m0-2h0m-.5 2h0m-.5 0h0m-.5 0h0m-.5 0h0m0-.5h0m-.5 0h0m0-1.5h0m-.5 1.5h0m-.5 0h0m0-.5h0m0-1h0m-.5 1.5h0m-.5-1h0m-.5 1.5h0m-.5-1.5h0m0-1h0m-.5 1h0m0-1h0m-.5 1.5h0m0-.5h0m0-1h0m-.5 1h0m-1.5 1.5h0m-.5-.5h0m0-.5h0m-1-1.5h0m-.5 2h0m-.5-.5h0m.5 1.5h0m.5 1h0m0 .5h0m.5-1.5h0m0 1h0m0 .5h0m.5-1.5h0m0 2h0m.5-1.5h0m1-.5h0m0 1h0m.5 0h0m0 .5h0m0 .5h0m.5-1.5h0m1.5 1.5h0m.5 .5h0m1-1.5h0m0 .5h0m0 1h0m.5-1.5h0m.5 .5h0m0 .5h0m.5-.5h0m.5-1h0m0 1h0m.5-1h0m.5 1h0m1-1.5h0m0 .5h0m.5 0h0m.5 0h0m0 .5h0m.5 1h0m.5-1h0m0 1h0m1 0h0m.5-.5h0m1-.5h0m0 1.5h0m.5-2.5h0m0 .5h0m0 2h0m.5 0h0m.5-2.5h0m0 .5h0m0 1h0m.5-1.5h0m0 .5h0m0 1.5h0m.5-2h0m.5 2h0m.5-1h0m0 1.5h0m2-2.5h0m.5 0h0m0 1h0m1.5 .5h0m.5-1h0m.5 1.5h0m.5-1.5h0m0 .5h0m0 1h0m.5 .5h0m-1 2.5h0m0-1.5h0m0-.5h0m-.5 2.5h0m0-2h0m0-.5h0m-1 1h0m-.5 0h0m-1.5 .5h0m0-1.5h0m-.5 2.5h0m0-1h0m0-.5h0m0-1h0m-.5 1.5h0m0-.5h0m-.5 1.5h0m0-2h0m-.5 1h0m0-.5h0m0-1h0m-1 .5h0m0-.5h0m-.5 2h0m0-1h0m-1 0h0m-1 1.5h0m-1.5-1h0m0-.5h0m-.5-1h0m-.5 2h0m0-.5h0m0-1.5h0m-1 1.5h0m0-.5h0m-.5-1h0m-.5 2.5h0m0-1h0m0-.5h0m0-.5h0m-.5 1.5h0m-1 0h0m-.5-1h0m0-.5h0m-.5 0h0m0-.5h0m-.5 1.5h0m0-1.5h0m-.5 2h0m0-.5h0m-.5-1h0m-1.5 1h0m-.5-1h0m0-.5h0m-1 1h0m0-.5h0m-.5 .5h0m-.5-.5h0m-.5 2h0m0-2.5h0m-.5 2h0m-.5-.5h0m0-1.5h0m-1 1.5h0m-.5 0h0m0 3.5h0m.5-2h0m3 0h0m0 1h0m.5-.5h0m.5 1.5h0m.5 .5h0m.5-2h0m0 .5h0m1-1h0m1 0h0m0 2.5h0m.5-2.5h0m0 1h0m0 1h0m.5-.5h0m.5 0h0m.5-1.5h0m0 1h0m0 .5h0m0 1h0m.5-1.5h0m0 1h0m0 .5h0m1-1h0m.5-1h0m0 1h0m2-1h0m0 1h0m0 1h0m1.5-2.5h0m1.5 1h0m0 1h0m.5-2h0m.5 2h0m1-2h0m.5 .5h0m0 1.5h0m.5-1.5h0m0 .5h0m0 .5h0m0 .5h0m0 .5h0m1-1h0m.5-1.5h0m.5 1h0m.5-1h0m1 1.5h0m1-1.5h0m0 1h0m.5-1h0m0 2.5h0m.5-2h0m.5 4h0m0-1.5h0m-1 1h0m-1 1.5h0m0-2.5h0m-.5 0h0m-.5 2h0m0-.5h0m-1-.5h0m0-.5h0m-.5 2h0m-.5-1.5h0m-.5 1.5h0m-1 0h0m-.5-2h0m-.5 .5h0m-.5 0h0m0-.5h0m-1 2h0m-.5 0h0m-1 0h0m-1 0h0m0-1h0m-.5-1h0m0-.5h0m-1.5 .5h0m-.5 .5h0m-.5 0h0m0-1h0m-.5 2.5h0m-.5-2h0m-.5 1.5h0m-.5-1h0m0-1h0m-.5 .5h0m-1 1.5h0m0-1h0m-1 1.5h0m-.5-2.5h0m-.5 2.5h0m-1-2h0m-1.5-.5h0m-.5 2h0m-1-2h0m-.5 0h0m-1 .5h0m.5 4h0m0 1h0m.5-2.5h0m0 2.5h0m1-2.5h0m0 .5h0m.5 0h0m0 1h0m0 1h0m.5-2.5h0m0 .5h0m1-.5h0m0 1.5h0m.5-1h0m.5 .5h0m0 .5h0m1 1h0m1.5-1h0m.5-1.5h0m.5 0h0m0 1.5h0m0 1h0m.5-.5h0m.5-1.5h0m0 1h0m.5-1h0m.5 0h0m.5 .5h0m.5 1.5h0m.5-1h0m.5-1.5h0m0 .5h0m1-.5h0m0 1.5h0m0 1h0m.5-2h0m.5 0h0m2.5 .5h0m1.5 .5h0m0 .5h0m1 0h0m1 0h0m.5-1h0m0 1h0m.5-1.5h0m0 .5h0m1 1h0m0 .5h0m.5-2h0m.5 1h0m.5-1.5h0m.5 2h0m.5-1h0m0 3h0m-.5 1h0m0-2h0m-.5 2.5h0m-.5-2h0m-1 0h0m0-.5h0m-.5 2.5h0m0-2h0m-1.5-.5h0m-.5 1h0m-.5 0h0m-.5 1h0m-1.5 0h0m0-.5h0m0-1h0m-.5 1.5h0m-1 .5h0m-.5-1.5h0m0-1h0m-1 1h0m-.5 0h0m-.5 1h0m-1-2h0m-.5 1.5h0m-1-.5h0m-.5-1h0m-2.5 1.5h0m-1.5-.5h0m-1-1h0m-.5 1.5h0m-1-1.5h0m-1 0h0m-2 0h0m-.5 1.5h0m-.5-1.5h0m1.5 5h0m2 0h0m1.5-1.5h0m1-.5h0m0 1h0m1 .5h0m1 .5h0m0 .5h0m.5-2.5h0m.5 1h0m.5 .5h0m1-1.5h0m1.5 1.5h0m1.5-1.5h0m0 .5h0m0 .5h0m.5 1h0m1-1h0m0 .5h0m0 .5h0m1.5-1h0m.5-.5h0m.5 1.5h0m1.5-2h0m1.5 2.5h0m1.5-1h0m.5 .5h0m.5-1h0m1.5-.5h0m0 3h0m-.5 2h0m-2-2h0m-2 1h0m-2.5 1h0m0-1h0m-1.5-1.5h0m-.5 1.5h0m-1.5 1h0m0-.5h0m-.5-.5h0m-.5-.5h0m-.5 1h0m-.5-.5h0m-.5 1h0m-.5-1.5h0m0-1h0m-.5 1.5h0m0-.5h0m0-.5h0m-.5 0h0m-2 2h0m-1-2h0m-.5 .5h0m-.5 0h0m-1-.5h0m-1 2h0m-.5-1.5h0m-.5 .5h0m-.5 1h0m-1-1.5h0m-1 0h0m.5 4h0m.5-2h0m0 1.5h0m1.5-.5h0m2.5 0h0m.5 0h0m0 1.5h0m.5-2.5h0m0 .5h0m2 1h0m.5 0h0m2-.5h0m2-1h0m.5 .5h0m.5 1.5h0m.5 .5h0m2-1.5h0m3.5-1h0m0 .5h0m0 2h0m1-1h0m2.5-1h0m.5 .5h0m0 1h0m1-.5h0m-.5 4h0m-.5-.5h0m-1-.5h0m-1 0h0m-3 0h0m-.5 .5h0m-1.5-.5h0m-4.5 1h0m0-.5h0m-.5-2h0m-2 2h0m-1 0h0m0-2h0m-1 2h0m-2.5-1.5h0m-2-.5h0m1 3h0m.5 1h0m.5-1h0m1.5 1.5h0m3.5-.5h0m4.5-1h0m1 1h0m.5-1h0m.5 1.5h0m2 1h0m.5-1h0m5.5 .5h0m.5 0h0m-1 3h0m-7-1.5h0m-2 1.5h0m-10.5-1h0m1.5 3.5h0m.5-1.5h0m3.5 5h0m-4 .5h0m-3.5 2.5h0m15.5 3h0" stroke="#ff0000" stroke-width="2.3" stroke-linecap="round" fill="none"/>
<line x1="225.6" y1="590.6" x2="225.6" y2="616.2" stroke="#0000ff" stroke-width="1.2"/>
<line x1="225.6" y1="633.3" x2="225.6" y2="656.7" stroke="#0000ff" stroke-width="1.2"/>
<rect x="201.5" y="616.2" width="48.3" height="17.1" fill="none" stroke="#0000ff" stroke-width="1.2"/>
<line x1="201.5" y1="623" x2="249.7" y2="623" stroke="#0000ff" stroke-width="1.6"/>
<path d="M231 574h0m3.5-1h0m-18.5 8h0m-2 3h0m13-2h0m1 1h0m2 1h0m-3.5 3.5h0m-3-1.5h0m-.5 0h0m-7.5 0h0m5 4.5h0m2.5-2.5h0m0 1.5h0m8.5-1h0m2 .5h0m1.5 4.5h0m-3.5-1.5h0m-1.5-1h0m-8 5h0m2.5-.5h0m1.5 .5h0m1 .5h0m1 0h0m1-2h0m3.5 2h0m.5-1.5h0m0 .5h0m0 .5h0m.5-2h0m2 1h0m2.5 0h0m.5 4.5h0m-5.5 0h0m-3.5-.5h0m-1 .5h0m-1.5-2.5h0m-2.5 1h0m-1 .5h0m-2.5 .5h0m-.5-2h0m-.5 .5h0m-1 0h0m-.5 2h0m-.5 0h0m0-1.5h0m-1.5-.5h0m0-.5h0m-.5 2h0m-.5 .5h0m-.5 0h0m-2 1h0m1 1.5h0m1-2h0m0 2h0m3-.5h0m.5 1h0m.5-.5h0m2-1.5h0m0 1h0m.5 0h0m.5 1h0m.5-2h0m3-.5h0m0 2h0m.5-2h0m0 1.5h0m.5-.5h0m.5 .5h0m.5 0h0m.5-.5h0m.5 1h0m.5-2h0m1 .5h0m.5 2h0m2-1h0m1.5-1h0m1 .5h0m1 .5h0m2 3.5h0m0-.5h0m0-1h0m0-.5h0m-.5 1h0m-1.5 1.5h0m0-1h0m-.5-.5h0m0-.5h0m-.5 .5h0m-.5 1.5h0m0-.5h0m0-1h0m0-1h0m-2 .5h0m-.5 2h0m0-.5h0m-.5-1h0m-.5 .5h0m-.5 1h0m-.5-.5h0m0-1h0m-.5-1h0m-.5 1h0m-.5 1.5h0m0-1.5h0m-1.5 0h0m0-.5h0m-1.5 0h0m-.5 2h0m0-1h0m-.5 1h0m0-1h0m0-.5h0m-.5-.5h0m-.5 1.5h0m-1.5 .5h0m-.5 0h0m0-2.5h0m-.5 0h0m-.5 1.5h0m-.5 1h0m0-2h0m-.5 2h0m0-2h0m0-.5h0m-.5 2h0m0-.5h0m-1 0h0m-.5 1h0m0-.5h0m-.5 0h0m0-1.5h0m-.5 .5h0m0-1h0m-1 2.5h0m0-2h0m-1 2h0m0-.5h0m-1.5-1.5h0m0-.5h0m0 3.5h0m0 1.5h0m1-1.5h0m0 .5h0m0 .5h0m0 1h0m.5-1.5h0m.5 1h0m.5-2h0m.5 1h0m0 .5h0m0 .5h0m0 .5h0m.5-1h0m.5 0h0m0 .5h0m0 .5h0m.5-1.5h0m0 .5h0m.5-.5h0m0 .5h0m0 .5h0m0 .5h0m.5-2.5h0m0 2.5h0m1-2h0m0 2h0m.5-1.5h0m1-.5h0m0 .5h0m.5 0h0m0 1h0m1-2h0m0 .5h0m0 .5h0m.5-1h0m.5 1.5h0m0 1h0m.5-1h0m0 .5h0m.5-1h0m0 .5h0m.5-1.5h0m.5 1.5h0m0 .5h0m0 .5h0m.5-2h0m0 1h0m.5-1.5h0m0 2.5h0m.5-2.5h0m0 1h0m0 1h0m0 .5h0m1-1h0m1-1h0m0 .5h0m0 .5h0m.5 .5h0m.5 0h0m0 .5h0m.5-2.5h0m0 1.5h0m0 .5h0m.5-.5h0m1-.5h0m.5 .5h0m.5-1h0m0 .5h0m0 .5h0m0 1h0m.5-2.5h0m.5 .5h0m0 1.5h0m0 .5h0m.5-2.5h0m0 1h0m0 1.5h0m.5-.5h0m.5-2h0m0 2.5h0m.5-2.5h0m.5 0h0m0 .5h0m0 .5h0m.5-.5h0m0 .5h0m0 1.5h0m.5 0h0m.5-2.5h0m0 1h0m.5 3h0m0-1h0m-.5 1h0m0-.5h0m0-.5h0m-1 2.5h0m0-2h0m-.5 2h0m0-1h0m0-1h0m0-.5h0m-.5 .5h0m-.5 2h0m0-.5h0m0-1.5h0m-.5 2h0m0-2.5h0m-.5 2.5h0m-.5 0h0m0-1h0m0-1h0m0-.5h0m-.5 1.5h0m0-1.5h0m-.5 .5h0m0-.5h0m-.5 1.5h0m0-.5h0m0-.5h0m-.5 .5h0m0-.5h0m0-.5h0m-.5 2.5h0m0-1.5h0m-.5 1.5h0m0-1h0m0-.5h0m0-.5h0m-.5 1.5h0m-.5-1.5h0m-.5 1h0m0-.5h0m0-.5h0m-.5 2h0m0-.5h0m-.5 0h0m-.5 .5h0m0-1h0m-.5-.5h0m0-1h0m-.5 .5h0m-.5 2h0m0-1h0m0-.5h0m0-.5h0m-.5 .5h0m0-.5h0m-.5 2h0m0-.5h0m0-1h0m0-1h0m-.5 2h0m0-1h0m-.5 .5h0m0-.5h0m-.5 .5h0m0-.5h0m0-.5h0m-.5 1h0m0-.5h0m-.5 1h0m-.5-1h0m0-.5h0m-.5 2h0m0-2.5h0m-.5 2h0m0-1h0m-.5 0h0m-.5 .5h0m0-.5h0m0-1h0m-.5 2.5h0m0-.5h0m0-.5h0m0-1h0m-.5 2h0m-.5 0h0m0-1.5h0m0-1h0m-.5 2.5h0m-.5-2h0m-.5 .5h0m-.5 1.5h0m0-.5h0m-.5 .5h0m0-2h0m-.5-.5h0m-.5 1h0m0-.5h0m0-.5h0m-.5 2.5h0m0-1.5h0m0-.5h0m0-.5h0m-.5 2h0m0-.5h0m0-1.5h0m-.5 2h0m-.5 .5h0m0-1h0m0-1.5h0m-.5 2h0m0-.5h0m0-1.5h0m0 3h0m0 2h0m0 .5h0m.5-2.5h0m0 .5h0m.5-.5h0m0 1h0m0 .5h0m0 .5h0m.5-1.5h0m0 .5h0m0 1h0m0 .5h0m.5-2h0m0 1h0m0 .5h0m0 .5h0m.5-1.5h0m0 1h0m0 .5h0m1-2.5h0m0 .5h0m.5 0h0m0 1h0m0 .5h0m0 .5h0m.5-1.5h0m0 .5h0m0 .5h0m0 .5h0m.5-2h0m0 .5h0m0 1.5h0m.5-1h0m0 .5h0m.5-2h0m0 .5h0m0 2h0m.5-2h0m0 2h0m.5-2.5h0m0 1h0m0 1h0m.5-2h0m0 2h0m0 .5h0m.5-.5h0m.5-1.5h0m0 1h0m0 .5h0m.5-2h0m0 2h0m.5-2h0m0 2h0m0 .5h0m.5-2h0m0 1.5h0m.5-1h0m0 1.5h0m.5-2h0m0 .5h0m.5-1h0m0 .5h0m0 .5h0m0 1h0m.5-2h0m0 .5h0m0 1h0m0 1h0m.5-2.5h0m.5 0h0m0 2h0m.5-1.5h0m0 1h0m0 1h0m.5-2.5h0m0 1.5h0m0 .5h0m.5-2h0m0 2h0m.5-1.5h0m.5-.5h0m0 .5h0m0 .5h0m.5-1h0m0 .5h0m0 1h0m0 .5h0m.5-1.5h0m0 1.5h0m.5 .5h0m.5-2h0m0 2h0m.5-2.5h0m0 1.5h0m0 1h0m.5-1.5h0m0 .5h0m.5-1h0m0 1h0m0 1h0m.5-1.5h0m.5-1h0m0 .5h0m0 1h0m0 .5h0m.5-2h0m0 1h0m.5-1h0m0 1h0m0 .5h0m0 .5h0m0 .5h0m.5-2.5h0m0 1h0m0 .5h0m0 1h0m.5-2.5h0m0 1h0m0 .5h0m0 1h0m.5-1h0m0 .5h0m.5-2h0m0 2h0m0 .5h0m.5-2h0m0 1h0m.5-.5h0m0 1h0m0 .5h0m.5-2.5h0m0 2h0m1-1.5h0m0 .5h0m0 4h0m-.5 .5h0m0-.5h0m0-.5h0m0-.5h0m0-.5h0m-.5 1h0m0-.5h0m-.5 1.5h0m0-1h0m0-.5h0m0-.5h0m0-.5h0m-.5 2.5h0m0-2.5h0m-.5 2h0m0-.5h0m0-1h0m0-.5h0m-.5 .5h0m0-.5h0m-.5 2.5h0m0-1.5h0m0-.5h0m-.5 2h0m0-.5h0m0-.5h0m0-1.5h0m-.5 1.5h0m0-1h0m0-.5h0m-.5 2h0m0-1.5h0m0-.5h0m-.5 2.5h0m0-1h0m0-.5h0m0-.5h0m-.5 2h0m0-.5h0m0-.5h0m0-1h0m0-.5h0m-.5 2.5h0m0-.5h0m0-1.5h0m-.5 2h0m0-2h0m-.5 2h0m0-.5h0m0-.5h0m0-1h0m0-.5h0m-.5 2.5h0m0-.5h0m0-1.5h0m0-.5h0m-.5 1.5h0m0-.5h0m0-.5h0m-.5 2h0m0-2h0m0-.5h0m-.5 2h0m0-1h0m-.5 1h0m0-1h0m0-.5h0m0-.5h0m-.5 2.5h0m0-1.5h0m0-.5h0m-.5 2h0m0-1h0m0-1.5h0m-.5 2h0m0-.5h0m0-.5h0m0-1h0m-.5 1.5h0m0-.5h0m0-.5h0m0-.5h0m-.5 2.5h0m0-1h0m0-1h0m0-.5h0m-.5 2.5h0m0-1h0m0-.5h0m0-.5h0m0-.5h0m-.5 1.5h0m-.5 1h0m0-1h0m0-1h0m-.5 2h0m0-.5h0m-.5 0h0m0-1h0m0-.5h0m-.5 1h0m0-.5h0m0-1h0m-.5 2.5h0m0-.5h0m0-.5h0m0-.5h0m-.5 1.5h0m0-1.5h0m0-.5h0m0-.5h0m-.5 2.5h0m0-.5h0m0-1h0m-.5 1.5h0m0-1h0m0-1.5h0m-.5 2h0m0-1h0m0-.5h0m-.5 2h0m0-.5h0m0-.5h0m0-.5h0m-.5 1.5h0m0-.5h0m0-1h0m0-.5h0m0-.5h0m-.5 1h0m0-.5h0m0-.5h0m-.5 2.5h0m0-1h0m0-1h0m-.5 2h0m0-1.5h0m0-1h0m-.5 2.5h0m0-.5h0m0-.5h0m0-.5h0m0-.5h0m-.5 2h0m0-1h0m0-1.5h0m-.5 2.5h0m0-.5h0m0-.5h0m0-1h0m-.5 1h0m-.5 1h0m0-.5h0m0-.5h0m0-1h0m-.5 1.5h0m0-.5h0m0-.5h0m-.5 1.5h0m0-.5h0m0-.5h0m0-.5h0m-.5 1.5h0m0-1h0m0-.5h0m-.5 0h0m0-.5h0m-.5 1.5h0m0-.5h0m0-.5h0m0-.5h0m0-.5h0m-.5 3.5h0m.5 .5h0m0 1h0m.5-2h0m0 1h0m0 .5h0m0 .5h0m.5-2h0m0 .5h0m0 .5h0m0 .5h0m0 1h0m.5-2h0m0 .5h0m0 .5h0m0 .5h0m.5-1.5h0m0 1h0m0 .5h0m.5-.5h0m0 .5h0m.5-2h0m0 .5h0m0 .5h0m0 .5h0m0 .5h0m.5-.5h0m0 .5h0m0 .5h0m1-2.5h0m0 .5h0m0 .5h0m0 1h0m0 .5h0m.5-2h0m.5-.5h0m0 1.5h0m0 .5h0m.5-1.5h0m0 .5h0m0 .5h0m0 1h0m.5-2.5h0m0 .5h0m0 .5h0m0 .5h0m0 1h0m.5-2.5h0m0 .5h0m0 1h0m0 1h0m.5-2h0m0 .5h0m0 .5h0m.5-1h0m0 .5h0m0 1h0m0 .5h0m.5-1.5h0m0 .5h0m0 .5h0m0 .5h0m.5-2.5h0m0 1.5h0m0 .5h0m0 .5h0m.5-2h0m0 1h0m0 .5h0m.5-2h0m0 1h0m0 .5h0m.5-1.5h0m0 .5h0m0 2h0m.5-1h0m0 .5h0m0 .5h0m.5-2h0m0 .5h0m0 1h0m0 .5h0m.5-2.5h0m0 .5h0m0 .5h0m0 .5h0m0 .5h0m0 .5h0m.5-2.5h0m0 1h0m0 .5h0m.5-1h0m.5 0h0m0 .5h0m.5 0h0m0 .5h0m0 .5h0m0 .5h0m.5-2.5h0m0 .5h0m0 .5h0m0 .5h0m0 .5h0m.5-2h0m0 .5h0m0 .5h0m0 .5h0m0 1h0m.5-2h0m0 .5h0m0 .5h0m0 1h0m.5 0h0m.5-2.5h0m0 .5h0m0 .5h0m0 .5h0m0 1h0m.5-2.5h0m0 .5h0m0 .5h0m.5-.5h0m0 1h0m0 .5h0m0 .5h0m.5-2.5h0m0 .5h0m0 1.5h0m0 .5h0m.5-2.5h0m0 .5h0m0 1h0m0 .5h0m.5-1h0m0 1h0m0 .5h0m.5-2.5h0m0 1h0m0 1h0m0 .5h0m.5-2.5h0m0 .5h0m0 .5h0m0 .5h0m0 .5h0m.5-2h0m0 1h0m0 .5h0m0 .5h0m.5-1.5h0m0 .5h0m0 1h0m0 .5h0m.5-2.5h0m0 2h0m.5-2h0m0 .5h0m0 .5h0m0 .5h0m0 .5h0m0 .5h0m.5-2h0m0 1h0m0 1h0m.5-2.5h0m0 1.5h0m.5-1.5h0m0 .5h0m0 .5h0m0 .5h0m0 .5h0m0 .5h0m.5-1h0m0 .5h0m.5-1.5h0m0 1h0m0 .5h0m0 .5h0m.5-2h0m.5 .5h0m0 1h0m0 .5h0m0 3h0m0-.5h0m0-1.5h0m-.5 1.5h0m0-1h0m0-1h0m-.5 2.5h0m0-.5h0m0-1.5h0m0-.5h0m-.5 2.5h0m0-1h0m0-1h0m0-.5h0m-.5 2h0m0-1.5h0m0-.5h0m-.5 2.5h0m0-.5h0m0-.5h0m0-1.5h0m-.5 2.5h0m0-.5h0m-.5 .5h0m0-1.5h0m0-.5h0m0-.5h0m-.5 2.5h0m0-.5h0m0-.5h0m0-1h0m0-.5h0m-.5 1h0m0-.5h0m-.5 2h0m0-.5h0m0-1h0m0-1h0m-.5 2.5h0m0-1h0m0-.5h0m0-1h0m-.5 2h0m0-.5h0m0-.5h0m0-.5h0m-.5 2h0m0-.5h0m0-1.5h0m0-.5h0m-.5 2.5h0m0-1h0m0-1h0m-.5 1.5h0m0-1h0m0-.5h0m0-.5h0m-.5 1.5h0m0-.5h0m0-1h0m-.5 2.5h0m0-1h0m0-1h0m0-.5h0m-.5 2h0m0-1.5h0m-.5 1h0m0-1h0m0-.5h0m-.5 1.5h0m0-1h0m0-.5h0m-.5 1.5h0m0-1h0m0-.5h0m-.5 1h0m0-1h0m-.5 2.5h0m0-1.5h0m0-.5h0m0-.5h0m-.5 2.5h0m0-1.5h0m-.5 .5h0m0-.5h0m0-.5h0m0-.5h0m-.5 1.5h0m0-.5h0m0-.5h0m0-.5h0m-.5 2h0m0-2h0m-.5 2h0m0-.5h0m0-1h0m-.5 2h0m0-1h0m0-.5h0m0-.5h0m-.5 2h0m0-.5h0m0-.5h0m0-.5h0m0-1h0m-.5 1.5h0m0-1.5h0m-.5 2h0m0-.5h0m0-.5h0m0-.5h0m-.5 1.5h0m0-.5h0m0-.5h0m0-.5h0m0-.5h0m-.5 2h0m0-1h0m0-.5h0m0-.5h0m-.5 1.5h0m-.5 1h0m0-1h0m0-.5h0m0-.5h0m0-.5h0m-.5 2.5h0m0-1.5h0m0-1h0m-.5 2.5h0m0-.5h0m0-1h0m0-.5h0m0-.5h0m-.5 2.5h0m0-.5h0m0-.5h0m0-1h0m0-.5h0m-.5 2h0m0-.5h0m0-.5h0m0-.5h0m-.5 2h0m0-1h0m0-1h0m-.5 1h0m0-.5h0m-.5 1h0m0-1.5h0m-.5 2h0m0-.5h0m0-.5h0m0-.5h0m0-.5h0m0-.5h0m-.5 2.5h0m0-1.5h0m0-.5h0m-.5 1.5h0m0-1h0m0-.5h0m-.5 1.5h0m0-.5h0m0-.5h0m0-.5h0m-.5 2h0m0-.5h0m0-.5h0m0-.5h0m0-.5h0m-.5 1h0m0-.5h0m-.5 0h0m0-.5h0m-.5 2h0m0-1h0m0-.5h0m0-.5h0m0 3h0m0 1.5h0m1-2h0m0 .5h0m0 1.5h0m0 .5h0m.5-2.5h0m0 1h0m0 .5h0m0 .5h0m.5-2h0m0 .5h0m0 .5h0m0 1.5h0m.5-2h0m0 .5h0m0 .5h0m.5-1h0m0 2h0m.5 0h0m.5-2h0m0 .5h0m0 .5h0m0 .5h0m0 .5h0m.5-2.5h0m0 1h0m0 .5h0m0 .5h0m.5-1.5h0m0 .5h0m.5 0h0m0 .5h0m0 .5h0m.5-1.5h0m0 .5h0m0 1h0m.5-1h0m0 1h0m0 .5h0m.5-2.5h0m0 .5h0m0 1h0m0 .5h0m.5-1.5h0m0 .5h0m0 .5h0m0 1h0m.5-2.5h0m0 .5h0m0 1h0m0 .5h0m.5 0h0m0 .5h0m.5-2h0m0 .5h0m0 1h0m.5-2h0m0 .5h0m0 .5h0m0 .5h0m.5-.5h0m0 .5h0m0 .5h0m.5-2h0m0 1h0m0 .5h0m0 1h0m.5-.5h0m0 .5h0m.5-1.5h0m0 .5h0m0 .5h0m0 .5h0m.5-2h0m0 2h0m.5-1.5h0m0 .5h0m0 1h0m.5-2.5h0m.5 .5h0m0 1h0m0 .5h0m.5-2h0m0 .5h0m0 1h0m0 .5h0m0 .5h0m.5-2.5h0m0 .5h0m0 .5h0m0 1h0m0 .5h0m.5-2h0m0 1h0m0 1h0m.5-2.5h0m0 .5h0m0 .5h0m0 1h0m0 .5h0m.5-2h0m0 1h0m0 .5h0m.5-1.5h0m0 .5h0m0 .5h0m0 1h0m.5-1h0m.5-1.5h0m0 1h0m0 .5h0m0 .5h0m0 .5h0m.5-1.5h0m0 1h0m0 .5h0m.5-1.5h0m0 .5h0m.5-1.5h0m0 .5h0m0 .5h0m0 .5h0m0 .5h0m0 .5h0m.5-1h0m0 .5h0m.5-1.5h0m0 1.5h0m.5-1.5h0m.5-.5h0m0 .5h0m0 1h0m0 .5h0m0 .5h0m.5-2.5h0m.5 0h0m0 .5h0m.5-.5h0m0 1h0m0 .5h0m0 .5h0m.5-2h0m0 .5h0m.5-.5h0m0 1h0m0 1h0m0 .5h0m.5-1.5h0m0 .5h0m.5-1.5h0m0 1.5h0m0 .5h0m0 .5h0m.5-2.5h0m0 .5h0m0 1.5h0m.5 3h0m0-1.5h0m-.5 .5h0m0-.5h0m-.5 .5h0m0-.5h0m0-.5h0m-.5 2h0m0-.5h0m-.5 1h0m0-1h0m0-.5h0m-.5 1.5h0m0-.5h0m0-1.5h0m0-.5h0m-.5 2h0m0-1h0m0-.5h0m0-.5h0m-.5 2h0m0-.5h0m0-.5h0m0-.5h0m-.5-.5h0m-.5 2.5h0m0-.5h0m-.5 0h0m0-1h0m0-.5h0m0-.5h0m-.5 2.5h0m0-.5h0m0-1h0m0-.5h0m0-.5h0m-1 2.5h0m0-.5h0m0-2h0m-.5 2.5h0m0-.5h0m-.5-2h0m-.5 2h0m-.5 0h0m0-2h0m-.5 2h0m0-1h0m0-.5h0m-.5 2h0m0-.5h0m0-1h0m0-.5h0m-.5 1.5h0m0-1h0m0-1h0m-.5 2.5h0m0-2.5h0m-.5 2h0m0-.5h0m0-.5h0m-.5 .5h0m0-1h0m0-.5h0m-.5 2.5h0m0-1h0m0-.5h0m0-.5h0m-.5 2h0m0-.5h0m-.5 0h0m0-1h0m-.5 .5h0m-.5 1h0m0-.5h0m0-2h0m-.5 2h0m0-1h0m0-.5h0m-.5 1.5h0m0-1h0m0-.5h0m0-.5h0m-.5 2.5h0m0-.5h0m0-1h0m0-1h0m-.5 .5h0m-.5 1h0m0-1h0m-.5 1.5h0m0-1h0m0-.5h0m-.5 2h0m0-.5h0m0-1.5h0m-.5 1h0m0-.5h0m0-.5h0m0-.5h0m-.5 2.5h0m0-.5h0m0-.5h0m0-.5h0m0-.5h0m0-.5h0m-.5 2h0m0-.5h0m0-.5h0m0-.5h0m0-.5h0m-.5 2.5h0m0-.5h0m0-.5h0m0-1h0m0-.5h0m-.5 2.5h0m0-.5h0m0-1h0m0-.5h0m-.5 2h0m0-.5h0m0-.5h0m0-1h0m0-.5h0m-.5 2.5h0m0-.5h0m0-1.5h0m0-.5h0m-.5 2.5h0m0-.5h0m0-1h0m0-.5h0m0-.5h0m-.5 1h0m0-.5h0m0-.5h0m-.5 2h0m0-1h0m0-.5h0m-.5 2h0m0-2h0m-.5 2h0m0-2h0m0-.5h0m-.5 1h0m0-1h0m-.5 1.5h0m-1 1h0m0-2.5h0m0 3.5h0m0 1.5h0m.5-2h0m0 1.5h0m.5-1.5h0m0 .5h0m0 1.5h0m.5 .5h0m.5-2.5h0m.5 1h0m0 .5h0m0 1h0m.5-1h0m0 .5h0m0 .5h0m.5-2h0m0 .5h0m0 1.5h0m.5-.5h0m0 .5h0m.5-2.5h0m0 1h0m0 1h0m0 .5h0m.5-2.5h0m0 .5h0m0 .5h0m0 .5h0m0 .5h0m.5-1.5h0m.5 2h0m.5-.5h0m0 .5h0m.5-2.5h0m0 2.5h0m.5-2.5h0m0 2.5h0m.5-1.5h0m.5-.5h0m.5 0h0m0 1h0m0 .5h0m.5-2h0m0 .5h0m.5-.5h0m.5 .5h0m0 1h0m.5-.5h0m.5-1h0m0 .5h0m0 .5h0m0 1h0m.5-1.5h0m0 1h0m.5-.5h0m0 .5h0m.5 0h0m0 1h0m.5-2h0m0 1h0m0 .5h0m.5-2h0m0 1h0m0 1.5h0m1-2.5h0m0 1.5h0m0 .5h0m.5-2h0m0 .5h0m0 1h0m0 1h0m.5-2.5h0m0 .5h0m.5 0h0m0 1h0m0 1h0m.5-2.5h0m0 .5h0m0 1h0m0 1h0m.5-2.5h0m0 1.5h0m0 1h0m.5-2.5h0m0 1h0m.5-1h0m0 .5h0m.5-.5h0m0 2h0m.5-2h0m0 1h0m0 1h0m.5-2h0m0 1.5h0m.5-.5h0m0 .5h0m.5-1.5h0m0 2h0m.5-1.5h0m0 1h0m0 1h0m.5-2.5h0m.5 0h0m0 1h0m0 .5h0m0 .5h0m.5-2h0m0 1.5h0m0 .5h0m.5-2h0m0 .5h0m.5-.5h0m0 1.5h0m0 1h0m.5-.5h0m1-2h0m0 .5h0m0 1h0m0 .5h0m0 .5h0m0 .5h0m-.5 2.5h0m0-1.5h0m0-.5h0m0-.5h0m-.5 2.5h0m0-1.5h0m-.5 1h0m0-1h0m0-.5h0m-.5 2h0m0-1h0m0-1h0m-.5-.5h0m-.5 2.5h0m0-1h0m0-1.5h0m-.5 2.5h0m0-1h0m0-1h0m-.5 1.5h0m0-1h0m-1 0h0m0-.5h0m0-.5h0m-.5 1.5h0m0-1.5h0m-.5 2h0m0-1h0m-.5 1.5h0m-.5-1h0m0-1h0m0-.5h0m-.5 1.5h0m0-.5h0m0-.5h0m-.5 1.5h0m0-1.5h0m-.5 2h0m0-1h0m0-.5h0m0-.5h0m-.5 1.5h0m0-1.5h0m-.5 1h0m-.5 1h0m0-1.5h0m0-.5h0m-.5 2h0m0-1h0m0-.5h0m0-.5h0m0-.5h0m-.5 2.5h0m0-.5h0m0-1h0m0-.5h0m0-.5h0m-.5 2h0m0-1h0m-.5 .5h0m-.5 0h0m-.5-.5h0m-.5-.5h0m-.5 2h0m0-1h0m-.5 1h0m0-1h0m0-1h0m0-.5h0m-1 2.5h0m-.5-2.5h0m-.5 1h0m0-.5h0m0-.5h0m-.5 2.5h0m0-.5h0m0-1h0m0-1h0m-.5 1h0m0-1h0m-.5 2h0m0-1.5h0m0-.5h0m-.5 2h0m0-1.5h0m0-.5h0m-.5 2.5h0m0-.5h0m0-1h0m-.5 1.5h0m0-2h0m0-.5h0m-.5 2h0m0-.5h0m0-.5h0m-.5 0h0m0-1h0m-1 2.5h0m0-1.5h0m0-.5h0m-.5 1.5h0m0-.5h0m0-.5h0m-.5 1.5h0m0-.5h0m0-2h0m-.5 2h0m0-.5h0m0-.5h0m-.5 1.5h0m0-.5h0m0-.5h0m0-.5h0m-.5 1.5h0m0-.5h0m-.5 .5h0m0-.5h0m0-1h0m-.5 1.5h0m0-.5h0m0-.5h0m0-.5h0m0-1h0m-.5 2h0m0 1.5h0m0 2h0m.5-2.5h0m0 1h0m0 .5h0m0 1h0m.5-1h0m.5-1h0m.5 .5h0m.5-.5h0m.5 0h0m0 .5h0m0 1h0m.5-2h0m.5 1.5h0m0 .5h0m0 .5h0m.5-1.5h0m0 .5h0m.5 1h0m.5-.5h0m.5-1.5h0m0 .5h0m.5-.5h0m0 .5h0m0 1h0m.5-2h0m0 1h0m0 1h0m.5-1h0m0 .5h0m0 .5h0m1-1h0m0 .5h0m0 .5h0m0 .5h0m.5-1.5h0m0 1.5h0m.5-2h0m0 .5h0m.5-.5h0m.5-.5h0m0 .5h0m0 .5h0m0 1h0m.5-2h0m0 1.5h0m0 1h0m.5-2h0m0 1h0m0 .5h0m0 .5h0m1-1.5h0m.5 .5h0m.5-1.5h0m0 1h0m0 .5h0m.5-1.5h0m0 .5h0m0 .5h0m0 1h0m.5-.5h0m.5 0h0m0 1h0m.5-2h0m0 1h0m0 .5h0m0 .5h0m.5-1.5h0m0 1.5h0m.5-2h0m0 1h0m.5-1.5h0m0 1.5h0m0 1h0m.5-1.5h0m.5-1h0m0 1.5h0m.5-.5h0m.5 0h0m0 1.5h0m.5-2h0m0 1h0m0 1h0m.5-1h0m.5-1.5h0m0 1h0m0 1h0m.5-2h0m0 2.5h0m.5-2.5h0m0 .5h0m0 .5h0m0 .5h0m0 .5h0m0 .5h0m.5-2.5h0m0 1.5h0m0 .5h0m0 .5h0m.5-2.5h0m0 1h0m0 .5h0m0 .5h0m0 .5h0m.5-2h0m0 .5h0m0 1h0m.5-1h0m0 1.5h0m.5-1.5h0m1-.5h0m0 .5h0m0 1h0m.5-2h0m0 3h0m-.5 1.5h0m0-.5h0m-.5 .5h0m-.5 1h0m0-1.5h0m0-1h0m-.5 2h0m-.5-1.5h0m-.5 1.5h0m0-.5h0m0-1h0m-.5 1.5h0m-1-.5h0m0-1.5h0m-.5 1.5h0m0-1.5h0m-1 1.5h0m-.5 .5h0m0-.5h0m-.5 1h0m0-.5h0m0-1.5h0m0-.5h0m-.5 1.5h0m0-1.5h0m-.5 2h0m0-.5h0m0-.5h0m-.5 1.5h0m0-2h0m0-.5h0m-.5 2.5h0m0-2h0m-.5 1.5h0m0-1.5h0m-.5-.5h0m-.5 1h0m0-1h0m-.5 2.5h0m0-2h0m0-.5h0m-.5 2.5h0m0-2h0m-.5 2h0m0-1.5h0m-.5-.5h0m-.5 2h0m0-.5h0m-1.5 .5h0m0-.5h0m0-1h0m0-1h0m-.5 1.5h0m0-1.5h0m-.5 1.5h0m0-.5h0m-.5 1.5h0m-.5-.5h0m0-.5h0m0-.5h0m-.5-.5h0m0-.5h0m-.5 2h0m0-1.5h0m0-.5h0m-.5 2.5h0m0-.5h0m-.5 0h0m-.5 0h0m-.5-.5h0m0-1.5h0m-.5 1.5h0m-.5 .5h0m-.5 .5h0m0-2h0m-1 2h0m0-1h0m-1.5 .5h0m-.5 0h0m0-1h0m0-.5h0m0-.5h0m-.5 2.5h0m-.5-1h0m0-.5h0m-.5 0h0m0 3h0m.5-.5h0m0 1h0m.5 0h0m.5-1h0m0 2h0m.5-2.5h0m0 2.5h0m.5-1.5h0m.5 0h0m.5-1h0m0 2.5h0m.5-2h0m.5 .5h0m0 1.5h0m.5-2.5h0m0 1.5h0m.5-.5h0m0 .5h0m1-1.5h0m0 .5h0m1.5 .5h0m0 1h0m0 .5h0m.5-2.5h0m.5 0h0m0 2h0m.5 .5h0m.5-1.5h0m0 .5h0m.5-1.5h0m0 .5h0m0 1.5h0m.5-1.5h0m0 .5h0m.5-1h0m0 2h0m.5 0h0m.5-2h0m.5 0h0m0 1.5h0m.5-.5h0m0 .5h0m0 .5h0m.5-2h0m0 .5h0m0 2h0m.5-2h0m.5 2h0m.5-2h0m.5 1h0m1 0h0m0 1h0m1-1h0m1-.5h0m.5 0h0m0 1h0m1-2h0m0 1h0m0 .5h0m.5 .5h0m1-1.5h0m0 1.5h0m1-1.5h0m0 1h0m.5 0h0m1-1.5h0m0 1.5h0m.5 1h0m0 1.5h0m-.5 0h0m-.5 1.5h0m0-.5h0m0-.5h0m-.5 1h0m-.5-1h0m-1 0h0m-.5 .5h0m0-.5h0m0-1.5h0m-.5 1h0m-1.5-.5h0m0-.5h0m-.5 1.5h0m-1 0h0m-.5 .5h0m0-.5h0m0-1.5h0m-1 2h0m-1-2h0m-.5 1.5h0m-4 .5h0m-1.5-1.5h0m-.5 1.5h0m0-2h0m-1 2h0m-.5-.5h0m-.5 .5h0m0-1.5h0m-1 .5h0m0-.5h0m-1 .5h0m-.5 .5h0m-.5 .5h0m0-1.5h0m0-.5h0m-.5 2h0m0-1.5h0m-2.5 2h0m-.5 0h0m0-1.5h0m-.5 1h0m-.5 2.5h0m0 .5h0m.5 0h0m1-2h0m1 2.5h0m.5-1.5h0m1.5-1h0m2 0h0m0 1h0m0 .5h0m0 1h0m.5-2.5h0m0 .5h0m.5 2h0m.5-2h0m.5 .5h0m1.5-1h0m.5 1.5h0m.5-1h0m0 1h0m1-1h0m.5 1h0m1-1.5h0m.5 .5h0m0 .5h0m1.5-.5h0m.5-.5h0m0 2.5h0m.5-1h0m.5 .5h0m1-2h0m.5 0h0m0 1h0m0 1.5h0m1-2h0m0 .5h0m.5 1.5h0m.5 0h0m1-2h0m.5-.5h0m0 1h0m0 1h0m1-.5h0m.5-1h0m0 1h0m2 3.5h0m-1 .5h0m0-1h0m0-1h0m-.5 1.5h0m-.5-2h0m-1 1h0m-1.5-.5h0m-.5 2h0m0-.5h0m-.5 .5h0m0-2h0m-2 .5h0m-1.5 1.5h0m0-1.5h0m-1.5 .5h0m-1-1.5h0m-1.5 .5h0m-2 .5h0m-.5 .5h0m-.5-.5h0m-1-1h0m-.5 2h0m-.5 .5h0m-.5 0h0m0-1h0m-.5-.5h0m-.5 .5h0m-.5 1h0m-.5-.5h0m-1-2h0m-.5 0h0m-1 2h0m-1.5 3.5h0m1-1h0m0 .5h0m1 0h0m.5 .5h0m1.5-.5h0m.5-2h0m2.5 2.5h0m1-2h0m1.5 0h0m.5 0h0m1.5 1h0m2.5-1h0m.5 0h0m1-.5h0m1.5 0h0m2.5 2h0m.5 0h0m.5-.5h0m1-1.5h0m0 .5h0m3.5 1h0" stroke="#0000ff" stroke-width="2.3" stroke-linecap="round" fill="none"/>
<rect x="122.6" y="535.1" width="141.6" height="125.1" fill="none" stroke="#cfcfcf" stroke-width="0.9"/>
<line x1="120.1" y1="627.8" x2="122.6" y2="627.8" stroke="#999" stroke-width="0.8"/>
<text x="119" y="633.1" font-size="10.5" text-anchor="end" fill="#111">0</text>
<line x1="120.1" y1="594.1" x2="122.6" y2="594.1" stroke="#999" stroke-width="0.8"/>
<text x="119" y="599.4" font-size="10.5" text-anchor="end" fill="#111">2</text>
<line x1="120.1" y1="560.4" x2="122.6" y2="560.4" stroke="#999" stroke-width="0.8"/>
<text x="119" y="565.7" font-size="10.5" text-anchor="end" fill="#111">4</text>
<line x1="161.2" y1="660.2" x2="161.2" y2="662.9" stroke="#999" stroke-width="0.8"/>
<text x="160.7" y="675.5" font-size="11.6" text-anchor="middle" fill="#111">1-3</text>
<text x="160.2" y="686.3" font-size="11.8" text-anchor="middle" fill="#111">months</text>
<line x1="225.6" y1="660.2" x2="225.6" y2="662.9" stroke="#999" stroke-width="0.8"/>
<text x="224.7" y="675.5" font-size="11.6" text-anchor="middle" fill="#111">3-4</text>
<text x="223.4" y="686.3" font-size="11.8" text-anchor="middle" fill="#111">years</text>
<path d="M161.2 567.4V562.6H225.6V567.4" stroke="#333" stroke-width="1" fill="none"/>
<text x="193.7" y="558.3" font-size="12.2" text-anchor="middle" fill="#111">****p=8.19e−200</text>
<text x="193.3" y="530.1" font-size="14.8" text-anchor="middle" fill="#111">Th1</text>
<rect x="289.5" y="535.1" width="141" height="125.1" fill="#fff"/>
<line x1="289.5" y1="647.3" x2="430.5" y2="647.3" stroke="#f0f0f0" stroke-width="0.55"/>
<line x1="289.5" y1="605.9" x2="430.5" y2="605.9" stroke="#f0f0f0" stroke-width="0.55"/>
<line x1="289.5" y1="564.4" x2="430.5" y2="564.4" stroke="#f0f0f0" stroke-width="0.55"/>
<line x1="289.5" y1="626.6" x2="430.5" y2="626.6" stroke="#e5e5e5" stroke-width="0.9"/>
<line x1="289.5" y1="585.2" x2="430.5" y2="585.2" stroke="#e5e5e5" stroke-width="0.9"/>
<line x1="289.5" y1="543.7" x2="430.5" y2="543.7" stroke="#e5e5e5" stroke-width="0.9"/>
<line x1="328" y1="535.1" x2="328" y2="660.2" stroke="#e5e5e5" stroke-width="0.9"/>
<line x1="392" y1="535.1" x2="392" y2="660.2" stroke="#e5e5e5" stroke-width="0.9"/>
<line x1="328" y1="578.8" x2="328" y2="606.3" stroke="#ff0000" stroke-width="1.2"/>
<line x1="328" y1="624.6" x2="328" y2="652.1" stroke="#ff0000" stroke-width="1.2"/>
<rect x="303.9" y="606.3" width="48.1" height="18.3" fill="none" stroke="#ff0000" stroke-width="1.2"/>
<line x1="303.9" y1="615" x2="352" y2="615" stroke="#ff0000" stroke-width="1.6"/>
<path d="M333.5 571.5h0m-5 2.5h0m-.5-.5h0m-7 4.5h0m9.5-.5h0m2.5 2h0m-12.5 4.5h0m.5-1h0m4.5-1h0m1 2h0m7 1h0m-2.5 .5h0m-2-.5h0m-2.5 .5h0m-3.5 1.5h0m0-2h0m-1 1h0m-1.5-.5h0m-5-.5h0m7.5 3.5h0m1 1.5h0m5.5-.5h0m1.5 1h0m1-.5h0m.5 0h0m0 .5h0m1-2h0m3.5 .5h0m1.5 0h0m0 1.5h0m1 3h0m-1.5-2.5h0m-.5 1.5h0m-1 0h0m-.5 1h0m-2.5-1.5h0m-1 .5h0m0-1h0m-.5 .5h0m-.5-1h0m-.5 1h0m-.5-1h0m-2 0h0m-5 2h0m-.5-2h0m-4.5 2.5h0m-1-2.5h0m-.5 1.5h0m-.5 1h0m-1-1.5h0m-.5 2.5h0m1 1.5h0m1 0h0m2-2h0m0 .5h0m.5 0h0m1.5 2h0m.5 0h0m.5-1.5h0m1-.5h0m1-.5h0m2 2.5h0m1.5-2h0m0 1.5h0m.5-2h0m.5 2h0m.5-1h0m1 .5h0m.5-1.5h0m2 2.5h0m1-1h0m1-1.5h0m1.5 1h0m.5-1h0m0 1h0m1.5 0h0m0 1.5h0m1.5-1.5h0m0 1.5h0m1 3h0m0-1h0m-1 .5h0m-.5 0h0m-.5 .5h0m0-2h0m-.5 1h0m-1.5 1h0m-2-2.5h0m-1 2h0m0-1.5h0m-1.5 0h0m-1.5 2h0m0-.5h0m0-.5h0m-1 1h0m-1-1.5h0m-1 .5h0m0-1h0m0-.5h0m-.5 2.5h0m-1 0h0m-.5-2.5h0m-.5 2.5h0m0-2h0m-1.5 2h0m0-1h0m-.5 0h0m-1 1h0m-3-1.5h0m-.5 .5h0m-1 1h0m-.5-.5h0m-.5 0h0m-.5 0h0m-1 .5h0m0 2h0m1-1.5h0m.5 1h0m1.5-.5h0m0 .5h0m0 1.5h0m1-1.5h0m.5 1.5h0m1-1h0m1.5 0h0m2 1h0m1 0h0m.5-1h0m2 .5h0m0 .5h0m.5-1.5h0m.5-1h0m0 1.5h0m1.5-1h0m2.5-.5h0m0 2h0m1-.5h0m.5-.5h0m0 1.5h0m1-2.5h0m0 2h0m.5-1h0m.5 1.5h0m.5-1.5h0m.5 .5h0m.5-.5h0m1-.5h0m0 1.5h0m1-1.5h0m.5-.5h0m.5 5h0m-.5 .5h0m-.5-1.5h0m0-.5h0m-.5 2h0m0-1h0m0-1h0m-1 1h0m-.5 0h0m0-.5h0m0-.5h0m0-.5h0m-1 2h0m0-1.5h0m-.5 1.5h0m0-1h0m-1.5 1.5h0m0-.5h0m-1.5-1h0m-.5 0h0m0-.5h0m-.5 1h0m-.5 1h0m0-1h0m-1.5 .5h0m0-1.5h0m-.5 1h0m-.5-1.5h0m-.5 1.5h0m-2.5-.5h0m-.5 .5h0m-.5 0h0m0-.5h0m-.5 1h0m-2 0h0m0-1h0m-.5 1.5h0m0-2.5h0m-1 0h0m-1 1h0m0-.5h0m-1 2h0m0-.5h0m0-1h0m-.5 .5h0m-.5-.5h0m-.5-1h0m-.5 .5h0m-1 1.5h0m0-.5h0m0-.5h0m0-1h0m-.5 4h0m1.5-.5h0m0 2h0m.5-2.5h0m1 1h0m0 1h0m.5-1.5h0m.5 2h0m.5-2.5h0m1 1h0m0 1.5h0m.5-2.5h0m0 2h0m.5 0h0m.5-1h0m.5-1h0m0 1.5h0m0 .5h0m.5-2h0m1 1.5h0m0 .5h0m.5-.5h0m.5-1.5h0m0 2.5h0m1-2h0m.5-.5h0m1.5 0h0m0 .5h0m1-.5h0m0 2.5h0m.5-.5h0m1.5-1h0m1.5-1h0m3 0h0m0 .5h0m.5-.5h0m0 .5h0m.5 .5h0m1 1.5h0m.5-1.5h0m0 1h0m0 .5h0m1.5-2h0m0 5h0m0-2.5h0m-.5 2h0m0-.5h0m-1 .5h0m0-1h0m0-.5h0m0-.5h0m-.5 1.5h0m0-.5h0m-.5 1h0m0-.5h0m0-.5h0m-.5-.5h0m-1 1h0m-.5 1h0m0-.5h0m0-1h0m-1 1.5h0m-1-1h0m0-.5h0m-.5-.5h0m-1 1h0m-.5 .5h0m-.5-2h0m-2 2.5h0m-1.5-1.5h0m-.5 .5h0m-1 0h0m-.5 1h0m0-1.5h0m-1 1h0m0-.5h0m0-1h0m0-.5h0m-2 2.5h0m0-2h0m0-.5h0m-.5 1.5h0m-.5 0h0m-.5-.5h0m-.5 1.5h0m0-1h0m-.5 0h0m0-.5h0m0-.5h0m0-.5h0m-.5 1.5h0m-.5 .5h0m0-.5h0m0-1h0m-.5 2h0m0-.5h0m0-2h0m-2 0h0m-.5 2.5h0m0-1h0m-1 2h0m.5-.5h0m0 1h0m.5-.5h0m0 1h0m0 .5h0m.5-2h0m1 1h0m.5-.5h0m0 1h0m.5 1h0m.5-.5h0m.5-1.5h0m0 1.5h0m.5-1h0m1.5 .5h0m.5-1.5h0m0 1h0m0 1.5h0m.5-2.5h0m.5 .5h0m0 .5h0m0 1h0m.5-2h0m0 .5h0m0 .5h0m.5-.5h0m.5 0h0m.5 1h0m1-.5h0m0 1h0m.5-2h0m0 .5h0m0 1h0m0 1h0m1-1.5h0m0 1.5h0m.5-1.5h0m1 1.5h0m.5-1h0m.5 0h0m0 1h0m.5-2.5h0m0 1h0m0 .5h0m1-.5h0m0 1h0m.5-1.5h0m0 2h0m.5-2.5h0m0 .5h0m0 .5h0m0 1.5h0m.5-2.5h0m0 1.5h0m.5 0h0m.5 .5h0m.5-.5h0m.5-1.5h0m0 1.5h0m0 .5h0m.5 0h0m.5-2h0m1 1.5h0m.5-.5h0m.5-.5h0m.5-.5h0m1.5 0h0m.5 .5h0m.5 1h0m-.5 4h0m-.5-.5h0m0-1.5h0m-.5 .5h0m0-1h0m-.5 0h0m-1.5 .5h0m-.5 1.5h0m0-2h0m-.5 2h0m-.5-.5h0m0-1.5h0m-.5 1h0m-.5 1.5h0m-.5-2h0m-1 0h0m-.5 2h0m0-2.5h0m-.5 .5h0m-1 1h0m-.5 .5h0m-.5-.5h0m0-.5h0m-.5 0h0m-.5 1.5h0m-.5-1.5h0m-.5 1h0m-.5 .5h0m-1.5-2.5h0m-1.5 2.5h0m-2 0h0m-.5-.5h0m0-2h0m-.5 2.5h0m0-2h0m-.5 2h0m0-1h0m-.5 0h0m-1-1h0m-.5 2h0m0-.5h0m0-1.5h0m-.5 1h0m0-.5h0m-.5 .5h0m-.5-.5h0m-1 1.5h0m0-.5h0m0-.5h0m-.5 1h0m0-.5h0m0-1h0m0-.5h0m-.5 2h0m0-2.5h0m-.5 3h0m1 .5h0m0 .5h0m.5 1h0m1-2h0m0 1h0m.5 1.5h0m1-1.5h0m.5-.5h0m.5-.5h0m0 1.5h0m.5-.5h0m0 1h0m.5-.5h0m.5 0h0m0 1h0m1-2h0m.5-.5h0m0 .5h0m0 1h0m.5 1h0m1-2h0m.5 1h0m0 .5h0m.5-1.5h0m0 .5h0m.5-1h0m0 1.5h0m.5 0h0m1.5-.5h0m0 1h0m0 .5h0m2-1.5h0m.5-1h0m0 .5h0m0 .5h0m0 1.5h0m.5-2.5h0m1 .5h0m1-.5h0m1 1.5h0m.5-.5h0m.5 0h0m.5 1h0m.5-1.5h0m.5 0h0m0 1.5h0m.5 .5h0m.5-1.5h0m0 1h0m0 .5h0m1-1.5h0m1.5 4.5h0m-1-1h0m-.5-.5h0m-.5 1.5h0m0-1h0m0-1h0m-.5 .5h0m0-1h0m-1 2.5h0m0-1h0m-.5-.5h0m-.5 1.5h0m0-1h0m-2-.5h0m0-1h0m-.5 0h0m-.5 2.5h0m0-2h0m-1 1.5h0m0-.5h0m-.5-1.5h0m-.5 0h0m-1.5 0h0m-.5 1h0m0-.5h0m-.5 0h0m-.5 .5h0m0-1h0m-2 0h0m-.5 2h0m0-2h0m-2.5 2.5h0m-.5 0h0m-1.5-1.5h0m-.5 1.5h0m0-1.5h0m-1 1h0m0-.5h0m-1 0h0m-.5-1.5h0m-2 1.5h0m-1 .5h0m1 2h0m1-.5h0m.5-.5h0m0 .5h0m0 .5h0m2 0h0m1 0h0m.5 1h0m.5-2h0m0 2h0m1.5-1h0m1 1h0m1 .5h0m1-2.5h0m0 .5h0m.5 2h0m.5-1.5h0m0 1.5h0m.5-1.5h0m1-.5h0m.5 0h0m0 .5h0m.5-.5h0m0 1h0m.5 0h0m.5-1.5h0m0 .5h0m.5 1.5h0m1-1.5h0m0 1.5h0m.5 .5h0m.5 0h0m.5-2.5h0m0 2h0m.5 .5h0m.5-1.5h0m0 1h0m.5-2h0m.5 0h0m.5 0h0m0 1h0m.5-.5h0m.5-.5h0m1 1.5h0m.5 1h0m.5-2h0m.5-.5h0m0 1h0m0 1.5h0m.5-1.5h0m.5-1h0m0 .5h0m0 4.5h0m0-2h0m-.5 2.5h0m-.5 0h0m-.5 0h0m-.5-1.5h0m0-1h0m-2 1.5h0m-.5-.5h0m-.5 1h0m-1 .5h0m-.5-2.5h0m-1 1.5h0m-1-.5h0m-.5-.5h0m-.5 1h0m0-.5h0m0-.5h0m-1 0h0m-.5-.5h0m-1.5 .5h0m-.5 .5h0m-.5 .5h0m0-.5h0m-.5 0h0m-.5 0h0m-4 1.5h0m-.5-2.5h0m-.5 1.5h0m-1 0h0m0-.5h0m-1 1h0m0-1h0m-.5 1h0m-2-1h0m-1.5 1.5h0m0-2h0m1 4.5h0m.5-2h0m0 .5h0m1 1.5h0m.5 .5h0m4.5-1h0m.5 .5h0m3.5 0h0m.5-1.5h0m1 0h0m0 .5h0m1.5-.5h0m0 1.5h0m1.5-1h0m.5 1.5h0m8-2h0m0 1h0m.5-1h0m.5 .5h0m-.5 4h0m0-2h0m-1 1.5h0m-.5-1.5h0m-1 2h0m-.5-1h0m-1.5 1h0m-1.5-1.5h0m-1 2h0m0-1h0m-1 1h0m0-1h0m-.5-.5h0m-1 0h0m0-1h0m-.5 1h0m-1.5-.5h0m-.5 2h0m0-2h0m-.5 1.5h0m-.5-1.5h0m-2.5 1.5h0m-.5 .5h0m-.5-2.5h0m-1.5 .5h0m-.5-.5h0m-1 2h0m-1 0h0m0-1h0m-1-.5h0m-.5 .5h0m-1 0h0m-.5 1h0m-1 .5h0m0-1h0m2.5 2.5h0m2 1h0m1.5-1h0m3 1.5h0m3-2h0m3 1.5h0m1.5-.5h0m2.5-.5h0m1.5-.5h0m.5 .5h0m0 1h0m1-1h0m2.5 0h0m-2.5 3h0m0-.5h0m-5.5 1h0m-1-.5h0m-2.5 1h0m-.5 0h0m-3.5-.5h0m-.5-1h0m-.5 .5h0m-.5-1h0m-3 1.5h0m-1.5-1h0m3.5 4h0m8.5-1.5h0m2 .5h0m6 1.5h0m-6 3.5h0m-17-1.5h0m-.5-.5h0m4.5 4h0m6-.5h0m14.5 2h0m-7 1h0m-4.5 1h0m-9 1.5h0m5.5 .5h0m4.5-1h0m2 2h0" stroke="#ff0000" stroke-width="2.3" stroke-linecap="round" fill="none"/>
<line x1="392" y1="585.4" x2="392" y2="610.5" stroke="#0000ff" stroke-width="1.2"/>
<line x1="392" y1="627.2" x2="392" y2="652.3" stroke="#0000ff" stroke-width="1.2"/>
<rect x="368" y="610.5" width="48.1" height="16.7" fill="none" stroke="#0000ff" stroke-width="1.2"/>
<line x1="368" y1="618.5" x2="416.1" y2="618.5" stroke="#0000ff" stroke-width="1.6"/>
<path d="M383.5 578h0m7 0h0m9 3.5h0m-8.5-.5h0m-6.5 .5h0m-2.5-1h0m-2 2h0m2.5 0h0m.5 1.5h0m.5-1h0m2.5 0h0m9.5-.5h0m2 1.5h0m4-1.5h0m1 1.5h0m1.5-1h0m.5 4h0m-3.5 0h0m-9.5 .5h0m-3.5 0h0m0-2h0m-3 0h0m-5.5 4h0m1-1.5h0m2 .5h0m0 1.5h0m2.5 .5h0m.5 0h0m1-1h0m.5 0h0m.5 0h0m1 1h0m7-.5h0m1 0h0m1.5-.5h0m1.5-1h0m3 1.5h0m.5-.5h0m1-1h0m.5 4.5h0m0-1h0m-1.5 1h0m-.5 .5h0m0-.5h0m0-1h0m-1.5 1.5h0m-1.5 0h0m-1-1.5h0m-1 .5h0m-1-1h0m-.5 2h0m-1-1.5h0m-2 0h0m-1 0h0m-1 1h0m-1.5 .5h0m0-2.5h0m-1 0h0m-1.5 1.5h0m-1-1.5h0m-.5 2h0m-2 .5h0m-.5-.5h0m-.5-1.5h0m-.5-.5h0m-1.5 2h0m0-2h0m0 3h0m1.5 1h0m1.5-1h0m0 2h0m1-2h0m0 .5h0m.5 2h0m.5-1h0m1 .5h0m2.5-1h0m1 1h0m1 0h0m.5 .5h0m1-2h0m0 1h0m0 .5h0m.5-1h0m0 .5h0m.5 .5h0m0 .5h0m1.5-1h0m1-1.5h0m0 2h0m.5-2h0m.5 .5h0m.5 .5h0m.5-.5h0m1 1.5h0m.5 .5h0m.5 0h0m1-1.5h0m2-1h0m0 2h0m1-2h0m.5 .5h0m0 4.5h0m0-.5h0m-.5 1h0m-1-.5h0m0-1.5h0m0-.5h0m-1 2h0m-.5-1h0m-.5 1.5h0m0-1.5h0m-.5 0h0m-.5 1h0m0-1.5h0m-2 0h0m0-.5h0m-.5 2.5h0m0-.5h0m-.5 .5h0m0-2h0m-.5 2h0m0-1.5h0m-.5 1.5h0m0-1.5h0m-1 1h0m0-.5h0m-1 1h0m0-.5h0m0-.5h0m-.5-.5h0m-.5-1h0m-.5 1h0m0-1h0m-.5 1.5h0m0-1.5h0m-.5 1h0m-1 1.5h0m-.5-.5h0m0-.5h0m-.5 0h0m-.5 0h0m-.5 0h0m-.5-1h0m0-.5h0m-1 2h0m-.5 0h0m0-.5h0m-1.5-.5h0m0-1h0m-.5 .5h0m-1 1.5h0m-1.5-1.5h0m-1.5 1h0m0-.5h0m0-.5h0m0-.5h0m-.5 2h0m0-1.5h0m-.5 .5h0m0 3h0m0 1.5h0m1 0h0m.5-2h0m0 1.5h0m.5 0h0m.5-1h0m.5 .5h0m0 .5h0m0 .5h0m1-2h0m.5-.5h0m0 .5h0m0 .5h0m0 .5h0m1-1.5h0m0 .5h0m0 .5h0m.5 0h0m0 .5h0m.5-1h0m.5-.5h0m0 1.5h0m.5-1.5h0m0 2.5h0m1-1.5h0m.5 .5h0m.5 0h0m0 .5h0m.5-1.5h0m0 .5h0m0 .5h0m0 1h0m.5-2h0m0 1h0m0 .5h0m0 .5h0m.5-2.5h0m0 1h0m0 .5h0m0 1h0m1-.5h0m1-2h0m0 2.5h0m.5-2h0m0 1h0m0 .5h0m.5-1.5h0m0 .5h0m0 .5h0m0 .5h0m0 .5h0m1-2.5h0m0 2.5h0m.5-1.5h0m.5-1h0m0 1h0m0 1h0m.5 .5h0m.5 0h0m.5-2.5h0m0 .5h0m0 1h0m0 .5h0m0 .5h0m1-1.5h0m0 1.5h0m.5-2.5h0m0 1.5h0m.5-1.5h0m0 .5h0m1-.5h0m.5 1h0m.5-1h0m0 2.5h0m.5 0h0m.5-1.5h0m.5-.5h0m0 1h0m0 .5h0m.5-2h0m.5 0h0m0 1.5h0m0 .5h0m.5-1.5h0m0 2h0m.5-2h0m0 .5h0m0 1h0m.5 1h0m-.5 1.5h0m0-1.5h0m-.5 2.5h0m0-.5h0m-.5 .5h0m0-.5h0m0-.5h0m-.5 1h0m-.5 0h0m0-.5h0m0-1.5h0m-.5 1.5h0m0-.5h0m0-1.5h0m-.5 2.5h0m0-1h0m-.5 1h0m0-1h0m0-1h0m-1 1h0m0-1h0m-.5 1h0m0-.5h0m-.5 0h0m0-1h0m-.5 2.5h0m0-.5h0m0-1h0m-.5 1.5h0m0-1.5h0m-.5 0h0m0-.5h0m-.5 2h0m0-.5h0m-.5-1h0m-.5 1h0m0-2h0m-.5 2.5h0m-.5-2h0m-.5 1.5h0m-.5-2h0m-.5 2.5h0m0-.5h0m0-1.5h0m0-.5h0m-.5 .5h0m-.5 1.5h0m0-1.5h0m0-.5h0m-.5 2.5h0m-.5 0h0m0-1.5h0m0-1h0m-.5 2.5h0m0-.5h0m-.5 .5h0m0-1.5h0m0-.5h0m-.5 .5h0m0-.5h0m-.5 0h0m-.5 0h0m-.5 2h0m-.5-.5h0m0-.5h0m0-.5h0m-.5 1.5h0m-.5 0h0m0-.5h0m-.5-1.5h0m-.5 2h0m0-1h0m0-1h0m-.5 1h0m0-1h0m-.5 1.5h0m-.5 .5h0m0-.5h0m0-1.5h0m-.5 0h0m-1 2h0m0-2h0m-.5 .5h0m-1 1h0m0-2h0m-.5 2h0m0-1.5h0m-.5 .5h0m-.5 1.5h0m0-1h0m-.5-1h0m0 2.5h0m0 1.5h0m0 .5h0m0 .5h0m.5-2h0m0 .5h0m0 .5h0m.5-1.5h0m0 .5h0m0 1h0m0 .5h0m.5-1.5h0m0 1h0m0 .5h0m0 .5h0m.5-2.5h0m0 .5h0m0 .5h0m0 .5h0m0 .5h0m.5-2h0m0 2h0m0 .5h0m.5-1.5h0m0 1h0m0 .5h0m.5-2.5h0m0 1h0m0 1h0m0 .5h0m.5-2.5h0m0 1h0m0 1h0m.5-1h0m.5-1h0m0 1h0m0 1h0m0 .5h0m.5-1h0m.5-.5h0m0 1.5h0m.5-2.5h0m0 1.5h0m0 .5h0m0 .5h0m.5-2.5h0m0 .5h0m0 1h0m0 .5h0m0 .5h0m.5-1.5h0m0 1.5h0m.5-2h0m0 1h0m.5-1.5h0m0 2h0m0 .5h0m.5-2.5h0m0 .5h0m0 .5h0m0 .5h0m.5-1h0m0 .5h0m0 .5h0m0 1h0m.5-2h0m0 1h0m.5-1.5h0m0 2h0m.5-.5h0m.5-1h0m0 1h0m0 .5h0m0 .5h0m.5-2.5h0m0 2.5h0m.5-2.5h0m.5 0h0m0 .5h0m0 2h0m.5-.5h0m0 .5h0m.5-2.5h0m0 2h0m.5-2h0m0 .5h0m0 .5h0m0 .5h0m0 .5h0m1-1.5h0m0 .5h0m.5-1h0m0 1.5h0m0 .5h0m.5-1.5h0m0 2h0m.5 0h0m.5-1h0m0 1h0m.5-1.5h0m0 .5h0m0 .5h0m.5-1h0m0 .5h0m.5-1h0m0 .5h0m0 .5h0m0 .5h0m0 .5h0m.5-2.5h0m0 .5h0m.5 1h0m0 .5h0m0 .5h0m.5-2h0m0 .5h0m0 1.5h0m.5 0h0m.5-2h0m0 .5h0m0 .5h0m.5-.5h0m0 1h0m.5-2h0m0 .5h0m0 2h0m.5-2h0m0 .5h0m0 .5h0m0 1h0m1-2.5h0m0 1.5h0m.5-.5h0m0 .5h0m0 .5h0m0 .5h0m.5-1.5h0m0 1h0m.5-1.5h0m-.5 5h0m0-.5h0m0-.5h0m0-1h0m0-.5h0m-.5 2h0m0-.5h0m0-.5h0m0-.5h0m-.5 1.5h0m0-.5h0m0-.5h0m0-.5h0m-.5 1.5h0m0-1.5h0m-.5 1.5h0m0-.5h0m0-.5h0m0-1h0m-1 2.5h0m0-.5h0m0-1h0m-.5 1h0m0-.5h0m-.5 .5h0m0-1.5h0m-.5 1.5h0m-.5-.5h0m0-1h0m-.5 .5h0m0-1h0m-.5 2h0m0-.5h0m0-.5h0m-.5 1.5h0m0-1h0m0-.5h0m-.5 1h0m0-.5h0m0-.5h0m0-.5h0m0-.5h0m-.5 2h0m0-.5h0m-.5-.5h0m0-.5h0m0-.5h0m-.5 1.5h0m0-.5h0m0-.5h0m-.5 2h0m0-.5h0m0-.5h0m0-1h0m-.5 2h0m0-.5h0m0-2h0m-.5 2.5h0m0-.5h0m0-.5h0m0-.5h0m0-.5h0m0-.5h0m-.5 0h0m-.5 2h0m0-1.5h0m-.5 1.5h0m0-.5h0m-.5 .5h0m0-1h0m0-1h0m-.5 1.5h0m0-.5h0m0-1h0m-.5 2.5h0m0-.5h0m0-2h0m-.5 2.5h0m0-1h0m0-.5h0m-.5 1.5h0m0-.5h0m0-1.5h0m0-.5h0m-.5 2.5h0m0-1.5h0m-.5 .5h0m0-1.5h0m-.5 2h0m0-.5h0m0-1h0m-.5 2h0m0-.5h0m0-.5h0m0-.5h0m0-.5h0m0-.5h0m-.5 2h0m0-1h0m0-.5h0m-.5 1.5h0m0-.5h0m0-1.5h0m-.5 2.5h0m0-.5h0m0-.5h0m0-.5h0m-.5 1.5h0m0-1h0m0-1.5h0m-.5 2h0m0-.5h0m0-1.5h0m-.5 1.5h0m0-1h0m0-.5h0m-.5 2.5h0m0-.5h0m0-1.5h0m-.5 2h0m0-1h0m0-.5h0m0-.5h0m-.5 2h0m0-1.5h0m-.5 0h0m0-.5h0m-.5 2h0m0-1.5h0m0-1h0m-.5 2.5h0m0-.5h0m0-1.5h0m0-.5h0m-.5 2.5h0m0-1.5h0m0-.5h0m0-.5h0m-.5 .5h0m-.5 .5h0m0-.5h0m0-.5h0m-.5 1h0m0-.5h0m-.5 0h0m-.5 2h0m0-.5h0m0-1h0m0-1h0m0 3h0m0 .5h0m0 1.5h0m0 .5h0m.5-2.5h0m0 2h0m.5-2h0m0 2h0m0 .5h0m.5-2.5h0m0 2.5h0m.5-2h0m.5-.5h0m0 1h0m0 1h0m0 .5h0m.5-2.5h0m0 1h0m0 1h0m0 .5h0m.5-2.5h0m0 1.5h0m0 .5h0m.5-1h0m0 1.5h0m.5 0h0m.5-1.5h0m0 1h0m0 .5h0m.5-2.5h0m0 1h0m0 .5h0m0 .5h0m0 .5h0m.5-1h0m0 .5h0m0 .5h0m.5-2.5h0m0 1h0m0 1h0m0 .5h0m.5-2.5h0m0 .5h0m0 .5h0m0 .5h0m0 1h0m.5-1h0m0 .5h0m.5-2h0m0 .5h0m0 .5h0m0 .5h0m.5-1.5h0m0 .5h0m0 1h0m0 .5h0m0 .5h0m.5-2h0m0 1h0m0 .5h0m.5-2h0m0 1h0m0 .5h0m0 .5h0m0 .5h0m.5-1.5h0m0 1.5h0m.5-2.5h0m0 .5h0m1 0h0m0 .5h0m0 .5h0m0 1h0m.5-2.5h0m0 .5h0m0 1h0m.5 .5h0m.5-2h0m0 1.5h0m0 1h0m.5-2h0m0 1h0m.5-1.5h0m0 .5h0m0 .5h0m.5 .5h0m0 1h0m.5-1h0m0 .5h0m.5-1h0m0 1.5h0m.5-2.5h0m0 .5h0m0 .5h0m0 .5h0m.5 0h0m0 .5h0m.5-2h0m0 2h0m0 .5h0m1-2.5h0m0 .5h0m0 1.5h0m.5-2h0m0 .5h0m0 .5h0m0 1h0m0 .5h0m.5-2.5h0m0 .5h0m0 .5h0m0 1h0m.5-2h0m0 1h0m0 .5h0m0 .5h0m0 .5h0m.5-1.5h0m0 .5h0m0 .5h0m.5-2h0m0 2.5h0m.5-2.5h0m0 1.5h0m0 .5h0m.5-.5h0m0 .5h0m0 .5h0m.5-2.5h0m0 1.5h0m0 1h0m.5-1h0m0 .5h0m0 .5h0m.5-.5h0m0 .5h0m.5-2.5h0m0 1.5h0m.5 .5h0m0 .5h0m.5-2h0m0 1h0m.5-1.5h0m0 1.5h0m0 1h0m.5-2.5h0m0 1h0m0 2.5h0m-.5 2h0m0-1.5h0m0-.5h0m-.5 1.5h0m0-1.5h0m0-.5h0m-.5 2h0m0-.5h0m0-.5h0m0-1h0m-.5 2h0m0-.5h0m0-.5h0m0-.5h0m-.5 1.5h0m0-1.5h0m0-.5h0m-.5 2.5h0m0-.5h0m0-.5h0m0-1.5h0m-.5 1.5h0m0-.5h0m0-.5h0m-.5 2h0m0-.5h0m0-.5h0m0-.5h0m0-.5h0m-.5 2h0m0-.5h0m0-1.5h0m0-.5h0m-.5 2.5h0m0-.5h0m0-1h0m0-.5h0m-.5 2h0m0-.5h0m0-1h0m0-.5h0m0-.5h0m-.5 2.5h0m0-1h0m0-.5h0m0-1h0m-.5 2.5h0m-.5-.5h0m0-1h0m0-1h0m-.5 1.5h0m0-.5h0m0-1h0m-.5 2.5h0m0-.5h0m0-.5h0m0-.5h0m0-.5h0m-.5 1.5h0m0-1h0m-.5 1.5h0m0-.5h0m0-1h0m-.5 1h0m0-1h0m0-.5h0m0-.5h0m-.5 2.5h0m0-.5h0m0-1.5h0m-.5 2h0m0-.5h0m0-.5h0m0-.5h0m0-.5h0m-.5 1.5h0m0-1h0m-.5 1h0m0-.5h0m0-1h0m-.5 1.5h0m0-1.5h0m0-.5h0m-.5 2.5h0m0-.5h0m0-2h0m-.5 2.5h0m0-.5h0m0-.5h0m0-1.5h0m-.5 2.5h0m0-.5h0m0-1.5h0m-.5 2h0m0-.5h0m0-.5h0m0-1h0m0-.5h0m-.5 2.5h0m0-.5h0m0-1h0m-.5 1.5h0m0-.5h0m0-1h0m0-1h0m-.5 1.5h0m0-.5h0m0-.5h0m0-.5h0m-.5 1.5h0m0-.5h0m0-1h0m-.5 2h0m0-1.5h0m0-.5h0m-.5 2.5h0m0-.5h0m0-1h0m0-1h0m-1 2h0m0-1h0m-.5 1.5h0m0-.5h0m0-.5h0m0-.5h0m0-.5h0m-.5 1h0m-.5 1h0m0-1h0m0-1h0m0-.5h0m-.5 2.5h0m0-.5h0m0-2h0m-.5 1.5h0m0-.5h0m0-.5h0m0-.5h0m-.5 2h0m-.5 .5h0m0-1.5h0m0-.5h0m0-.5h0m-.5 2.5h0m0-1h0m0-1h0m-.5 2h0m0-2h0m-.5 2h0m0-2h0m-.5 2h0m0-2h0m0-.5h0m-.5 2.5h0m0-1.5h0m0-.5h0m-.5 1h0m0-.5h0m0-.5h0m0-.5h0m-.5 2.5h0m0-.5h0m-.5 .5h0m0-.5h0m0-.5h0m0-.5h0m0 2.5h0m0 1.5h0m0 .5h0m.5 0h0m.5-2.5h0m0 2h0m.5-1.5h0m0 1h0m0 1h0m.5-2.5h0m0 1.5h0m0 1h0m.5-2.5h0m0 .5h0m0 .5h0m0 1h0m.5-1h0m0 1h0m0 .5h0m.5-2h0m0 .5h0m0 .5h0m.5-1.5h0m0 .5h0m0 .5h0m0 .5h0m.5 0h0m0 1h0m.5-2.5h0m0 1h0m0 .5h0m0 1h0m.5-2h0m0 1.5h0m0 .5h0m.5-2.5h0m0 .5h0m.5 0h0m0 1h0m.5-1h0m0 1h0m0 1h0m.5 0h0m.5-2h0m0 .5h0m.5-1h0m0 .5h0m0 1h0m0 1h0m.5-2.5h0m0 .5h0m0 1h0m0 1h0m.5-2.5h0m0 .5h0m0 .5h0m0 .5h0m0 .5h0m0 .5h0m.5-2.5h0m0 1h0m0 .5h0m0 .5h0m.5-1.5h0m0 1h0m0 1h0m.5-2.5h0m0 .5h0m0 .5h0m0 1h0m0 .5h0m.5-2h0m0 .5h0m0 .5h0m0 .5h0m0 .5h0m.5-1h0m.5-1.5h0m0 .5h0m0 2h0m.5-1.5h0m0 1.5h0m.5-2h0m0 .5h0m0 1h0m0 .5h0m.5-2.5h0m0 1.5h0m0 .5h0m0 .5h0m.5-1.5h0m.5-1h0m0 .5h0m0 1h0m.5-1.5h0m0 .5h0m0 2h0m.5-2.5h0m0 .5h0m0 .5h0m0 .5h0m0 .5h0m0 .5h0m.5-2h0m0 .5h0m0 1h0m.5-2h0m0 .5h0m0 .5h0m0 1h0m.5-1.5h0m0 1h0m0 .5h0m0 .5h0m.5-1h0m0 .5h0m.5-2h0m0 .5h0m0 .5h0m0 .5h0m0 .5h0m0 .5h0m.5-2h0m0 1h0m0 .5h0m0 .5h0m.5-2.5h0m0 .5h0m0 1h0m.5-1.5h0m0 .5h0m0 .5h0m0 1.5h0m.5-1.5h0m0 1h0m0 .5h0m.5-2h0m0 1h0m0 1h0m.5-2.5h0m0 1h0m.5-1h0m0 1h0m0 .5h0m.5-1.5h0m0 .5h0m0 1h0m.5-1.5h0m0 1.5h0m.5-1h0m0 .5h0m0 .5h0m0 .5h0m.5-2h0m0 .5h0m.5 0h0m0 2h0m.5-2.5h0m0 .5h0m0 .5h0m0 1h0m.5 0h0m0 1h0m-.5 1.5h0m0-.5h0m0-.5h0m0-.5h0m-.5 .5h0m-.5 .5h0m-.5 1.5h0m0-.5h0m0-1h0m0-1h0m-.5 1.5h0m0-1.5h0m-.5 2.5h0m0-.5h0m0-.5h0m0-.5h0m-.5 .5h0m0-.5h0m-.5 1h0m0-1h0m0-.5h0m0-.5h0m-.5 2h0m0-1h0m-.5 1.5h0m0-2h0m-.5 2h0m0-1.5h0m0-.5h0m-.5 2h0m0-1.5h0m0-.5h0m0-.5h0m-.5 2h0m0-.5h0m0-.5h0m-.5 1.5h0m0-.5h0m0-1h0m-.5 1.5h0m0-.5h0m0-1.5h0m-.5 2h0m0-.5h0m0-1h0m0-1h0m-.5 1.5h0m0-.5h0m0-1h0m-.5 2.5h0m0-1.5h0m0-.5h0m-.5 1.5h0m0-.5h0m-.5 1h0m0-1h0m0-.5h0m0-.5h0m-.5 2h0m0-.5h0m0-.5h0m0-1.5h0m-.5 2.5h0m0-.5h0m0-1.5h0m0-.5h0m-.5 1h0m0-1h0m-.5 2.5h0m0-.5h0m-.5 0h0m-.5 .5h0m0-1h0m0-1.5h0m-1 2h0m0-.5h0m0-.5h0m0-1h0m-.5 2.5h0m0-.5h0m0-.5h0m0-1h0m-.5 2h0m0-.5h0m0-.5h0m-.5 1h0m0-.5h0m0-1.5h0m-.5 1.5h0m0-2h0m-.5 2h0m0-.5h0m0-1.5h0m-.5 2h0m0-1h0m-.5 1.5h0m0-2h0m-.5 2h0m0-1h0m0-.5h0m0-.5h0m0-.5h0m-.5 1.5h0m0-.5h0m0-1h0m-.5 1.5h0m0-.5h0m-.5 1h0m0-.5h0m0-.5h0m-.5 0h0m-.5 1.5h0m0-1.5h0m0-.5h0m-.5 2h0m0-.5h0m0-.5h0m0-.5h0m-.5 1h0m0-.5h0m0-.5h0m-.5 1h0m0-.5h0m0-1.5h0m-.5 2.5h0m0-.5h0m0-.5h0m0-.5h0m0-.5h0m-.5 2h0m0-1.5h0m0-.5h0m0-.5h0m-.5 2h0m-.5 .5h0m0-.5h0m0-.5h0m0-.5h0m-.5 1.5h0m0-.5h0m0-1h0m0-1h0m-1 1.5h0m0-.5h0m0-1h0m-.5 0h0m.5 3h0m0 1h0m0 .5h0m0 1h0m.5-2.5h0m0 1.5h0m0 1h0m.5-2.5h0m0 1h0m0 .5h0m.5-1.5h0m0 .5h0m0 .5h0m0 .5h0m0 .5h0m.5-1.5h0m0 1.5h0m0 .5h0m.5 0h0m.5-2.5h0m0 .5h0m0 .5h0m0 .5h0m0 .5h0m.5-1h0m0 1h0m.5-2h0m0 1.5h0m0 1h0m.5-2h0m0 1h0m0 .5h0m0 .5h0m.5-2h0m0 1h0m0 .5h0m0 .5h0m.5-2.5h0m0 .5h0m0 2h0m.5-2.5h0m0 2h0m.5-1.5h0m0 .5h0m.5 .5h0m0 .5h0m.5-2h0m0 1h0m.5-1h0m0 .5h0m0 1h0m0 .5h0m0 .5h0m.5-1h0m.5-1.5h0m0 1h0m0 .5h0m.5-1h0m0 .5h0m0 1h0m0 .5h0m.5-2.5h0m0 .5h0m0 1.5h0m.5-2h0m0 1.5h0m0 .5h0m0 .5h0m.5-2.5h0m0 1h0m0 .5h0m0 1h0m.5-2.5h0m0 .5h0m0 2h0m.5-1h0m0 .5h0m0 .5h0m.5-2.5h0m0 1h0m0 1h0m0 .5h0m.5-1.5h0m.5-1h0m0 2h0m0 .5h0m.5-1.5h0m0 1h0m0 .5h0m.5-2.5h0m0 2h0m0 .5h0m.5-1.5h0m0 .5h0m0 .5h0m.5-2h0m0 .5h0m0 1h0m.5-1.5h0m0 2h0m0 .5h0m.5-2.5h0m0 1h0m.5-1h0m.5 0h0m0 1h0m0 1.5h0m1-.5h0m0 .5h0m.5-1h0m0 .5h0m.5-1.5h0m0 .5h0m0 1h0m.5-2h0m0 1h0m.5-.5h0m0 1.5h0m.5-2h0m.5 .5h0m0 1h0m0 1h0m.5 0h0m.5-2.5h0m0 .5h0m0 .5h0m.5 1.5h0m.5-.5h0m.5-2h0m0 1h0m0 .5h0m0 1h0m.5-1h0m0 .5h0m.5-2h0m0 1h0m0 1.5h0m.5-2h0m0 4.5h0m-.5-1h0m-.5 0h0m0-.5h0m0-.5h0m-.5 2.5h0m0-.5h0m0-.5h0m0-1h0m-.5 2h0m0-.5h0m0-1h0m0-1h0m-.5 2.5h0m0-2.5h0m-.5 2.5h0m-.5-.5h0m0-.5h0m0-.5h0m-.5 .5h0m0-.5h0m0-.5h0m0-.5h0m-.5 1.5h0m0-.5h0m-.5 1h0m0-.5h0m0-.5h0m0-.5h0m-.5 1h0m0-1h0m-1 2h0m0-.5h0m0-2h0m-.5 2h0m0-1.5h0m0-.5h0m-.5 2.5h0m0-2h0m-.5 1.5h0m0-.5h0m0-1.5h0m-.5 2h0m0-2h0m-.5 2.5h0m0-1h0m0-.5h0m-.5 1.5h0m0-.5h0m0-.5h0m0-1h0m-.5 2h0m0-1h0m0-1.5h0m-.5 1h0m0-1h0m-1 2.5h0m0-.5h0m-.5 .5h0m0-.5h0m0-1h0m0-1h0m-.5 1.5h0m0-.5h0m0-1h0m-.5 1.5h0m0-1h0m-.5 2h0m0-1.5h0m0-.5h0m-.5 2h0m0-.5h0m0-2h0m-1 2.5h0m0-1h0m-1 1h0m0-1.5h0m-.5-1h0m-.5 2.5h0m0-.5h0m0-.5h0m-.5 0h0m0-.5h0m0-1h0m-.5 1h0m-.5 1h0m0-1h0m0-1h0m-.5 2.5h0m0-1h0m0-.5h0m0-.5h0m-.5 1h0m0-.5h0m-.5 1.5h0m0-2.5h0m-.5 2.5h0m0-2h0m0-.5h0m-.5 2.5h0m0-2.5h0m-.5 2.5h0m-1 0h0m0-2h0m0-.5h0m-.5 2h0m0-.5h0m0-1.5h0m-.5 2.5h0m0-1h0m-.5 0h0m0-.5h0m-.5 1.5h0m0-1.5h0m0-.5h0m0-.5h0m-.5 2.5h0m0-1h0m0-1h0m-.5 1.5h0m0-.5h0m0-1h0m0-.5h0m-.5 4.5h0m.5-1.5h0m0 1h0m0 1.5h0m.5-.5h0m.5-.5h0m0 .5h0m0 .5h0m.5-2h0m0 .5h0m0 .5h0m0 .5h0m0 .5h0m.5-2.5h0m0 .5h0m0 1h0m.5-1.5h0m0 .5h0m0 .5h0m0 1h0m.5 0h0m0 .5h0m.5-2h0m0 1h0m.5-1.5h0m0 .5h0m.5-.5h0m0 .5h0m.5 1h0m0 .5h0m.5-2h0m0 2h0m0 .5h0m.5-2.5h0m0 .5h0m.5 0h0m0 .5h0m0 .5h0m1-1.5h0m0 .5h0m0 .5h0m0 .5h0m0 1h0m.5-2h0m0 1.5h0m.5-1.5h0m0 .5h0m0 1h0m0 .5h0m.5-2.5h0m0 2h0m0 .5h0m.5-2.5h0m0 .5h0m.5 0h0m.5-.5h0m0 .5h0m0 1h0m0 1h0m.5-2.5h0m0 1.5h0m.5 1h0m.5-2.5h0m0 2.5h0m.5-2.5h0m0 .5h0m0 .5h0m.5-.5h0m.5 0h0m.5-.5h0m0 1h0m0 1.5h0m.5-2.5h0m0 1h0m.5-.5h0m0 1.5h0m.5-1.5h0m0 1h0m.5-.5h0m0 .5h0m.5-.5h0m1-1h0m0 2.5h0m.5-2.5h0m0 .5h0m0 .5h0m.5-1h0m0 1h0m0 1h0m.5-2h0m0 1h0m0 .5h0m0 .5h0m.5-1.5h0m0 .5h0m0 .5h0m.5-1.5h0m0 1.5h0m.5-1.5h0m0 2h0m.5-2h0m.5 .5h0m0 1.5h0m0 .5h0m.5-1.5h0m0 1h0m.5-2h0m0 .5h0m0 .5h0m0 .5h0m.5 1h0m.5-2.5h0m0 1.5h0m0 .5h0m.5-1.5h0m.5 1.5h0m.5-2h0m0 .5h0m0 1.5h0m0 2h0m-.5 .5h0m0-1h0m0-.5h0m-.5 0h0m-.5 2.5h0m-.5-1.5h0m-.5 1h0m0-1h0m0-1h0m-.5 2.5h0m0-.5h0m0-.5h0m-.5-.5h0m0-.5h0m-.5 1h0m-.5 0h0m0-1.5h0m-.5 .5h0m-.5 1h0m0-1.5h0m-.5 2.5h0m0-1.5h0m0-1h0m-.5 .5h0m0-.5h0m-1 2h0m0-1h0m0-1h0m-.5 2h0m0-.5h0m-.5 1h0m0-1h0m0-.5h0m-.5 0h0m-.5 .5h0m0-.5h0m-.5-.5h0m-.5 2h0m0-2h0m0-.5h0m-1 2.5h0m-.5-1.5h0m-1-.5h0m-.5 0h0m0-.5h0m-.5 2.5h0m0-.5h0m-.5-.5h0m0-.5h0m0-.5h0m-1 1.5h0m0-1.5h0m-.5 2h0m0-2h0m-.5 .5h0m0-.5h0m-.5 .5h0m-.5 1.5h0m0-1.5h0m0-1h0m-.5 .5h0m-.5 1h0m-1.5-1.5h0m-.5 .5h0m-.5 .5h0m-1.5 0h0m-.5 1h0m0-1h0m0-1h0m-.5 2h0m0-.5h0m-.5 .5h0m0-1h0m0-.5h0m-.5 1.5h0m-.5 0h0m0-1h0m0 2.5h0m0 2h0m1-2.5h0m0 .5h0m.5-.5h0m.5 0h0m0 .5h0m0 1.5h0m.5-1.5h0m.5 1h0m.5 0h0m1 0h0m.5 0h0m0 .5h0m.5-.5h0m.5-1h0m.5 0h0m.5 .5h0m0 1h0m1-.5h0m.5-1.5h0m0 .5h0m0 1h0m.5 .5h0m0 .5h0m1-2.5h0m.5 0h0m0 2.5h0m.5-1.5h0m.5-1h0m0 1.5h0m0 1h0m.5-2.5h0m0 .5h0m0 1h0m0 1h0m.5-2h0m0 1h0m1-1h0m0 1.5h0m.5 .5h0m.5-2.5h0m0 .5h0m0 .5h0m.5-1h0m0 .5h0m0 2h0m1-1.5h0m0 1h0m.5-.5h0m0 .5h0m0 .5h0m.5-2.5h0m0 2h0m1-.5h0m0 .5h0m0 .5h0m.5-1.5h0m0 .5h0m0 .5h0m.5-1h0m.5-1h0m0 2h0m.5-1.5h0m0 .5h0m0 .5h0m0 .5h0m1-1.5h0m0 1.5h0m0 .5h0m.5-2.5h0m.5 0h0m0 1.5h0m0 1h0m.5 0h0m.5-2.5h0m.5 1.5h0m.5 0h0m.5-1h0m0 1.5h0m0 .5h0m.5 1.5h0m-.5 0h0m-1.5 .5h0m-.5-1h0m-.5 2h0m-1.5-2.5h0m-1 1.5h0m0-1.5h0m-.5 1.5h0m0-1h0m0-.5h0m-1 0h0m-.5 1.5h0m0-.5h0m0-1h0m-.5 1h0m0-1h0m-1 1h0m0-1h0m-.5 1h0m-.5 0h0m0-.5h0m-.5 1.5h0m0-2h0m-.5 0h0m-1 1h0m-.5 1h0m-.5 .5h0m-1-2.5h0m-.5 1.5h0m0-.5h0m0-.5h0m-.5 1h0m0-.5h0m0-1h0m-.5 2h0m-.5 0h0m0-2h0m-.5 .5h0m-.5 2h0m0-.5h0m-1-.5h0m-.5 1h0m0-1h0m-1.5-.5h0m0-.5h0m-.5 .5h0m-1.5 .5h0m-.5-1.5h0m-.5 2.5h0m-1-1.5h0m0-1h0m-1 1.5h0m0 2h0m.5-.5h0m.5 0h0m1 1.5h0m1.5 .5h0m.5-1.5h0m.5-.5h0m0 .5h0m0 .5h0m1-.5h0m.5 2h0m.5-2.5h0m1 .5h0m.5-.5h0m0 1.5h0m0 1h0m1.5-.5h0m1-2h0m.5 0h0m0 2h0m0 .5h0m1.5-.5h0m1-1.5h0m.5 2h0m1-1.5h0m.5 1h0m.5 .5h0m2.5-2h0m1.5 2h0m1-.5h0m.5-.5h0m2 .5h0m.5-2h0m0 2h0m1.5-.5h0m-4 2h0m-3 .5h0m-1.5 1h0m-.5-.5h0m-.5 1h0m-3-.5h0m-.5 .5h0m-4.5-1.5h0m0-.5h0m-3 0h0m0-.5h0m-1 1.5h0m-.5-1.5h0m-.5 1.5h0m-1.5-.5h0m-1.5 0h0m0 3.5h0m2.5 0h0m2 .5h0m1-1h0m4.5 0h0m2.5 1h0m.5-1h0m2 .5h0m1.5-.5h0m2.5 0h0m2 1h0m2-2h0m1.5 .5h0m0 1.5h0m-7 1.5h0m-.5 0h0m-1.5 0h0m-.5 1h0m-1.5-.5h0m-1.5 0h0m-4-.5h0" stroke="#0000ff" stroke-width="2.3" stroke-linecap="round" fill="none"/>
<rect x="289.5" y="535.1" width="141" height="125.1" fill="none" stroke="#cfcfcf" stroke-width="0.9"/>
<line x1="287" y1="626.6" x2="289.5" y2="626.6" stroke="#999" stroke-width="0.8"/>
<text x="285.9" y="631.9" font-size="10.5" text-anchor="end" fill="#111">0</text>
<line x1="287" y1="585.2" x2="289.5" y2="585.2" stroke="#999" stroke-width="0.8"/>
<text x="285.9" y="590.5" font-size="10.5" text-anchor="end" fill="#111">2</text>
<line x1="287" y1="543.7" x2="289.5" y2="543.7" stroke="#999" stroke-width="0.8"/>
<text x="285.9" y="549" font-size="10.5" text-anchor="end" fill="#111">4</text>
<line x1="328" y1="660.2" x2="328" y2="662.9" stroke="#999" stroke-width="0.8"/>
<text x="327.5" y="675.5" font-size="11.6" text-anchor="middle" fill="#111">1-3</text>
<text x="327" y="686.3" font-size="11.8" text-anchor="middle" fill="#111">months</text>
<line x1="392" y1="660.2" x2="392" y2="662.9" stroke="#999" stroke-width="0.8"/>
<text x="391.1" y="675.5" font-size="11.6" text-anchor="middle" fill="#111">3-4</text>
<text x="389.8" y="686.3" font-size="11.8" text-anchor="middle" fill="#111">years</text>
<path d="M328 567.1V562.3H392V567.1" stroke="#333" stroke-width="1" fill="none"/>
<text x="360.3" y="558" font-size="12.2" text-anchor="middle" fill="#111">****p=2.4e−07</text>
<text x="360.8" y="530.1" font-size="14.8" text-anchor="middle" fill="#111">Treg</text>
<rect x="456.1" y="535.1" width="141.3" height="125.1" fill="#fff"/>
<line x1="456.1" y1="650.1" x2="597.4" y2="650.1" stroke="#f0f0f0" stroke-width="0.55"/>
<line x1="456.1" y1="625.5" x2="597.4" y2="625.5" stroke="#f0f0f0" stroke-width="0.55"/>
<line x1="456.1" y1="600.9" x2="597.4" y2="600.9" stroke="#f0f0f0" stroke-width="0.55"/>
<line x1="456.1" y1="576.4" x2="597.4" y2="576.4" stroke="#f0f0f0" stroke-width="0.55"/>
<line x1="456.1" y1="551.8" x2="597.4" y2="551.8" stroke="#f0f0f0" stroke-width="0.55"/>
<line x1="456.1" y1="637.8" x2="597.4" y2="637.8" stroke="#e5e5e5" stroke-width="0.9"/>
<line x1="456.1" y1="613.2" x2="597.4" y2="613.2" stroke="#e5e5e5" stroke-width="0.9"/>
<line x1="456.1" y1="588.6" x2="597.4" y2="588.6" stroke="#e5e5e5" stroke-width="0.9"/>
<line x1="456.1" y1="564.1" x2="597.4" y2="564.1" stroke="#e5e5e5" stroke-width="0.9"/>
<line x1="456.1" y1="539.5" x2="597.4" y2="539.5" stroke="#e5e5e5" stroke-width="0.9"/>
<line x1="494.6" y1="535.1" x2="494.6" y2="660.2" stroke="#e5e5e5" stroke-width="0.9"/>
<line x1="558.9" y1="535.1" x2="558.9" y2="660.2" stroke="#e5e5e5" stroke-width="0.9"/>
<line x1="494.6" y1="616.1" x2="494.6" y2="632" stroke="#ff0000" stroke-width="1.2"/>
<line x1="494.6" y1="642.6" x2="494.6" y2="656.1" stroke="#ff0000" stroke-width="1.2"/>
<rect x="470.5" y="632" width="48.2" height="10.6" fill="none" stroke="#ff0000" stroke-width="1.2"/>
<line x1="470.5" y1="637.5" x2="518.7" y2="637.5" stroke="#ff0000" stroke-width="1.6"/>
<path d="M491.5 597h0m1.5 0h0m-11 7h0m3 6h0m6 1h0m11.5 0h0m2.5 .5h0m1 2h0m-6-1.5h0m-1 1.5h0m-2 1h0m-9 0h0m-2-1h0m-.5 0h0m11 1.5h0m0 2h0m6 .5h0m1.5-1h0m2.5 3h0m-4.5 .5h0m0-1.5h0m-1.5 1.5h0m-1.5 .5h0m-.5-1h0m-.5 0h0m-4 0h0m-.5 0h0m-.5 1h0m-.5-1.5h0m-1 .5h0m-6.5 0h0m-2.5 2.5h0m0 1h0m.5 0h0m2 .5h0m1 0h0m2-1.5h0m.5 1h0m1.5-2h0m1 .5h0m.5 2h0m2.5 0h0m.5-.5h0m1-1h0m.5-1h0m.5 1.5h0m1.5 .5h0m2-1h0m1-.5h0m0 1.5h0m.5-1.5h0m.5-.5h0m0 .5h0m2-.5h0m.5 0h0m.5 0h0m.5 .5h0m1 .5h0m.5 1h0m0 .5h0m0 2.5h0m0-1h0m-1.5 1.5h0m-.5 0h0m-2.5-1h0m-.5 1h0m0-1h0m0-1h0m-.5 1h0m-.5 .5h0m-.5-1h0m-1 1.5h0m0-1.5h0m-1.5 1h0m-1 .5h0m-2-2.5h0m-.5 1.5h0m-1-1.5h0m-1 2.5h0m-.5 0h0m0-1.5h0m-.5 .5h0m-.5 1h0m-2 0h0m-1.5-2.5h0m-3.5 1.5h0m-1 .5h0m0-1.5h0m-.5 .5h0m0-.5h0m0-.5h0m-.5 1h0m0 2h0m0 2.5h0m.5-.5h0m.5 .5h0m.5-2h0m0 1h0m1-1h0m0 2h0m1 0h0m.5-1.5h0m0 1h0m0 .5h0m.5-2.5h0m0 .5h0m1.5 .5h0m0 .5h0m0 1h0m.5-2h0m0 1.5h0m0 .5h0m.5-1.5h0m.5 .5h0m.5 1h0m.5-2h0m0 2h0m.5-.5h0m.5 .5h0m1 0h0m.5-2h0m.5 0h0m0 1.5h0m1-1.5h0m0 1.5h0m0 .5h0m.5-1h0m0 1h0m.5-2h0m.5 1h0m.5-1h0m1.5 2h0m1-2h0m.5 1h0m.5-1.5h0m0 2h0m.5-1.5h0m0 1.5h0m1.5-1.5h0m.5 0h0m.5-.5h0m1.5 2.5h0m.5-2.5h0m.5 .5h0m1 1h0m.5-.5h0m.5-.5h0m0 4.5h0m-.5-1h0m-.5 1h0m-1-1.5h0m-1.5 1h0m-.5 0h0m0-1h0m-1 2h0m-.5-1h0m0-1.5h0m-.5 1h0m0-.5h0m0-.5h0m-.5 2.5h0m-.5-1h0m0-1h0m-1 2h0m0-2h0m-.5 2h0m0-1h0m-.5 0h0m0-1.5h0m-1 2h0m-.5 0h0m-.5-2h0m-.5 2.5h0m0-1h0m-.5 1h0m-.5-2h0m0-.5h0m-1 1h0m-.5 .5h0m-.5 1h0m0-1.5h0m-.5 .5h0m-1 .5h0m0-.5h0m0-1h0m-.5 2h0m-.5-1h0m0-1h0m0-.5h0m-.5 2h0m0-2h0m-.5 1h0m0-1h0m-.5 1h0m-.5 1h0m-1 .5h0m0-1h0m-.5 1h0m0-1h0m-.5 0h0m-.5-.5h0m-.5 1.5h0m0-2h0m-1-.5h0m-.5 1.5h0m-.5 0h0m-.5 1h0m-.5 0h0m0-1h0m0-1.5h0m-.5 4.5h0m1-.5h0m0 1.5h0m.5-1.5h0m0 1.5h0m.5-1.5h0m0 .5h0m0 .5h0m.5-1.5h0m0 1.5h0m.5-2h0m0 1h0m0 .5h0m0 .5h0m.5-2h0m0 1.5h0m0 .5h0m0 .5h0m1 0h0m.5-2.5h0m0 1.5h0m.5-1.5h0m0 .5h0m.5 0h0m0 1.5h0m.5-2h0m0 1.5h0m.5-1.5h0m0 2.5h0m.5-.5h0m.5-2h0m0 .5h0m.5 0h0m.5 0h0m0 .5h0m0 1.5h0m.5-2.5h0m0 .5h0m0 1.5h0m1-2h0m.5 2h0m0 .5h0m.5-2.5h0m0 2.5h0m1.5-2.5h0m0 1h0m0 1.5h0m1-2.5h0m0 .5h0m0 2h0m1 0h0m.5-2.5h0m0 .5h0m0 1h0m0 1h0m.5-.5h0m.5-.5h0m1-1.5h0m0 1h0m0 1.5h0m1-.5h0m.5-1.5h0m1 1h0m0 .5h0m0 .5h0m.5-1h0m0 1h0m.5-2.5h0m0 .5h0m1 0h0m0 1h0m0 .5h0m.5-1.5h0m0 2h0m.5-2.5h0m0 .5h0m0 .5h0m0 1h0m.5-1.5h0m1 1.5h0m0 .5h0m.5-2.5h0m0 .5h0m0 .5h0m0 1h0m0 2h0m-.5-1h0m-.5 2h0m0-2h0m-.5 1h0m0-1h0m-.5 2.5h0m0-2h0m-1 1.5h0m0-.5h0m-.5 1h0m0-.5h0m0-2h0m-.5 2.5h0m-.5-1h0m-.5-1.5h0m-.5 .5h0m-1 1.5h0m0-1.5h0m-.5 1.5h0m0-1h0m0-.5h0m-.5 1h0m0-1h0m-1.5 1h0m0-1.5h0m-.5 2.5h0m0-.5h0m0-1.5h0m-1 2h0m0-.5h0m-.5 0h0m0-1.5h0m-.5 1.5h0m-.5-1h0m-.5 1.5h0m0-1.5h0m-.5 .5h0m0-1.5h0m-.5 2h0m0-2h0m-.5 1.5h0m-.5 .5h0m0-1h0m0-.5h0m-.5 0h0m0-.5h0m-.5 2.5h0m0-1h0m0-.5h0m-.5 .5h0m-.5 0h0m0-1.5h0m-.5 .5h0m0-.5h0m-.5 2.5h0m0-2.5h0m-.5 2h0m0-1h0m-.5 1h0m0-.5h0m-.5 1h0m0-.5h0m0-.5h0m0-1h0m0-.5h0m-.5 2h0m0-1h0m-.5 1h0m0-2h0m-.5 0h0m-.5 1.5h0m-.5 .5h0m0-1h0m0-.5h0m-.5 2h0m0-2.5h0m-.5 1.5h0m-1 0h0m0-1h0m-.5 1.5h0m0-1.5h0m0-.5h0m-.5 2h0m0-.5h0m0-1h0m-.5 1h0m0-1h0m0 5h0m.5-1.5h0m.5-1h0m0 1h0m.5-1h0m0 2h0m.5-1.5h0m0 1.5h0m.5-2h0m0 1h0m0 1h0m0 .5h0m.5-2.5h0m0 .5h0m.5 1h0m.5-1h0m0 2h0m1-.5h0m0 .5h0m.5-.5h0m.5-1h0m0 1h0m.5-1.5h0m0 1.5h0m.5-2h0m.5 .5h0m0 1h0m0 .5h0m.5-1.5h0m0 .5h0m1-.5h0m0 2h0m.5-2.5h0m0 1h0m0 .5h0m.5-1.5h0m0 2.5h0m.5-2h0m0 2h0m.5-1.5h0m0 1h0m.5-2h0m0 1.5h0m.5-1.5h0m0 1h0m0 .5h0m0 1h0m.5-2h0m0 .5h0m0 1h0m.5-.5h0m.5 0h0m.5 .5h0m.5-1h0m0 1.5h0m.5-.5h0m.5-2h0m0 2h0m.5-2h0m.5 1h0m0 1.5h0m.5-1h0m0 .5h0m.5-1.5h0m0 .5h0m.5 0h0m0 1h0m.5 0h0m0 .5h0m.5-2h0m.5 1h0m0 1h0m.5-2.5h0m.5 .5h0m0 .5h0m.5-1h0m0 1h0m0 .5h0m.5-.5h0m0 .5h0m0 .5h0m.5 .5h0m.5-1h0m.5-1h0m.5 1h0m.5-1.5h0m0 2h0m0 .5h0m.5-2h0m0 1.5h0m0 .5h0m.5-1h0m.5-.5h0m0 3.5h0m-.5 0h0m0-1.5h0m-.5 .5h0m-.5 2h0m0-1.5h0m-.5 .5h0m0-1h0m0-.5h0m-.5 2.5h0m0-1.5h0m-.5 1h0m0-1h0m0-1h0m-1 1h0m0-.5h0m-.5 .5h0m-.5-.5h0m0-.5h0m-.5 1h0m-.5 1h0m0-.5h0m0-1h0m-.5 2h0m0-2.5h0m-1 2h0m-.5-1h0m0-.5h0m-.5 1.5h0m0-1h0m-.5 1.5h0m0-1.5h0m0-.5h0m0-.5h0m-.5 2h0m0-1h0m0-1h0m-1 1h0m0-.5h0m-.5 2h0m0-.5h0m-.5 0h0m0-1h0m0-1h0m-.5 2.5h0m0-.5h0m0-.5h0m0-1.5h0m-.5 2h0m-.5 0h0m0-.5h0m0-.5h0m-.5 1.5h0m0-.5h0m0-1h0m0-1h0m-.5 2h0m-.5 .5h0m0-1.5h0m0-1h0m-.5 2h0m-.5 .5h0m0-2.5h0m-.5 2.5h0m0-1.5h0m0-.5h0m-.5 1.5h0m0-1.5h0m-.5 2h0m0-1h0m-.5 0h0m-.5 .5h0m0-2h0m-1 0h0m-.5 2.5h0m0-2.5h0m-.5 2.5h0m-.5 0h0m-.5 0h0m-.5-1.5h0m-.5 1.5h0m0-1h0m0-1h0m-.5 2h0m-.5 0h0m0-1h0m0-1h0m-1.5 .5h0m-.5 1h0m0-2h0m-.5 .5h0m.5 2.5h0m0 2h0m.5 .5h0m.5-1h0m.5 0h0m.5-1.5h0m0 .5h0m0 2h0m.5-.5h0m1.5-2h0m0 1h0m1.5 0h0m1.5 0h0m0 .5h0m.5 0h0m.5-1h0m0 2h0m1.5-2.5h0m0 2h0m1 0h0m.5-2h0m1.5 .5h0m0 .5h0m1-.5h0m.5 1h0m.5 0h0m.5 .5h0m0 .5h0m2-1h0m.5 0h0m.5-.5h0m.5 .5h0m.5-1h0m.5 0h0m0 2h0m.5-2.5h0m1 2h0m.5-1.5h0m0 1h0m.5-1h0m1 1h0m.5-.5h0m.5 1h0m.5-2h0m0 1.5h0m-1 3.5h0m-.5-1.5h0m-.5-.5h0m-1 2.5h0m-.5 0h0m-.5-1.5h0m-.5-1h0m-1 1.5h0m-1 0h0m0-.5h0m-.5-.5h0m-1.5 0h0m-1 1h0m-1.5-1.5h0m-.5 0h0m-.5 1.5h0m0-1h0m-1 2h0m0-2h0m-.5 0h0m-.5 0h0m-1.5 .5h0m0-1h0m-.5 .5h0m-.5-.5h0m-.5 0h0m-.5 1.5h0m0-1.5h0m-2 .5h0m0-.5h0m-1 2h0m-1-2h0m-1 1h0m0-.5h0m-.5 1.5h0m-.5 .5h0m-.5-.5h0m-.5-1h0m0-1h0m-.5 1h0m0-1h0m0 4h0m6.5 0h0m5.5 1h0m1-1h0m.5-.5h0m.5 0h0m1-.5h0m1 .5h0m2.5 .5h0m2.5-.5h0m.5-.5h0m-.5 3.5h0m-.5 .5h0m-1 0h0m-1 0h0m-1-.5h0m-3-.5h0m-.5 1.5h0m-4 .5h0m-2-2h0m-2 .5h0m-.5 .5h0m-1-1h0m-.5 2h0m-4-1h0" stroke="#ff0000" stroke-width="2.3" stroke-linecap="round" fill="none"/>
<line x1="558.9" y1="615.1" x2="558.9" y2="626.6" stroke="#0000ff" stroke-width="1.2"/>
<line x1="558.9" y1="634.3" x2="558.9" y2="645.8" stroke="#0000ff" stroke-width="1.2"/>
<rect x="534.8" y="626.6" width="48.2" height="7.7" fill="none" stroke="#0000ff" stroke-width="1.2"/>
<line x1="534.8" y1="630.4" x2="583" y2="630.4" stroke="#0000ff" stroke-width="1.6"/>
<path d="M561 579.5h0m-3.5 5h0m-4.5-1.5h0m-2.5 2h0m2.5 1.5h0m0 3.5h0m-7-2h0m15.5 5.5h0m-8.5 1.5h0m5.5 3h0m5-1h0m1 2.5h0m6.5-2.5h0m-13.5 5h0m-4.5 .5h0m2.5 .5h0m14 2.5h0m1.5-1.5h0m.5 2.5h0m-.5 1.5h0m-23.5 .5h0m5.5 3h0m1.5-2h0m1 1.5h0m7 .5h0m8 .5h0m-2.5 2h0m-3-1.5h0m-6 0h0m-3 2h0m-.5-2h0m-1 .5h0m-6 1.5h0m-.5-2.5h0m-2 5h0m2.5 0h0m.5 0h0m2.5-.5h0m.5 .5h0m2.5 0h0m0 .5h0m1-1.5h0m.5-1h0m3.5 2.5h0m3 0h0m.5-1.5h0m0 .5h0m.5-.5h0m0 1h0m.5 .5h0m3.5-1h0m2-1h0m1.5 2h0m-2 3h0m0-2.5h0m-.5 1.5h0m0-.5h0m0-1h0m-1 0h0m-.5 1.5h0m0-.5h0m0-1h0m-2.5 .5h0m-1 1h0m0-.5h0m-1.5 .5h0m-.5 1h0m0-2h0m-.5 2h0m-.5-2.5h0m-.5 1.5h0m-.5 .5h0m-.5-.5h0m0-.5h0m-.5-.5h0m-.5 2h0m-1.5-1.5h0m-.5 0h0m-1 .5h0m-.5-1.5h0m-.5 1h0m-.5-.5h0m-.5 2h0m-1.5-2h0m-.5 2h0m0-1.5h0m-.5-.5h0m-.5 2h0m0-1h0m-.5 1h0m0-2.5h0m-.5 1.5h0m-.5 .5h0m0-.5h0m0-.5h0m0-1h0m-1 2h0m0-1.5h0m-1 3h0m0 1.5h0m.5 .5h0m.5-2h0m0 .5h0m.5-1h0m0 1h0m0 .5h0m0 .5h0m0 .5h0m.5 0h0m.5-2h0m0 1h0m0 1h0m.5-.5h0m.5 0h0m1.5-2h0m0 1.5h0m0 .5h0m.5-.5h0m.5-1h0m.5 .5h0m0 1.5h0m.5-2.5h0m0 2h0m.5-2h0m0 2h0m0 .5h0m.5-1h0m.5 1h0m.5-2h0m.5 2h0m.5-.5h0m.5-2h0m0 1h0m0 .5h0m.5 0h0m0 .5h0m0 .5h0m.5-2h0m0 1h0m.5 0h0m.5 .5h0m.5-2h0m0 2h0m.5-1.5h0m.5-.5h0m0 .5h0m0 .5h0m.5-1h0m0 1h0m.5 0h0m0 1h0m.5-1.5h0m1 1h0m0 .5h0m0 .5h0m.5-2.5h0m0 1.5h0m0 .5h0m.5-2h0m0 1.5h0m.5-.5h0m0 1h0m0 .5h0m1-2h0m0 2h0m.5-2.5h0m0 1h0m0 1h0m0 .5h0m.5-2h0m0 .5h0m0 1h0m0 .5h0m.5-2.5h0m0 2.5h0m.5-.5h0m.5-2h0m0 .5h0m0 1.5h0m0 .5h0m.5-2.5h0m.5 0h0m0 2h0m.5-1h0m.5 0h0m0 .5h0m0 1h0m.5-.5h0m0 .5h0m.5-.5h0m0 .5h0m.5-1h0m0 .5h0m0 .5h0m0 3h0m0-.5h0m0-.5h0m0-1.5h0m-.5 2.5h0m0-1.5h0m0-.5h0m-.5 2h0m0-.5h0m0-.5h0m0-1.5h0m-.5 2.5h0m0-2h0m0-.5h0m-.5 2h0m0-1h0m-.5 1.5h0m0-1.5h0m0-.5h0m-.5 2h0m0-.5h0m-.5 .5h0m0-.5h0m0-1.5h0m-.5 2h0m0-.5h0m0-.5h0m0-.5h0m0-.5h0m0-.5h0m-.5 2.5h0m0-1h0m0-.5h0m0-.5h0m0-.5h0m-.5 2.5h0m0-1h0m-.5 1h0m0-1h0m0-1h0m-.5 0h0m0-.5h0m-.5 1h0m0-1h0m-.5 2.5h0m0-.5h0m0-1h0m-.5 1h0m-.5 0h0m0-.5h0m-.5 1h0m0-2h0m0-.5h0m-.5 1h0m-.5 1.5h0m0-.5h0m0-1h0m0-1h0m-.5 2h0m0-.5h0m-.5 1h0m0-2.5h0m-.5 2.5h0m0-.5h0m0-.5h0m0-.5h0m0-1h0m-1 2h0m0-1h0m0-1h0m-.5 2.5h0m0-.5h0m0-1h0m0-.5h0m0-.5h0m-.5 2.5h0m0-1h0m0-.5h0m0-1h0m-.5 2.5h0m0-.5h0m0-.5h0m0-1h0m-.5 2h0m0-.5h0m0-.5h0m0-1.5h0m-.5 2.5h0m-.5 0h0m0-2h0m-.5 1.5h0m0-1h0m0-.5h0m-.5 1.5h0m0-1.5h0m-.5 1h0m0-1h0m-.5 1h0m0-1h0m0-.5h0m-.5 2.5h0m0-.5h0m0-.5h0m0-1h0m0-.5h0m-.5 2.5h0m0-.5h0m0-.5h0m0-1h0m0-.5h0m-.5 2.5h0m0-2h0m0-.5h0m-.5 2h0m0-1h0m-.5 1.5h0m0-.5h0m0-1h0m0-.5h0m0-.5h0m-.5 2.5h0m0-.5h0m0-1h0m0-.5h0m-.5 1h0m0-1.5h0m-.5 2.5h0m0-.5h0m0-2h0m-.5 1.5h0m0-.5h0m0-.5h0m-.5 2h0m0-.5h0m0-1h0m0-.5h0m0-.5h0m-.5 2.5h0m0-.5h0m0-1.5h0m-.5 1.5h0m0-.5h0m0-1h0m-.5 2h0m0-1h0m0-.5h0m0-1h0m-.5 2h0m0-1.5h0m-.5 2h0m0-1h0m0-1.5h0m-.5 2.5h0m0-.5h0m0-.5h0m0-1h0m-.5 2.5h0m0 .5h0m0 1.5h0m.5-2h0m0 1h0m0 .5h0m0 .5h0m0 .5h0m.5-2.5h0m0 1h0m0 .5h0m.5-1.5h0m0 .5h0m0 .5h0m0 .5h0m0 1h0m.5-1.5h0m0 .5h0m0 1h0m.5-1.5h0m0 .5h0m0 .5h0m0 .5h0m.5-2h0m0 .5h0m0 .5h0m0 .5h0m0 .5h0m.5-2.5h0m0 .5h0m0 .5h0m0 1h0m0 .5h0m.5-2.5h0m0 .5h0m0 .5h0m0 1h0m0 .5h0m.5-2h0m0 1.5h0m0 .5h0m.5-2.5h0m0 1.5h0m0 .5h0m0 .5h0m.5-2.5h0m0 .5h0m0 .5h0m0 1.5h0m.5-1.5h0m0 1.5h0m.5-2.5h0m0 1h0m0 .5h0m.5-1h0m0 1h0m0 1h0m1-2.5h0m0 .5h0m0 .5h0m0 1h0m.5-1.5h0m0 1h0m.5-.5h0m0 1.5h0m.5-2.5h0m0 .5h0m0 .5h0m0 .5h0m0 .5h0m0 .5h0m.5-2h0m0 .5h0m0 .5h0m0 .5h0m.5-1h0m0 .5h0m0 .5h0m0 .5h0m1-2.5h0m0 2h0m0 .5h0m.5-2.5h0m0 .5h0m0 1h0m.5-1h0m0 1h0m.5-1h0m0 .5h0m0 .5h0m.5-1.5h0m0 1h0m0 1h0m.5-1h0m0 .5h0m0 1h0m.5-2h0m0 .5h0m0 .5h0m.5 0h0m0 1h0m.5-1.5h0m0 1.5h0m.5-2h0m0 1.5h0m0 .5h0m.5-2.5h0m0 1h0m0 .5h0m0 .5h0m.5-2h0m0 2h0m0 .5h0m.5-2.5h0m0 .5h0m0 1h0m0 .5h0m0 .5h0m.5-1h0m0 .5h0m0 .5h0m.5-2.5h0m0 1h0m0 .5h0m0 .5h0m0 .5h0m.5-.5h0m.5 0h0m.5-1h0m0 1.5h0m.5-1.5h0m0 .5h0m0 1h0m.5-1h0m0 .5h0m0 .5h0m.5-2.5h0m0 1h0m0 1.5h0m.5-2.5h0m0 1h0m0 .5h0m0 .5h0m0 .5h0m.5-2.5h0m0 .5h0m0 .5h0m0 .5h0m0 .5h0m0 .5h0m.5-2.5h0m0 1h0m0 .5h0m.5-1.5h0m0 .5h0m0 1h0m0 .5h0m0 .5h0m.5-2.5h0m0 1h0m0 .5h0m0 1h0m.5-2.5h0m0 1h0m0 1h0m0 .5h0m.5-2.5h0m0 .5h0m0 .5h0m0 .5h0m0 .5h0m.5-2h0m0 1h0m0 .5h0m0 .5h0m0 .5h0m0 2.5h0m0-1.5h0m0-.5h0m-.5 2.5h0m0-1.5h0m0-.5h0m0-.5h0m-.5 2h0m0-.5h0m0-.5h0m0-.5h0m-.5 2h0m0-.5h0m0-1.5h0m0-.5h0m-.5 2h0m0-.5h0m0-1h0m0-.5h0m-.5 2h0m0-1h0m0-.5h0m0-.5h0m-.5 2.5h0m0-.5h0m0-1h0m0-.5h0m-.5 2h0m0-.5h0m0-.5h0m0-.5h0m0-1h0m-.5 1.5h0m0-.5h0m-.5 1h0m0-1.5h0m0-.5h0m-.5 1.5h0m-.5 1h0m0-.5h0m0-.5h0m0-.5h0m0-.5h0m0-.5h0m-.5 2.5h0m0-.5h0m0-.5h0m0-.5h0m0-.5h0m0-.5h0m-.5 2.5h0m0-.5h0m0-.5h0m0-.5h0m0-.5h0m0-.5h0m-.5 2.5h0m0-.5h0m0-.5h0m0-1.5h0m-.5 2.5h0m0-.5h0m0-.5h0m-.5 0h0m0-.5h0m0-1h0m-.5 2h0m0-.5h0m0-.5h0m0-.5h0m0-.5h0m-.5 2.5h0m0-2h0m0-.5h0m-.5 2.5h0m0-.5h0m0-1.5h0m-.5 2h0m0-1h0m0-.5h0m0-.5h0m-.5 2h0m0-.5h0m0-1.5h0m0-.5h0m-.5 2.5h0m0-.5h0m0-1h0m0-.5h0m-.5 1.5h0m0-.5h0m0-.5h0m0-.5h0m-.5 2h0m0-.5h0m0-.5h0m0-.5h0m0-1h0m-.5 2h0m0-.5h0m0-1h0m-.5 2h0m0-1h0m0-.5h0m0-.5h0m-.5 1.5h0m0-.5h0m0-.5h0m0-1h0m-.5 2h0m0-.5h0m0-1h0m0-.5h0m-.5 2.5h0m0-.5h0m0-1.5h0m0-.5h0m-.5 1.5h0m0-.5h0m-.5 1h0m0-1.5h0m0-.5h0m-.5 1.5h0m0-.5h0m0-.5h0m0-.5h0m-.5 2h0m0-1h0m-.5 1.5h0m0-1h0m0-.5h0m0-.5h0m-.5 2h0m0-1h0m0-1h0m0-.5h0m-.5 2.5h0m0-.5h0m0-1h0m0-.5h0m0-.5h0m-.5 2.5h0m0-.5h0m0-.5h0m0-1h0m0-.5h0m-.5 1.5h0m0-.5h0m0-1h0m-.5 2.5h0m0-1h0m0-.5h0m-.5 1.5h0m0-.5h0m0-.5h0m0-.5h0m0-.5h0m-.5 2h0m0-2.5h0m-.5 2.5h0m0-1h0m0-.5h0m0-.5h0m0-.5h0m-.5 2.5h0m0-1h0m0-.5h0m0-1h0m-.5 2.5h0m0-.5h0m0-.5h0m0-1h0m0-.5h0m-.5 1h0m0-.5h0m0-.5h0m-.5 2h0m0-.5h0m0-.5h0m0-.5h0m0-.5h0m-.5 2.5h0m0-1.5h0m-.5 .5h0m0-.5h0m0-.5h0m-.5 .5h0m0-1h0m-.5 2h0m0-1h0m0-.5h0m0-.5h0m-.5 1h0m0-1h0m0 3.5h0m.5-.5h0m0 .5h0m0 2h0m.5-2.5h0m0 .5h0m0 .5h0m0 .5h0m.5-1.5h0m0 .5h0m0 .5h0m0 1.5h0m.5-2.5h0m0 .5h0m0 .5h0m0 1.5h0m.5-1h0m0 .5h0m0 .5h0m.5-2.5h0m0 1h0m.5 1h0m.5-2h0m0 .5h0m0 .5h0m0 1h0m0 .5h0m.5-2h0m0 1.5h0m.5-2h0m0 .5h0m0 .5h0m.5-1h0m0 .5h0m0 1h0m0 1h0m.5-2.5h0m0 .5h0m0 1.5h0m.5-2h0m0 .5h0m0 1h0m.5-1.5h0m0 .5h0m0 .5h0m0 .5h0m0 .5h0m.5-2h0m0 .5h0m0 .5h0m0 .5h0m0 .5h0m0 .5h0m.5-2.5h0m0 .5h0m0 2h0m.5-2h0m0 .5h0m0 .5h0m0 .5h0m.5-1.5h0m0 1.5h0m.5-1h0m1-1h0m0 .5h0m0 .5h0m0 1h0m.5-1h0m0 .5h0m0 .5h0m0 .5h0m.5-2.5h0m0 .5h0m0 .5h0m0 1.5h0m.5-1h0m0 .5h0m.5-2h0m0 .5h0m0 1.5h0m.5-1.5h0m0 1h0m0 .5h0m0 .5h0m.5-.5h0m0 .5h0m.5-2h0m0 .5h0m0 .5h0m.5-1.5h0m0 .5h0m0 .5h0m0 .5h0m0 .5h0m0 .5h0m.5-1h0m.5-1.5h0m0 .5h0m0 1.5h0m.5-2h0m0 .5h0m0 2h0m.5-2.5h0m0 .5h0m0 .5h0m.5-.5h0m0 .5h0m.5-1h0m0 .5h0m0 1h0m0 .5h0m0 .5h0m.5-2.5h0m0 .5h0m0 1.5h0m0 .5h0m.5-2.5h0m0 1.5h0m0 .5h0m.5-1.5h0m0 1.5h0m0 .5h0m.5-2.5h0m0 1h0m0 1h0m0 .5h0m.5-2.5h0m0 2h0m0 .5h0m.5-1.5h0m0 .5h0m.5-1h0m0 .5h0m.5-1h0m0 2.5h0m.5-2.5h0m0 1.5h0m0 .5h0m0 .5h0m.5-1.5h0m0 .5h0m.5-1.5h0m0 1h0m0 .5h0m0 .5h0m0 .5h0m.5-2.5h0m0 .5h0m0 .5h0m0 1h0m.5-1.5h0m0 .5h0m0 .5h0m0 1h0m.5-2h0m0 2h0m.5-1h0m0 .5h0m0 .5h0m.5-1h0m0 .5h0m0 2.5h0m0-.5h0m-.5 .5h0m-.5 .5h0m0-1h0m0-.5h0m-.5-.5h0m-.5 2h0m0-.5h0m0-.5h0m0-.5h0m-.5 2h0m0-.5h0m0-.5h0m0-.5h0m0-.5h0m0-.5h0m-.5 1.5h0m0-1h0m0-.5h0m-.5 1h0m0-.5h0m-.5 1.5h0m0-.5h0m0-1h0m0-.5h0m-.5 1h0m-.5 1h0m0-.5h0m-.5 .5h0m0-2h0m-.5 2.5h0m0-2.5h0m-.5 1.5h0m0-1.5h0m-.5 2h0m0-.5h0m-.5 1h0m0-2h0m-.5 1h0m0-1h0m-.5 1h0m0-.5h0m0-.5h0m0-.5h0m-.5 1.5h0m0-.5h0m0-1h0m-.5 1h0m0-1h0m-.5 1.5h0m0-1h0m-.5 1h0m0-1h0m-.5 2h0m0-1.5h0m0-.5h0m-.5 1.5h0m0-.5h0m0-.5h0m0-.5h0m-.5 2h0m0-1h0m0-.5h0m-.5 0h0m-.5 1h0m0-1h0m-.5 1h0m0-1.5h0m0-.5h0m-1 2.5h0m0-2h0m-.5 0h0m-.5 2h0m0-.5h0m0-.5h0m0-.5h0m-.5 0h0m-.5-1h0m-.5 1h0m-.5-.5h0m0-.5h0m-.5 1h0m0-.5h0m0-.5h0m-.5 2.5h0m0-.5h0m-.5-.5h0m0-.5h0m0-.5h0m-.5 .5h0m-.5 1h0m0-1.5h0m-.5 1.5h0m0-.5h0m0-.5h0m0-1h0m-1 1.5h0m0-.5h0m0-.5h0m0-.5h0m-.5 2.5h0m0-1h0m0-.5h0m0-.5h0m0-.5h0m-1.5 2h0m0-1h0m0-.5h0m0-.5h0m-.5 1.5h0m0-.5h0m0-.5h0m-.5 0h0m-.5 1h0m0-.5h0m0-1h0m-.5 .5h0m0 3h0m.5 1h0m.5-.5h0m.5 0h0m0 1.5h0m.5-1.5h0m1-.5h0m.5 0h0m0 .5h0m0 .5h0m0 1h0m.5-2.5h0m0 1h0m.5 .5h0m0 .5h0m.5-1.5h0m.5-.5h0m.5 1h0m.5 .5h0m.5-1h0m0 1h0m0 .5h0m1-2h0m0 1h0m.5-.5h0m.5-.5h0m0 2.5h0m.5-2h0m.5 .5h0m0 .5h0m0 .5h0m1 0h0m0 .5h0m1-2.5h0m0 .5h0m0 1.5h0m0 .5h0m.5-2.5h0m0 2h0m.5-2h0m0 .5h0m0 .5h0m0 1h0m0 .5h0m1-2.5h0m1 0h0m.5 0h0m0 2h0m1.5-.5h0m.5-1.5h0m.5 0h0m0 2h0m.5 0h0m.5 .5h0m1-1h0m.5 1h0m1-1.5h0m0 1h0m.5-1h0m0 1h0m.5-1h0m0 1h0m.5-2h0m0 2h0m.5 .5h0m.5-2h0m0 .5h0m0 1h0m.5 0h0m.5-1.5h0m0 .5h0m-1 4h0m0-.5h0m-5 .5h0m0-.5h0m-1.5-1.5h0m-2 .5h0m-1 1h0m-1.5 1h0m-.5-2h0m-1.5 1h0m-.5-1.5h0m-1.5 2h0m-.5 .5h0m-1-1h0m-1 1h0m0-2.5h0m-2 0h0m-1 2h0m0-1h0m-2 1h0m-.5-2h0m-1 2.5h0m9 .5h0m1.5 0h0m11 3h0m-10.5 3h0" stroke="#0000ff" stroke-width="2.3" stroke-linecap="round" fill="none"/>
<rect x="456.1" y="535.1" width="141.3" height="125.1" fill="none" stroke="#cfcfcf" stroke-width="0.9"/>
<line x1="453.6" y1="637.8" x2="456.1" y2="637.8" stroke="#999" stroke-width="0.8"/>
<text x="452.5" y="643.1" font-size="10.5" text-anchor="end" fill="#111">0</text>
<line x1="453.6" y1="613.2" x2="456.1" y2="613.2" stroke="#999" stroke-width="0.8"/>
<text x="452.5" y="618.5" font-size="10.5" text-anchor="end" fill="#111">1</text>
<line x1="453.6" y1="588.6" x2="456.1" y2="588.6" stroke="#999" stroke-width="0.8"/>
<text x="452.5" y="593.9" font-size="10.5" text-anchor="end" fill="#111">2</text>
<line x1="453.6" y1="564.1" x2="456.1" y2="564.1" stroke="#999" stroke-width="0.8"/>
<text x="452.5" y="569.4" font-size="10.5" text-anchor="end" fill="#111">3</text>
<line x1="453.6" y1="539.5" x2="456.1" y2="539.5" stroke="#999" stroke-width="0.8"/>
<text x="452.5" y="544.8" font-size="10.5" text-anchor="end" fill="#111">4</text>
<line x1="494.6" y1="660.2" x2="494.6" y2="662.9" stroke="#999" stroke-width="0.8"/>
<text x="494.1" y="675.5" font-size="11.6" text-anchor="middle" fill="#111">1-3</text>
<text x="493.6" y="686.3" font-size="11.8" text-anchor="middle" fill="#111">months</text>
<line x1="558.9" y1="660.2" x2="558.9" y2="662.9" stroke="#999" stroke-width="0.8"/>
<text x="558" y="675.5" font-size="11.6" text-anchor="middle" fill="#111">3-4</text>
<text x="556.7" y="686.3" font-size="11.8" text-anchor="middle" fill="#111">years</text>
<path d="M494.6 567.1V562.3H558.9V567.1" stroke="#333" stroke-width="1" fill="none"/>
<text x="527" y="558" font-size="12.2" text-anchor="middle" fill="#111">****p=4.16e−75</text>
<text x="529.4" y="530.1" font-size="14.8" text-anchor="middle" fill="#111">Cytokines</text>
<rect x="122.6" y="733.7" width="141.9" height="125.3" fill="#fff"/>
<line x1="122.6" y1="847.9" x2="264.5" y2="847.9" stroke="#f0f0f0" stroke-width="0.55"/>
<line x1="122.6" y1="803.9" x2="264.5" y2="803.9" stroke="#f0f0f0" stroke-width="0.55"/>
<line x1="122.6" y1="759.9" x2="264.5" y2="759.9" stroke="#f0f0f0" stroke-width="0.55"/>
<line x1="122.6" y1="825.9" x2="264.5" y2="825.9" stroke="#e5e5e5" stroke-width="0.9"/>
<line x1="122.6" y1="781.9" x2="264.5" y2="781.9" stroke="#e5e5e5" stroke-width="0.9"/>
<line x1="122.6" y1="737.9" x2="264.5" y2="737.9" stroke="#e5e5e5" stroke-width="0.9"/>
<line x1="161.3" y1="733.7" x2="161.3" y2="859" stroke="#e5e5e5" stroke-width="0.9"/>
<line x1="225.8" y1="733.7" x2="225.8" y2="859" stroke="#e5e5e5" stroke-width="0.9"/>
<line x1="161.3" y1="786" x2="161.3" y2="813" stroke="#ff0000" stroke-width="1.2"/>
<line x1="161.3" y1="831" x2="161.3" y2="855.7" stroke="#ff0000" stroke-width="1.2"/>
<rect x="137.1" y="813" width="48.4" height="18" fill="none" stroke="#ff0000" stroke-width="1.2"/>
<line x1="137.1" y1="822" x2="185.5" y2="822" stroke="#ff0000" stroke-width="1.6"/>
<path d="M157 773h0m1 0h0m7.5-.5h0m0 3.5h0m-15.5 2h0m23 2h0m-7.5 1.5h0m-1.5 6h0m0 .5h0m1-2h0m-2.5 4.5h0m-.5-1h0m-12.5 .5h0m5.5 4.5h0m3.5-2h0m4-.5h0m0 2h0m6-.5h0m4.5-1h0m.5 5h0m-4.5 0h0m-2.5-2.5h0m-8 2.5h0m-8.5 0h0m0-1.5h0m3.5 4h0m1.5-.5h0m3.5-1h0m3.5-.5h0m1 2.5h0m2.5 0h0m3-2h0m3 .5h0m0 1h0m2-1h0m.5 .5h0m-1.5 3.5h0m-1.5-1h0m-1 1.5h0m-1-.5h0m-4 0h0m-.5-2h0m-1 2h0m0-1h0m-3 .5h0m-2 1h0m-.5-1h0m-.5-.5h0m-2.5 1.5h0m-2-2.5h0m-1 2.5h0m0-.5h0m0-1.5h0m-.5 0h0m0-.5h0m-1 1h0m-.5 0h0m-.5 4h0m.5 .5h0m2.5 0h0m1-1.5h0m.5-.5h0m3-.5h0m0 .5h0m0 .5h0m1.5-1h0m0 1.5h0m1-1.5h0m3.5 2.5h0m.5 0h0m.5-.5h0m.5-2h0m7 .5h0m0 .5h0m.5 .5h0m2 0h0m-.5 4h0m-2-1h0m-2.5-.5h0m-1 .5h0m0-1h0m-.5 1h0m-2 .5h0m-1 .5h0m0-1h0m-.5 1h0m-1-1.5h0m-.5 0h0m-1.5-.5h0m-1.5 2h0m-1-1.5h0m-1.5 1h0m-1.5-1h0m-1 .5h0m-.5-1.5h0m-2 1h0m0-1h0m-.5 1.5h0m-.5 1h0m0-2.5h0m-1 1h0m-.5 .5h0m-.5-.5h0m0-.5h0m0 3.5h0m0 1h0m2.5 .5h0m1-.5h0m1-1h0m.5-.5h0m.5 .5h0m2.5-1h0m.5 1h0m0 1.5h0m1-2h0m0 1h0m0 1h0m.5-1.5h0m.5 1.5h0m.5-1h0m1-.5h0m0 .5h0m.5-1h0m2-.5h0m0 2.5h0m2-2.5h0m0 1.5h0m1-.5h0m1-.5h0m1 0h0m0 1h0m.5-.5h0m1 .5h0m.5-.5h0m0 1h0m1.5-.5h0m.5 0h0m.5-1.5h0m0 2h0m.5-.5h0m0 4h0m-1.5-1.5h0m-2-1h0m-.5 2h0m-.5 .5h0m0-2h0m-1 1.5h0m0-1.5h0m-1-.5h0m-.5 2.5h0m-1 0h0m-.5 0h0m0-.5h0m0-1h0m-2-1h0m-1.5 2.5h0m-1-2h0m-.5 2h0m-2.5-1h0m0-1h0m-.5 0h0m-.5 1h0m0-.5h0m-1.5 1h0m-.5-1.5h0m-1-.5h0m-.5 .5h0m-2.5 1h0m-1 .5h0m0 3h0m.5-1h0m0 1h0m.5 0h0m1.5-2h0m0 1.5h0m1-.5h0m1-.5h0m1 1.5h0m1-2h0m.5 2h0m2-.5h0m0 .5h0m1-2h0m0 1.5h0m2-1.5h0m.5 1h0m.5 0h0m.5 .5h0m.5-1.5h0m0 2.5h0m.5-.5h0m.5 0h0m.5-1h0m0 1h0m0 .5h0m.5-1.5h0m.5-.5h0m.5 0h0m0 .5h0m0 1h0m.5 .5h0m1.5 0h0m.5-2h0m0 1.5h0m.5 0h0m.5-.5h0m1 1h0m.5-2.5h0m0 1.5h0m2-.5h0m.5-.5h0m-.5 3.5h0m-.5 0h0m0-.5h0m-1 1.5h0m-2-2h0m-.5 .5h0m-.5-.5h0m-.5 2.5h0m0-2h0m0-.5h0m-2.5 2.5h0m0-1.5h0m-.5 .5h0m-.5 0h0m-.5 .5h0m0-.5h0m0-1h0m-1 1.5h0m-.5-1.5h0m-1 0h0m0-.5h0m-.5 .5h0m-.5 1h0m-1.5-.5h0m-.5 0h0m0-1h0m-.5 1.5h0m-1 1h0m0-1h0m-.5-1.5h0m-.5 1.5h0m-1.5 0h0m-1 .5h0m-.5-.5h0m0-1h0m-.5 2h0m-.5-2.5h0m-.5 1h0m-.5 1h0m0-2h0m-1 2.5h0m0-1h0m-.5 .5h0m-.5 .5h0m0-2h0m0-.5h0m-.5 2.5h0m0-.5h0m0-1h0m0-1h0m0 3.5h0m0 .5h0m0 1h0m.5-.5h0m.5 0h0m0 .5h0m0 .5h0m1-2.5h0m.5 1h0m2.5 1.5h0m.5-2h0m1.5 0h0m1-.5h0m0 1.5h0m.5 .5h0m1 .5h0m.5-2h0m.5-.5h0m0 .5h0m0 .5h0m1.5 0h0m.5 0h0m.5 1h0m1-2h0m0 .5h0m0 1.5h0m.5-1h0m0 .5h0m1-1.5h0m.5 .5h0m0 1.5h0m1-2h0m0 2h0m.5-1h0m1-.5h0m.5 2h0m.5-2.5h0m1 0h0m2.5 .5h0m0 .5h0m0 1h0m0 .5h0m1.5-.5h0m0 3.5h0m0-2.5h0m-.5 2.5h0m0-2.5h0m-.5 1h0m-1-1h0m-.5 .5h0m-1 2h0m-.5 0h0m0-2.5h0m-.5 1h0m0-.5h0m0-.5h0m-1.5 1h0m-1 1h0m-1-.5h0m0-1h0m-1 1h0m0-1h0m-1-.5h0m-.5 2h0m0-.5h0m0-1h0m0-.5h0m-1 1.5h0m0-1h0m-1 2h0m-.5-2h0m-.5-.5h0m-.5 1h0m-1 1.5h0m-.5-2.5h0m-.5 1h0m0-.5h0m-.5 0h0m-.5 1.5h0m-.5-1.5h0m-.5 1h0m0-1h0m-1 1.5h0m-1.5-1.5h0m0-.5h0m-1 1h0m0-1h0m-.5 1.5h0m-1-1.5h0m-.5 3h0m.5 2h0m.5 0h0m.5-.5h0m.5-.5h0m.5-.5h0m.5 1.5h0m.5-1.5h0m0 .5h0m1 .5h0m.5 .5h0m1-2h0m.5 2.5h0m3.5 0h0m1.5-2h0m1-.5h0m1 0h0m0 1h0m0 1h0m0 .5h0m1-2.5h0m0 1.5h0m.5 .5h0m.5 0h0m.5-1.5h0m1 .5h0m1 1h0m.5 0h0m.5-2h0m0 1.5h0m0 .5h0m1.5 .5h0m.5-2.5h0m0 2.5h0m.5-2.5h0m1.5 0h0m0 1h0m.5-1h0m0 4h0m-1 1.5h0m-.5-2h0m-2 .5h0m-.5 .5h0m-1.5-1.5h0m-1 0h0m-.5 1.5h0m-.5 0h0m-.5 0h0m0-1h0m-1.5 .5h0m-.5-.5h0m-1 1.5h0m-.5-.5h0m-.5 .5h0m-.5 .5h0m-1-2.5h0m-.5 2.5h0m-.5-1.5h0m-.5 1.5h0m-1-2h0m0-.5h0m-1 0h0m-3 2.5h0m0-.5h0m0-1.5h0m-.5 2h0m-1-1.5h0m-.5 1h0m0-1h0m0-1h0m-1 1h0m-.5 1h0m2.5 1h0m1 .5h0m.5-.5h0m2 1h0m.5 .5h0m1.5-1h0m.5 1.5h0m1.5-2h0m0 2.5h0m1-2.5h0m0 1h0m.5 1.5h0m.5-2h0m3 .5h0m0 .5h0m3-1h0m.5 1.5h0m0 .5h0m.5-2h0m0 1.5h0m.5-1.5h0m.5 .5h0m.5 1h0m1-1.5h0m.5-.5h0m1 .5h0m.5 3.5h0m-1 0h0m-.5 1h0m0-.5h0m-1.5-1.5h0m-1 2h0m0-.5h0m-.5-.5h0m0-.5h0m-.5 1.5h0m-1.5 0h0m-.5 0h0m-.5 0h0m-1-1h0m0-.5h0m-.5 .5h0m-.5-.5h0m-.5 1h0m0-.5h0m-1-1h0m-.5 1h0m0-.5h0m-.5 0h0m-1.5 .5h0m0-.5h0m-.5 1.5h0m-3-2h0m-2 .5h0m-.5-.5h0m-.5 1h0m-.5-.5h0m0-.5h0m-2 2h0m-2-2h0m0 3h0m0 1h0m0 1h0m1-2h0m1 2h0m.5-.5h0m2-1h0m1.5 2h0m1-1h0m.5 0h0m1 .5h0m.5-2h0m0 1h0m1-.5h0m1-.5h0m3 .5h0m4 2h0m.5-2h0m2 1.5h0m2-.5h0m2.5 1h0m0 1h0m-3.5 .5h0m-1.5 1h0m-1.5-2h0m-1 0h0m-.5 1.5h0m-5 1h0m0-2h0m-2.5 1.5h0m0-.5h0m-.5-.5h0m0-1h0m-1 2.5h0m-5-1h0m-1.5 0h0m-.5 1.5h0m0 .5h0m2 2h0m.5-2h0m0 .5h0m6.5 0h0m2.5 .5h0m9-.5h0m.5 0h0m2 3h0m-15-1h0m-2 .5h0m-4.5 1.5h0m-1 2.5h0m0 1h0m16.5-1h0m3.5 2h0m-7 0h0m-13.5-.5h0" stroke="#ff0000" stroke-width="2.3" stroke-linecap="round" fill="none"/>
<line x1="225.8" y1="797.4" x2="225.8" y2="819.5" stroke="#0000ff" stroke-width="1.2"/>
<line x1="225.8" y1="834.2" x2="225.8" y2="853.5" stroke="#0000ff" stroke-width="1.2"/>
<rect x="201.6" y="819.5" width="48.4" height="14.7" fill="none" stroke="#0000ff" stroke-width="1.2"/>
<line x1="201.6" y1="826.2" x2="250" y2="826.2" stroke="#0000ff" stroke-width="1.6"/>
<path d="M217.5 784h0m9 0h0m-4 2.5h0m4.5 4h0m.5-.5h0m5 1h0m6 3h0m-4.5 0h0m-15-.5h0m-5 4h0m3.5 0h0m1.5-2h0m1 2h0m3.5 0h0m2.5-2.5h0m1 1.5h0m3 0h0m8 1h0m0 1.5h0m-1-.5h0m-.5 1h0m-1.5 .5h0m-1.5 0h0m-.5-1.5h0m-2.5 2h0m-3-2.5h0m-3 0h0m-2 0h0m-5.5 2.5h0m0-.5h0m-2.5-1h0m0 4h0m1-2h0m1 0h0m0 2.5h0m2-2.5h0m.5 0h0m.5 2h0m1-2h0m0 2.5h0m1-2.5h0m2 0h0m1.5 0h0m.5 1h0m.5-1h0m1.5 .5h0m0 1h0m.5 .5h0m.5-.5h0m.5 .5h0m2-.5h0m.5 0h0m1.5 0h0m1 0h0m1 1h0m2.5 2.5h0m-1-.5h0m-1 .5h0m0-.5h0m0-.5h0m0-1h0m-1 1.5h0m-.5-1h0m-1.5 .5h0m-3.5 1.5h0m-2-1h0m-1.5 0h0m0-.5h0m-1.5 .5h0m-.5 1h0m0-2h0m-.5 0h0m0-.5h0m-.5 2.5h0m0-1.5h0m-1 1.5h0m0-.5h0m-.5-2h0m-1 2.5h0m-.5-2h0m-.5 1.5h0m-.5-2h0m-1.5 2h0m-1.5 .5h0m0-1h0m-2 .5h0m-.5-.5h0m0-1h0m0 4.5h0m0 .5h0m1.5-2.5h0m0 2.5h0m.5-2.5h0m0 2h0m.5-2h0m0 1.5h0m.5-1.5h0m0 .5h0m0 1h0m.5 0h0m.5-.5h0m.5 0h0m0 1.5h0m1-.5h0m.5 0h0m.5-1h0m0 1.5h0m.5-2h0m0 2h0m.5-1h0m1.5 0h0m.5 0h0m0 1h0m.5-2.5h0m0 1h0m.5-1h0m0 2.5h0m.5-2.5h0m0 2h0m.5-1h0m.5 1h0m.5-1.5h0m0 1h0m0 1h0m1-2h0m0 1.5h0m1 .5h0m1-2h0m.5 1.5h0m0 .5h0m.5-2.5h0m0 2.5h0m.5-2h0m.5 0h0m.5 0h0m0 1h0m0 1h0m.5-2h0m0 1.5h0m.5 0h0m.5-.5h0m1 .5h0m0 .5h0m.5-2.5h0m0 1.5h0m.5-.5h0m0 .5h0m.5-1h0m.5 .5h0m.5 0h0m0 1.5h0m1 0h0m.5-2h0m.5 1h0m.5 0h0m0 3.5h0m-.5-1h0m-.5 1h0m-.5-1.5h0m0-.5h0m-.5 2.5h0m0-.5h0m0-1.5h0m-.5 1h0m-.5 1h0m-.5-.5h0m0-1h0m0-.5h0m-.5 0h0m-.5-.5h0m-1 2h0m-.5 .5h0m0-.5h0m-.5-.5h0m-.5 .5h0m0-.5h0m0-1.5h0m-.5 2h0m0-.5h0m-1 1h0m0-1.5h0m0-1h0m-1 2.5h0m0-1.5h0m-.5-.5h0m-.5 2h0m0-2.5h0m-1 0h0m-.5 2.5h0m-.5-.5h0m-.5 .5h0m0-.5h0m0-.5h0m-.5 1h0m0-1h0m-.5-.5h0m-.5 1.5h0m0-.5h0m-.5-.5h0m-.5 0h0m0-.5h0m0-.5h0m0-.5h0m-1 1h0m-.5 1.5h0m-.5 0h0m-.5 0h0m-.5 0h0m-.5 0h0m0-.5h0m0-.5h0m-.5-1.5h0m-.5 2.5h0m0-1h0m-.5 0h0m0-1h0m0-.5h0m-.5 0h0m-1 2h0m0-1h0m-.5-1h0m-.5 0h0m-.5 2.5h0m-.5-2h0m0-.5h0m-.5 1.5h0m0-1.5h0m-.5 2.5h0m-.5-1h0m0 1.5h0m.5 0h0m0 1h0m0 1h0m0 .5h0m.5 0h0m.5-1.5h0m.5-.5h0m0 2h0m.5 0h0m.5-1h0m0 .5h0m.5-2h0m0 .5h0m0 .5h0m0 .5h0m.5-1h0m.5-.5h0m0 1.5h0m0 .5h0m.5-2h0m0 .5h0m0 2h0m.5-2h0m0 .5h0m0 .5h0m.5-1h0m0 1.5h0m.5-1.5h0m0 2h0m.5-2h0m0 1h0m0 .5h0m.5-1h0m0 1h0m.5-1.5h0m0 1h0m0 .5h0m0 .5h0m.5-2h0m0 .5h0m0 1h0m.5 0h0m0 .5h0m.5-2h0m0 1h0m0 1h0m.5-2.5h0m0 .5h0m0 1h0m.5-.5h0m.5 0h0m.5-1h0m0 1.5h0m.5-1.5h0m0 .5h0m0 .5h0m0 .5h0m.5-1h0m.5 .5h0m.5-1h0m0 1h0m0 .5h0m0 .5h0m.5-1h0m0 1h0m.5-2h0m0 .5h0m0 1h0m.5-1.5h0m0 1h0m0 .5h0m0 .5h0m.5-.5h0m.5-1h0m0 .5h0m0 .5h0m0 .5h0m.5-2h0m0 .5h0m0 1.5h0m.5-2h0m0 .5h0m0 .5h0m0 .5h0m0 1h0m.5-1.5h0m0 1h0m.5-1h0m.5 .5h0m0 .5h0m.5-2h0m0 .5h0m0 .5h0m0 1.5h0m.5-2.5h0m0 1.5h0m.5-1.5h0m.5 2h0m.5-1h0m0 1h0m.5-2h0m0 .5h0m0 .5h0m0 .5h0m0 1h0m.5-1.5h0m1-1h0m.5 .5h0m0 1.5h0m.5-1.5h0m0 1h0m0 1h0m.5-2h0m0 .5h0m0 1h0m.5-2h0m0 1h0m0 .5h0m0 .5h0m0 .5h0m.5-2.5h0m0 .5h0m0 1h0m0 .5h0m0 2h0m0-.5h0m-.5 2h0m0-.5h0m0-1.5h0m-.5 .5h0m0-.5h0m0-.5h0m-.5 2h0m0-1h0m0-.5h0m0-.5h0m-.5 2.5h0m0-1h0m0-.5h0m0-.5h0m0-.5h0m-.5 2.5h0m0-.5h0m0-1h0m-.5 0h0m0-.5h0m-.5 2h0m0-1h0m0-1h0m0-.5h0m-.5 2.5h0m0-.5h0m0-.5h0m0-.5h0m0-1h0m-.5 1h0m-.5 1h0m0-1h0m0-1h0m-.5 2.5h0m0-2h0m-.5 1.5h0m0-1.5h0m-.5 1.5h0m0-.5h0m0-1.5h0m-.5 2.5h0m0-1.5h0m0-.5h0m0-.5h0m-.5 2.5h0m0-.5h0m0-.5h0m0-1h0m-.5 2h0m0-1.5h0m0-.5h0m-.5 2h0m0-1h0m-.5 .5h0m0-1.5h0m-.5 1.5h0m0-.5h0m0-.5h0m0-.5h0m0-.5h0m-.5 2.5h0m0-1h0m-.5 0h0m0-.5h0m0-1h0m-.5 2h0m0-.5h0m0-.5h0m0-.5h0m-.5 2h0m0-2h0m0-.5h0m-.5 2.5h0m0-.5h0m0-.5h0m-.5 .5h0m0-.5h0m0-.5h0m0-.5h0m-.5 2h0m0-.5h0m0-1.5h0m0-.5h0m-.5 2.5h0m0-1.5h0m0-1h0m-.5 2.5h0m0-1h0m0-.5h0m0-.5h0m-.5 2h0m0-.5h0m0-2h0m-.5 2h0m0-1.5h0m0-.5h0m-.5 .5h0m-.5 1.5h0m0-1h0m0-1h0m-.5 2h0m0-.5h0m0-.5h0m-.5 .5h0m0-.5h0m0-1h0m-.5 2h0m0-.5h0m0-.5h0m-.5-1h0m-.5 2.5h0m0-2.5h0m-.5 2.5h0m0-.5h0m0-1.5h0m0-.5h0m-.5 2.5h0m0-.5h0m0-2h0m-.5 2.5h0m0-1h0m0-.5h0m0-.5h0m-1 1h0m0-1h0m-.5 1.5h0m0-2h0m-.5 2.5h0m0-1h0m0-1h0m0-.5h0m-.5 1h0m0-1h0m-.5 2h0m0-1.5h0m-.5 1h0m0-.5h0m0-.5h0m0-.5h0m-.5 0h0m-.5 1h0m-.5 1h0m0-1h0m0-.5h0m-.5 1h0m0 2.5h0m0 .5h0m.5-1.5h0m0 1.5h0m0 .5h0m.5-2h0m0 .5h0m0 .5h0m0 .5h0m0 .5h0m0 .5h0m.5-.5h0m.5-2h0m0 .5h0m0 1h0m.5-1.5h0m0 .5h0m0 .5h0m0 1h0m0 .5h0m.5-1.5h0m0 .5h0m0 1h0m.5-.5h0m0 .5h0m.5-1h0m0 1h0m.5-1.5h0m0 1h0m0 .5h0m.5-2h0m0 1h0m0 .5h0m0 .5h0m.5-2h0m0 1.5h0m0 .5h0m.5-2.5h0m0 .5h0m0 1.5h0m0 .5h0m.5-2h0m0 1h0m0 .5h0m0 .5h0m.5-2.5h0m0 1h0m0 .5h0m.5 0h0m.5-1h0m0 .5h0m0 .5h0m0 .5h0m0 .5h0m.5-2.5h0m0 .5h0m0 2h0m.5-1.5h0m0 .5h0m0 .5h0m.5-1h0m0 1.5h0m.5-1h0m0 1h0m.5-2.5h0m0 1h0m0 1.5h0m.5-2.5h0m0 .5h0m0 .5h0m0 1h0m0 .5h0m.5-2h0m0 2h0m.5-2h0m0 1h0m0 1h0m.5-2h0m0 1.5h0m.5-2h0m0 2h0m.5-2h0m0 1h0m0 .5h0m0 .5h0m.5-1h0m0 .5h0m0 1h0m.5-2.5h0m0 .5h0m0 1h0m0 .5h0m.5-1.5h0m0 .5h0m0 1.5h0m.5-2h0m0 1.5h0m0 .5h0m.5-2.5h0m0 .5h0m0 1h0m.5-1h0m0 2h0m.5-2.5h0m0 1h0m.5-1h0m.5 0h0m0 .5h0m0 2h0m.5-2.5h0m0 1h0m0 .5h0m.5-1.5h0m0 .5h0m0 .5h0m0 .5h0m0 .5h0m.5-1.5h0m0 .5h0m0 1h0m0 .5h0m.5-2.5h0m0 1.5h0m0 .5h0m.5-2h0m0 1.5h0m0 1h0m.5-2.5h0m0 .5h0m0 .5h0m0 .5h0m0 .5h0m0 .5h0m.5-2.5h0m0 1.5h0m0 .5h0m0 .5h0m.5-2.5h0m0 .5h0m0 .5h0m0 1.5h0m.5-2.5h0m0 1h0m.5-1h0m0 .5h0m0 .5h0m0 1h0m.5-2h0m0 .5h0m0 .5h0m0 1.5h0m.5-2.5h0m0 1h0m0 .5h0m0 .5h0m.5-2h0m0 2h0m0 .5h0m.5-2.5h0m0 .5h0m0 2h0m.5-2h0m0 .5h0m0 1h0m0 .5h0m0 1.5h0m0-.5h0m-.5 2h0m0-1h0m0-.5h0m-.5 1.5h0m0-.5h0m0-.5h0m0-.5h0m-.5 1.5h0m0-.5h0m0-.5h0m0-.5h0m-.5 1h0m0-2h0m-.5 2.5h0m0-.5h0m0-.5h0m0-.5h0m-.5 1h0m0-1.5h0m-.5 1h0m0-.5h0m0-1h0m-.5 2h0m0-.5h0m0-1h0m-.5 2h0m0-1h0m0-1h0m0-.5h0m-.5 1.5h0m0-.5h0m0-.5h0m-.5 2h0m0-1h0m0-.5h0m0-.5h0m0-.5h0m-.5 2h0m0-1h0m-.5 .5h0m0-.5h0m-.5 1h0m0-1h0m0-.5h0m-.5 2h0m0-.5h0m0-1.5h0m-.5 2h0m0-.5h0m0-1h0m0-1h0m-.5 2h0m0-.5h0m0-1h0m-.5 1.5h0m0-.5h0m-.5 1h0m0-.5h0m0-.5h0m0-.5h0m0-.5h0m0-.5h0m-.5 2.5h0m0-.5h0m0-.5h0m0-.5h0m0-.5h0m-.5 2h0m0-.5h0m0-1h0m0-.5h0m0-.5h0m-.5 2h0m0-2h0m-.5 2h0m0-.5h0m0-1h0m0-.5h0m-.5 0h0m-.5 2.5h0m0-.5h0m0-.5h0m0-.5h0m-.5 1.5h0m0-.5h0m0-.5h0m0-.5h0m-.5 .5h0m0-.5h0m-.5 1.5h0m0-1h0m0-.5h0m-.5 1.5h0m0-1h0m0-1.5h0m-.5 0h0m-.5 2.5h0m0-.5h0m0-.5h0m0-.5h0m0-.5h0m-.5 .5h0m0-.5h0m0-.5h0m-.5 2.5h0m0-.5h0m0-1h0m0-1h0m-.5 2.5h0m0-.5h0m0-.5h0m0-1h0m-.5 2h0m0-.5h0m0-.5h0m0-.5h0m0-.5h0m0-.5h0m-.5 2.5h0m0-1.5h0m0-.5h0m0-.5h0m-.5 2.5h0m0-1h0m0-.5h0m0-.5h0m-.5 1h0m0-.5h0m0-1h0m-.5 2.5h0m0-.5h0m0-.5h0m0-.5h0m0-1h0m-.5 2.5h0m0-.5h0m0-.5h0m0-1h0m-.5-.5h0m-1 2h0m0-.5h0m0-.5h0m-.5 1.5h0m0-.5h0m0-.5h0m0-.5h0m0-.5h0m0-.5h0m-.5 2.5h0m0-.5h0m0-1h0m0-1h0m-.5 2.5h0m0-1h0m0-.5h0m0-.5h0m-.5 1.5h0m0-1h0m0-.5h0m0-.5h0m-.5 2.5h0m0-.5h0m0-.5h0m0-.5h0m-.5 1.5h0m0-1.5h0m0-.5h0m-.5 2h0m0-1.5h0m0-.5h0m0-.5h0m-.5 2.5h0m0-.5h0m0-1h0m0-.5h0m0 3.5h0m.5-1h0m0 .5h0m0 .5h0m0 .5h0m0 1h0m.5-2h0m0 .5h0m0 1h0m0 .5h0m.5-2.5h0m0 1h0m0 .5h0m.5-1.5h0m0 .5h0m0 .5h0m0 1.5h0m.5-2.5h0m0 1.5h0m0 .5h0m.5-2h0m0 .5h0m0 .5h0m0 .5h0m.5-1.5h0m0 .5h0m0 1h0m.5-1.5h0m0 .5h0m0 .5h0m0 1h0m.5-2h0m0 .5h0m0 .5h0m.5-.5h0m0 1h0m0 1h0m.5-2h0m0 .5h0m0 1h0m.5-1.5h0m0 1.5h0m0 .5h0m1-2.5h0m0 .5h0m0 .5h0m0 1h0m0 .5h0m.5-2.5h0m0 1.5h0m0 .5h0m0 .5h0m.5-2h0m0 .5h0m0 .5h0m0 .5h0m.5-1h0m0 1h0m0 .5h0m.5-2h0m0 .5h0m0 1h0m.5-1h0m0 .5h0m0 1h0m.5-2.5h0m0 .5h0m0 .5h0m0 1.5h0m.5-2.5h0m0 1h0m0 .5h0m0 .5h0m.5-1h0m0 1h0m.5-1.5h0m0 2h0m.5-2.5h0m0 1.5h0m0 1h0m.5-2h0m0 1h0m0 .5h0m.5-2h0m0 .5h0m0 .5h0m0 1h0m.5-2h0m0 1h0m0 1.5h0m.5-2.5h0m0 .5h0m0 .5h0m0 .5h0m.5-1h0m0 1h0m.5-1.5h0m0 1.5h0m0 .5h0m0 .5h0m.5-2.5h0m0 1h0m0 .5h0m0 .5h0m0 .5h0m.5-1h0m0 .5h0m0 .5h0m.5-2.5h0m0 .5h0m0 .5h0m0 .5h0m.5 .5h0m0 .5h0m.5-2h0m0 .5h0m0 .5h0m0 1h0m.5-1.5h0m0 .5h0m0 .5h0m.5-2h0m0 1h0m0 1.5h0m.5-2h0m0 1.5h0m.5-1.5h0m0 .5h0m.5-1h0m0 .5h0m0 1h0m.5-1.5h0m0 .5h0m0 1.5h0m0 .5h0m.5-2.5h0m0 .5h0m0 .5h0m.5-1h0m0 .5h0m0 .5h0m0 .5h0m0 1h0m.5-2.5h0m0 .5h0m0 1h0m0 .5h0m.5-2h0m0 .5h0m0 .5h0m0 .5h0m.5-.5h0m0 1h0m0 .5h0m.5-2.5h0m0 1h0m0 .5h0m.5-1.5h0m0 1h0m0 .5h0m0 1h0m.5-2.5h0m0 1h0m0 1h0m0 .5h0m.5-2.5h0m0 1.5h0m0 .5h0m0 .5h0m.5-2.5h0m0 .5h0m0 .5h0m0 1h0m0 3.5h0m-.5 0h0m0-.5h0m0-1h0m0-.5h0m0-.5h0m-.5 2.5h0m0-.5h0m0-.5h0m0-1h0m0-.5h0m-.5 1.5h0m0-.5h0m-.5 1.5h0m0-1.5h0m-.5 1.5h0m0-.5h0m0-1h0m0-1h0m-.5 .5h0m-.5 2h0m-.5-1.5h0m0-.5h0m-.5 1.5h0m0-.5h0m-.5 .5h0m0-1h0m0-.5h0m0-.5h0m-.5 2.5h0m0-1h0m0-1h0m0-.5h0m-.5 2.5h0m0-.5h0m0-2h0m-.5 2.5h0m0-1h0m0-.5h0m0-.5h0m0-.5h0m-.5 2h0m0-.5h0m0-.5h0m0-.5h0m-.5 2h0m0-1.5h0m0-1h0m-.5 2.5h0m0-1.5h0m0-.5h0m-.5 1.5h0m0-.5h0m0-.5h0m-.5-.5h0m0-.5h0m-.5 2.5h0m0-.5h0m0-.5h0m0-1h0m-.5 2h0m0-1h0m0-1.5h0m-.5 2h0m0-1.5h0m0-.5h0m-.5 2.5h0m0-1.5h0m0-.5h0m-.5 2h0m0-.5h0m0-.5h0m-.5 1h0m0-.5h0m0-.5h0m0-1h0m0-.5h0m-.5 2.5h0m0-1h0m0-.5h0m0-.5h0m0-.5h0m-.5 2h0m0-1h0m0-.5h0m0-.5h0m-.5 2h0m0-.5h0m0-.5h0m0-.5h0m0-.5h0m-.5 2h0m0-.5h0m0-.5h0m0-.5h0m-.5 2h0m0-1h0m0-.5h0m0-1h0m-.5 2.5h0m0-.5h0m0-.5h0m0-.5h0m-.5 1.5h0m-.5 0h0m0-.5h0m-.5 0h0m0-.5h0m0-.5h0m0-.5h0m-.5 2h0m0-.5h0m0-.5h0m0-.5h0m0-.5h0m-.5 2h0m0-.5h0m0-.5h0m0-.5h0m0-1h0m-.5 2.5h0m0-2h0m-.5 2h0m0-1.5h0m0-1h0m-.5 1.5h0m0-1.5h0m-.5 2.5h0m0-1h0m0-.5h0m0-.5h0m-.5 1.5h0m0-1h0m-.5 1h0m-.5 0h0m0-1h0m0-1h0m-.5 2.5h0m0-1.5h0m0-1h0m-.5 2.5h0m0-2h0m-.5 2h0m0-.5h0m0-1h0m0-.5h0m0-.5h0m-1 1.5h0m0-1h0m0-.5h0m-.5 2.5h0m0-1h0m0-.5h0m0-1h0m-.5 2.5h0m0-1.5h0m0-.5h0m0-.5h0m-.5 2.5h0m0-.5h0m0-.5h0m0-.5h0m0-.5h0m-.5 1.5h0m0-2h0m0 3h0m0 .5h0m0 1h0m.5-1.5h0m0 .5h0m0 1h0m0 1h0m.5-2h0m.5-.5h0m0 1h0m.5-1h0m0 .5h0m0 .5h0m0 .5h0m0 .5h0m.5-1.5h0m0 .5h0m0 1.5h0m.5-.5h0m.5-1.5h0m0 2h0m.5-2.5h0m0 .5h0m0 .5h0m0 .5h0m0 1h0m.5-1.5h0m0 .5h0m0 .5h0m.5-1.5h0m0 1h0m0 .5h0m0 .5h0m.5-2.5h0m0 1.5h0m.5-1.5h0m0 1h0m0 .5h0m0 1h0m.5-2h0m0 1h0m0 .5h0m.5-2h0m0 1h0m.5 0h0m0 1h0m0 .5h0m.5-1.5h0m.5-1h0m0 .5h0m0 2h0m.5-2h0m0 1h0m1-1.5h0m0 1h0m0 1h0m.5-2h0m0 1h0m0 .5h0m0 1h0m.5-2.5h0m0 .5h0m0 .5h0m0 .5h0m.5-.5h0m0 1.5h0m.5 0h0m.5-2.5h0m0 .5h0m0 .5h0m.5-1h0m0 1h0m.5-1h0m0 .5h0m0 .5h0m0 1h0m0 .5h0m.5-2.5h0m0 .5h0m0 .5h0m0 .5h0m0 1h0m.5-1.5h0m0 1h0m0 .5h0m.5-2.5h0m0 .5h0m.5 0h0m0 .5h0m.5-.5h0m0 .5h0m0 .5h0m0 .5h0m.5-2h0m0 1.5h0m0 1h0m.5-2h0m0 1.5h0m0 .5h0m.5-2h0m0 .5h0m0 1.5h0m.5-2.5h0m0 .5h0m0 1.5h0m0 .5h0m.5-2h0m0 .5h0m0 .5h0m.5-.5h0m0 1h0m0 .5h0m.5-2.5h0m0 1h0m0 .5h0m0 .5h0m0 .5h0m1-2.5h0m0 .5h0m.5-.5h0m0 2h0m.5-2h0m0 1.5h0m0 .5h0m.5-2h0m0 .5h0m0 1.5h0m0 .5h0m.5-2h0m0 1h0m.5-1.5h0m0 .5h0m0 .5h0m0 1h0m.5-2h0m0 .5h0m0 .5h0m0 .5h0m0 1h0m.5-2h0m0 1h0m.5 1h0m.5-2.5h0m0 .5h0m0 2h0m.5-1.5h0m0 .5h0m0 1h0m0 2h0m0-.5h0m0-1h0m-.5 2.5h0m-.5 0h0m-.5-.5h0m0-1h0m0-1h0m-.5 2.5h0m0-1.5h0m0-1h0m-.5 2.5h0m0-1h0m0-1h0m-.5 2h0m0-2h0m0-.5h0m-.5 1.5h0m0-.5h0m0-1h0m-.5 2h0m0-.5h0m0-.5h0m0-1h0m-.5 2.5h0m0-1.5h0m-.5 .5h0m0-.5h0m0-.5h0m0-.5h0m-.5 1.5h0m0-.5h0m0-.5h0m0-.5h0m-.5 2h0m0-1h0m0-.5h0m-.5 2h0m0-.5h0m0-.5h0m0-.5h0m0-.5h0m-.5 1.5h0m0-.5h0m0-.5h0m0-.5h0m0-.5h0m-.5 1.5h0m0-1h0m0-.5h0m-.5 2.5h0m0-1.5h0m0-.5h0m0-.5h0m-.5 2.5h0m0-.5h0m0-1h0m-.5 1h0m0-1h0m0-.5h0m0-.5h0m-.5 2.5h0m-.5-1.5h0m0-.5h0m0-.5h0m-.5 2.5h0m0-1h0m0-1h0m0-.5h0m-.5 2h0m0-.5h0m0-1h0m-.5 2h0m0-1h0m-.5 1h0m0-1.5h0m0-1h0m-.5 2.5h0m0-.5h0m-.5 .5h0m0-.5h0m0-2h0m-.5 .5h0m0-.5h0m-.5 2.5h0m0-.5h0m0-.5h0m0-1h0m-.5 1h0m0-.5h0m0-.5h0m-.5 2h0m0-1h0m0-.5h0m0-.5h0m0-.5h0m-.5 2.5h0m0-1.5h0m0-.5h0m0-.5h0m-.5 .5h0m0-.5h0m-.5 2h0m0-1h0m0-1h0m-.5 2h0m0-.5h0m0-1h0m-.5 0h0m0-.5h0m-.5 1.5h0m0-.5h0m0-.5h0m0-.5h0m-.5 2.5h0m0-.5h0m0-1h0m0-.5h0m0-.5h0m-.5 2.5h0m0-1h0m0-.5h0m0-1h0m-.5 .5h0m-.5 1.5h0m0-1h0m0-.5h0m0-.5h0m-.5 1h0m0-.5h0m0-.5h0m-.5 2.5h0m0-2.5h0m-1 2h0m0-2h0m-.5 1h0m0-1h0m-.5 2h0m0-1h0m0-.5h0m-.5 2h0m0-.5h0m0-.5h0m0-.5h0m0-.5h0m-.5 1.5h0m-.5 0h0m0-1.5h0m-.5 2h0m0-2.5h0m-.5 2h0m0-1h0m0-.5h0m0-.5h0m0 3.5h0m.5-.5h0m0 .5h0m0 .5h0m0 1.5h0m.5-2.5h0m0 1h0m.5-1h0m0 .5h0m0 2h0m.5-1.5h0m0 .5h0m.5-.5h0m.5 .5h0m.5 0h0m.5-1.5h0m0 .5h0m0 1h0m0 .5h0m1 0h0m.5-1.5h0m0 .5h0m0 .5h0m1-1.5h0m0 1h0m0 1.5h0m.5-2.5h0m.5 0h0m0 1h0m.5-.5h0m0 1h0m.5 0h0m0 .5h0m.5-1.5h0m0 1h0m0 .5h0m.5-1.5h0m0 .5h0m0 1h0m0 .5h0m.5-1h0m.5 0h0m.5-1.5h0m0 1.5h0m.5 .5h0m.5-1h0m0 .5h0m0 1h0m.5-1.5h0m0 .5h0m.5-1h0m0 .5h0m0 .5h0m.5 0h0m.5-.5h0m0 .5h0m.5-1h0m0 .5h0m0 .5h0m0 .5h0m0 .5h0m.5-.5h0m.5-2h0m0 1.5h0m0 .5h0m.5-2h0m0 1.5h0m0 .5h0m0 .5h0m.5-1h0m0 1h0m.5 0h0m.5-2h0m.5 2h0m.5-1.5h0m0 .5h0m.5 0h0m0 1h0m.5-2.5h0m0 .5h0m0 .5h0m0 1.5h0m.5-2.5h0m0 .5h0m0 1h0m0 1h0m.5-2.5h0m0 .5h0m.5 0h0m0 2h0m.5-2h0m1.5-.5h0m.5 0h0m0 .5h0m0 .5h0m0 1h0m.5-1.5h0m.5 0h0m.5-.5h0m0 1.5h0m0 .5h0m0 .5h0m.5-2.5h0m0 1h0m0 .5h0m-1 1.5h0m-.5 1h0m0-.5h0m-.5 1h0m0-1h0m0-.5h0m-.5 2.5h0m0-.5h0m0-1h0m-.5 1.5h0m0-1h0m0-.5h0m0-1h0m-.5 2h0m0-2h0m-.5 2h0m0-1h0m-1 1h0m0-1h0m-1 1h0m0-1.5h0m-.5 .5h0m-.5 .5h0m-.5-.5h0m-1.5 .5h0m0-.5h0m-.5 1.5h0m0-1.5h0m0-1h0m-1 2h0m-1-2h0m-1 0h0m-.5 2.5h0m0-.5h0m-.5 .5h0m-.5 0h0m-.5 0h0m0-.5h0m0-1.5h0m-.5 2h0m0-1h0m-.5 1h0m-.5 0h0m0-.5h0m0-1.5h0m0-.5h0m-.5 2.5h0m0-.5h0m0-1.5h0m0-.5h0m-.5 1.5h0m-.5 .5h0m0-.5h0m0-1h0m-.5 2h0m0-1h0m-.5 1h0m-.5 0h0m0-.5h0m-.5-.5h0m0-1.5h0m-.5 2h0m0-1h0m-.5 1h0m-.5-1h0m0-1h0m-.5 1.5h0m0-.5h0m0-1h0m-.5 .5h0m-.5 1.5h0m0-1h0m-.5 .5h0m-.5 1h0m0-2.5h0m-.5 2.5h0m0-.5h0m-.5 0h0m0-.5h0m0-1.5h0m-1 3h0m0 2.5h0m.5-.5h0m.5 .5h0m.5-1.5h0m1-.5h0m.5-.5h0m0 1.5h0m.5-1h0m0 2h0m1-2.5h0m0 2.5h0m.5-2.5h0m.5 1h0m.5-1h0m0 .5h0m.5 1.5h0m.5-1.5h0m0 .5h0m0 .5h0m0 1h0m.5-2.5h0m0 1.5h0m.5-1.5h0m0 .5h0m0 2h0m.5-2.5h0m0 1h0m.5-.5h0m0 1h0m.5-1h0m0 .5h0m.5-1h0m0 .5h0m0 .5h0m0 .5h0m0 .5h0m.5-1h0m0 1.5h0m1-2h0m0 1.5h0m.5-1.5h0m.5 2h0m1.5-2.5h0m.5 1h0m0 1h0m1-1h0m0 1h0m.5-1.5h0m.5 2h0m1-2.5h0m0 2h0m1-2h0m0 1h0m0 .5h0m1-1h0m0 .5h0m.5-.5h0m.5-.5h0m.5 1.5h0m.5 .5h0m0 .5h0m.5-1h0m.5 .5h0m.5 0h0m.5-.5h0m.5 0h0m0 1h0m1-2h0m0 1h0m0 2.5h0m-.5 1h0m-2 .5h0m-1.5-.5h0m-1-.5h0m-.5 0h0m-.5-.5h0m-.5 .5h0m-.5-.5h0m-1 0h0m-1 1h0m0-1h0m-.5-.5h0m-1 1h0m-1 .5h0m-.5-1h0m-1 1h0m0-1.5h0m-.5 0h0m-.5 .5h0m-1 1h0m0-1.5h0m-1 1.5h0m0-1h0m-1 .5h0m-1 1h0m0-1.5h0m-.5 .5h0m-.5 0h0m-.5-.5h0m0-1h0m-.5 2.5h0m0-.5h0m-.5-.5h0m-1 .5h0m0-.5h0m-1 .5h0m0-1.5h0m-1-.5h0m-.5 1h0m0-1h0m-1 .5h0m.5 4h0m.5 1h0m2-1.5h0m.5 .5h0m3.5-.5h0m1 0h0m2.5 1h0m1-1h0m1.5-1h0m.5 0h0m.5 1h0m2-.5h0m1 1.5h0m.5-1h0m1 0h0m.5-.5h0m.5 1h0m2-.5h0m1 1h0m1-2h0m1 .5h0m.5 2h0m-.5 1.5h0m-6-1h0m-.5 .5h0m-3 0h0m-2-.5h0m-1.5 .5h0m0-.5h0m-.5 .5h0m-4 .5h0m-4-.5h0m-.5 .5h0m-1.5-1h0" stroke="#0000ff" stroke-width="2.3" stroke-linecap="round" fill="none"/>
<rect x="122.6" y="733.7" width="141.9" height="125.3" fill="none" stroke="#cfcfcf" stroke-width="0.9"/>
<line x1="120.1" y1="825.9" x2="122.6" y2="825.9" stroke="#999" stroke-width="0.8"/>
<text x="119" y="831.2" font-size="10.5" text-anchor="end" fill="#111">0</text>
<line x1="120.1" y1="781.9" x2="122.6" y2="781.9" stroke="#999" stroke-width="0.8"/>
<text x="119" y="787.2" font-size="10.5" text-anchor="end" fill="#111">1</text>
<line x1="120.1" y1="737.9" x2="122.6" y2="737.9" stroke="#999" stroke-width="0.8"/>
<text x="119" y="743.2" font-size="10.5" text-anchor="end" fill="#111">2</text>
<line x1="161.3" y1="859" x2="161.3" y2="861.7" stroke="#999" stroke-width="0.8"/>
<text x="160.8" y="872.6" font-size="11.6" text-anchor="middle" fill="#111">1-3</text>
<text x="160.3" y="883.5" font-size="11.8" text-anchor="middle" fill="#111">months</text>
<line x1="225.8" y1="859" x2="225.8" y2="861.7" stroke="#999" stroke-width="0.8"/>
<text x="224.9" y="872.6" font-size="11.6" text-anchor="middle" fill="#111">3-4</text>
<text x="223.6" y="883.5" font-size="11.8" text-anchor="middle" fill="#111">years</text>
<path d="M161.3 766.5V761.7H225.8V766.5" stroke="#333" stroke-width="1" fill="none"/>
<text x="193.9" y="757.4" font-size="12.2" text-anchor="middle" fill="#111">****p=3.27e−16</text>
<text x="195.7" y="728.7" font-size="14.8" text-anchor="middle" fill="#111">Integrins</text>
<rect x="298.2" y="733.7" width="132.3" height="125.3" fill="#fff"/>
<line x1="298.2" y1="847" x2="430.5" y2="847" stroke="#f0f0f0" stroke-width="0.55"/>
<line x1="298.2" y1="822.8" x2="430.5" y2="822.8" stroke="#f0f0f0" stroke-width="0.55"/>
<line x1="298.2" y1="798.5" x2="430.5" y2="798.5" stroke="#f0f0f0" stroke-width="0.55"/>
<line x1="298.2" y1="774.3" x2="430.5" y2="774.3" stroke="#f0f0f0" stroke-width="0.55"/>
<line x1="298.2" y1="750" x2="430.5" y2="750" stroke="#f0f0f0" stroke-width="0.55"/>
<line x1="298.2" y1="834.9" x2="430.5" y2="834.9" stroke="#e5e5e5" stroke-width="0.9"/>
<line x1="298.2" y1="810.6" x2="430.5" y2="810.6" stroke="#e5e5e5" stroke-width="0.9"/>
<line x1="298.2" y1="786.4" x2="430.5" y2="786.4" stroke="#e5e5e5" stroke-width="0.9"/>
<line x1="298.2" y1="762.1" x2="430.5" y2="762.1" stroke="#e5e5e5" stroke-width="0.9"/>
<line x1="298.2" y1="737.9" x2="430.5" y2="737.9" stroke="#e5e5e5" stroke-width="0.9"/>
<line x1="334.3" y1="733.7" x2="334.3" y2="859" stroke="#e5e5e5" stroke-width="0.9"/>
<line x1="394.4" y1="733.7" x2="394.4" y2="859" stroke="#e5e5e5" stroke-width="0.9"/>
<line x1="334.3" y1="827.6" x2="334.3" y2="838.1" stroke="#ff0000" stroke-width="1.2"/>
<line x1="334.3" y1="845.1" x2="334.3" y2="854.1" stroke="#ff0000" stroke-width="1.2"/>
<rect x="311.7" y="838.1" width="45.1" height="7" fill="none" stroke="#ff0000" stroke-width="1.2"/>
<line x1="311.7" y1="841.3" x2="356.8" y2="841.3" stroke="#ff0000" stroke-width="1.6"/>
<path d="M332 791h0m0 2.5h0m-1 2.5h0m-5.5 7.5h0m4.5 1h0m-2 4.5h0m-2-1.5h0m-3.5 0h0m9 3.5h0m12.5 1.5h0m.5 1.5h0m-9-.5h0m-5 1.5h0m-3-1h0m8.5 3h0m3.5-.5h0m3.5 3h0m-8 2h0m-3.5-1h0m-3 1h0m-3 0h0m-.5 2.5h0m3.5-.5h0m5 0h0m1.5 1h0m.5-1h0m1 .5h0m3-1h0m2.5-.5h0m4 4.5h0m-1-1h0m-2 1.5h0m0-2.5h0m-5 2.5h0m-1.5 0h0m-1-.5h0m-8-1h0m-4-1h0m-.5 2.5h0m0 .5h0m4 2h0m1.5-1h0m.5 1h0m.5 0h0m.5-.5h0m3-1h0m0 2h0m1.5-.5h0m1 0h0m.5-.5h0m3 .5h0m0 .5h0m2-1h0m2.5-1h0m-.5 4.5h0m0-.5h0m-.5 1h0m-.5-.5h0m-1-.5h0m-.5-1h0m-.5 2h0m0-2.5h0m-.5 2h0m-.5 0h0m0-2h0m-.5 1.5h0m0-1h0m-.5 2h0m-1 0h0m-.5-1h0m-.5-.5h0m-.5 1.5h0m0-2.5h0m-.5 0h0m-.5 1.5h0m0-.5h0m-.5 1.5h0m-2.5 0h0m0-.5h0m-.5-1h0m0-1h0m-.5 2.5h0m0-2h0m-.5 1h0m0-.5h0m-.5-.5h0m-.5 1.5h0m0-1.5h0m-.5 1.5h0m0-1.5h0m-1.5 1h0m-1-1.5h0m-.5 .5h0m-.5 1.5h0m-.5-.5h0m-.5 1h0m-1-1.5h0m-.5 1h0m0 3.5h0m.5-2.5h0m0 .5h0m.5 .5h0m0 1h0m.5-2h0m0 1.5h0m.5-1.5h0m.5 2h0m.5-.5h0m0 1h0m.5-1h0m0 1h0m.5-1.5h0m0 1h0m.5-1h0m0 .5h0m.5-.5h0m0 1h0m.5-1.5h0m0 1.5h0m.5-2h0m0 2h0m.5 .5h0m1-1.5h0m.5-1h0m0 1h0m0 1h0m.5-.5h0m0 .5h0m.5-.5h0m0 1h0m.5-1h0m0 1h0m.5-1.5h0m0 1h0m0 .5h0m.5-.5h0m.5 0h0m0 .5h0m.5 0h0m.5 0h0m.5-.5h0m0 .5h0m.5-2h0m.5 .5h0m0 1.5h0m1-1.5h0m0 1h0m.5-2h0m0 .5h0m.5 0h0m0 1.5h0m.5-.5h0m.5 1h0m.5-2h0m.5 2h0m.5-2h0m0 1h0m0 .5h0m0 .5h0m.5-.5h0m.5-2h0m0 1.5h0m0 .5h0m0 .5h0m.5-2h0m0 1h0m.5-.5h0m0 1h0m0 .5h0m.5-2.5h0m0 1.5h0m0 .5h0m0 .5h0m.5-1.5h0m0 1.5h0m.5-2.5h0m.5 .5h0m.5 1.5h0m.5-1.5h0m.5 0h0m0 5h0m0-1h0m0-1h0m-1 1h0m0-.5h0m-.5 1h0m0-1h0m-.5 0h0m-.5 .5h0m0-.5h0m-.5 .5h0m0-1h0m-.5 2h0m0-.5h0m-.5 .5h0m-.5-1h0m0-.5h0m0-1h0m-.5 1h0m0-.5h0m0-.5h0m-.5 2h0m0-.5h0m0-1.5h0m-.5 2h0m0-1h0m0-.5h0m-.5 2h0m0-1.5h0m0-.5h0m-.5 1.5h0m0-.5h0m0-1h0m-.5 1h0m0-.5h0m-.5 1h0m0-.5h0m-.5 1h0m0-.5h0m0-.5h0m0-1.5h0m-.5 2h0m0-.5h0m0-1h0m0-.5h0m-.5 1.5h0m0-1h0m-.5 2h0m-.5-.5h0m0-1h0m-.5 1.5h0m0-1h0m0-.5h0m0-1h0m-.5 1h0m-.5 1h0m0-1h0m0-1h0m-.5 2.5h0m0-2.5h0m-.5 1.5h0m0-1h0m-.5 2h0m0-1h0m-.5 .5h0m0-.5h0m0-.5h0m0-1h0m-.5 2h0m0-.5h0m0-.5h0m0-1h0m-.5 2.5h0m0-.5h0m0-.5h0m0-.5h0m0-.5h0m-.5 0h0m-.5 1.5h0m0-.5h0m0-.5h0m0-.5h0m0-.5h0m-.5 2h0m0-.5h0m0-.5h0m0-.5h0m-.5 2h0m0-1h0m0-1h0m-.5 1h0m0-.5h0m0-1h0m-.5 2h0m0-1.5h0m-.5 1.5h0m0-2h0m-.5 1.5h0m-.5 0h0m0-.5h0m0-.5h0m-.5 2h0m0-.5h0m0-1h0m0-1h0m-.5 1h0m0-.5h0m0-.5h0m-.5 1.5h0m-.5 0h0m0-1.5h0m-.5 2.5h0m0-1h0m0-1.5h0m-.5 2.5h0m0-1h0m0-1h0m-.5 1.5h0m0-1h0m-.5 1h0m0-1h0m.5 2.5h0m0 1h0m0 1h0m.5-2h0m0 .5h0m.5-1h0m0 .5h0m0 1h0m0 1h0m1-2h0m0 1.5h0m0 .5h0m.5-2.5h0m0 .5h0m0 .5h0m.5 .5h0m0 .5h0m.5-1.5h0m.5 2h0m.5-2.5h0m0 .5h0m0 1h0m.5-1.5h0m0 1h0m0 1h0m.5-2h0m.5 .5h0m.5-.5h0m0 .5h0m0 .5h0m0 1h0m.5-2h0m0 .5h0m0 1h0m0 .5h0m.5-1.5h0m0 1h0m.5 .5h0m.5-2h0m.5 2h0m.5-2h0m0 .5h0m0 .5h0m.5-1h0m0 1.5h0m.5-1.5h0m0 1h0m0 .5h0m0 1h0m.5-2h0m0 .5h0m.5 0h0m0 .5h0m0 .5h0m0 .5h0m.5-2h0m0 1h0m0 .5h0m.5-1.5h0m0 .5h0m0 .5h0m.5-1.5h0m0 1h0m.5-1h0m0 .5h0m0 .5h0m0 .5h0m0 .5h0m0 .5h0m.5-1.5h0m0 1h0m.5-2h0m0 1h0m0 1.5h0m.5-1.5h0m0 .5h0m0 .5h0m.5 .5h0m.5-2.5h0m0 .5h0m0 1h0m0 .5h0m.5-.5h0m0 .5h0m.5-2h0m0 1.5h0m.5-1.5h0m0 1h0m0 1h0m0 .5h0m.5-2.5h0m0 .5h0m0 1h0m.5-1h0m0 1.5h0m.5 0h0m.5-2h0m.5 0h0m0 1h0m.5-.5h0m0 .5h0m0 .5h0m0 .5h0m.5-2h0m0 1.5h0m0 1h0m.5-2.5h0m.5 0h0m0 1.5h0m.5-1h0m0 .5h0m0 1.5h0m.5-2.5h0m0 .5h0m0 .5h0m0 1h0m0 .5h0m0 2.5h0m0-2h0m-.5 1.5h0m0-.5h0m0-1h0m-.5 2h0m0-1.5h0m0-.5h0m-.5 1h0m0-.5h0m-.5 2h0m0-1h0m0-.5h0m-.5 1h0m0-1h0m-.5 0h0m0-1h0m-.5 1.5h0m-.5-1.5h0m-.5 2h0m0-1h0m0-1h0m-.5 1.5h0m0-.5h0m0-1h0m-.5 2.5h0m-.5 0h0m0-1.5h0m0-.5h0m0-.5h0m-.5 1.5h0m0-1.5h0m-.5 2.5h0m0-1h0m0-.5h0m-.5 1.5h0m0-.5h0m0-1h0m-.5 1.5h0m0-1h0m0-1.5h0m-.5 1.5h0m-.5-1h0m-.5 .5h0m0-.5h0m-.5 0h0m-.5 2h0m0-1.5h0m0-.5h0m-.5 2h0m-.5 0h0m0-1.5h0m-.5 1.5h0m0-2h0m-.5 0h0m-.5 1.5h0m0-1h0m-.5 1h0m0-.5h0m0-1h0m-.5 2h0m0-1h0m0-.5h0m-.5-.5h0m-.5 1h0m0-1h0m-.5 .5h0m0-.5h0m-.5 2h0m0-1h0m-.5 0h0m0-1h0m0-.5h0m-.5 2.5h0m0-1h0m-.5-1.5h0m-.5 1.5h0m0-1h0m-1 1.5h0m0-1h0m0-1h0m-.5 2h0m0-2h0m-.5 2.5h0m0-1.5h0m0-.5h0m-.5 1.5h0m0-1h0m0-.5h0m-.5 2h0m0-.5h0m0-1h0m0-.5h0m-.5 1.5h0m0-.5h0m0-.5h0m-.5-1h0m-.5 2.5h0m0-2h0m-.5 .5h0m0-1h0m-.5 1.5h0m0-.5h0m0-1h0m0 5h0m.5-1.5h0m0 .5h0m.5 0h0m0 .5h0m.5-1h0m0 1h0m0 .5h0m1-2h0m0 1h0m0 1h0m1 0h0m0 .5h0m.5-1.5h0m0 1h0m.5-1.5h0m0 .5h0m.5 0h0m0 1h0m.5-1.5h0m.5 .5h0m.5 .5h0m0 1h0m.5-1.5h0m0 .5h0m0 .5h0m0 .5h0m.5 0h0m.5-1h0m0 1h0m.5-2.5h0m0 .5h0m0 1h0m.5-.5h0m0 .5h0m.5-1.5h0m0 .5h0m0 .5h0m0 .5h0m0 .5h0m.5-1.5h0m.5 0h0m0 .5h0m.5-1h0m0 .5h0m.5-.5h0m0 1h0m0 1.5h0m.5-2h0m0 .5h0m0 1h0m0 .5h0m.5 0h0m.5-.5h0m.5-1.5h0m0 .5h0m0 1h0m.5-1h0m0 1h0m.5-2h0m0 1.5h0m.5-1h0m.5-.5h0m0 1h0m1 0h0m0 1.5h0m.5-.5h0m0 .5h0m1-2.5h0m0 .5h0m0 1.5h0m.5-2h0m0 .5h0m0 1.5h0m.5-1.5h0m.5 1h0m0 .5h0m.5-2h0m0 .5h0m0 .5h0m0 .5h0m0 1h0m.5-2h0m0 1h0m.5 0h0m0 1h0m1-2.5h0m0 1h0m.5 0h0m0 .5h0m.5-.5h0m.5-1h0m0 .5h0m.5-.5h0m-.5 3h0m-.5 2h0m-1-1h0m-.5 1h0m0-.5h0m0-1.5h0m-.5 1.5h0m-.5-.5h0m-.5 .5h0m0-1h0m-1.5 0h0m-.5 0h0m-1 .5h0m-.5 .5h0m0-1.5h0m-.5 2h0m0-.5h0m-.5-1h0m0-.5h0m-.5 1h0m-1 .5h0m-1-1.5h0m-.5 .5h0m-1 1.5h0m0-1.5h0m0-.5h0m-.5 1h0m-.5 1.5h0m-1-2h0m0-.5h0m-.5 2.5h0m-.5-2h0m-.5 2h0m-.5-2.5h0m-.5 1h0m0-1h0m-.5 1h0m0-1h0m-.5 0h0m-.5 1.5h0m-.5 1h0m-2-1h0m-1.5-.5h0m0-.5h0m0 3h0m2.5 0h0m.5 1h0m5-1.5h0m1 1h0m0 1h0m.5-1.5h0m.5 1.5h0m.5-1.5h0m0 1h0m2-1.5h0m0 1h0m2 1h0m.5 0h0m.5-2h0m3 0h0m2 .5h0" stroke="#ff0000" stroke-width="2.3" stroke-linecap="round" fill="none"/>
<line x1="394.4" y1="813.9" x2="394.4" y2="829.4" stroke="#0000ff" stroke-width="1.2"/>
<line x1="394.4" y1="839.7" x2="394.4" y2="853.5" stroke="#0000ff" stroke-width="1.2"/>
<rect x="371.9" y="829.4" width="45.1" height="10.3" fill="none" stroke="#0000ff" stroke-width="1.2"/>
<line x1="371.9" y1="835.8" x2="417" y2="835.8" stroke="#0000ff" stroke-width="1.6"/>
<path d="M396 776h0m5.5 0h0m4.5 0h0m-9.5 3h0m-3.5 0h0m-2-1h0m-5 0h0m-3 4.5h0m5-1h0m0 .5h0m1 .5h0m5.5-1.5h0m2.5 .5h0m3 0h0m.5-1.5h0m1 1.5h0m2.5-1.5h0m-4 5h0m-1-1.5h0m-2.5 0h0m-11 0h0m-.5 0h0m-2 4h0m.5 0h0m1.5 .5h0m3-1h0m2-.5h0m4.5-.5h0m3 2h0m1-1h0m2.5 0h0m3.5 .5h0m1.5 3.5h0m-1-1.5h0m-1.5 2h0m0-1h0m-1-.5h0m-2-1h0m-9.5 1.5h0m-5.5-.5h0m-2.5-.5h0m-.5 2.5h0m.5 0h0m.5 .5h0m2 .5h0m5 1.5h0m2.5-1h0m.5-1.5h0m1.5 2.5h0m1-.5h0m0 .5h0m.5-1.5h0m.5 .5h0m2-.5h0m.5-1h0m1 .5h0m3-.5h0m2.5 5.5h0m-.5-1.5h0m-1-.5h0m-3 1h0m-1.5-.5h0m-1 1.5h0m-.5 0h0m-6.5 0h0m-3-1h0m0-.5h0m-2-1h0m-4.5 4h0m4.5 1h0m1-1h0m.5 1h0m.5-1.5h0m2 1h0m.5-1h0m.5 2h0m.5-1h0m2 0h0m1-.5h0m.5 .5h0m5-1.5h0m1 .5h0m1-.5h0m.5 1h0m1 0h0m2 3.5h0m-2.5 .5h0m-.5 .5h0m-3-1.5h0m-1.5 1h0m-2 0h0m0-1h0m-.5-1h0m-1.5 2.5h0m0-2.5h0m-.5 1.5h0m-1-1h0m-.5 1.5h0m-2-1h0m-3 0h0m-.5 1.5h0m0-.5h0m-1 0h0m-1.5 2.5h0m.5 0h0m3-1.5h0m1 2.5h0m.5-2h0m0 1h0m.5 .5h0m2.5-1h0m1.5-1h0m2 2h0m4 0h0m1.5-1.5h0m4 5h0m-.5-.5h0m-.5-1h0m-1 0h0m-.5 .5h0m-.5-1.5h0m-2.5 2h0m-.5 0h0m-6.5-2h0m-1 2.5h0m0-2.5h0m-2 2.5h0m-1.5-1.5h0m-.5 0h0m-.5-.5h0m-1.5 .5h0m-1.5-.5h0m-2-.5h0m-.5 3h0m2.5 2.5h0m.5-2.5h0m0 2.5h0m2.5-1h0m1 0h0m.5-1.5h0m.5 .5h0m3.5 1.5h0m0 .5h0m3.5-2.5h0m0 1h0m0 .5h0m0 .5h0m.5-1h0m2.5 1h0m1-.5h0m.5-1h0m.5 1.5h0m.5 0h0m1.5-1h0m0 1h0m.5 0h0m1 0h0m-1 1h0m-.5 0h0m-1 2.5h0m0-2h0m-1 1h0m-1.5 .5h0m-.5 .5h0m-.5 0h0m0-1.5h0m0-.5h0m-1 1.5h0m0-1h0m-2.5 0h0m-.5 1.5h0m0-1h0m-1.5 0h0m0-1.5h0m-1 .5h0m-1 .5h0m-.5 .5h0m0-.5h0m0-.5h0m-2-.5h0m-.5 0h0m-1.5 1.5h0m-.5 .5h0m0-1h0m0-1h0m-.5 1.5h0m-.5-1.5h0m-.5 1.5h0m-1.5 1h0m0-.5h0m0-.5h0m-1.5 1h0m.5 .5h0m1 0h0m0 1.5h0m.5 .5h0m1-.5h0m1-1.5h0m.5 1.5h0m.5 .5h0m3.5 .5h0m1-2h0m.5 0h0m2 1h0m.5-1.5h0m0 1.5h0m0 1h0m.5-1h0m.5 .5h0m.5 .5h0m1-2h0m1.5-.5h0m.5 1h0m2 1.5h0m1.5-1.5h0m.5 1h0m1.5-1.5h0m.5 1h0m.5 0h0m0 3h0m-.5 .5h0m-1 .5h0m-.5-1.5h0m-.5-.5h0m-.5 1.5h0m0-1h0m-.5 1.5h0m0-2h0m-.5 1h0m-.5-1h0m-.5 2h0m0-1h0m-.5-.5h0m-.5 1.5h0m-1 0h0m-.5-.5h0m0-1h0m-1.5 .5h0m-.5-1.5h0m-.5 2.5h0m-.5 0h0m-.5-1h0m0-1h0m-2.5 2h0m-.5-.5h0m-1 0h0m0-2h0m-.5 1.5h0m-.5 1h0m0-1h0m0-1h0m0-.5h0m-.5 .5h0m-1 .5h0m-1-1h0m-1 0h0m-1 .5h0m-.5 1.5h0m0-2h0m-2 2h0m0-1h0m-.5 4h0m.5-1h0m0 1.5h0m.5-.5h0m.5 0h0m0 .5h0m.5-2.5h0m0 .5h0m0 1.5h0m.5 .5h0m.5-1.5h0m0 .5h0m.5 0h0m.5-1h0m.5 .5h0m0 1h0m.5-1.5h0m0 .5h0m0 1h0m0 .5h0m.5-1.5h0m0 1h0m.5-.5h0m0 1h0m.5-.5h0m.5-1h0m.5 0h0m0 .5h0m0 .5h0m0 .5h0m.5-1h0m.5-.5h0m0 .5h0m0 1h0m1 0h0m.5-1.5h0m.5 .5h0m0 1h0m.5-2h0m.5 1h0m.5 .5h0m.5-2h0m.5 0h0m0 2h0m.5 0h0m.5-1.5h0m.5-.5h0m0 .5h0m0 1h0m0 .5h0m2.5-1.5h0m0 1h0m0 .5h0m.5-1.5h0m0 1h0m.5-1.5h0m.5 0h0m0 1h0m.5-.5h0m0 .5h0m1-1h0m1 .5h0m0 2h0m.5-.5h0m.5-1.5h0m0 2h0m.5-2.5h0m0 2h0m.5-1h0m0 .5h0m.5-.5h0m0 .5h0m0 .5h0m0 .5h0m.5-2h0m0 2h0m-.5 .5h0m-.5 1.5h0m-.5 0h0m0-.5h0m-.5 1.5h0m0-1h0m0-.5h0m0-1h0m-.5 2.5h0m0-1h0m0-1h0m-.5 1.5h0m0-1.5h0m-.5 .5h0m-.5 .5h0m0-1h0m-.5 2h0m0-1.5h0m0-.5h0m-.5 1.5h0m0-1h0m0-.5h0m0-.5h0m-.5 2.5h0m0-1h0m-.5 .5h0m0-1.5h0m-.5 2h0m0-.5h0m0-2h0m-.5 1h0m0-1h0m-.5 1.5h0m0-1.5h0m-1 2.5h0m0-.5h0m0-.5h0m0-1.5h0m-.5 2.5h0m0-2.5h0m-.5 2h0m-.5 0h0m0-1h0m-1-.5h0m-.5 2h0m0-1.5h0m-.5 1.5h0m-.5-.5h0m0-.5h0m-.5 1h0m0-.5h0m0-.5h0m0-.5h0m0-1h0m-.5 2.5h0m0-1h0m0-.5h0m0-1h0m-.5 2h0m0-.5h0m0-.5h0m0-.5h0m-.5 2h0m0-.5h0m0-.5h0m0-.5h0m0-.5h0m-1 2h0m0-1h0m0-1h0m-.5 .5h0m-1 1.5h0m0-1.5h0m0-.5h0m-.5 1.5h0m-.5 .5h0m0-1.5h0m0-.5h0m-.5 1.5h0m-.5 .5h0m0-1h0m-.5 1h0m0-2.5h0m-.5 2.5h0m0-.5h0m0-.5h0m-.5 1h0m0-1.5h0m0-.5h0m-.5 1.5h0m0-.5h0m0-.5h0m0-.5h0m0-.5h0m-.5 1h0m-.5-.5h0m0-.5h0m-.5 .5h0m-.5 .5h0m0-1h0m-.5 2.5h0m0-2.5h0m-.5 5h0m.5-1h0m0 .5h0m.5-.5h0m0 1h0m0 .5h0m.5-2h0m0 .5h0m.5-.5h0m0 1h0m.5-1.5h0m0 .5h0m0 1.5h0m0 .5h0m.5-2.5h0m0 1.5h0m0 1h0m.5-2h0m0 .5h0m0 .5h0m0 .5h0m0 .5h0m.5-2h0m0 2h0m.5-2.5h0m0 1.5h0m.5-1.5h0m0 .5h0m0 .5h0m0 .5h0m0 .5h0m.5-1h0m0 1h0m.5-2h0m0 1h0m0 .5h0m0 .5h0m0 .5h0m.5-2h0m0 .5h0m0 1h0m0 .5h0m.5-2.5h0m0 2.5h0m.5-2.5h0m0 1h0m.5 0h0m0 .5h0m0 .5h0m.5-2h0m0 .5h0m0 .5h0m0 .5h0m0 1h0m.5-2.5h0m0 .5h0m0 .5h0m0 1.5h0m.5-2h0m0 .5h0m0 1h0m0 .5h0m.5-2h0m0 1h0m0 .5h0m0 .5h0m.5 0h0m.5 0h0m.5-2.5h0m0 .5h0m0 .5h0m0 .5h0m0 1h0m.5-2.5h0m0 1.5h0m0 .5h0m.5-2h0m0 2.5h0m.5-2.5h0m0 1.5h0m0 .5h0m.5-1.5h0m0 .5h0m0 1.5h0m.5-1h0m0 .5h0m0 .5h0m.5-2h0m0 .5h0m0 .5h0m0 .5h0m0 .5h0m.5-2h0m0 2h0m.5-2.5h0m0 .5h0m0 2h0m.5-2.5h0m0 .5h0m0 1.5h0m0 .5h0m.5-1.5h0m0 .5h0m.5-1h0m0 .5h0m0 1h0m.5-2h0m0 .5h0m0 .5h0m0 1h0m0 .5h0m.5-2.5h0m0 2h0m.5-2h0m0 1.5h0m0 1h0m.5-1h0m.5-1.5h0m0 1h0m0 .5h0m0 .5h0m0 .5h0m.5-2.5h0m0 2h0m0 .5h0m.5-1.5h0m0 .5h0m0 .5h0m0 .5h0m.5-1.5h0m0 .5h0m0 1h0m.5-2h0m0 .5h0m0 .5h0m0 1h0m.5-2.5h0m0 1h0m.5 1.5h0m.5-2.5h0m0 .5h0m0 .5h0m0 1.5h0m.5-2.5h0m0 .5h0m0 1.5h0m.5-1.5h0m0 .5h0m0 1.5h0m0 3h0m-.5-1h0m0-.5h0m-.5 1.5h0m0-1h0m0-1h0m0-.5h0m-.5 2.5h0m0-1h0m0-.5h0m0-.5h0m0-.5h0m-.5 1.5h0m0-.5h0m0-1h0m-.5 2.5h0m0-.5h0m0-.5h0m0-.5h0m-.5 1.5h0m0-1.5h0m-.5 .5h0m0-1h0m0-.5h0m-.5 2h0m0-.5h0m0-.5h0m0-1h0m-.5 2h0m0-.5h0m0-.5h0m-.5 1.5h0m0-1.5h0m0-.5h0m0-.5h0m-.5 2h0m0-2h0m-.5 2.5h0m0-1.5h0m0-1h0m-.5 2.5h0m0-1.5h0m-.5 1.5h0m0-.5h0m0-.5h0m0-.5h0m0-.5h0m0-.5h0m-.5 1h0m0-.5h0m0-.5h0m-.5 2.5h0m0-.5h0m0-1h0m0-.5h0m0-.5h0m-.5 2.5h0m0-1.5h0m-.5 0h0m-.5 1h0m0-.5h0m0-.5h0m-.5 .5h0m0-1.5h0m-.5 2h0m0-.5h0m0-1.5h0m-.5 1.5h0m0-.5h0m0-1h0m-.5 1h0m0-1h0m-.5 2.5h0m0-.5h0m0-.5h0m0-.5h0m0-1h0m-.5 2.5h0m0-1h0m0-1.5h0m-.5 2.5h0m0-.5h0m0-1.5h0m0-.5h0m-.5 2.5h0m0-.5h0m0-1.5h0m-.5 1h0m0-1h0m0-.5h0m-.5 2.5h0m0-1h0m0-.5h0m0-.5h0m0-.5h0m-.5 2h0m0-.5h0m0-.5h0m-.5 1.5h0m0-1h0m0-1h0m0-.5h0m-.5 1.5h0m0-1h0m0-.5h0m-.5 2.5h0m0-.5h0m0-1h0m-.5 1.5h0m0-.5h0m0-.5h0m0-1h0m0-.5h0m-.5 2.5h0m0-.5h0m0-1h0m0-.5h0m0-.5h0m-.5 2h0m0-1h0m0-.5h0m0-.5h0m-.5 2h0m0-.5h0m0-.5h0m0-1h0m-.5 1.5h0m-.5 1h0m0-1.5h0m-.5 1.5h0m0-.5h0m0-.5h0m0-1h0m0-.5h0m-.5 2.5h0m0-.5h0m0-.5h0m0-.5h0m0-.5h0m0-.5h0m-.5 2.5h0m0-.5h0m0-.5h0m0-1.5h0m-.5 2.5h0m0-.5h0m0-1.5h0m0-.5h0m-.5 2h0m0-2h0m-.5 2.5h0m0-.5h0m0-.5h0m0-.5h0m0-1h0m-.5 2h0m0-.5h0m0-1h0m-.5 1h0m0-.5h0m0-.5h0m-.5 2h0m0-1h0m0-1.5h0m0 3h0m0 .5h0m0 1h0m0 1h0m.5-2.5h0m0 1h0m0 1h0m0 .5h0m.5-2.5h0m0 .5h0m0 .5h0m0 1h0m.5-2h0m0 .5h0m0 1h0m0 .5h0m.5-1.5h0m0 .5h0m0 .5h0m0 .5h0m.5-2h0m0 .5h0m0 .5h0m0 .5h0m0 .5h0m0 .5h0m.5-2.5h0m0 .5h0m0 .5h0m0 .5h0m0 .5h0m0 .5h0m.5-1.5h0m0 .5h0m0 .5h0m.5-2h0m0 .5h0m0 1h0m.5-1.5h0m0 .5h0m0 1h0m0 1h0m.5-2.5h0m0 .5h0m0 1h0m0 .5h0m.5-2h0m0 .5h0m0 1h0m0 .5h0m.5-1h0m0 1h0m0 .5h0m.5-2.5h0m0 1h0m0 .5h0m0 .5h0m0 .5h0m.5-2.5h0m0 .5h0m0 .5h0m0 .5h0m0 .5h0m.5-2h0m0 1h0m0 1h0m.5-2h0m0 .5h0m0 .5h0m0 .5h0m0 .5h0m0 .5h0m.5-2.5h0m0 .5h0m0 .5h0m0 1h0m0 .5h0m.5-2h0m0 .5h0m0 .5h0m0 .5h0m0 .5h0m.5-2h0m0 1h0m0 .5h0m0 .5h0m.5-2.5h0m0 .5h0m0 .5h0m0 .5h0m0 1h0m.5-.5h0m.5-1.5h0m0 .5h0m0 .5h0m0 1h0m.5-1.5h0m0 .5h0m0 .5h0m0 .5h0m.5-2.5h0m0 .5h0m0 .5h0m0 .5h0m0 1h0m.5-2h0m0 .5h0m0 .5h0m0 .5h0m.5-1h0m0 .5h0m0 .5h0m0 .5h0m.5-2.5h0m0 .5h0m0 .5h0m0 1h0m.5-2h0m0 .5h0m0 .5h0m0 .5h0m0 .5h0m0 .5h0m.5-1.5h0m0 .5h0m0 1h0m.5-1h0m0 .5h0m.5-2h0m0 .5h0m0 .5h0m0 .5h0m0 .5h0m0 .5h0m.5-2.5h0m0 .5h0m0 .5h0m0 .5h0m0 1h0m.5-2.5h0m0 .5h0m0 1.5h0m.5-2h0m0 1.5h0m.5-1.5h0m0 1.5h0m0 .5h0m.5-1.5h0m0 .5h0m0 1h0m0 .5h0m.5-2.5h0m0 1.5h0m0 1h0m.5-2.5h0m0 .5h0m0 1h0m0 1h0m.5-2.5h0m0 .5h0m0 .5h0m0 1.5h0m.5-2h0m0 1h0m0 .5h0m0 .5h0m.5-2.5h0m0 .5h0m0 .5h0m0 1h0m0 .5h0m.5-2.5h0m0 1h0m0 .5h0m0 .5h0m0 .5h0m.5-2h0m0 .5h0m0 .5h0m0 .5h0m0 .5h0m.5-2.5h0m0 .5h0m0 1h0m0 .5h0m.5-2h0m0 1h0m0 .5h0m0 .5h0m.5-2h0m0 .5h0m.5 0h0m0 .5h0m0 1h0m0 .5h0m.5 0h0m-.5 3h0m0-1h0m0-.5h0m0-.5h0m-.5 2h0m0-.5h0m0-1h0m0-.5h0m-.5 2h0m0-.5h0m0-2h0m-.5 2.5h0m0-.5h0m0-1h0m0-.5h0m0-.5h0m-.5 2.5h0m0-1h0m0-1h0m0-.5h0m-.5 2.5h0m0-1h0m-.5 .5h0m0-1h0m0-.5h0m0-.5h0m-.5 2.5h0m0-.5h0m0-.5h0m0-.5h0m0-.5h0m-.5 1.5h0m0-1.5h0m-.5 1.5h0m0-.5h0m0-.5h0m0-1h0m-.5 1h0m0-.5h0m-.5 2h0m0-1.5h0m0-.5h0m0-.5h0m-.5 2h0m0-.5h0m0-.5h0m0-.5h0m-.5 1.5h0m0-.5h0m0-.5h0m0-.5h0m0-.5h0m-.5 2.5h0m0-.5h0m0-.5h0m0-.5h0m0-.5h0m-.5 1.5h0m0-.5h0m0-.5h0m-.5 1h0m0-.5h0m0-.5h0m-.5 1.5h0m0-1.5h0m0-.5h0m0-.5h0m-.5 1.5h0m0-.5h0m0-1h0m-.5 2.5h0m0-.5h0m0-.5h0m0-1h0m0-.5h0m-.5 2.5h0m0-1h0m0-.5h0m0-.5h0m0-.5h0m-.5 2h0m0-.5h0m0-.5h0m-.5 1.5h0m0-1h0m0-1h0m0-.5h0m-.5 2h0m-.5 .5h0m0-1h0m0-1h0m0-.5h0m-.5 2h0m0-1h0m0-.5h0m0-.5h0m-.5 2.5h0m0-.5h0m0-1h0m0-.5h0m0-.5h0m-.5 2.5h0m0-.5h0m0-1h0m0-1h0m-.5 2h0m0-1h0m0-1h0m-.5 2.5h0m0-.5h0m0-.5h0m0-.5h0m-.5 1h0m0-.5h0m0-.5h0m0-.5h0m0-.5h0m-.5 2.5h0m0-.5h0m0-.5h0m0-.5h0m0-.5h0m0-.5h0m-.5 1h0m0-.5h0m0-.5h0m-.5 2h0m0-.5h0m0-.5h0m-.5 1.5h0m0-.5h0m0-.5h0m0-1h0m0-.5h0m-.5 2.5h0m0-1h0m0-.5h0m-.5 .5h0m0-.5h0m0-1h0m-.5 2h0m0-1h0m0-1h0m-.5 2.5h0m0-.5h0m0-.5h0m0-1h0m0-.5h0m-.5 2.5h0m0-.5h0m0-.5h0m0-.5h0m0-.5h0m0-.5h0m-.5 .5h0m0-.5h0m-.5 2h0m0-.5h0m0-.5h0m0-.5h0m0-.5h0m-.5 2.5h0m0-.5h0m0-.5h0m0-.5h0m-.5 1.5h0m0-1h0m0-.5h0m-.5 1h0m0-.5h0m0-1h0m-.5 2h0m0-1.5h0m0-1h0m-.5 1.5h0m0-.5h0m0-.5h0m-.5 1.5h0m0-1h0m0-.5h0m0-.5h0m0 3h0m0 1.5h0m.5-1h0m0 1h0m.5 1h0m.5-2.5h0m0 1h0m0 1h0m0 .5h0m.5-2.5h0m0 1h0m.5 .5h0m0 .5h0m0 .5h0m.5-2h0m0 .5h0m.5-.5h0m0 .5h0m0 .5h0m0 1h0m.5-2h0m0 1.5h0m.5-2h0m0 .5h0m0 1.5h0m.5-2h0m0 1h0m0 .5h0m.5-1.5h0m.5 .5h0m0 .5h0m0 .5h0m0 1h0m.5-1.5h0m0 .5h0m0 .5h0m0 .5h0m.5-2h0m0 1h0m0 .5h0m0 .5h0m.5-2.5h0m0 1h0m0 .5h0m0 .5h0m.5-2h0m0 1h0m0 1h0m0 .5h0m.5-2h0m0 .5h0m0 1h0m0 .5h0m.5-1.5h0m.5-1h0m0 .5h0m.5 0h0m0 .5h0m0 .5h0m0 1h0m.5-1h0m0 1h0m.5-2.5h0m0 1h0m0 1h0m0 .5h0m.5-2h0m0 .5h0m0 .5h0m0 .5h0m0 .5h0m.5-2.5h0m0 .5h0m0 .5h0m0 .5h0m0 .5h0m.5-1.5h0m0 .5h0m0 1h0m.5-1.5h0m0 .5h0m0 1h0m0 .5h0m.5-2h0m0 .5h0m0 .5h0m0 .5h0m0 .5h0m.5-2.5h0m0 .5h0m0 .5h0m0 .5h0m0 1h0m.5-2.5h0m.5 0h0m0 1.5h0m0 .5h0m0 .5h0m.5-2.5h0m.5 0h0m0 1h0m0 1h0m0 .5h0m.5-2h0m0 1h0m0 .5h0m0 .5h0m.5-2.5h0m0 .5h0m0 .5h0m0 1h0m0 .5h0m.5-2.5h0m0 .5h0m0 .5h0m.5-.5h0m0 1h0m0 .5h0m0 .5h0m.5-2.5h0m0 .5h0m0 1.5h0m0 .5h0m.5-2.5h0m0 1.5h0m0 .5h0m.5-2h0m0 .5h0m0 1h0m0 .5h0m0 .5h0m.5-2h0m0 .5h0m0 .5h0m0 1h0m.5-2.5h0m0 .5h0m0 .5h0m0 .5h0m0 .5h0m0 .5h0m.5-2h0m0 .5h0m0 .5h0m0 1h0m.5-2.5h0m0 .5h0m.5-.5h0m0 .5h0m0 1h0m0 .5h0m0 .5h0m.5-2h0m0 1.5h0m.5-1.5h0m0 1h0m0 .5h0m0 .5h0m.5-2.5h0m0 .5h0m0 1h0m.5-1.5h0m0 .5h0m0 .5h0m0 1.5h0m0 1.5h0m0-1h0m-1 1h0m-.5 .5h0m-.5-.5h0m0-1h0m-.5 2.5h0m0-1.5h0m0-.5h0m0-.5h0m-.5 2h0m0-.5h0m0-1h0m0-.5h0m-.5 1h0m-.5 .5h0m-.5 .5h0m0-.5h0m-.5 1h0m-1 0h0m0-1h0m0-1h0m-.5 2h0m0-1h0m0-.5h0m-.5 0h0m-.5 0h0m0-.5h0m-.5 1.5h0m-.5-.5h0m0-.5h0m0-.5h0m0-.5h0m-.5 1h0m-.5 1h0m0-1h0m-.5 1.5h0m0-1h0m-.5 1h0m0-1.5h0m0-.5h0m0-.5h0m-.5 1.5h0m0-.5h0m0-.5h0m-.5 2h0m0-.5h0m-.5 .5h0m0-1.5h0m0-.5h0m0-.5h0m-.5 2.5h0m0-.5h0m0-.5h0m0-.5h0m-.5 1.5h0m0-1h0m0-1.5h0m-.5 2.5h0m0-.5h0m0-.5h0m0-.5h0m-.5-.5h0m0-.5h0m-.5 0h0m-.5 2h0m0-.5h0m0-1h0m-.5 2h0m0-1.5h0m0-.5h0m0-.5h0m-.5 1h0m0-1h0m-.5 2.5h0m0-1.5h0m0-.5h0m-.5 1.5h0m0-.5h0m0-.5h0m0-.5h0m0-.5h0m-.5 1.5h0m0-.5h0m0-1h0m-.5 .5h0m0-.5h0m-.5 2.5h0m0-.5h0m0-1.5h0m-.5 1.5h0m0-1.5h0m-.5 1.5h0m0-.5h0m0-.5h0m0-.5h0m0-.5h0m-.5 2h0m0-1.5h0m-.5 1.5h0m0-.5h0m-1 .5h0m0-2h0m-.5 2h0m0-.5h0m-.5 .5h0m0-1.5h0m-.5 2h0m0-2.5h0m-.5 1h0m0-.5h0m-.5-.5h0m.5 4h0m0 1h0m.5 0h0m.5-1.5h0m0 1h0m0 .5h0m1.5-1.5h0m0 .5h0m.5 0h0m0 1h0m0 .5h0m.5-2.5h0m1 1h0m.5-1h0m0 .5h0m0 2h0m.5-2.5h0m0 .5h0m0 .5h0m.5 .5h0m.5-.5h0m0 .5h0m0 .5h0m.5-1.5h0m0 .5h0m.5 0h0m1-.5h0m.5 2h0m.5-2h0m0 1h0m0 .5h0m.5-1.5h0m0 .5h0m0 .5h0m.5-1.5h0m0 1.5h0m.5 1h0m.5-2h0m0 .5h0m0 .5h0m0 .5h0m.5-.5h0m1-.5h0m.5-1h0m0 1.5h0m.5-.5h0m.5 0h0m0 1.5h0m.5-2.5h0m0 2.5h0m.5-1.5h0m.5 0h0m.5 0h0m.5 0h0m.5 0h0m.5-.5h0m1 .5h0m.5-1h0m0 .5h0m0 1h0m.5 0h0m0 1h0m1.5-2h0m0 1.5h0m.5-1h0m.5-1h0m0 .5h0m0 1.5h0m.5-.5h0m.5-.5h0m-1.5 4h0m-2.5-1h0m-1.5 1h0m-.5-1.5h0m-.5 1h0m0-1.5h0m-1 1h0m-.5 0h0m-1 .5h0m-.5 1h0m-.5-2.5h0m-1.5 .5h0m-1 0h0m-1.5 .5h0m-1-1h0m-.5 2h0m-1-1h0m-1 1h0m0-2h0m-4 1h0m-1-1h0m-.5 1.5h0m-1-1.5h0m0 4h0m2.5-.5h0m2-.5h0m9.5 .5h0m0 1h0m2-1h0m.5 1h0m3.5 0h0m1-1.5h0" stroke="#0000ff" stroke-width="2.3" stroke-linecap="round" fill="none"/>
<rect x="298.2" y="733.7" width="132.3" height="125.3" fill="none" stroke="#cfcfcf" stroke-width="0.9"/>
<line x1="295.7" y1="859.1" x2="298.2" y2="859.1" stroke="#999" stroke-width="0.8"/>
<text x="294.6" y="864.4" font-size="10.5" text-anchor="end" fill="#111">−2</text>
<line x1="295.7" y1="834.9" x2="298.2" y2="834.9" stroke="#999" stroke-width="0.8"/>
<text x="294.6" y="840.2" font-size="10.5" text-anchor="end" fill="#111">0</text>
<line x1="295.7" y1="810.6" x2="298.2" y2="810.6" stroke="#999" stroke-width="0.8"/>
<text x="294.6" y="815.9" font-size="10.5" text-anchor="end" fill="#111">2</text>
<line x1="295.7" y1="786.4" x2="298.2" y2="786.4" stroke="#999" stroke-width="0.8"/>
<text x="294.6" y="791.7" font-size="10.5" text-anchor="end" fill="#111">4</text>
<line x1="295.7" y1="762.1" x2="298.2" y2="762.1" stroke="#999" stroke-width="0.8"/>
<text x="294.6" y="767.4" font-size="10.5" text-anchor="end" fill="#111">6</text>
<line x1="295.7" y1="737.9" x2="298.2" y2="737.9" stroke="#999" stroke-width="0.8"/>
<text x="294.6" y="743.2" font-size="10.5" text-anchor="end" fill="#111">8</text>
<line x1="334.3" y1="859" x2="334.3" y2="861.7" stroke="#999" stroke-width="0.8"/>
<text x="333.8" y="872.6" font-size="11.6" text-anchor="middle" fill="#111">1-3</text>
<text x="333.3" y="883.5" font-size="11.8" text-anchor="middle" fill="#111">months</text>
<line x1="394.4" y1="859" x2="394.4" y2="861.7" stroke="#999" stroke-width="0.8"/>
<text x="393.5" y="872.6" font-size="11.6" text-anchor="middle" fill="#111">3-4</text>
<text x="392.2" y="883.5" font-size="11.8" text-anchor="middle" fill="#111">years</text>
<path d="M334.3 765.8V761H394.4V765.8" stroke="#333" stroke-width="1" fill="none"/>
<text x="364.7" y="756.7" font-size="12.2" text-anchor="middle" fill="#111">****p=9.23e−108</text>
<text x="365.2" y="728.7" font-size="14.8" text-anchor="middle" fill="#111">CTLs</text>
<rect x="465" y="733.7" width="132.4" height="125.3" fill="#fff"/>
<line x1="465" y1="833.9" x2="597.4" y2="833.9" stroke="#f0f0f0" stroke-width="0.55"/>
<line x1="465" y1="810.6" x2="597.4" y2="810.6" stroke="#f0f0f0" stroke-width="0.55"/>
<line x1="465" y1="787.2" x2="597.4" y2="787.2" stroke="#f0f0f0" stroke-width="0.55"/>
<line x1="465" y1="763.9" x2="597.4" y2="763.9" stroke="#f0f0f0" stroke-width="0.55"/>
<line x1="465" y1="845.5" x2="597.4" y2="845.5" stroke="#e5e5e5" stroke-width="0.9"/>
<line x1="465" y1="822.2" x2="597.4" y2="822.2" stroke="#e5e5e5" stroke-width="0.9"/>
<line x1="465" y1="798.9" x2="597.4" y2="798.9" stroke="#e5e5e5" stroke-width="0.9"/>
<line x1="465" y1="775.6" x2="597.4" y2="775.6" stroke="#e5e5e5" stroke-width="0.9"/>
<line x1="465" y1="752.3" x2="597.4" y2="752.3" stroke="#e5e5e5" stroke-width="0.9"/>
<line x1="501.1" y1="733.7" x2="501.1" y2="859" stroke="#e5e5e5" stroke-width="0.9"/>
<line x1="561.3" y1="733.7" x2="561.3" y2="859" stroke="#e5e5e5" stroke-width="0.9"/>
<line x1="501.1" y1="773.2" x2="501.1" y2="800.2" stroke="#ff0000" stroke-width="1.2"/>
<line x1="501.1" y1="818.2" x2="501.1" y2="838" stroke="#ff0000" stroke-width="1.2"/>
<rect x="478.5" y="800.2" width="45.1" height="18" fill="none" stroke="#ff0000" stroke-width="1.2"/>
<line x1="478.5" y1="807.6" x2="523.7" y2="807.6" stroke="#ff0000" stroke-width="1.6"/>
<path d="M489.5 764h0m2 0h0m17 6.5h0m-18.5 .5h0m9.5 1h0m1.5 3h0m6.5 3.5h0m3-.5h0m1 .5h0m.5 3.5h0m-4 .5h0m-1.5-1h0m-1.5 0h0m-1.5 1h0m-2-2h0m-3 1h0m-3-1h0m-3.5-.5h0m-.5 2h0m-.5-2h0m-.5 2.5h0m.5 2h0m0 1h0m7.5-2.5h0m5 1h0m2 1h0m4.5 .5h0m1.5-1h0m.5 1.5h0m-.5 2.5h0m0-2.5h0m-2 1h0m-.5-.5h0m-.5 1h0m-2 1h0m-1-2h0m-1 .5h0m-5-1h0m-2 1.5h0m-1-.5h0m-2.5 .5h0m-1 1h0m-1-1h0m-2.5 .5h0m0-.5h0m-.5 2h0m2 0h0m0 1h0m.5 0h0m1-1h0m4.5 2h0m.5-2.5h0m2 1.5h0m3 .5h0m0 .5h0m1-2.5h0m0 1.5h0m.5 .5h0m0 .5h0m1.5-1h0m1-1.5h0m1 1h0m.5-1h0m0 1.5h0m2 0h0m2 .5h0m1-1.5h0m0 5h0m0-.5h0m0-1h0m-.5 1h0m-.5 0h0m-1.5-1.5h0m-1 2h0m0-2h0m-1 1h0m-.5 .5h0m-1.5-2h0m-.5 2.5h0m-.5-.5h0m-.5-1h0m-.5 1.5h0m0-1.5h0m-.5 1h0m-1 0h0m-1-1h0m-.5 .5h0m-.5-1h0m-1 1h0m-.5-.5h0m-.5 .5h0m-.5-.5h0m0-.5h0m-.5 1h0m-1-.5h0m-.5 1.5h0m-.5 0h0m-1.5-.5h0m0-2h0m-1.5 2h0m-1 0h0m-1 .5h0m0-.5h0m0-1.5h0m0-.5h0m-.5 1.5h0m-.5-1.5h0m-.5 2h0m0-1.5h0m-.5 5h0m1-2h0m0 1.5h0m.5-1.5h0m.5 .5h0m0 1.5h0m2-.5h0m1 .5h0m.5-1.5h0m0 1h0m.5-1h0m0 1.5h0m.5-.5h0m0 .5h0m.5-.5h0m1-1.5h0m.5 1h0m.5 1h0m.5-2.5h0m1 1h0m.5 1.5h0m.5-2.5h0m0 1h0m.5 .5h0m0 .5h0m.5-1.5h0m0 .5h0m0 1.5h0m.5-2.5h0m0 1.5h0m0 1h0m.5-2h0m0 1.5h0m2-2h0m.5 1.5h0m.5-1h0m.5 .5h0m.5 1.5h0m.5-2.5h0m.5 1.5h0m.5 .5h0m1-2h0m.5 .5h0m.5-.5h0m0 2h0m1.5 .5h0m.5-2h0m0 1h0m.5-1h0m0 .5h0m0 1h0m0 2h0m-.5-.5h0m-1.5-.5h0m-.5 2.5h0m-1 0h0m0-2.5h0m-1 2h0m0-.5h0m-.5-1.5h0m-1 2h0m-.5 0h0m0-.5h0m0-.5h0m-.5 1h0m0-1h0m-.5 1h0m-.5-1.5h0m-.5-.5h0m-.5 2.5h0m0-1.5h0m-.5-.5h0m0-.5h0m-.5 2.5h0m0-1h0m-.5-1h0m0-.5h0m-.5 2.5h0m0-1h0m0-.5h0m-.5 .5h0m0-.5h0m0-1h0m-.5 1h0m0-.5h0m-.5 .5h0m0-.5h0m-.5 1.5h0m0-1.5h0m-.5 2h0m0-.5h0m-.5 0h0m0-.5h0m-1 1h0m-1-1h0m-.5 1h0m0-2h0m-.5 .5h0m-.5 0h0m-.5 1.5h0m-.5-1h0m0-1h0m-1.5 2h0m0-.5h0m-.5 0h0m0-1h0m-.5 .5h0m0-1.5h0m-1 2h0m-1-.5h0m0 2.5h0m2 1h0m.5-2h0m.5 1.5h0m0 1h0m1-2.5h0m0 2.5h0m.5-2.5h0m0 .5h0m.5 2h0m.5-1.5h0m.5 .5h0m0 .5h0m.5 .5h0m.5-1h0m.5-.5h0m.5 .5h0m.5-1h0m0 2h0m.5-2h0m1 1h0m1 1h0m.5-2.5h0m0 .5h0m0 1h0m0 .5h0m0 .5h0m.5-2h0m0 2h0m.5-1h0m.5-1.5h0m0 .5h0m0 .5h0m.5 0h0m0 1h0m0 .5h0m.5-2h0m0 2h0m.5 0h0m.5-2h0m0 .5h0m1.5-1h0m0 2.5h0m.5-.5h0m1-2h0m0 .5h0m0 .5h0m.5 0h0m0 1h0m1-1.5h0m0 1h0m.5 .5h0m0 .5h0m.5-1h0m.5-1h0m0 1.5h0m.5 0h0m.5-2h0m0 2h0m1.5-2h0m0 2.5h0m-1 2.5h0m0-.5h0m0-1.5h0m-.5 .5h0m0-.5h0m-.5 2.5h0m0-.5h0m-.5-1h0m-.5 1h0m0-.5h0m0-1h0m-.5-.5h0m-1.5 2h0m0-.5h0m0-.5h0m0-1h0m-.5 .5h0m-.5 .5h0m0-.5h0m-.5 0h0m0-.5h0m-1 0h0m-.5 2h0m0-1.5h0m-.5-.5h0m-.5 1.5h0m-.5 1h0m0-.5h0m0-1h0m-.5 .5h0m0-1h0m-1.5 2h0m0-.5h0m-.5 0h0m-.5 .5h0m0-.5h0m0-1h0m-.5 .5h0m-.5 1h0m-.5-.5h0m0-.5h0m-.5 0h0m0-1h0m-1 2h0m-.5 0h0m0-1h0m-.5 0h0m0-.5h0m0-1h0m-.5 0h0m-.5 .5h0m0-.5h0m-1 1.5h0m-.5 .5h0m-.5-2h0m-1 1.5h0m0-1h0m-.5 1h0m0-.5h0m0-1h0m-.5 1.5h0m0-1.5h0m-.5 2.5h0m0-2h0m-.5 1.5h0m-.5 .5h0m0-2h0m0-.5h0m-.5 1h0m0-1h0m-.5 3h0m.5 .5h0m0 .5h0m.5 .5h0m1-1.5h0m0 1h0m0 .5h0m.5-1.5h0m.5 0h0m1 1h0m.5-.5h0m0 1.5h0m.5-1h0m0 1.5h0m2-1h0m0 .5h0m0 .5h0m.5-1h0m.5-1h0m.5 1h0m.5 1h0m.5 0h0m1-2.5h0m0 .5h0m.5-.5h0m0 1.5h0m.5-1.5h0m0 .5h0m.5 1.5h0m.5-2h0m.5 0h0m2 0h0m0 1.5h0m.5 0h0m0 .5h0m1-2h0m.5 0h0m0 2h0m1-1h0m0 .5h0m0 1h0m.5-2.5h0m0 2.5h0m.5-2.5h0m.5 .5h0m0 2h0m1-1.5h0m0 .5h0m.5-.5h0m1-1h0m0 1.5h0m.5-1.5h0m.5 1.5h0m0 .5h0m0 .5h0m1-2h0m0 3h0m-.5-.5h0m-.5 1h0m0-.5h0m-.5 2h0m0-2.5h0m-.5 1h0m0-1h0m-.5 2.5h0m-.5-1h0m-.5-1.5h0m-.5 2h0m0-.5h0m-1 1h0m-.5-.5h0m0-1h0m-.5 0h0m-1-1h0m-.5 2.5h0m0-.5h0m-.5 0h0m-.5 .5h0m0-.5h0m-.5 0h0m-.5-1h0m-.5 .5h0m0-1h0m-1 2h0m-.5 0h0m-.5-2.5h0m-.5 1.5h0m0-.5h0m0-1h0m-.5 1h0m-.5 1h0m0-1.5h0m-.5 1.5h0m0-1.5h0m0-.5h0m-1 2.5h0m-1 0h0m0-1h0m-.5 1h0m0-1h0m0-1.5h0m-.5 2.5h0m0-2h0m-.5 0h0m-1.5-.5h0m-1.5 2h0m-.5-1.5h0m0-.5h0m-.5 2h0m-.5 0h0m0-.5h0m-.5 .5h0m0-2h0m-.5 1h0m-.5 3h0m0 1.5h0m2-.5h0m0 .5h0m1-1.5h0m1-1h0m.5 .5h0m1 .5h0m0 .5h0m.5-1.5h0m.5 .5h0m0 1.5h0m0 .5h0m.5-2h0m0 1h0m0 .5h0m.5-1.5h0m0 1.5h0m0 .5h0m1.5-1h0m1.5-.5h0m0 .5h0m.5 0h0m.5-1.5h0m.5 0h0m0 2h0m1-.5h0m0 1h0m.5-1.5h0m0 1h0m.5-1.5h0m.5 2h0m.5-.5h0m.5-1h0m1 1h0m1 0h0m1 0h0m.5 0h0m.5 0h0m.5 0h0m.5 .5h0m1-2h0m1 1h0m1 .5h0m0 2h0m-.5-1h0m-.5 1.5h0m-1.5-.5h0m0-1h0m-.5 2.5h0m-.5 0h0m-.5-1h0m0-1.5h0m-.5 2h0m0-.5h0m-2 0h0m-1-.5h0m0-1h0m-1 2.5h0m0-2.5h0m-1.5 .5h0m-1 0h0m0-.5h0m-.5 2.5h0m-1-2h0m-.5 2h0m0-2.5h0m-.5 0h0m-.5 2.5h0m-1-2.5h0m-.5 .5h0m-.5 2h0m-.5 0h0m-1-1h0m0-.5h0m0-1h0m-1 2.5h0m-.5 0h0m-.5-.5h0m0-1h0m-1.5 0h0m-.5 0h0m0-1h0m-.5 2.5h0m0-2.5h0m-1.5 1h0m1 3h0m.5 1.5h0m.5-2h0m0 1h0m.5 1h0m1.5-2.5h0m.5 2.5h0m.5-2h0m1.5-.5h0m0 1h0m0 .5h0m0 1h0m.5-2.5h0m.5 2.5h0m2-.5h0m.5-.5h0m1-1.5h0m0 1.5h0m.5 0h0m.5-1h0m1.5 .5h0m1-.5h0m0 1.5h0m0 .5h0m1-1h0m0 .5h0m.5-1.5h0m.5 1.5h0m.5-2h0m0 2h0m2.5-1h0m0 1h0m.5 .5h0m1.5-1.5h0m0 1.5h0m1-1.5h0m0 1.5h0m.5-1h0m0 1h0m.5-1h0m0 1.5h0m-1 2h0m-1-.5h0m0-.5h0m-.5 1h0m0-1h0m-.5 0h0m0-.5h0m-.5 2h0m-1.5-1h0m-1 .5h0m0-.5h0m0-1.5h0m-.5 1.5h0m-1-1.5h0m-.5 1.5h0m-.5-.5h0m-2.5 0h0m0-1h0m-1 0h0m-.5 2.5h0m-4-1.5h0m-.5 .5h0m-.5-.5h0m-2 1.5h0m-1-.5h0m0-1.5h0m-2.5 .5h0m-.5 1h0m0-2h0m.5 5h0m2.5-2h0m0 2h0m.5-1.5h0m0 2h0m.5-.5h0m1.5 .5h0m2-2.5h0m0 2h0m.5-1.5h0m0 1h0m.5 0h0m1-1.5h0m.5 1.5h0m2.5 .5h0m1-1.5h0m0 1h0m.5-1.5h0m0 2.5h0m1-1.5h0m4.5-1h0m0 2.5h0m.5-1h0m1.5-1h0m.5-.5h0m0 1.5h0m.5 1h0m0 .5h0m-1 0h0m-1.5 0h0m-.5 .5h0m-.5 0h0m-1.5 .5h0m-.5 0h0m-.5-1h0m-1 1h0m0-1h0m-2 1.5h0m-.5 .5h0m0-2h0m-2.5 0h0m-2.5 1h0m-.5-.5h0m-1-.5h0m-2 .5h0m-.5 .5h0m-.5 0h0m-1 .5h0m-.5 0h0m-2 0h0m2.5 2.5h0m.5 0h0m1 1h0m3.5-1.5h0m5.5 1.5h0m0 .5h0m1-1h0m0 1h0m.5-1h0m2-1.5h0m2 2.5h0m.5-2h0m.5 2h0m1-2h0m0 1h0m1-.5h0m2-.5h0m-.5 5h0m-.5-.5h0m-4.5-1.5h0m-4.5 2h0m-1 0h0m-1-.5h0m0-1h0m-1-1h0m-2 1h0m-1 0h0m-8 1.5h0m15.5 1h0m4.5 0h0m1.5-.5h0m1.5 0h0" stroke="#ff0000" stroke-width="2.3" stroke-linecap="round" fill="none"/>
<line x1="561.3" y1="780.5" x2="561.3" y2="806" stroke="#0000ff" stroke-width="1.2"/>
<line x1="561.3" y1="823" x2="561.3" y2="848.5" stroke="#0000ff" stroke-width="1.2"/>
<rect x="538.7" y="806" width="45.1" height="17" fill="none" stroke="#0000ff" stroke-width="1.2"/>
<line x1="538.7" y1="814" x2="583.9" y2="814" stroke="#0000ff" stroke-width="1.6"/>
<path d="M569 766.5h0m3.5 5h0m-6.5 .5h0m-4 .5h0m0-1h0m-.5-.5h0m-4 5h0m3.5-1h0m5.5 .5h0m.5-.5h0m0 1h0m5-.5h0m-2 2.5h0m-1.5-.5h0m-3 1h0m-3.5-.5h0m-6.5 2.5h0m1.5 1.5h0m1-1h0m1.5 .5h0m1-1h0m2.5-.5h0m4 0h0m5.5 2.5h0m-2 2h0m-.5 1h0m-1-.5h0m-7-2h0m-1.5 1.5h0m-.5-1.5h0m-1 2h0m-1 .5h0m-.5-.5h0m-.5 0h0m-.5 0h0m-4.5-2h0m-1.5 1h0m-1 .5h0m.5 4h0m4-2.5h0m.5 2.5h0m2.5-2h0m1.5 1.5h0m.5-2h0m.5 .5h0m0 1h0m0 .5h0m1.5 0h0m1.5-.5h0m0 .5h0m.5-2h0m0 .5h0m.5 .5h0m1-1h0m1.5 2h0m2-1.5h0m.5 0h0m.5 1.5h0m1-2h0m0 1.5h0m.5 1h0m1-1h0m0 3h0m-1.5 0h0m-.5 .5h0m-.5 .5h0m0-2h0m-1 1.5h0m0-1.5h0m-1 .5h0m-1 0h0m-1.5 1h0m0-1h0m-.5 1.5h0m0-1h0m-1 .5h0m-.5-.5h0m-.5-.5h0m0-1h0m-1 2.5h0m0-.5h0m-1 0h0m-1 0h0m-.5-1.5h0m-1 1.5h0m-1-2h0m-.5 1.5h0m-.5 1h0m-1-2.5h0m-2.5 1.5h0m0-.5h0m-1.5 1.5h0m-.5 0h0m0-2.5h0m-.5 2.5h0m0-1h0m0 3.5h0m0 .5h0m1-1.5h0m0 1.5h0m.5-.5h0m1.5-.5h0m.5 1h0m.5 0h0m1-.5h0m0 .5h0m2 0h0m1-2.5h0m0 1.5h0m.5-1h0m1 .5h0m0 1.5h0m.5-2.5h0m0 1.5h0m1-1h0m.5 .5h0m.5 0h0m.5 0h0m0 1h0m.5-.5h0m1-.5h0m.5-1h0m0 1h0m1-1h0m.5 2.5h0m.5 0h0m1.5-2h0m.5 1h0m0 1h0m.5-2h0m0 1h0m0 1h0m.5-.5h0m.5-2h0m0 .5h0m0 1h0m0 .5h0m1-2h0m0 2h0m0 .5h0m.5-2h0m0 1h0m.5-1.5h0m0 2.5h0m2 2.5h0m0-1.5h0m-.5 .5h0m0-1h0m-.5 1h0m-.5 1.5h0m0-1h0m-.5 1h0m0-.5h0m0-1h0m-.5 0h0m0-1h0m-.5 1.5h0m0-1.5h0m-.5 2.5h0m0-2.5h0m-.5 1.5h0m0-1.5h0m-1 2.5h0m0-1.5h0m-.5 1.5h0m-.5-.5h0m0-2h0m-.5 2h0m-.5 0h0m0-1.5h0m-.5 0h0m-.5 0h0m-.5 1.5h0m0-1h0m0-1h0m-.5 1h0m-.5 .5h0m-.5 1h0m0-1h0m0-.5h0m-.5 1.5h0m0-2h0m-1 2h0m0-1h0m-.5 1h0m0-.5h0m0-1.5h0m-.5 2h0m-.5 0h0m-1 0h0m0-2h0m0-.5h0m-1 .5h0m0-.5h0m-.5 2.5h0m0-.5h0m0-.5h0m-.5 .5h0m-.5 0h0m-.5 .5h0m0-.5h0m-.5-.5h0m0-1.5h0m-.5 2h0m-.5-2h0m-1.5 .5h0m0-.5h0m-.5 2.5h0m0-1.5h0m-.5 0h0m-.5-1h0m-.5 1.5h0m-.5 .5h0m0-2h0m-.5 1.5h0m0-.5h0m0-.5h0m-.5 2h0m0-2.5h0m-.5 2h0m0-1h0m0 4.5h0m1-.5h0m.5-1.5h0m0 2h0m.5-2.5h0m0 2h0m.5-.5h0m.5-1h0m0 1.5h0m.5 0h0m0 .5h0m.5-1h0m.5 0h0m0 .5h0m.5-1.5h0m0 1h0m0 .5h0m0 .5h0m.5-2h0m0 .5h0m0 .5h0m0 1h0m.5-1.5h0m0 1h0m.5-2h0m0 1.5h0m0 .5h0m.5-.5h0m.5 0h0m0 .5h0m.5-2h0m0 2.5h0m.5-2.5h0m0 1.5h0m0 1h0m1.5-1h0m0 1h0m.5-2h0m0 1h0m.5-1.5h0m0 .5h0m0 1h0m.5-1.5h0m0 .5h0m0 1h0m.5 0h0m0 1h0m.5 0h0m.5-1h0m.5-.5h0m.5-1h0m0 .5h0m0 1h0m0 .5h0m.5-2h0m0 .5h0m0 1.5h0m.5-1.5h0m0 2h0m.5-1.5h0m0 1h0m.5-2h0m0 .5h0m0 1.5h0m.5-1.5h0m0 .5h0m0 1h0m.5-1.5h0m0 1h0m.5-1h0m0 1h0m0 1h0m1-1.5h0m0 .5h0m0 .5h0m.5-.5h0m0 .5h0m1-1h0m0 1.5h0m.5-1.5h0m0 .5h0m0 .5h0m.5-2h0m0 1.5h0m0 .5h0m0 .5h0m.5-1h0m0 .5h0m.5-1h0m0 .5h0m.5-1h0m0 1.5h0m0 .5h0m.5-2h0m0 1h0m.5-1.5h0m0 .5h0m0 .5h0m.5 4h0m-.5-2h0m-.5 2.5h0m0-2h0m-.5 1.5h0m0-1h0m0-.5h0m-.5 0h0m-.5 1.5h0m0-1h0m0-.5h0m-.5 1h0m0-.5h0m0-.5h0m0-.5h0m-1 1.5h0m-.5-.5h0m-.5 1.5h0m0-1h0m0-.5h0m0-1h0m-.5 1h0m0-1h0m-.5 2.5h0m0-1h0m0-1h0m0-.5h0m-.5 1.5h0m0-1.5h0m-.5 2h0m0-.5h0m0-.5h0m0-1h0m-.5 .5h0m-.5 1.5h0m0-.5h0m0-1h0m0-.5h0m-.5 2h0m-.5 .5h0m0-.5h0m0-1h0m-.5 1h0m0-.5h0m0-.5h0m-.5 1h0m0-1h0m0-1h0m-.5 2h0m-.5 .5h0m0-.5h0m0-1h0m-.5 1h0m0-.5h0m0-.5h0m-.5 .5h0m0-1.5h0m-.5 2h0m0-.5h0m0-.5h0m0-.5h0m-.5 1.5h0m0-.5h0m0-1.5h0m-.5 2.5h0m0-1.5h0m0-.5h0m-1 2h0m0-.5h0m-.5 .5h0m0-1.5h0m-.5 1.5h0m0-.5h0m0-.5h0m0-.5h0m0-1h0m-.5 2.5h0m0-.5h0m0-1h0m0-.5h0m-.5 2h0m0-.5h0m0-.5h0m0-.5h0m-.5 1.5h0m0-1h0m-.5 1h0m0-2h0m-1 1.5h0m0-1h0m-.5 0h0m-.5 1.5h0m0-1h0m0-.5h0m0-1h0m-.5 2.5h0m0-1h0m0-.5h0m-.5 0h0m-.5-.5h0m0-.5h0m-.5 0h0m-.5 2.5h0m0-1h0m0-.5h0m-.5 1.5h0m0-.5h0m0-.5h0m0-.5h0m0-1h0m-.5 2.5h0m0-.5h0m0-.5h0m-.5 1h0m-.5-1.5h0m0 2h0m0 2h0m.5-1.5h0m0 1h0m0 .5h0m.5-2h0m0 1h0m0 .5h0m0 .5h0m0 .5h0m.5-2h0m0 .5h0m.5-.5h0m0 .5h0m0 1h0m0 .5h0m.5-2h0m0 .5h0m0 .5h0m0 .5h0m.5-2h0m0 .5h0m0 .5h0m0 .5h0m0 .5h0m.5 .5h0m.5-2.5h0m0 2h0m0 .5h0m.5-2.5h0m0 .5h0m0 .5h0m0 1h0m0 .5h0m.5-2.5h0m0 .5h0m0 .5h0m0 .5h0m0 .5h0m.5-2h0m0 .5h0m0 .5h0m0 .5h0m0 .5h0m0 .5h0m.5-2h0m0 .5h0m1-.5h0m0 .5h0m0 1h0m.5-2h0m0 .5h0m0 .5h0m0 .5h0m0 .5h0m.5-2h0m0 1h0m0 .5h0m0 .5h0m0 .5h0m.5-2.5h0m0 1h0m0 .5h0m.5-1.5h0m0 .5h0m0 2h0m.5-2.5h0m0 .5h0m0 .5h0m0 .5h0m.5-1.5h0m0 .5h0m0 1h0m0 .5h0m.5-1.5h0m0 1h0m0 .5h0m0 .5h0m.5-2h0m0 .5h0m0 .5h0m0 .5h0m0 .5h0m.5-2.5h0m0 1.5h0m0 .5h0m0 .5h0m.5-2h0m0 2h0m.5-2.5h0m0 .5h0m0 .5h0m0 1h0m.5-1.5h0m0 1h0m0 .5h0m.5-1.5h0m0 .5h0m0 .5h0m0 .5h0m.5-1h0m0 .5h0m.5-.5h0m0 1h0m.5-2h0m0 .5h0m0 .5h0m0 .5h0m0 1h0m.5-1h0m0 .5h0m.5-2h0m0 2h0m.5 0h0m0 .5h0m.5-2h0m0 1h0m.5-1.5h0m0 .5h0m0 .5h0m0 1h0m.5-2h0m0 1.5h0m0 .5h0m0 .5h0m.5-2.5h0m0 .5h0m0 1h0m0 .5h0m.5-2h0m0 1h0m0 1.5h0m.5-1.5h0m0 .5h0m0 .5h0m.5-2h0m0 .5h0m0 2h0m.5-2h0m0 1.5h0m0 .5h0m.5-2.5h0m0 1h0m.5-1h0m0 .5h0m0 1h0m0 .5h0m.5-2h0m0 1h0m.5-.5h0m0 2h0m.5-2h0m0 .5h0m0 .5h0m0 .5h0m.5-1h0m0 1h0m0 3h0m0-1h0m0-1h0m-.5 1.5h0m-.5 .5h0m0-1h0m-.5 1h0m0-2h0m-.5 2.5h0m0-1h0m-.5 .5h0m0-.5h0m0-.5h0m-.5 1h0m0-.5h0m-.5 1h0m-.5-1h0m0-.5h0m0-.5h0m-.5 2h0m0-.5h0m0-1h0m-.5 0h0m0-1h0m-.5 .5h0m0-.5h0m-.5 1.5h0m0-.5h0m0-1h0m-.5 2.5h0m0-.5h0m0-.5h0m0-.5h0m0-.5h0m0-.5h0m-.5 1h0m-.5 1.5h0m0-1.5h0m0-1h0m-.5 .5h0m-.5 1h0m0-.5h0m0-.5h0m0-.5h0m-.5 1h0m0-1h0m-.5 2h0m0-1h0m0-.5h0m0-.5h0m-.5 2h0m0-.5h0m0-1.5h0m-.5 2h0m0-.5h0m0-1.5h0m-.5 2.5h0m0-.5h0m0-1.5h0m0-.5h0m-.5 2.5h0m0-.5h0m0-.5h0m0-1.5h0m-.5 2.5h0m0-1h0m-.5 .5h0m0-.5h0m0-1h0m-.5 0h0m0-.5h0m-.5 2h0m0-.5h0m0-1h0m0-.5h0m-.5 2.5h0m0-.5h0m0-1h0m0-.5h0m0-.5h0m-.5 1h0m-.5 1h0m0-.5h0m0-1h0m0-.5h0m-.5 2.5h0m0-.5h0m0-.5h0m0-.5h0m0-.5h0m-.5 1.5h0m0-.5h0m0-1.5h0m-.5 2.5h0m0-1h0m0-.5h0m-.5 1.5h0m0-.5h0m0-.5h0m-.5-.5h0m0-.5h0m0-.5h0m-.5 2h0m0-.5h0m0-1h0m0-.5h0m-.5 2.5h0m0-2h0m-.5 2h0m0-.5h0m0-.5h0m0-1h0m0-.5h0m-.5 2.5h0m0-.5h0m0-1.5h0m-.5 1h0m0-.5h0m0-.5h0m-.5 1h0m0-.5h0m-.5 1.5h0m0-.5h0m0-.5h0m0-.5h0m-.5-.5h0m0-.5h0m-.5 2h0m0-.5h0m0-.5h0m0-.5h0m0-.5h0m-.5 2.5h0m0-.5h0m0-1h0m0-.5h0m0-.5h0m-.5 2.5h0m0-1h0m-.5-.5h0m0-.5h0m0 3h0m.5-.5h0m0 2h0m0 .5h0m.5-1.5h0m0 .5h0m0 1h0m.5-2.5h0m0 .5h0m0 .5h0m0 1.5h0m.5-2h0m0 1.5h0m0 .5h0m.5-2.5h0m0 .5h0m0 1h0m0 .5h0m.5-2h0m0 1h0m0 .5h0m0 1h0m.5-2.5h0m0 .5h0m0 .5h0m0 .5h0m.5-1.5h0m0 1.5h0m0 .5h0m0 .5h0m.5-2.5h0m0 1h0m0 .5h0m0 .5h0m0 .5h0m.5-2.5h0m0 1h0m0 .5h0m0 .5h0m0 .5h0m.5-2.5h0m0 .5h0m0 1h0m0 .5h0m0 .5h0m.5-2h0m0 .5h0m0 .5h0m0 .5h0m.5-1.5h0m0 .5h0m0 .5h0m0 1h0m.5-2h0m0 .5h0m0 .5h0m0 .5h0m.5-1h0m.5-1h0m0 2h0m0 .5h0m.5-2.5h0m0 .5h0m0 .5h0m0 1h0m0 .5h0m.5-2.5h0m0 .5h0m0 1h0m0 .5h0m0 .5h0m.5-2h0m0 1h0m0 .5h0m0 .5h0m.5-2.5h0m0 .5h0m0 .5h0m0 .5h0m0 1h0m.5-2.5h0m0 1.5h0m0 .5h0m0 .5h0m.5-1.5h0m0 .5h0m0 .5h0m.5-2h0m0 .5h0m.5-.5h0m0 .5h0m0 1.5h0m.5-2h0m0 .5h0m0 .5h0m0 1h0m0 .5h0m.5-2h0m0 1.5h0m0 .5h0m.5-1.5h0m0 .5h0m0 1h0m.5-2h0m0 .5h0m0 .5h0m0 1h0m.5-2.5h0m0 .5h0m.5 0h0m0 .5h0m0 1h0m0 .5h0m.5-2.5h0m0 1h0m0 .5h0m0 .5h0m0 .5h0m.5-2.5h0m0 1.5h0m.5-.5h0m0 1h0m0 .5h0m.5-2.5h0m0 1.5h0m0 .5h0m0 .5h0m.5-2.5h0m0 1.5h0m.5-1.5h0m0 1h0m.5 .5h0m0 .5h0m0 .5h0m.5-2h0m0 .5h0m.5-.5h0m0 .5h0m0 1h0m0 .5h0m.5-2.5h0m0 .5h0m0 .5h0m0 .5h0m0 .5h0m.5-2h0m0 1h0m0 .5h0m0 .5h0m0 .5h0m.5-2h0m0 .5h0m0 .5h0m0 .5h0m.5-2h0m0 .5h0m0 1h0m0 .5h0m0 .5h0m.5-1h0m0 .5h0m0 .5h0m.5-2h0m0 .5h0m0 .5h0m.5-1.5h0m0 .5h0m0 .5h0m0 .5h0m0 1h0m.5-2.5h0m0 .5h0m0 .5h0m0 1h0m0 .5h0m.5-2h0m0 4.5h0m-.5-1h0m-.5 1h0m0-.5h0m0-1h0m-.5 1.5h0m-.5 0h0m0-.5h0m0-1h0m0-.5h0m-.5 2.5h0m0-.5h0m0-.5h0m0-.5h0m-.5 1h0m0-1h0m-.5 1.5h0m0-.5h0m0-1h0m0-.5h0m-.5 1.5h0m0-.5h0m0-.5h0m0-.5h0m-.5 1.5h0m0-1h0m0-.5h0m0-.5h0m-.5 2.5h0m0-1h0m0-.5h0m0-1h0m-.5 2.5h0m0-.5h0m0-.5h0m0-.5h0m0-.5h0m0-.5h0m-.5 2.5h0m0-.5h0m0-1h0m0-.5h0m-.5 1.5h0m0-.5h0m0-1h0m0-.5h0m-.5 1.5h0m0-1h0m0-.5h0m-.5 2.5h0m0-1h0m-.5 1h0m0-.5h0m-.5-1h0m0-1h0m-.5 1.5h0m0-1h0m-.5 2h0m0-.5h0m0-.5h0m0-1h0m0-.5h0m-.5 1.5h0m0-.5h0m0-1h0m-.5 2h0m0-1h0m-.5 1h0m0-1h0m0-.5h0m0-.5h0m-.5 2h0m0-1h0m0-1h0m-.5 2.5h0m0-1.5h0m0-.5h0m-.5 2h0m0-1h0m0-1.5h0m-.5 2h0m0-.5h0m0-.5h0m0-1h0m-.5 2.5h0m0-1h0m0-1h0m0-.5h0m-.5 2.5h0m0-.5h0m0-1h0m-.5 0h0m0-.5h0m-.5 1h0m0-.5h0m0-1h0m-.5 2h0m0-1.5h0m-.5 2h0m0-1h0m0-1.5h0m-.5 2.5h0m0-1.5h0m-.5 1.5h0m0-1h0m0-.5h0m-.5 1.5h0m0-.5h0m0-1h0m0-1h0m-.5 2.5h0m0-.5h0m0-.5h0m0-.5h0m0-.5h0m0-.5h0m-.5 1h0m0-.5h0m-.5 2h0m0-1h0m0-.5h0m0-1h0m-.5 2h0m-.5 .5h0m0-.5h0m0-1h0m0-1h0m-.5 2.5h0m0-2h0m0-.5h0m-.5 1.5h0m0-.5h0m-.5 1h0m0-.5h0m0-.5h0m0-1h0m-.5 2h0m0-.5h0m0-.5h0m0-.5h0m-.5 .5h0m0-1h0m-.5 2.5h0m0-.5h0m0-.5h0m0-.5h0m0-.5h0m0-.5h0m-.5 2h0m0-1.5h0m0-.5h0m-.5 2.5h0m0-.5h0m0-1h0m0-1h0m0 3h0m0 .5h0m0 .5h0m0 1h0m0 .5h0m.5-2h0m0 .5h0m0 1h0m0 .5h0m.5-2.5h0m0 .5h0m0 .5h0m0 1h0m.5-2h0m0 1.5h0m0 .5h0m0 .5h0m.5-2h0m0 .5h0m0 .5h0m0 .5h0m0 .5h0m.5-2h0m.5-.5h0m0 .5h0m0 .5h0m0 .5h0m0 1h0m.5-2.5h0m.5 1h0m0 1h0m0 .5h0m.5-2h0m0 1h0m.5-1.5h0m0 .5h0m0 .5h0m0 1h0m0 .5h0m.5-2.5h0m0 .5h0m0 .5h0m0 1h0m.5-.5h0m0 .5h0m.5-1.5h0m0 .5h0m0 .5h0m0 .5h0m0 .5h0m.5-2h0m0 1h0m0 1h0m.5-2h0m0 .5h0m0 .5h0m0 1h0m.5-2.5h0m0 1h0m0 1h0m.5-.5h0m0 .5h0m0 .5h0m.5-2.5h0m0 1h0m0 .5h0m0 .5h0m.5-1.5h0m0 .5h0m0 1.5h0m.5-2.5h0m0 .5h0m0 .5h0m0 .5h0m0 .5h0m.5-2h0m0 1h0m0 1h0m.5-2h0m0 1.5h0m0 .5h0m0 .5h0m.5-2h0m0 1.5h0m0 .5h0m.5-2.5h0m0 1h0m0 1h0m0 .5h0m.5-2.5h0m0 .5h0m0 .5h0m0 .5h0m0 1h0m.5-1.5h0m0 .5h0m0 1h0m.5-2h0m0 .5h0m0 1.5h0m.5-2h0m0 1.5h0m.5-1.5h0m0 1h0m.5-1h0m0 .5h0m0 1h0m.5-1.5h0m0 1.5h0m0 .5h0m.5-2.5h0m0 .5h0m.5-.5h0m0 .5h0m0 .5h0m0 1.5h0m.5-2.5h0m0 .5h0m0 1.5h0m0 .5h0m.5-2.5h0m0 .5h0m0 .5h0m0 .5h0m0 .5h0m0 .5h0m.5-2.5h0m0 .5h0m0 1.5h0m0 .5h0m.5-1.5h0m0 1h0m0 .5h0m.5-1h0m0 1h0m.5-2.5h0m0 2h0m.5 0h0m.5-2h0m0 1h0m0 1h0m.5-1.5h0m0 .5h0m0 1h0m0 .5h0m.5-2.5h0m0 .5h0m0 .5h0m0 .5h0m0 .5h0m.5-2h0m0 2h0m.5-1.5h0m0 .5h0m0 .5h0m0 1h0m.5-1h0m0 .5h0m.5-1.5h0m0 .5h0m0 1.5h0m.5 1h0m-.5 .5h0m0-.5h0m-.5 2h0m0-1h0m0-.5h0m-.5 .5h0m0-.5h0m0-1h0m-.5 2h0m0-.5h0m0-.5h0m0-.5h0m0-.5h0m-.5 0h0m-.5 2.5h0m0-.5h0m0-1.5h0m-.5 2h0m0-1.5h0m-.5 1h0m0-.5h0m-.5 1h0m0-.5h0m0-1.5h0m-.5 1h0m-.5 1h0m0-.5h0m0-2h0m-.5 1h0m0-.5h0m0-.5h0m-.5 2h0m0-.5h0m0-.5h0m0-.5h0m0-.5h0m-.5 2h0m0-.5h0m0-.5h0m0-1h0m-.5 2h0m-.5 0h0m0-.5h0m0-1.5h0m-.5 2h0m0-1h0m0-1h0m-.5 2h0m0-.5h0m0-.5h0m0-1h0m-.5 2h0m0-.5h0m0-1h0m-.5 2h0m0-.5h0m0-.5h0m-.5 1h0m0-1.5h0m0-.5h0m-.5 1.5h0m0-.5h0m0-1h0m0-.5h0m-.5 .5h0m0-.5h0m-.5 2.5h0m0-1.5h0m0-.5h0m-.5 1h0m0-.5h0m0-.5h0m-.5 1h0m-.5 1h0m0-.5h0m0-1h0m0-.5h0m0-.5h0m-.5 1.5h0m0-1h0m0-.5h0m-.5 2.5h0m0-.5h0m0-.5h0m0-.5h0m0-.5h0m0-.5h0m-.5 2h0m0-1h0m0-.5h0m-.5 1.5h0m0-.5h0m0-1h0m0-.5h0m-.5 2.5h0m0-1h0m0-.5h0m0-.5h0m-.5 2h0m0-.5h0m0-.5h0m0-1.5h0m-.5 2.5h0m0-1h0m-.5 0h0m0-1h0m0-.5h0m-.5 2.5h0m0-1h0m0-.5h0m0-1h0m-1 2.5h0m0-2h0m0-.5h0m-.5 1h0m-.5 1h0m0-.5h0m0-.5h0m-.5 1h0m0-1h0m0-1h0m-.5 2.5h0m0-.5h0m0-.5h0m0-.5h0m0-1h0m-.5 2.5h0m0-1h0m0-.5h0m0-.5h0m0-.5h0m-.5 2.5h0m0-1.5h0m0-.5h0m-.5 1.5h0m0-1h0m0-.5h0m-.5 2h0m0-1.5h0m0-.5h0m0-.5h0m-.5 2.5h0m0-.5h0m0-2h0m-.5 2.5h0m0-.5h0m0-.5h0m0-1.5h0m0 3.5h0m0 1h0m0 .5h0m0 .5h0m.5-2.5h0m0 .5h0m0 1h0m0 .5h0m.5-2h0m0 .5h0m0 1h0m0 .5h0m0 .5h0m.5-2h0m0 1.5h0m.5-1.5h0m0 .5h0m0 .5h0m0 .5h0m.5-1.5h0m0 2h0m.5-2.5h0m0 .5h0m0 1h0m0 1h0m.5-2h0m0 .5h0m0 1h0m0 .5h0m.5-2.5h0m0 2h0m0 .5h0m.5-2.5h0m0 1h0m0 1.5h0m.5-1.5h0m0 1.5h0m.5-1.5h0m0 1h0m.5-2h0m0 1h0m0 .5h0m0 .5h0m.5-2h0m.5 1.5h0m0 1h0m.5-1.5h0m.5-.5h0m0 1h0m0 .5h0m.5-2h0m0 .5h0m0 1.5h0m.5 0h0m.5-2h0m0 2.5h0m.5-2.5h0m0 2h0m.5-2h0m0 .5h0m0 1.5h0m.5-2h0m0 .5h0m0 .5h0m0 1.5h0m.5-1.5h0m0 1h0m.5-2h0m0 .5h0m0 1h0m0 .5h0m.5-2h0m0 .5h0m0 .5h0m.5 0h0m0 .5h0m0 .5h0m0 .5h0m.5-2.5h0m0 .5h0m0 .5h0m.5-.5h0m0 1.5h0m0 .5h0m.5-2h0m.5 0h0m0 .5h0m0 1h0m.5-1.5h0m0 1h0m0 1h0m.5 0h0m.5-2h0m.5 0h0m0 1h0m0 .5h0m.5-.5h0m0 .5h0m.5-2h0m0 1h0m.5-.5h0m0 .5h0m0 .5h0m0 .5h0m0 .5h0m.5-2h0m0 1h0m.5-1h0m0 2h0m.5-1h0m0 .5h0m0 .5h0m.5-.5h0m0 .5h0m.5-2h0m0 .5h0m0 .5h0m.5-1h0m0 1.5h0m0 .5h0m.5-2.5h0m0 .5h0m0 .5h0m0 1h0m.5-2h0m0 1h0m0 .5h0m0 1h0m.5-2h0m0 .5h0m.5-1h0m0 .5h0m0 1h0m0 .5h0m0 .5h0m.5-.5h0m0 1.5h0m-.5 2h0m0-1.5h0m0-.5h0m0-.5h0m-.5 1h0m0-1h0m-.5 2h0m-.5-1.5h0m0-.5h0m-.5 2.5h0m0-2h0m-.5 2h0m0-2.5h0m-.5 2.5h0m0-.5h0m0-1h0m-.5 1.5h0m0-1h0m0-1.5h0m-.5 2h0m0-2h0m-.5 2.5h0m0-.5h0m0-.5h0m0-1h0m-1 2h0m0-1.5h0m-.5 .5h0m0-1.5h0m-.5 2.5h0m0-.5h0m0-.5h0m0-.5h0m0-.5h0m0-.5h0m-.5 2.5h0m0-1.5h0m0-1h0m-.5 2.5h0m0-2h0m0-.5h0m-.5 2h0m-.5 0h0m0-1.5h0m-.5 2h0m0-2h0m-.5 0h0m0-.5h0m-.5 1.5h0m0-1.5h0m-.5 2h0m0-.5h0m0-1h0m0-.5h0m-.5 2.5h0m0-.5h0m0-1.5h0m-.5 1.5h0m-.5 0h0m0-.5h0m0-.5h0m0-1h0m-.5 1h0m0-.5h0m0-.5h0m-.5 2h0m-.5 .5h0m-.5-.5h0m-.5 .5h0m0-1.5h0m0-1h0m-.5 2.5h0m0-2h0m-.5 1.5h0m0-1.5h0m-.5 2h0m-.5-.5h0m0-1.5h0m-.5 0h0m0-.5h0m-.5 1.5h0m0-1h0m-.5 2h0m0-1h0m0-.5h0m0-.5h0m0-.5h0m-.5 2.5h0m0-1.5h0m0-.5h0m-.5 0h0m0-.5h0m-.5 2h0m0-2h0m-.5 1.5h0m0-.5h0m0-.5h0m-.5 1.5h0m0-.5h0m0-.5h0m0-1h0m-.5 1h0m0-1h0m-.5 2.5h0m0-1h0m0-1h0m-.5 1h0m0-.5h0m0-1h0m-.5 2.5h0m-.5-.5h0m0-1.5h0m0-.5h0m-.5 1.5h0m0-1h0m0 3h0m0 .5h0m1-1h0m0 .5h0m0 1h0m0 .5h0m.5-1.5h0m0 2h0m.5-.5h0m0 .5h0m1-.5h0m0 .5h0m.5-1.5h0m.5-.5h0m0 1.5h0m.5-2h0m0 .5h0m0 1h0m0 .5h0m.5-2h0m.5 .5h0m0 1.5h0m.5-2h0m0 2h0m.5-.5h0m.5-1h0m0 .5h0m0 .5h0m.5-.5h0m0 1.5h0m.5-2.5h0m0 1h0m0 .5h0m0 .5h0m.5-2h0m0 2.5h0m.5-1h0m1 0h0m0 .5h0m.5-2h0m0 .5h0m.5-.5h0m0 .5h0m0 .5h0m.5-1h0m0 1h0m0 .5h0m.5-1h0m0 2h0m.5-1.5h0m0 1h0m0 .5h0m.5-.5h0m.5-2h0m0 .5h0m0 2h0m.5-2h0m0 .5h0m0 1.5h0m.5-.5h0m.5-1h0m.5 1.5h0m.5-1.5h0m.5-.5h0m0 2h0m1-2h0m0 2h0m.5-2h0m.5 1h0m0 1h0m.5-1h0m0 1h0m.5-2h0m0 .5h0m0 .5h0m0 1h0m.5-1h0m.5-1h0m0 .5h0m0 1h0m.5-.5h0m0 1h0m1-2.5h0m0 .5h0m0 1.5h0m.5-1.5h0m0 .5h0m0 .5h0m.5-1h0m0 1h0m.5-.5h0m0 1.5h0m.5 2h0m-1 0h0m0-1h0m0-.5h0m-.5 2h0m0-1h0m-.5 1h0m0-.5h0m0-1.5h0m-.5 0h0m-.5 2.5h0m-.5 0h0m0-1h0m0-1h0m0-.5h0m-1 2h0m0-.5h0m0-.5h0m0-1h0m-.5 2h0m0-.5h0m0-.5h0m0-.5h0m-.5 1.5h0m0-1.5h0m0-.5h0m-.5 1.5h0m-.5 .5h0m0-2h0m-.5 2.5h0m0-.5h0m0-2h0m-.5 1.5h0m0-1h0m0-.5h0m-.5 1.5h0m0-.5h0m-.5-1h0m-.5 2h0m-.5 0h0m0-.5h0m-.5 0h0m0-.5h0m-.5 0h0m0-.5h0m-.5 1h0m0-1h0m-.5 .5h0m-1 1h0m0-1h0m0-.5h0m-.5 1h0m0-.5h0m0-.5h0m-2 1h0m-.5 1h0m0-1.5h0m-.5-.5h0m0-.5h0m-.5 2h0m0-1h0m-.5 1h0m0-1h0m-.5 0h0m-1 1h0m0-.5h0m-.5-1h0m-.5 1.5h0m0-.5h0m0-1h0m-.5-.5h0m-.5 1h0m0-.5h0m0-.5h0m-.5 1.5h0m0-.5h0m-.5 .5h0m0-1h0m-.5 1h0m0-1h0m-.5 1.5h0m-1-1.5h0m-.5 .5h0m0-1h0m0 4.5h0m.5 1h0m.5-1.5h0m0 .5h0m0 .5h0m.5-.5h0m1-1h0m0 2h0m.5-1h0m.5-1h0m0 1.5h0m.5-2h0m0 2h0m1 .5h0m.5-1h0m.5-1.5h0m1 0h0m.5 0h0m1 2h0m1-1h0m0 .5h0m.5-1.5h0m0 .5h0m.5 .5h0m0 1.5h0m.5-2.5h0m.5 .5h0m.5 1.5h0m1-1.5h0m0 2h0m.5-2.5h0m.5 1.5h0m0 .5h0m.5-2h0m.5 0h0m.5 1h0m.5-.5h0m0 .5h0m0 1h0m.5-.5h0m0 1h0m.5-2.5h0m0 .5h0m0 .5h0m.5-1h0m1 0h0m0 2h0m0 .5h0m.5-.5h0m.5-2h0m0 1.5h0m0 1h0m1.5-2h0m0 2h0m1.5-1.5h0m.5-.5h0m0 1.5h0m.5 2.5h0m0-1h0m-.5 .5h0m0-.5h0m0-.5h0m-1 .5h0m-1 0h0m-1.5 1.5h0m-.5-2h0m-2 2.5h0m-.5 0h0m-.5-1.5h0m-.5 .5h0m0-1h0m-.5 0h0m-1 1.5h0m-.5 .5h0m0-.5h0m-1 0h0m0-2h0m-.5 2h0m-.5 0h0m-.5-.5h0m0-.5h0m-.5-1h0m-1 0h0m-1 2.5h0m0-1h0m-1-1.5h0m-.5 2h0m-2 .5h0m-.5 0h0m0-1h0m-.5 1h0m-2.5 0h0m-1.5-.5h0m0-1h0m0 3.5h0m1-1.5h0m1 0h0m0 1h0m.5-.5h0m1 0h0m0 1.5h0m.5 0h0m.5-1h0m0 1h0m1.5-2h0m.5 1.5h0m.5 0h0m1-1.5h0m1 .5h0m1 0h0m0 1.5h0m.5-1h0m.5 .5h0m.5-1h0m.5 1.5h0m1-.5h0m.5 1h0m1 0h0m1-1h0m1 0h0m0 .5h0m.5-2h0m0 .5h0m1.5 1h0m.5 .5h0m.5-1h0m2.5-1h0m.5 .5h0m1 .5h0m0 1.5h0m-1 1.5h0m-.5-1h0m-2.5 2h0m-3-1.5h0m-5.5 2h0m-4.5 0h0m-1.5 0h0m-.5-2.5h0m-1 0h0m-1.5 1h0m-1 0h0m-.5 1.5h0m1.5 2.5h0m1-1h0m6-.5h0m2.5 0h0m1.5 0h0m4 1.5h0m.5 0h0m5.5-2h0m-4.5 5h0m-17.5-.5h0m-1 3.5h0m4 0h0m8.5-2h0m6 1h0m3.5 1.5h0" stroke="#0000ff" stroke-width="2.3" stroke-linecap="round" fill="none"/>
<rect x="465" y="733.7" width="132.4" height="125.3" fill="none" stroke="#cfcfcf" stroke-width="0.9"/>
<line x1="462.5" y1="845.5" x2="465" y2="845.5" stroke="#999" stroke-width="0.8"/>
<text x="461.4" y="850.8" font-size="10.5" text-anchor="end" fill="#111">−1</text>
<line x1="462.5" y1="822.2" x2="465" y2="822.2" stroke="#999" stroke-width="0.8"/>
<text x="461.4" y="827.5" font-size="10.5" text-anchor="end" fill="#111">0</text>
<line x1="462.5" y1="798.9" x2="465" y2="798.9" stroke="#999" stroke-width="0.8"/>
<text x="461.4" y="804.2" font-size="10.5" text-anchor="end" fill="#111">1</text>
<line x1="462.5" y1="775.6" x2="465" y2="775.6" stroke="#999" stroke-width="0.8"/>
<text x="461.4" y="780.9" font-size="10.5" text-anchor="end" fill="#111">2</text>
<line x1="462.5" y1="752.3" x2="465" y2="752.3" stroke="#999" stroke-width="0.8"/>
<text x="461.4" y="757.6" font-size="10.5" text-anchor="end" fill="#111">3</text>
<line x1="501.1" y1="859" x2="501.1" y2="861.7" stroke="#999" stroke-width="0.8"/>
<text x="500.6" y="872.6" font-size="11.6" text-anchor="middle" fill="#111">1-3</text>
<text x="500.1" y="883.5" font-size="11.8" text-anchor="middle" fill="#111">months</text>
<line x1="561.3" y1="859" x2="561.3" y2="861.7" stroke="#999" stroke-width="0.8"/>
<text x="560.4" y="872.6" font-size="11.6" text-anchor="middle" fill="#111">3-4</text>
<text x="559.1" y="883.5" font-size="11.8" text-anchor="middle" fill="#111">years</text>
<path d="M501.1 765.8V761H561.3V765.8" stroke="#333" stroke-width="1" fill="none"/>
<text x="531.5" y="756.7" font-size="12.2" text-anchor="middle" fill="#111">****p=1.43e−23</text>
<text x="533.3" y="728.7" font-size="14.8" text-anchor="middle" fill="#111">Activation</text></svg>
</body></html>
